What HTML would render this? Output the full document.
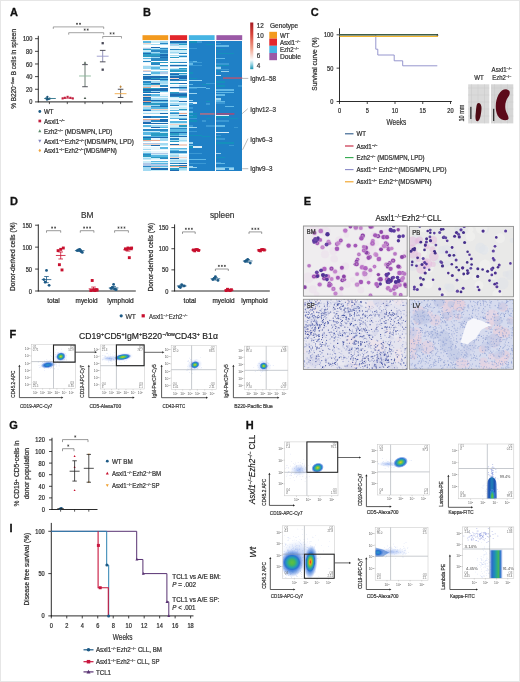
<!DOCTYPE html>
<html><head><meta charset="utf-8"><style>
html,body{margin:0;padding:0;background:#fff;}
svg{display:block;font-family:"Liberation Sans", sans-serif;will-change:transform;}
</style></head><body>
<svg width="520" height="682" viewBox="0 0 520 682" font-family='"Liberation Sans", sans-serif'>
<rect x="0" y="0" width="520" height="682" fill="#ffffff"/>
<text x="10.00" y="15.80" font-size="11.0" fill="#111" stroke="#111" stroke-width="0.28" font-weight="bold">A</text>
<line x1="38.30" y1="35.80" x2="38.30" y2="102.30" stroke="#141414" stroke-width="0.9"/>
<line x1="37.90" y1="101.90" x2="132.70" y2="101.90" stroke="#141414" stroke-width="0.95"/>
<line x1="35.00" y1="101.90" x2="38.30" y2="101.90" stroke="#141414" stroke-width="0.8"/>
<text x="32.40" y="104.47" font-size="6.3" text-anchor="end" fill="#2e2e2e" stroke="#2e2e2e" stroke-width="0.22" textLength="3.15" lengthAdjust="spacingAndGlyphs">0</text>
<line x1="35.00" y1="89.26" x2="38.30" y2="89.26" stroke="#141414" stroke-width="0.8"/>
<text x="32.40" y="91.83" font-size="6.3" text-anchor="end" fill="#2e2e2e" stroke="#2e2e2e" stroke-width="0.22" textLength="6.30" lengthAdjust="spacingAndGlyphs">20</text>
<line x1="35.00" y1="76.62" x2="38.30" y2="76.62" stroke="#141414" stroke-width="0.8"/>
<text x="32.40" y="79.19" font-size="6.3" text-anchor="end" fill="#2e2e2e" stroke="#2e2e2e" stroke-width="0.22" textLength="6.30" lengthAdjust="spacingAndGlyphs">40</text>
<line x1="35.00" y1="63.98" x2="38.30" y2="63.98" stroke="#141414" stroke-width="0.8"/>
<text x="32.40" y="66.55" font-size="6.3" text-anchor="end" fill="#2e2e2e" stroke="#2e2e2e" stroke-width="0.22" textLength="6.30" lengthAdjust="spacingAndGlyphs">60</text>
<line x1="35.00" y1="51.34" x2="38.30" y2="51.34" stroke="#141414" stroke-width="0.8"/>
<text x="32.40" y="53.91" font-size="6.3" text-anchor="end" fill="#2e2e2e" stroke="#2e2e2e" stroke-width="0.22" textLength="6.30" lengthAdjust="spacingAndGlyphs">80</text>
<line x1="35.00" y1="38.70" x2="38.30" y2="38.70" stroke="#141414" stroke-width="0.8"/>
<text x="32.40" y="41.27" font-size="6.3" text-anchor="end" fill="#2e2e2e" stroke="#2e2e2e" stroke-width="0.22" textLength="9.45" lengthAdjust="spacingAndGlyphs">100</text>
<line x1="49.40" y1="101.90" x2="49.40" y2="104.10" stroke="#141414" stroke-width="0.7"/>
<line x1="67.30" y1="101.90" x2="67.30" y2="104.10" stroke="#141414" stroke-width="0.7"/>
<line x1="85.00" y1="101.90" x2="85.00" y2="104.10" stroke="#141414" stroke-width="0.7"/>
<line x1="102.70" y1="101.90" x2="102.70" y2="104.10" stroke="#141414" stroke-width="0.7"/>
<line x1="120.60" y1="101.90" x2="120.60" y2="104.10" stroke="#141414" stroke-width="0.7"/>
<text x="16.40" y="68.90" font-size="6.7" text-anchor="middle" fill="#2e2e2e" stroke="#2e2e2e" stroke-width="0.22" textLength="79.80" lengthAdjust="spacingAndGlyphs" transform="rotate(-90 16.40 68.90)">% B220<tspan font-size="62%" baseline-shift="super">−/low</tspan> B cells in spleen</text>
<circle cx="46.2" cy="98.4" r="1.1" fill="#1e5b84"/>
<circle cx="47.4" cy="96.8" r="1.1" fill="#1e5b84"/>
<circle cx="48.6" cy="99.1" r="1.1" fill="#1e5b84"/>
<circle cx="47.0" cy="99.7" r="1.1" fill="#1e5b84"/>
<circle cx="49.6" cy="98.7" r="1.1" fill="#1e5b84"/>
<line x1="44.20" y1="98.49" x2="55.80" y2="98.49" stroke="#2a7088" stroke-width="0.9"/>
<line x1="47.40" y1="99.69" x2="47.40" y2="96.53" stroke="#1a4a6a" stroke-width="0.8"/>
<rect x="61.55" y="97.37" width="2.10" height="2.10" fill="#c3203f"/>
<rect x="63.75" y="96.74" width="2.10" height="2.10" fill="#c3203f"/>
<rect x="66.55" y="95.79" width="2.10" height="2.10" fill="#c3203f"/>
<rect x="69.35" y="96.74" width="2.10" height="2.10" fill="#c3203f"/>
<rect x="71.75" y="97.37" width="2.10" height="2.10" fill="#c3203f"/>
<line x1="62.00" y1="98.23" x2="73.00" y2="98.23" stroke="#c3203f" stroke-width="0.8"/>
<path d="M85.00,61.28 L86.32,63.69 L83.68,63.69Z" fill="#4a5a50"/>
<path d="M85.00,96.67 L86.32,99.09 L83.68,99.09Z" fill="#4a5a50"/>
<line x1="85.00" y1="86.73" x2="85.00" y2="64.61" stroke="#4a5a50" stroke-width="0.8"/>
<line x1="82.20" y1="86.73" x2="87.80" y2="86.73" stroke="#3e3e48" stroke-width="0.9"/>
<line x1="82.20" y1="64.61" x2="87.80" y2="64.61" stroke="#3e3e48" stroke-width="0.9"/>
<line x1="79.10" y1="75.99" x2="90.90" y2="75.99" stroke="#8ab89a" stroke-width="0.9"/>
<rect x="101.55" y="42.04" width="2.30" height="2.30" fill="#4a4a58"/>
<rect x="101.55" y="68.52" width="2.30" height="2.30" fill="#4a4a58"/>
<line x1="102.70" y1="61.83" x2="102.70" y2="50.39" stroke="#7a7aa8" stroke-width="0.8"/>
<line x1="99.90" y1="61.83" x2="105.50" y2="61.83" stroke="#3e3e48" stroke-width="0.9"/>
<line x1="99.90" y1="50.39" x2="105.50" y2="50.39" stroke="#3e3e48" stroke-width="0.9"/>
<line x1="96.80" y1="56.21" x2="108.60" y2="56.21" stroke="#9a9acc" stroke-width="0.9"/>
<path d="M120.60,85.18 L121.75,86.73 L120.60,88.28 L119.45,86.73Z" fill="#c08a40"/>
<line x1="120.60" y1="97.48" x2="120.60" y2="89.26" stroke="#4a4a4a" stroke-width="0.8"/>
<line x1="117.80" y1="97.48" x2="123.40" y2="97.48" stroke="#3e3e48" stroke-width="0.9"/>
<line x1="117.80" y1="89.26" x2="123.40" y2="89.26" stroke="#3e3e48" stroke-width="0.9"/>
<line x1="114.70" y1="93.68" x2="126.50" y2="93.68" stroke="#f0a848" stroke-width="0.9"/>
<path d="M53.30,28.90 L53.30,26.90 L103.70,26.90 L103.70,28.90" stroke="#666" stroke-width="0.6" fill="none"/>
<path d="M77.00,22.75L77.00,24.85M76.09,23.27L77.91,24.32M76.09,24.32L77.91,23.27M80.00,22.75L80.00,24.85M79.09,23.27L80.91,24.32M79.09,24.32L80.91,23.27" stroke="#3a3a3a" stroke-width="0.65" fill="none"/>
<path d="M68.70,34.70 L68.70,32.70 L103.70,32.70 L103.70,34.70" stroke="#666" stroke-width="0.6" fill="none"/>
<path d="M84.70,28.55L84.70,30.65M83.79,29.08L85.61,30.12M83.79,30.12L85.61,29.08M87.70,28.55L87.70,30.65M86.79,29.08L88.61,30.12M86.79,30.12L88.61,29.08" stroke="#3a3a3a" stroke-width="0.65" fill="none"/>
<path d="M102.70,38.50 L102.70,36.50 L121.50,36.50 L121.50,38.50" stroke="#666" stroke-width="0.6" fill="none"/>
<path d="M110.60,32.35L110.60,34.45M109.69,32.88L111.51,33.92M109.69,33.92L111.51,32.88M113.60,32.35L113.60,34.45M112.69,32.88L114.51,33.92M112.69,33.92L114.51,32.88" stroke="#3a3a3a" stroke-width="0.65" fill="none"/>
<circle cx="39.8" cy="111.5" r="1.4" fill="#1e5b84"/>
<text x="43.90" y="114.14" font-size="6.5" fill="#2e2e2e" stroke="#2e2e2e" stroke-width="0.22" textLength="9.50" lengthAdjust="spacingAndGlyphs">WT</text>
<rect x="38.45" y="119.65" width="2.70" height="2.70" fill="#c3203f"/>
<text x="43.90" y="123.64" font-size="6.5" fill="#2e2e2e" stroke="#2e2e2e" stroke-width="0.22" textLength="21.00" lengthAdjust="spacingAndGlyphs">Asxl1<tspan font-size="62%" baseline-shift="super">−/−</tspan></text>
<path d="M39.80,129.31 L41.35,132.15 L38.25,132.15Z" fill="#5b8a6a"/>
<text x="43.90" y="133.64" font-size="6.5" fill="#2e2e2e" stroke="#2e2e2e" stroke-width="0.22" textLength="68.50" lengthAdjust="spacingAndGlyphs">Ezh2<tspan font-size="62%" baseline-shift="super">−/−</tspan> (MDS/MPN, LPD)</text>
<path d="M39.80,142.69 L41.35,139.85 L38.25,139.85Z" fill="#8384c0"/>
<text x="43.90" y="143.64" font-size="6.5" fill="#2e2e2e" stroke="#2e2e2e" stroke-width="0.22" textLength="89.90" lengthAdjust="spacingAndGlyphs">Asxl1<tspan font-size="62%" baseline-shift="super">−/−</tspan>Ezh2<tspan font-size="62%" baseline-shift="super">−/−</tspan>(MDS/MPN, LPD)</text>
<path d="M39.80,148.68 L41.15,150.50 L39.80,152.32 L38.45,150.50Z" fill="#f0a540"/>
<text x="43.90" y="153.14" font-size="6.5" fill="#2e2e2e" stroke="#2e2e2e" stroke-width="0.22" textLength="73.00" lengthAdjust="spacingAndGlyphs">Asxl1<tspan font-size="62%" baseline-shift="super">−/−</tspan>Ezh2<tspan font-size="62%" baseline-shift="super">−/−</tspan>(MDS/MPN)</text>
<text x="143.00" y="16.30" font-size="11.0" fill="#111" stroke="#111" stroke-width="0.28" font-weight="bold">B</text>
<rect x="142.50" y="35.20" width="25.70" height="4.90" fill="#f39a1e"/>
<rect x="169.90" y="35.20" width="17.20" height="4.90" fill="#e3262b"/>
<rect x="188.90" y="35.20" width="25.70" height="4.90" fill="#45b4e3"/>
<rect x="216.40" y="35.20" width="25.80" height="4.90" fill="#9b59a6"/>
<g shape-rendering="crispEdges">
<rect x="142.50" y="41.30" width="25.70" height="129.50" fill="#1a6eb4"/>
<rect x="169.90" y="41.30" width="17.20" height="129.50" fill="#1a6eb4"/>
<rect x="188.90" y="41.30" width="25.70" height="129.50" fill="#1f80c6"/>
<rect x="216.40" y="41.30" width="25.80" height="129.50" fill="#1f80c6"/>
<rect x="142.50" y="41.30" width="8.62" height="1.34" fill="#5ab8e2"/>
<rect x="151.07" y="41.30" width="8.62" height="1.34" fill="#caedf8"/>
<rect x="159.63" y="41.30" width="8.62" height="1.34" fill="#a2daf2"/>
<rect x="169.90" y="41.30" width="8.65" height="1.34" fill="#1c6cb2"/>
<rect x="178.50" y="41.30" width="8.65" height="1.34" fill="#1c6cb2"/>
<rect x="188.90" y="41.30" width="8.57" height="1.34" fill="#1490bc"/>
<rect x="197.47" y="41.30" width="4.28" height="1.34" fill="#3a98d4"/>
<rect x="142.50" y="42.59" width="8.62" height="1.34" fill="#f2d4c8"/>
<rect x="151.07" y="42.59" width="8.62" height="1.34" fill="#ffffff"/>
<rect x="159.63" y="42.59" width="8.62" height="1.34" fill="#2a88c4"/>
<rect x="142.50" y="42.59" width="25.70" height="0.50" fill="#ffffff"/>
<rect x="169.90" y="42.59" width="8.65" height="1.34" fill="#5ab8e2"/>
<rect x="178.50" y="42.59" width="8.65" height="1.34" fill="#5ab8e2"/>
<rect x="216.40" y="42.59" width="4.30" height="1.34" fill="#3a98d4"/>
<rect x="142.50" y="43.89" width="8.62" height="1.34" fill="#caedf8"/>
<rect x="151.07" y="43.89" width="8.62" height="1.34" fill="#a2daf2"/>
<rect x="159.63" y="43.89" width="8.62" height="1.34" fill="#a2daf2"/>
<rect x="169.90" y="43.89" width="8.65" height="1.34" fill="#b0c8e8"/>
<rect x="178.50" y="43.89" width="8.65" height="1.34" fill="#2a9cc4"/>
<rect x="169.90" y="43.89" width="17.20" height="0.50" fill="#ffffff"/>
<rect x="206.03" y="43.89" width="8.57" height="1.34" fill="#1490bc"/>
<rect x="142.50" y="45.18" width="8.62" height="1.34" fill="#f2d4c8"/>
<rect x="151.07" y="45.18" width="8.62" height="1.34" fill="#a2daf2"/>
<rect x="159.63" y="45.18" width="8.62" height="1.34" fill="#a2daf2"/>
<rect x="142.50" y="45.18" width="25.70" height="0.50" fill="#ffffff"/>
<rect x="169.90" y="45.18" width="8.65" height="1.34" fill="#a2daf2"/>
<rect x="178.50" y="45.18" width="8.65" height="1.34" fill="#caedf8"/>
<rect x="216.40" y="45.18" width="12.90" height="1.34" fill="#62b8e6"/>
<rect x="142.50" y="46.48" width="8.62" height="1.34" fill="#e8f6fc"/>
<rect x="151.07" y="46.48" width="8.62" height="1.34" fill="#1c6cb2"/>
<rect x="159.63" y="46.48" width="8.62" height="1.34" fill="#caedf8"/>
<rect x="142.50" y="46.48" width="25.70" height="0.50" fill="#ffffff"/>
<rect x="169.90" y="46.48" width="8.65" height="1.34" fill="#e8f6fc"/>
<rect x="178.50" y="46.48" width="8.65" height="1.34" fill="#caedf8"/>
<rect x="142.50" y="47.77" width="8.62" height="1.34" fill="#b0c8e8"/>
<rect x="151.07" y="47.77" width="8.62" height="1.34" fill="#caedf8"/>
<rect x="159.63" y="47.77" width="8.62" height="1.34" fill="#2a88c4"/>
<rect x="169.90" y="47.77" width="8.65" height="1.34" fill="#e8f6fc"/>
<rect x="178.50" y="47.77" width="8.65" height="1.34" fill="#ffffff"/>
<rect x="188.90" y="47.77" width="8.57" height="1.34" fill="#3a98d4"/>
<rect x="142.50" y="49.07" width="8.62" height="1.34" fill="#2a9cc4"/>
<rect x="151.07" y="49.07" width="8.62" height="1.34" fill="#5ab8e2"/>
<rect x="159.63" y="49.07" width="8.62" height="1.34" fill="#5ab8e2"/>
<rect x="169.90" y="49.07" width="8.65" height="1.34" fill="#2a88c4"/>
<rect x="178.50" y="49.07" width="8.65" height="1.34" fill="#2a9cc4"/>
<rect x="216.40" y="49.07" width="8.60" height="1.34" fill="#1490bc"/>
<rect x="142.50" y="50.36" width="8.62" height="1.34" fill="#caedf8"/>
<rect x="151.07" y="50.36" width="8.62" height="1.34" fill="#2a88c4"/>
<rect x="159.63" y="50.36" width="8.62" height="1.34" fill="#2a88c4"/>
<rect x="169.90" y="50.36" width="8.65" height="1.34" fill="#caedf8"/>
<rect x="178.50" y="50.36" width="8.65" height="1.34" fill="#caedf8"/>
<rect x="142.50" y="51.66" width="8.62" height="1.34" fill="#5ab8e2"/>
<rect x="151.07" y="51.66" width="8.62" height="1.34" fill="#a2daf2"/>
<rect x="159.63" y="51.66" width="8.62" height="1.34" fill="#2a88c4"/>
<rect x="169.90" y="51.66" width="8.65" height="1.34" fill="#a2daf2"/>
<rect x="178.50" y="51.66" width="8.65" height="1.34" fill="#caedf8"/>
<rect x="169.90" y="51.66" width="17.20" height="0.50" fill="#ffffff"/>
<rect x="142.50" y="52.95" width="8.62" height="1.34" fill="#1c6cb2"/>
<rect x="151.07" y="52.95" width="8.62" height="1.34" fill="#5ab8e2"/>
<rect x="159.63" y="52.95" width="8.62" height="1.34" fill="#5ab8e2"/>
<rect x="169.90" y="52.95" width="8.65" height="1.34" fill="#caedf8"/>
<rect x="178.50" y="52.95" width="8.65" height="1.34" fill="#2a88c4"/>
<rect x="216.40" y="52.95" width="17.20" height="1.34" fill="#1490bc"/>
<rect x="142.50" y="54.25" width="8.62" height="1.34" fill="#2a9cc4"/>
<rect x="151.07" y="54.25" width="8.62" height="1.34" fill="#2a9cc4"/>
<rect x="159.63" y="54.25" width="8.62" height="1.34" fill="#1c6cb2"/>
<rect x="169.90" y="54.25" width="8.65" height="1.34" fill="#a2daf2"/>
<rect x="178.50" y="54.25" width="8.65" height="1.34" fill="#a2daf2"/>
<rect x="169.90" y="54.25" width="17.20" height="0.50" fill="#ffffff"/>
<rect x="142.50" y="55.54" width="8.62" height="1.34" fill="#2a9cc4"/>
<rect x="151.07" y="55.54" width="8.62" height="1.34" fill="#2a88c4"/>
<rect x="159.63" y="55.54" width="8.62" height="1.34" fill="#2a88c4"/>
<rect x="169.90" y="55.54" width="8.65" height="1.34" fill="#e8f6fc"/>
<rect x="178.50" y="55.54" width="8.65" height="1.34" fill="#2a88c4"/>
<rect x="142.50" y="56.84" width="8.62" height="1.34" fill="#e8f6fc"/>
<rect x="151.07" y="56.84" width="8.62" height="1.34" fill="#a2daf2"/>
<rect x="159.63" y="56.84" width="8.62" height="1.34" fill="#1c6cb2"/>
<rect x="142.50" y="56.84" width="25.70" height="0.50" fill="#ffffff"/>
<rect x="169.90" y="56.84" width="8.65" height="1.34" fill="#2a9cc4"/>
<rect x="178.50" y="56.84" width="8.65" height="1.34" fill="#caedf8"/>
<rect x="142.50" y="58.13" width="8.62" height="1.34" fill="#5ab8e2"/>
<rect x="151.07" y="58.13" width="8.62" height="1.34" fill="#2a88c4"/>
<rect x="159.63" y="58.13" width="8.62" height="1.34" fill="#2a88c4"/>
<rect x="169.90" y="58.13" width="8.65" height="1.34" fill="#ffffff"/>
<rect x="178.50" y="58.13" width="8.65" height="1.34" fill="#ffffff"/>
<rect x="216.40" y="58.13" width="8.60" height="1.34" fill="#62b8e6"/>
<rect x="142.50" y="59.43" width="8.62" height="1.34" fill="#e8f6fc"/>
<rect x="151.07" y="59.43" width="8.62" height="1.34" fill="#2a88c4"/>
<rect x="159.63" y="59.43" width="8.62" height="1.34" fill="#2a88c4"/>
<rect x="169.90" y="59.43" width="8.65" height="1.34" fill="#e8f6fc"/>
<rect x="178.50" y="59.43" width="8.65" height="1.34" fill="#e8f6fc"/>
<rect x="142.50" y="60.72" width="8.62" height="1.34" fill="#2a88c4"/>
<rect x="151.07" y="60.72" width="8.62" height="1.34" fill="#ffffff"/>
<rect x="159.63" y="60.72" width="8.62" height="1.34" fill="#ffffff"/>
<rect x="142.50" y="60.72" width="25.70" height="0.50" fill="#ffffff"/>
<rect x="169.90" y="60.72" width="8.65" height="1.34" fill="#e8f6fc"/>
<rect x="178.50" y="60.72" width="8.65" height="1.34" fill="#e8f6fc"/>
<rect x="188.90" y="60.72" width="4.28" height="1.34" fill="#3a98d4"/>
<rect x="193.18" y="60.72" width="4.28" height="1.34" fill="#62b8e6"/>
<rect x="142.50" y="62.02" width="8.62" height="1.34" fill="#e8f6fc"/>
<rect x="151.07" y="62.02" width="8.62" height="1.34" fill="#2a9cc4"/>
<rect x="159.63" y="62.02" width="8.62" height="1.34" fill="#2a9cc4"/>
<rect x="169.90" y="62.02" width="8.65" height="1.34" fill="#2a9cc4"/>
<rect x="178.50" y="62.02" width="8.65" height="1.34" fill="#2a88c4"/>
<rect x="188.90" y="62.02" width="12.85" height="1.34" fill="#3a98d4"/>
<rect x="142.50" y="63.31" width="8.62" height="1.34" fill="#ffffff"/>
<rect x="151.07" y="63.31" width="8.62" height="1.34" fill="#2a88c4"/>
<rect x="159.63" y="63.31" width="8.62" height="1.34" fill="#ffffff"/>
<rect x="169.90" y="63.31" width="8.65" height="1.34" fill="#caedf8"/>
<rect x="178.50" y="63.31" width="8.65" height="1.34" fill="#caedf8"/>
<rect x="169.90" y="63.31" width="17.20" height="0.50" fill="#ffffff"/>
<rect x="188.90" y="63.31" width="4.28" height="1.34" fill="#62b8e6"/>
<rect x="216.40" y="63.31" width="12.90" height="1.34" fill="#3a98d4"/>
<rect x="142.50" y="64.61" width="8.62" height="1.34" fill="#e8f6fc"/>
<rect x="151.07" y="64.61" width="8.62" height="1.34" fill="#e8f6fc"/>
<rect x="159.63" y="64.61" width="8.62" height="1.34" fill="#2a88c4"/>
<rect x="142.50" y="64.61" width="25.70" height="0.50" fill="#ffffff"/>
<rect x="169.90" y="64.61" width="8.65" height="1.34" fill="#1c6cb2"/>
<rect x="178.50" y="64.61" width="8.65" height="1.34" fill="#1c6cb2"/>
<rect x="188.90" y="64.61" width="12.85" height="1.34" fill="#3a98d4"/>
<rect x="216.40" y="64.61" width="12.90" height="1.34" fill="#1490bc"/>
<rect x="142.50" y="65.91" width="8.62" height="1.34" fill="#a2daf2"/>
<rect x="151.07" y="65.91" width="8.62" height="1.34" fill="#a2daf2"/>
<rect x="159.63" y="65.91" width="8.62" height="1.34" fill="#a2daf2"/>
<rect x="169.90" y="65.91" width="8.65" height="1.34" fill="#b0c8e8"/>
<rect x="178.50" y="65.91" width="8.65" height="1.34" fill="#a2daf2"/>
<rect x="216.40" y="65.91" width="4.30" height="1.34" fill="#3a98d4"/>
<rect x="142.50" y="67.20" width="8.62" height="1.34" fill="#a2daf2"/>
<rect x="151.07" y="67.20" width="8.62" height="1.34" fill="#5ab8e2"/>
<rect x="159.63" y="67.20" width="8.62" height="1.34" fill="#e8f6fc"/>
<rect x="169.90" y="67.20" width="8.65" height="1.34" fill="#caedf8"/>
<rect x="178.50" y="67.20" width="8.65" height="1.34" fill="#2a9cc4"/>
<rect x="169.90" y="67.20" width="17.20" height="0.50" fill="#ffffff"/>
<rect x="216.40" y="67.20" width="4.30" height="1.34" fill="#9ad3ef"/>
<rect x="142.50" y="68.50" width="8.62" height="1.34" fill="#ffffff"/>
<rect x="151.07" y="68.50" width="8.62" height="1.34" fill="#a2daf2"/>
<rect x="159.63" y="68.50" width="8.62" height="1.34" fill="#5ab8e2"/>
<rect x="169.90" y="68.50" width="8.65" height="1.34" fill="#5ab8e2"/>
<rect x="178.50" y="68.50" width="8.65" height="1.34" fill="#5ab8e2"/>
<rect x="169.90" y="68.50" width="17.20" height="0.50" fill="#ffffff"/>
<rect x="216.40" y="68.50" width="12.90" height="1.34" fill="#3a98d4"/>
<rect x="142.50" y="69.79" width="8.62" height="1.34" fill="#f2d4c8"/>
<rect x="151.07" y="69.79" width="8.62" height="1.34" fill="#ffffff"/>
<rect x="159.63" y="69.79" width="8.62" height="1.34" fill="#ffffff"/>
<rect x="142.50" y="69.79" width="25.70" height="0.50" fill="#ffffff"/>
<rect x="169.90" y="69.79" width="8.65" height="1.34" fill="#2a9cc4"/>
<rect x="178.50" y="69.79" width="8.65" height="1.34" fill="#2a9cc4"/>
<rect x="142.50" y="71.08" width="8.62" height="1.34" fill="#b0c8e8"/>
<rect x="151.07" y="71.08" width="8.62" height="1.34" fill="#a2daf2"/>
<rect x="159.63" y="71.08" width="8.62" height="1.34" fill="#a2daf2"/>
<rect x="169.90" y="71.08" width="8.65" height="1.34" fill="#2a9cc4"/>
<rect x="178.50" y="71.08" width="8.65" height="1.34" fill="#2a9cc4"/>
<rect x="216.40" y="71.08" width="8.60" height="1.34" fill="#1490bc"/>
<rect x="220.70" y="71.08" width="8.60" height="1.34" fill="#9ad3ef"/>
<rect x="142.50" y="72.38" width="8.62" height="1.34" fill="#ffffff"/>
<rect x="151.07" y="72.38" width="8.62" height="1.34" fill="#5ab8e2"/>
<rect x="159.63" y="72.38" width="8.62" height="1.34" fill="#b0c8e8"/>
<rect x="169.90" y="72.38" width="8.65" height="1.34" fill="#2a88c4"/>
<rect x="178.50" y="72.38" width="8.65" height="1.34" fill="#2a9cc4"/>
<rect x="169.90" y="72.38" width="17.20" height="0.50" fill="#ffffff"/>
<rect x="188.90" y="72.38" width="4.28" height="1.34" fill="#1490bc"/>
<rect x="142.50" y="73.67" width="8.62" height="1.34" fill="#2a88c4"/>
<rect x="151.07" y="73.67" width="8.62" height="1.34" fill="#caedf8"/>
<rect x="159.63" y="73.67" width="8.62" height="1.34" fill="#e8f6fc"/>
<rect x="169.90" y="73.67" width="8.65" height="1.34" fill="#1c6cb2"/>
<rect x="178.50" y="73.67" width="8.65" height="1.34" fill="#a2daf2"/>
<rect x="142.50" y="74.97" width="8.62" height="1.34" fill="#caedf8"/>
<rect x="151.07" y="74.97" width="8.62" height="1.34" fill="#caedf8"/>
<rect x="159.63" y="74.97" width="8.62" height="1.34" fill="#ffffff"/>
<rect x="169.90" y="74.97" width="8.65" height="1.34" fill="#5ab8e2"/>
<rect x="178.50" y="74.97" width="8.65" height="1.34" fill="#2a88c4"/>
<rect x="216.40" y="74.97" width="4.30" height="1.34" fill="#d8eef8"/>
<rect x="142.50" y="76.26" width="8.62" height="1.34" fill="#1c6cb2"/>
<rect x="151.07" y="76.26" width="8.62" height="1.34" fill="#1c6cb2"/>
<rect x="159.63" y="76.26" width="8.62" height="1.34" fill="#1c6cb2"/>
<rect x="169.90" y="76.26" width="8.65" height="1.34" fill="#1c6cb2"/>
<rect x="178.50" y="76.26" width="8.65" height="1.34" fill="#1c6cb2"/>
<rect x="142.50" y="77.56" width="8.62" height="1.34" fill="#1c6cb2"/>
<rect x="151.07" y="77.56" width="8.62" height="1.34" fill="#2a9cc4"/>
<rect x="159.63" y="77.56" width="8.62" height="1.34" fill="#5ab8e2"/>
<rect x="169.90" y="77.56" width="8.65" height="1.34" fill="#f2d4c8"/>
<rect x="178.50" y="77.56" width="8.65" height="1.34" fill="#1c6cb2"/>
<rect x="188.90" y="77.56" width="8.57" height="1.34" fill="#1490bc"/>
<rect x="142.50" y="78.85" width="8.62" height="1.34" fill="#2a88c4"/>
<rect x="151.07" y="78.85" width="8.62" height="1.34" fill="#1c6cb2"/>
<rect x="159.63" y="78.85" width="8.62" height="1.34" fill="#1c6cb2"/>
<rect x="169.90" y="78.85" width="8.65" height="1.34" fill="#1c6cb2"/>
<rect x="178.50" y="78.85" width="8.65" height="1.34" fill="#5ab8e2"/>
<rect x="142.50" y="80.15" width="8.62" height="1.34" fill="#e8f6fc"/>
<rect x="151.07" y="80.15" width="8.62" height="1.34" fill="#e8f6fc"/>
<rect x="159.63" y="80.15" width="8.62" height="1.34" fill="#5ab8e2"/>
<rect x="169.90" y="80.15" width="8.65" height="1.34" fill="#2a88c4"/>
<rect x="178.50" y="80.15" width="8.65" height="1.34" fill="#2a88c4"/>
<rect x="188.90" y="80.15" width="12.85" height="1.34" fill="#9ad3ef"/>
<rect x="142.50" y="81.44" width="8.62" height="1.34" fill="#2a88c4"/>
<rect x="151.07" y="81.44" width="8.62" height="1.34" fill="#a2daf2"/>
<rect x="159.63" y="81.44" width="8.62" height="1.34" fill="#a2daf2"/>
<rect x="169.90" y="81.44" width="8.65" height="1.34" fill="#e8f6fc"/>
<rect x="178.50" y="81.44" width="8.65" height="1.34" fill="#ffffff"/>
<rect x="216.40" y="81.44" width="8.60" height="1.34" fill="#1490bc"/>
<rect x="142.50" y="82.74" width="8.62" height="1.34" fill="#5ab8e2"/>
<rect x="151.07" y="82.74" width="8.62" height="1.34" fill="#1c6cb2"/>
<rect x="159.63" y="82.74" width="8.62" height="1.34" fill="#a2daf2"/>
<rect x="169.90" y="82.74" width="8.65" height="1.34" fill="#2a9cc4"/>
<rect x="178.50" y="82.74" width="8.65" height="1.34" fill="#1c6cb2"/>
<rect x="206.03" y="82.74" width="8.57" height="1.34" fill="#3a98d4"/>
<rect x="142.50" y="84.03" width="8.62" height="1.34" fill="#2a9cc4"/>
<rect x="151.07" y="84.03" width="8.62" height="1.34" fill="#2a9cc4"/>
<rect x="159.63" y="84.03" width="8.62" height="1.34" fill="#caedf8"/>
<rect x="169.90" y="84.03" width="8.65" height="1.34" fill="#ffffff"/>
<rect x="178.50" y="84.03" width="8.65" height="1.34" fill="#ffffff"/>
<rect x="188.90" y="84.03" width="4.28" height="1.34" fill="#62b8e6"/>
<rect x="201.75" y="84.03" width="8.57" height="1.34" fill="#1490bc"/>
<rect x="142.50" y="85.33" width="8.62" height="1.34" fill="#a2daf2"/>
<rect x="151.07" y="85.33" width="8.62" height="1.34" fill="#f2d4c8"/>
<rect x="159.63" y="85.33" width="8.62" height="1.34" fill="#2a88c4"/>
<rect x="169.90" y="85.33" width="8.65" height="1.34" fill="#e8f6fc"/>
<rect x="178.50" y="85.33" width="8.65" height="1.34" fill="#a2daf2"/>
<rect x="216.40" y="85.33" width="8.60" height="1.34" fill="#1490bc"/>
<rect x="237.90" y="85.33" width="4.30" height="1.34" fill="#3a98d4"/>
<rect x="142.50" y="86.62" width="8.62" height="1.34" fill="#e8a890"/>
<rect x="151.07" y="86.62" width="8.62" height="1.34" fill="#ffffff"/>
<rect x="159.63" y="86.62" width="8.62" height="1.34" fill="#ffffff"/>
<rect x="142.50" y="86.62" width="25.70" height="0.50" fill="#ffffff"/>
<rect x="169.90" y="86.62" width="8.65" height="1.34" fill="#1c6cb2"/>
<rect x="178.50" y="86.62" width="8.65" height="1.34" fill="#1c6cb2"/>
<rect x="188.90" y="86.62" width="17.13" height="1.34" fill="#62b8e6"/>
<rect x="142.50" y="87.92" width="8.62" height="1.34" fill="#2a9cc4"/>
<rect x="151.07" y="87.92" width="8.62" height="1.34" fill="#2a9cc4"/>
<rect x="159.63" y="87.92" width="8.62" height="1.34" fill="#1c6cb2"/>
<rect x="142.50" y="87.92" width="25.70" height="0.50" fill="#ffffff"/>
<rect x="169.90" y="87.92" width="8.65" height="1.34" fill="#a2daf2"/>
<rect x="178.50" y="87.92" width="8.65" height="1.34" fill="#5ab8e2"/>
<rect x="169.90" y="87.92" width="17.20" height="0.50" fill="#ffffff"/>
<rect x="188.90" y="87.92" width="8.57" height="1.34" fill="#3a98d4"/>
<rect x="206.03" y="87.92" width="4.28" height="1.34" fill="#62b8e6"/>
<rect x="142.50" y="89.22" width="8.62" height="1.34" fill="#1c6cb2"/>
<rect x="151.07" y="89.22" width="8.62" height="1.34" fill="#1c6cb2"/>
<rect x="159.63" y="89.22" width="8.62" height="1.34" fill="#1c6cb2"/>
<rect x="169.90" y="89.22" width="8.65" height="1.34" fill="#ffffff"/>
<rect x="178.50" y="89.22" width="8.65" height="1.34" fill="#b0c8e8"/>
<rect x="216.40" y="89.22" width="17.20" height="1.34" fill="#62b8e6"/>
<rect x="142.50" y="90.51" width="8.62" height="1.34" fill="#2a9cc4"/>
<rect x="151.07" y="90.51" width="8.62" height="1.34" fill="#a2daf2"/>
<rect x="159.63" y="90.51" width="8.62" height="1.34" fill="#5ab8e2"/>
<rect x="169.90" y="90.51" width="8.65" height="1.34" fill="#ffffff"/>
<rect x="178.50" y="90.51" width="8.65" height="1.34" fill="#ffffff"/>
<rect x="142.50" y="91.80" width="8.62" height="1.34" fill="#1c6cb2"/>
<rect x="151.07" y="91.80" width="8.62" height="1.34" fill="#1c6cb2"/>
<rect x="159.63" y="91.80" width="8.62" height="1.34" fill="#e8f6fc"/>
<rect x="169.90" y="91.80" width="8.65" height="1.34" fill="#2a9cc4"/>
<rect x="178.50" y="91.80" width="8.65" height="1.34" fill="#b0c8e8"/>
<rect x="169.90" y="91.80" width="17.20" height="0.50" fill="#ffffff"/>
<rect x="216.40" y="91.80" width="17.20" height="1.34" fill="#62b8e6"/>
<rect x="142.50" y="93.10" width="8.62" height="1.34" fill="#caedf8"/>
<rect x="151.07" y="93.10" width="8.62" height="1.34" fill="#a2daf2"/>
<rect x="159.63" y="93.10" width="8.62" height="1.34" fill="#2a88c4"/>
<rect x="142.50" y="93.10" width="25.70" height="0.50" fill="#ffffff"/>
<rect x="169.90" y="93.10" width="8.65" height="1.34" fill="#2a88c4"/>
<rect x="178.50" y="93.10" width="8.65" height="1.34" fill="#2a88c4"/>
<rect x="188.90" y="93.10" width="8.57" height="1.34" fill="#9ad3ef"/>
<rect x="142.50" y="94.39" width="8.62" height="1.34" fill="#2a88c4"/>
<rect x="151.07" y="94.39" width="8.62" height="1.34" fill="#5ab8e2"/>
<rect x="159.63" y="94.39" width="8.62" height="1.34" fill="#e8f6fc"/>
<rect x="169.90" y="94.39" width="8.65" height="1.34" fill="#1c6cb2"/>
<rect x="178.50" y="94.39" width="8.65" height="1.34" fill="#1c6cb2"/>
<rect x="216.40" y="94.39" width="8.60" height="1.34" fill="#62b8e6"/>
<rect x="142.50" y="95.69" width="8.62" height="1.34" fill="#f2d4c8"/>
<rect x="151.07" y="95.69" width="8.62" height="1.34" fill="#a2daf2"/>
<rect x="159.63" y="95.69" width="8.62" height="1.34" fill="#a2daf2"/>
<rect x="169.90" y="95.69" width="8.65" height="1.34" fill="#2a88c4"/>
<rect x="178.50" y="95.69" width="8.65" height="1.34" fill="#2a9cc4"/>
<rect x="142.50" y="96.98" width="8.62" height="1.34" fill="#1c6cb2"/>
<rect x="151.07" y="96.98" width="8.62" height="1.34" fill="#e8f6fc"/>
<rect x="159.63" y="96.98" width="8.62" height="1.34" fill="#e8f6fc"/>
<rect x="169.90" y="96.98" width="8.65" height="1.34" fill="#caedf8"/>
<rect x="178.50" y="96.98" width="8.65" height="1.34" fill="#5ab8e2"/>
<rect x="142.50" y="98.28" width="8.62" height="1.34" fill="#2a88c4"/>
<rect x="151.07" y="98.28" width="8.62" height="1.34" fill="#a2daf2"/>
<rect x="159.63" y="98.28" width="8.62" height="1.34" fill="#a2daf2"/>
<rect x="169.90" y="98.28" width="8.65" height="1.34" fill="#e8f6fc"/>
<rect x="178.50" y="98.28" width="8.65" height="1.34" fill="#e8f6fc"/>
<rect x="216.40" y="98.28" width="4.30" height="1.34" fill="#9ad3ef"/>
<rect x="142.50" y="99.57" width="8.62" height="1.34" fill="#1c6cb2"/>
<rect x="151.07" y="99.57" width="8.62" height="1.34" fill="#1c6cb2"/>
<rect x="159.63" y="99.57" width="8.62" height="1.34" fill="#1c6cb2"/>
<rect x="169.90" y="99.57" width="8.65" height="1.34" fill="#a2daf2"/>
<rect x="178.50" y="99.57" width="8.65" height="1.34" fill="#e8f6fc"/>
<rect x="169.90" y="99.57" width="17.20" height="0.50" fill="#ffffff"/>
<rect x="188.90" y="99.57" width="4.28" height="1.34" fill="#9ad3ef"/>
<rect x="216.40" y="99.57" width="4.30" height="1.34" fill="#62b8e6"/>
<rect x="142.50" y="100.87" width="8.62" height="1.34" fill="#e8a890"/>
<rect x="151.07" y="100.87" width="8.62" height="1.34" fill="#5ab8e2"/>
<rect x="159.63" y="100.87" width="8.62" height="1.34" fill="#5ab8e2"/>
<rect x="169.90" y="100.87" width="8.65" height="1.34" fill="#a2daf2"/>
<rect x="178.50" y="100.87" width="8.65" height="1.34" fill="#1c6cb2"/>
<rect x="206.03" y="100.87" width="4.28" height="1.34" fill="#1490bc"/>
<rect x="216.40" y="100.87" width="8.60" height="1.34" fill="#62b8e6"/>
<rect x="142.50" y="102.16" width="8.62" height="1.34" fill="#1c6cb2"/>
<rect x="151.07" y="102.16" width="8.62" height="1.34" fill="#a2daf2"/>
<rect x="159.63" y="102.16" width="8.62" height="1.34" fill="#a2daf2"/>
<rect x="169.90" y="102.16" width="8.65" height="1.34" fill="#e8f6fc"/>
<rect x="178.50" y="102.16" width="8.65" height="1.34" fill="#e8f6fc"/>
<rect x="188.90" y="102.16" width="8.57" height="1.34" fill="#d8eef8"/>
<rect x="216.40" y="102.16" width="8.60" height="1.34" fill="#3a98d4"/>
<rect x="142.50" y="103.46" width="8.62" height="1.34" fill="#2a9cc4"/>
<rect x="151.07" y="103.46" width="8.62" height="1.34" fill="#2a9cc4"/>
<rect x="159.63" y="103.46" width="8.62" height="1.34" fill="#2a88c4"/>
<rect x="169.90" y="103.46" width="8.65" height="1.34" fill="#a2daf2"/>
<rect x="178.50" y="103.46" width="8.65" height="1.34" fill="#a2daf2"/>
<rect x="188.90" y="103.46" width="4.28" height="1.34" fill="#3a98d4"/>
<rect x="206.03" y="103.46" width="4.28" height="1.34" fill="#3a98d4"/>
<rect x="142.50" y="104.75" width="8.62" height="1.34" fill="#a2daf2"/>
<rect x="151.07" y="104.75" width="8.62" height="1.34" fill="#a2daf2"/>
<rect x="159.63" y="104.75" width="8.62" height="1.34" fill="#2a88c4"/>
<rect x="142.50" y="104.75" width="25.70" height="0.50" fill="#ffffff"/>
<rect x="169.90" y="104.75" width="8.65" height="1.34" fill="#2a88c4"/>
<rect x="178.50" y="104.75" width="8.65" height="1.34" fill="#caedf8"/>
<rect x="142.50" y="106.05" width="8.62" height="1.34" fill="#f2d4c8"/>
<rect x="151.07" y="106.05" width="8.62" height="1.34" fill="#2a88c4"/>
<rect x="159.63" y="106.05" width="8.62" height="1.34" fill="#1c6cb2"/>
<rect x="169.90" y="106.05" width="8.65" height="1.34" fill="#ffffff"/>
<rect x="178.50" y="106.05" width="8.65" height="1.34" fill="#e8f6fc"/>
<rect x="225.00" y="106.05" width="8.60" height="1.34" fill="#62b8e6"/>
<rect x="142.50" y="107.34" width="8.62" height="1.34" fill="#a2daf2"/>
<rect x="151.07" y="107.34" width="8.62" height="1.34" fill="#5ab8e2"/>
<rect x="159.63" y="107.34" width="8.62" height="1.34" fill="#5ab8e2"/>
<rect x="169.90" y="107.34" width="8.65" height="1.34" fill="#caedf8"/>
<rect x="178.50" y="107.34" width="8.65" height="1.34" fill="#caedf8"/>
<rect x="188.90" y="107.34" width="4.28" height="1.34" fill="#3a98d4"/>
<rect x="142.50" y="108.64" width="8.62" height="1.34" fill="#5ab8e2"/>
<rect x="151.07" y="108.64" width="8.62" height="1.34" fill="#f2d4c8"/>
<rect x="159.63" y="108.64" width="8.62" height="1.34" fill="#f2d4c8"/>
<rect x="169.90" y="108.64" width="8.65" height="1.34" fill="#e8f6fc"/>
<rect x="178.50" y="108.64" width="8.65" height="1.34" fill="#2a9cc4"/>
<rect x="169.90" y="108.64" width="17.20" height="0.50" fill="#ffffff"/>
<rect x="142.50" y="109.93" width="8.62" height="1.34" fill="#1c6cb2"/>
<rect x="151.07" y="109.93" width="8.62" height="1.34" fill="#a2daf2"/>
<rect x="159.63" y="109.93" width="8.62" height="1.34" fill="#a2daf2"/>
<rect x="169.90" y="109.93" width="8.65" height="1.34" fill="#5ab8e2"/>
<rect x="178.50" y="109.93" width="8.65" height="1.34" fill="#a2daf2"/>
<rect x="142.50" y="111.23" width="8.62" height="1.34" fill="#e8f6fc"/>
<rect x="151.07" y="111.23" width="8.62" height="1.34" fill="#e8f6fc"/>
<rect x="159.63" y="111.23" width="8.62" height="1.34" fill="#e8f6fc"/>
<rect x="169.90" y="111.23" width="8.65" height="1.34" fill="#5ab8e2"/>
<rect x="178.50" y="111.23" width="8.65" height="1.34" fill="#e8f6fc"/>
<rect x="169.90" y="111.23" width="17.20" height="0.50" fill="#ffffff"/>
<rect x="188.90" y="111.23" width="4.28" height="1.34" fill="#62b8e6"/>
<rect x="142.50" y="112.52" width="8.62" height="1.34" fill="#a2daf2"/>
<rect x="151.07" y="112.52" width="8.62" height="1.34" fill="#a2daf2"/>
<rect x="159.63" y="112.52" width="8.62" height="1.34" fill="#1c6cb2"/>
<rect x="169.90" y="112.52" width="8.65" height="1.34" fill="#2a88c4"/>
<rect x="178.50" y="112.52" width="8.65" height="1.34" fill="#e8a890"/>
<rect x="188.90" y="112.52" width="8.57" height="1.34" fill="#1490bc"/>
<rect x="142.50" y="113.82" width="8.62" height="1.34" fill="#ffffff"/>
<rect x="151.07" y="113.82" width="8.62" height="1.34" fill="#ffffff"/>
<rect x="159.63" y="113.82" width="8.62" height="1.34" fill="#ffffff"/>
<rect x="169.90" y="113.82" width="8.65" height="1.34" fill="#caedf8"/>
<rect x="178.50" y="113.82" width="8.65" height="1.34" fill="#e8f6fc"/>
<rect x="188.90" y="113.82" width="4.28" height="1.34" fill="#1490bc"/>
<rect x="142.50" y="115.11" width="8.62" height="1.34" fill="#1c6cb2"/>
<rect x="151.07" y="115.11" width="8.62" height="1.34" fill="#2a9cc4"/>
<rect x="159.63" y="115.11" width="8.62" height="1.34" fill="#caedf8"/>
<rect x="142.50" y="115.11" width="25.70" height="0.50" fill="#ffffff"/>
<rect x="169.90" y="115.11" width="8.65" height="1.34" fill="#a2daf2"/>
<rect x="178.50" y="115.11" width="8.65" height="1.34" fill="#1c6cb2"/>
<rect x="188.90" y="115.11" width="8.57" height="1.34" fill="#3a98d4"/>
<rect x="193.18" y="115.11" width="4.28" height="1.34" fill="#1490bc"/>
<rect x="216.40" y="115.11" width="12.90" height="1.34" fill="#d8eef8"/>
<rect x="142.50" y="116.41" width="8.62" height="1.34" fill="#1c6cb2"/>
<rect x="151.07" y="116.41" width="8.62" height="1.34" fill="#2a88c4"/>
<rect x="159.63" y="116.41" width="8.62" height="1.34" fill="#2a88c4"/>
<rect x="169.90" y="116.41" width="8.65" height="1.34" fill="#caedf8"/>
<rect x="178.50" y="116.41" width="8.65" height="1.34" fill="#caedf8"/>
<rect x="188.90" y="116.41" width="8.57" height="1.34" fill="#1490bc"/>
<rect x="216.40" y="116.41" width="12.90" height="1.34" fill="#1490bc"/>
<rect x="142.50" y="117.70" width="8.62" height="1.34" fill="#ffffff"/>
<rect x="151.07" y="117.70" width="8.62" height="1.34" fill="#ffffff"/>
<rect x="159.63" y="117.70" width="8.62" height="1.34" fill="#ffffff"/>
<rect x="169.90" y="117.70" width="8.65" height="1.34" fill="#5ab8e2"/>
<rect x="178.50" y="117.70" width="8.65" height="1.34" fill="#5ab8e2"/>
<rect x="169.90" y="117.70" width="17.20" height="0.50" fill="#ffffff"/>
<rect x="188.90" y="117.70" width="8.57" height="1.34" fill="#3a98d4"/>
<rect x="206.03" y="117.70" width="4.28" height="1.34" fill="#1490bc"/>
<rect x="229.30" y="117.70" width="8.60" height="1.34" fill="#1490bc"/>
<rect x="142.50" y="119.00" width="8.62" height="1.34" fill="#e8a890"/>
<rect x="151.07" y="119.00" width="8.62" height="1.34" fill="#e8a890"/>
<rect x="159.63" y="119.00" width="8.62" height="1.34" fill="#1c6cb2"/>
<rect x="169.90" y="119.00" width="8.65" height="1.34" fill="#ffffff"/>
<rect x="178.50" y="119.00" width="8.65" height="1.34" fill="#1c6cb2"/>
<rect x="142.50" y="120.29" width="8.62" height="1.34" fill="#b0c8e8"/>
<rect x="151.07" y="120.29" width="8.62" height="1.34" fill="#2a88c4"/>
<rect x="159.63" y="120.29" width="8.62" height="1.34" fill="#1c6cb2"/>
<rect x="169.90" y="120.29" width="8.65" height="1.34" fill="#5ab8e2"/>
<rect x="178.50" y="120.29" width="8.65" height="1.34" fill="#5ab8e2"/>
<rect x="169.90" y="120.29" width="17.20" height="0.50" fill="#ffffff"/>
<rect x="188.90" y="120.29" width="8.57" height="1.34" fill="#1490bc"/>
<rect x="201.75" y="120.29" width="4.28" height="1.34" fill="#3a98d4"/>
<rect x="216.40" y="120.29" width="12.90" height="1.34" fill="#3a98d4"/>
<rect x="142.50" y="121.59" width="8.62" height="1.34" fill="#1c6cb2"/>
<rect x="151.07" y="121.59" width="8.62" height="1.34" fill="#e8f6fc"/>
<rect x="159.63" y="121.59" width="8.62" height="1.34" fill="#e8f6fc"/>
<rect x="169.90" y="121.59" width="8.65" height="1.34" fill="#5ab8e2"/>
<rect x="178.50" y="121.59" width="8.65" height="1.34" fill="#5ab8e2"/>
<rect x="169.90" y="121.59" width="17.20" height="0.50" fill="#ffffff"/>
<rect x="142.50" y="122.88" width="8.62" height="1.34" fill="#1c6cb2"/>
<rect x="151.07" y="122.88" width="8.62" height="1.34" fill="#1c6cb2"/>
<rect x="159.63" y="122.88" width="8.62" height="1.34" fill="#1c6cb2"/>
<rect x="169.90" y="122.88" width="8.65" height="1.34" fill="#caedf8"/>
<rect x="178.50" y="122.88" width="8.65" height="1.34" fill="#caedf8"/>
<rect x="142.50" y="124.18" width="8.62" height="1.34" fill="#1c6cb2"/>
<rect x="151.07" y="124.18" width="8.62" height="1.34" fill="#1c6cb2"/>
<rect x="159.63" y="124.18" width="8.62" height="1.34" fill="#5ab8e2"/>
<rect x="142.50" y="124.18" width="25.70" height="0.50" fill="#ffffff"/>
<rect x="169.90" y="124.18" width="8.65" height="1.34" fill="#f2d4c8"/>
<rect x="178.50" y="124.18" width="8.65" height="1.34" fill="#f2d4c8"/>
<rect x="142.50" y="125.47" width="8.62" height="1.34" fill="#5ab8e2"/>
<rect x="151.07" y="125.47" width="8.62" height="1.34" fill="#a2daf2"/>
<rect x="159.63" y="125.47" width="8.62" height="1.34" fill="#a2daf2"/>
<rect x="169.90" y="125.47" width="8.65" height="1.34" fill="#caedf8"/>
<rect x="178.50" y="125.47" width="8.65" height="1.34" fill="#2a9cc4"/>
<rect x="188.90" y="125.47" width="4.28" height="1.34" fill="#3a98d4"/>
<rect x="206.03" y="125.47" width="8.57" height="1.34" fill="#3a98d4"/>
<rect x="216.40" y="125.47" width="8.60" height="1.34" fill="#62b8e6"/>
<rect x="142.50" y="126.77" width="8.62" height="1.34" fill="#e8f6fc"/>
<rect x="151.07" y="126.77" width="8.62" height="1.34" fill="#1c6cb2"/>
<rect x="159.63" y="126.77" width="8.62" height="1.34" fill="#5ab8e2"/>
<rect x="169.90" y="126.77" width="8.65" height="1.34" fill="#a2daf2"/>
<rect x="178.50" y="126.77" width="8.65" height="1.34" fill="#a2daf2"/>
<rect x="169.90" y="126.77" width="17.20" height="0.50" fill="#ffffff"/>
<rect x="188.90" y="126.77" width="8.57" height="1.34" fill="#9ad3ef"/>
<rect x="233.60" y="126.77" width="4.30" height="1.34" fill="#3a98d4"/>
<rect x="142.50" y="128.06" width="8.62" height="1.34" fill="#1c6cb2"/>
<rect x="151.07" y="128.06" width="8.62" height="1.34" fill="#caedf8"/>
<rect x="159.63" y="128.06" width="8.62" height="1.34" fill="#caedf8"/>
<rect x="142.50" y="128.06" width="25.70" height="0.50" fill="#ffffff"/>
<rect x="169.90" y="128.06" width="8.65" height="1.34" fill="#2a88c4"/>
<rect x="178.50" y="128.06" width="8.65" height="1.34" fill="#2a88c4"/>
<rect x="142.50" y="129.36" width="8.62" height="1.34" fill="#2a88c4"/>
<rect x="151.07" y="129.36" width="8.62" height="1.34" fill="#2a88c4"/>
<rect x="159.63" y="129.36" width="8.62" height="1.34" fill="#2a88c4"/>
<rect x="169.90" y="129.36" width="8.65" height="1.34" fill="#5ab8e2"/>
<rect x="178.50" y="129.36" width="8.65" height="1.34" fill="#5ab8e2"/>
<rect x="142.50" y="130.65" width="8.62" height="1.34" fill="#caedf8"/>
<rect x="151.07" y="130.65" width="8.62" height="1.34" fill="#caedf8"/>
<rect x="159.63" y="130.65" width="8.62" height="1.34" fill="#5ab8e2"/>
<rect x="169.90" y="130.65" width="8.65" height="1.34" fill="#5ab8e2"/>
<rect x="178.50" y="130.65" width="8.65" height="1.34" fill="#5ab8e2"/>
<rect x="188.90" y="130.65" width="8.57" height="1.34" fill="#3a98d4"/>
<rect x="142.50" y="131.95" width="8.62" height="1.34" fill="#5ab8e2"/>
<rect x="151.07" y="131.95" width="8.62" height="1.34" fill="#5ab8e2"/>
<rect x="159.63" y="131.95" width="8.62" height="1.34" fill="#caedf8"/>
<rect x="169.90" y="131.95" width="8.65" height="1.34" fill="#1c6cb2"/>
<rect x="178.50" y="131.95" width="8.65" height="1.34" fill="#1c6cb2"/>
<rect x="216.40" y="131.95" width="12.90" height="1.34" fill="#d8eef8"/>
<rect x="142.50" y="133.25" width="8.62" height="1.34" fill="#5ab8e2"/>
<rect x="151.07" y="133.25" width="8.62" height="1.34" fill="#2a9cc4"/>
<rect x="159.63" y="133.25" width="8.62" height="1.34" fill="#2a9cc4"/>
<rect x="169.90" y="133.25" width="8.65" height="1.34" fill="#2a9cc4"/>
<rect x="178.50" y="133.25" width="8.65" height="1.34" fill="#5ab8e2"/>
<rect x="142.50" y="134.54" width="8.62" height="1.34" fill="#e8f6fc"/>
<rect x="151.07" y="134.54" width="8.62" height="1.34" fill="#2a9cc4"/>
<rect x="159.63" y="134.54" width="8.62" height="1.34" fill="#2a9cc4"/>
<rect x="169.90" y="134.54" width="8.65" height="1.34" fill="#5ab8e2"/>
<rect x="178.50" y="134.54" width="8.65" height="1.34" fill="#a2daf2"/>
<rect x="188.90" y="134.54" width="12.85" height="1.34" fill="#1490bc"/>
<rect x="216.40" y="134.54" width="4.30" height="1.34" fill="#3a98d4"/>
<rect x="142.50" y="135.83" width="8.62" height="1.34" fill="#5ab8e2"/>
<rect x="151.07" y="135.83" width="8.62" height="1.34" fill="#5ab8e2"/>
<rect x="159.63" y="135.83" width="8.62" height="1.34" fill="#5ab8e2"/>
<rect x="142.50" y="135.83" width="25.70" height="0.50" fill="#ffffff"/>
<rect x="169.90" y="135.83" width="8.65" height="1.34" fill="#1c6cb2"/>
<rect x="178.50" y="135.83" width="8.65" height="1.34" fill="#1c6cb2"/>
<rect x="201.75" y="135.83" width="8.57" height="1.34" fill="#1490bc"/>
<rect x="142.50" y="137.13" width="8.62" height="1.34" fill="#1c6cb2"/>
<rect x="151.07" y="137.13" width="8.62" height="1.34" fill="#1c6cb2"/>
<rect x="159.63" y="137.13" width="8.62" height="1.34" fill="#1c6cb2"/>
<rect x="169.90" y="137.13" width="8.65" height="1.34" fill="#caedf8"/>
<rect x="178.50" y="137.13" width="8.65" height="1.34" fill="#caedf8"/>
<rect x="216.40" y="137.13" width="4.30" height="1.34" fill="#1490bc"/>
<rect x="142.50" y="138.43" width="8.62" height="1.34" fill="#2a9cc4"/>
<rect x="151.07" y="138.43" width="8.62" height="1.34" fill="#e8f6fc"/>
<rect x="159.63" y="138.43" width="8.62" height="1.34" fill="#a2daf2"/>
<rect x="169.90" y="138.43" width="8.65" height="1.34" fill="#2a88c4"/>
<rect x="178.50" y="138.43" width="8.65" height="1.34" fill="#caedf8"/>
<rect x="216.40" y="138.43" width="8.60" height="1.34" fill="#3a98d4"/>
<rect x="142.50" y="139.72" width="8.62" height="1.34" fill="#e8a890"/>
<rect x="151.07" y="139.72" width="8.62" height="1.34" fill="#e8a890"/>
<rect x="159.63" y="139.72" width="8.62" height="1.34" fill="#a2daf2"/>
<rect x="169.90" y="139.72" width="8.65" height="1.34" fill="#a2daf2"/>
<rect x="178.50" y="139.72" width="8.65" height="1.34" fill="#a2daf2"/>
<rect x="169.90" y="139.72" width="17.20" height="0.50" fill="#ffffff"/>
<rect x="142.50" y="141.01" width="8.62" height="1.34" fill="#caedf8"/>
<rect x="151.07" y="141.01" width="8.62" height="1.34" fill="#ffffff"/>
<rect x="159.63" y="141.01" width="8.62" height="1.34" fill="#ffffff"/>
<rect x="169.90" y="141.01" width="8.65" height="1.34" fill="#2a9cc4"/>
<rect x="178.50" y="141.01" width="8.65" height="1.34" fill="#caedf8"/>
<rect x="142.50" y="142.31" width="8.62" height="1.34" fill="#b0c8e8"/>
<rect x="151.07" y="142.31" width="8.62" height="1.34" fill="#b0c8e8"/>
<rect x="159.63" y="142.31" width="8.62" height="1.34" fill="#a2daf2"/>
<rect x="142.50" y="142.31" width="25.70" height="0.50" fill="#ffffff"/>
<rect x="169.90" y="142.31" width="8.65" height="1.34" fill="#ffffff"/>
<rect x="178.50" y="142.31" width="8.65" height="1.34" fill="#ffffff"/>
<rect x="188.90" y="142.31" width="4.28" height="1.34" fill="#9ad3ef"/>
<rect x="216.40" y="142.31" width="17.20" height="1.34" fill="#1490bc"/>
<rect x="142.50" y="143.60" width="8.62" height="1.34" fill="#f2d4c8"/>
<rect x="151.07" y="143.60" width="8.62" height="1.34" fill="#f2d4c8"/>
<rect x="159.63" y="143.60" width="8.62" height="1.34" fill="#a2daf2"/>
<rect x="169.90" y="143.60" width="8.65" height="1.34" fill="#1c6cb2"/>
<rect x="178.50" y="143.60" width="8.65" height="1.34" fill="#f2d4c8"/>
<rect x="142.50" y="144.90" width="8.62" height="1.34" fill="#a2daf2"/>
<rect x="151.07" y="144.90" width="8.62" height="1.34" fill="#1c6cb2"/>
<rect x="159.63" y="144.90" width="8.62" height="1.34" fill="#caedf8"/>
<rect x="142.50" y="144.90" width="25.70" height="0.50" fill="#ffffff"/>
<rect x="169.90" y="144.90" width="8.65" height="1.34" fill="#f2d4c8"/>
<rect x="178.50" y="144.90" width="8.65" height="1.34" fill="#f2d4c8"/>
<rect x="169.90" y="144.90" width="17.20" height="0.50" fill="#ffffff"/>
<rect x="188.90" y="144.90" width="4.28" height="1.34" fill="#62b8e6"/>
<rect x="229.30" y="144.90" width="4.30" height="1.34" fill="#3a98d4"/>
<rect x="142.50" y="146.19" width="8.62" height="1.34" fill="#e8f6fc"/>
<rect x="151.07" y="146.19" width="8.62" height="1.34" fill="#e8f6fc"/>
<rect x="159.63" y="146.19" width="8.62" height="1.34" fill="#e8f6fc"/>
<rect x="142.50" y="146.19" width="25.70" height="0.50" fill="#ffffff"/>
<rect x="169.90" y="146.19" width="8.65" height="1.34" fill="#ffffff"/>
<rect x="178.50" y="146.19" width="8.65" height="1.34" fill="#ffffff"/>
<rect x="188.90" y="146.19" width="4.28" height="1.34" fill="#1490bc"/>
<rect x="193.18" y="146.19" width="8.57" height="1.34" fill="#d8eef8"/>
<rect x="142.50" y="147.49" width="8.62" height="1.34" fill="#e8f6fc"/>
<rect x="151.07" y="147.49" width="8.62" height="1.34" fill="#e8f6fc"/>
<rect x="159.63" y="147.49" width="8.62" height="1.34" fill="#5ab8e2"/>
<rect x="169.90" y="147.49" width="8.65" height="1.34" fill="#5ab8e2"/>
<rect x="178.50" y="147.49" width="8.65" height="1.34" fill="#5ab8e2"/>
<rect x="169.90" y="147.49" width="17.20" height="0.50" fill="#ffffff"/>
<rect x="142.50" y="148.78" width="8.62" height="1.34" fill="#a2daf2"/>
<rect x="151.07" y="148.78" width="8.62" height="1.34" fill="#e8f6fc"/>
<rect x="159.63" y="148.78" width="8.62" height="1.34" fill="#e8f6fc"/>
<rect x="142.50" y="148.78" width="25.70" height="0.50" fill="#ffffff"/>
<rect x="169.90" y="148.78" width="8.65" height="1.34" fill="#a2daf2"/>
<rect x="178.50" y="148.78" width="8.65" height="1.34" fill="#a2daf2"/>
<rect x="169.90" y="148.78" width="17.20" height="0.50" fill="#ffffff"/>
<rect x="142.50" y="150.08" width="8.62" height="1.34" fill="#2a9cc4"/>
<rect x="151.07" y="150.08" width="8.62" height="1.34" fill="#a2daf2"/>
<rect x="159.63" y="150.08" width="8.62" height="1.34" fill="#e8f6fc"/>
<rect x="142.50" y="150.08" width="25.70" height="0.50" fill="#ffffff"/>
<rect x="169.90" y="150.08" width="8.65" height="1.34" fill="#5ab8e2"/>
<rect x="178.50" y="150.08" width="8.65" height="1.34" fill="#caedf8"/>
<rect x="142.50" y="151.38" width="8.62" height="1.34" fill="#caedf8"/>
<rect x="151.07" y="151.38" width="8.62" height="1.34" fill="#e8f6fc"/>
<rect x="159.63" y="151.38" width="8.62" height="1.34" fill="#e8f6fc"/>
<rect x="169.90" y="151.38" width="8.65" height="1.34" fill="#2a88c4"/>
<rect x="178.50" y="151.38" width="8.65" height="1.34" fill="#2a88c4"/>
<rect x="142.50" y="152.67" width="8.62" height="1.34" fill="#5ab8e2"/>
<rect x="151.07" y="152.67" width="8.62" height="1.34" fill="#b0c8e8"/>
<rect x="159.63" y="152.67" width="8.62" height="1.34" fill="#b0c8e8"/>
<rect x="169.90" y="152.67" width="8.65" height="1.34" fill="#a2daf2"/>
<rect x="178.50" y="152.67" width="8.65" height="1.34" fill="#a2daf2"/>
<rect x="188.90" y="152.67" width="12.85" height="1.34" fill="#3a98d4"/>
<rect x="216.40" y="152.67" width="4.30" height="1.34" fill="#9ad3ef"/>
<rect x="142.50" y="153.96" width="8.62" height="1.34" fill="#2a88c4"/>
<rect x="151.07" y="153.96" width="8.62" height="1.34" fill="#caedf8"/>
<rect x="159.63" y="153.96" width="8.62" height="1.34" fill="#caedf8"/>
<rect x="142.50" y="153.96" width="25.70" height="0.50" fill="#ffffff"/>
<rect x="169.90" y="153.96" width="8.65" height="1.34" fill="#caedf8"/>
<rect x="178.50" y="153.96" width="8.65" height="1.34" fill="#ffffff"/>
<rect x="142.50" y="155.26" width="8.62" height="1.34" fill="#2a9cc4"/>
<rect x="151.07" y="155.26" width="8.62" height="1.34" fill="#5ab8e2"/>
<rect x="159.63" y="155.26" width="8.62" height="1.34" fill="#5ab8e2"/>
<rect x="169.90" y="155.26" width="8.65" height="1.34" fill="#a2daf2"/>
<rect x="178.50" y="155.26" width="8.65" height="1.34" fill="#e8f6fc"/>
<rect x="142.50" y="156.56" width="8.62" height="1.34" fill="#caedf8"/>
<rect x="151.07" y="156.56" width="8.62" height="1.34" fill="#2a9cc4"/>
<rect x="159.63" y="156.56" width="8.62" height="1.34" fill="#2a9cc4"/>
<rect x="169.90" y="156.56" width="8.65" height="1.34" fill="#f2d4c8"/>
<rect x="178.50" y="156.56" width="8.65" height="1.34" fill="#f2d4c8"/>
<rect x="169.90" y="156.56" width="17.20" height="0.50" fill="#ffffff"/>
<rect x="216.40" y="156.56" width="8.60" height="1.34" fill="#1490bc"/>
<rect x="142.50" y="157.85" width="8.62" height="1.34" fill="#a2daf2"/>
<rect x="151.07" y="157.85" width="8.62" height="1.34" fill="#caedf8"/>
<rect x="159.63" y="157.85" width="8.62" height="1.34" fill="#2a88c4"/>
<rect x="169.90" y="157.85" width="8.65" height="1.34" fill="#1c6cb2"/>
<rect x="178.50" y="157.85" width="8.65" height="1.34" fill="#e8f6fc"/>
<rect x="142.50" y="159.14" width="8.62" height="1.34" fill="#caedf8"/>
<rect x="151.07" y="159.14" width="8.62" height="1.34" fill="#e8f6fc"/>
<rect x="159.63" y="159.14" width="8.62" height="1.34" fill="#e8f6fc"/>
<rect x="169.90" y="159.14" width="8.65" height="1.34" fill="#caedf8"/>
<rect x="178.50" y="159.14" width="8.65" height="1.34" fill="#caedf8"/>
<rect x="188.90" y="159.14" width="17.13" height="1.34" fill="#62b8e6"/>
<rect x="142.50" y="160.44" width="8.62" height="1.34" fill="#caedf8"/>
<rect x="151.07" y="160.44" width="8.62" height="1.34" fill="#5ab8e2"/>
<rect x="159.63" y="160.44" width="8.62" height="1.34" fill="#5ab8e2"/>
<rect x="142.50" y="160.44" width="25.70" height="0.50" fill="#ffffff"/>
<rect x="169.90" y="160.44" width="8.65" height="1.34" fill="#a2daf2"/>
<rect x="178.50" y="160.44" width="8.65" height="1.34" fill="#a2daf2"/>
<rect x="142.50" y="161.73" width="8.62" height="1.34" fill="#caedf8"/>
<rect x="151.07" y="161.73" width="8.62" height="1.34" fill="#caedf8"/>
<rect x="159.63" y="161.73" width="8.62" height="1.34" fill="#caedf8"/>
<rect x="169.90" y="161.73" width="8.65" height="1.34" fill="#caedf8"/>
<rect x="178.50" y="161.73" width="8.65" height="1.34" fill="#caedf8"/>
<rect x="216.40" y="161.73" width="4.30" height="1.34" fill="#3a98d4"/>
<rect x="142.50" y="163.03" width="8.62" height="1.34" fill="#b0c8e8"/>
<rect x="151.07" y="163.03" width="8.62" height="1.34" fill="#5ab8e2"/>
<rect x="159.63" y="163.03" width="8.62" height="1.34" fill="#5ab8e2"/>
<rect x="169.90" y="163.03" width="8.65" height="1.34" fill="#2a88c4"/>
<rect x="178.50" y="163.03" width="8.65" height="1.34" fill="#1c6cb2"/>
<rect x="188.90" y="163.03" width="17.13" height="1.34" fill="#3a98d4"/>
<rect x="216.40" y="163.03" width="8.60" height="1.34" fill="#62b8e6"/>
<rect x="142.50" y="164.32" width="8.62" height="1.34" fill="#b0c8e8"/>
<rect x="151.07" y="164.32" width="8.62" height="1.34" fill="#b0c8e8"/>
<rect x="159.63" y="164.32" width="8.62" height="1.34" fill="#b0c8e8"/>
<rect x="169.90" y="164.32" width="8.65" height="1.34" fill="#2a9cc4"/>
<rect x="178.50" y="164.32" width="8.65" height="1.34" fill="#1c6cb2"/>
<rect x="169.90" y="164.32" width="17.20" height="0.50" fill="#ffffff"/>
<rect x="142.50" y="165.62" width="8.62" height="1.34" fill="#2a88c4"/>
<rect x="151.07" y="165.62" width="8.62" height="1.34" fill="#5ab8e2"/>
<rect x="159.63" y="165.62" width="8.62" height="1.34" fill="#5ab8e2"/>
<rect x="169.90" y="165.62" width="8.65" height="1.34" fill="#e8a890"/>
<rect x="178.50" y="165.62" width="8.65" height="1.34" fill="#e8a890"/>
<rect x="188.90" y="165.62" width="4.28" height="1.34" fill="#9ad3ef"/>
<rect x="142.50" y="166.91" width="8.62" height="1.34" fill="#a2daf2"/>
<rect x="151.07" y="166.91" width="8.62" height="1.34" fill="#f2d4c8"/>
<rect x="159.63" y="166.91" width="8.62" height="1.34" fill="#caedf8"/>
<rect x="169.90" y="166.91" width="8.65" height="1.34" fill="#e8f6fc"/>
<rect x="178.50" y="166.91" width="8.65" height="1.34" fill="#2a9cc4"/>
<rect x="188.90" y="166.91" width="8.57" height="1.34" fill="#9ad3ef"/>
<rect x="216.40" y="166.91" width="17.20" height="1.34" fill="#62b8e6"/>
<rect x="142.50" y="168.21" width="8.62" height="1.34" fill="#a2daf2"/>
<rect x="151.07" y="168.21" width="8.62" height="1.34" fill="#1c6cb2"/>
<rect x="159.63" y="168.21" width="8.62" height="1.34" fill="#1c6cb2"/>
<rect x="169.90" y="168.21" width="8.65" height="1.34" fill="#2a9cc4"/>
<rect x="178.50" y="168.21" width="8.65" height="1.34" fill="#a2daf2"/>
<rect x="216.40" y="168.21" width="8.60" height="1.34" fill="#9ad3ef"/>
<rect x="229.30" y="168.21" width="4.30" height="1.34" fill="#9ad3ef"/>
<rect x="142.50" y="169.50" width="8.62" height="1.34" fill="#a2daf2"/>
<rect x="151.07" y="169.50" width="8.62" height="1.34" fill="#caedf8"/>
<rect x="159.63" y="169.50" width="8.62" height="1.34" fill="#caedf8"/>
<rect x="169.90" y="169.50" width="8.65" height="1.34" fill="#1c6cb2"/>
<rect x="178.50" y="169.50" width="8.65" height="1.34" fill="#caedf8"/>
</g>
<rect x="223.00" y="77.40" width="19.20" height="1.30" fill="#c8506a"/>
<rect x="200.00" y="113.30" width="14.60" height="1.30" fill="#d06a78"/>
<rect x="216.40" y="113.30" width="18.00" height="1.30" fill="#c0406a"/>
<defs><linearGradient id="cbar" x1="0" y1="0" x2="0" y2="1"><stop offset="0" stop-color="#a51a22"/><stop offset="0.25" stop-color="#d9443a"/><stop offset="0.55" stop-color="#f0a08a"/><stop offset="0.8" stop-color="#fbfbfb"/><stop offset="0.9" stop-color="#8fd0e0"/><stop offset="1" stop-color="#1a93b0"/></linearGradient></defs>
<rect x="250.20" y="22.50" width="3.10" height="46.70" fill="url(#cbar)"/>
<text x="256.80" y="27.67" font-size="6.6" fill="#333" stroke="#333" stroke-width="0.22" textLength="7.00" lengthAdjust="spacingAndGlyphs">12</text>
<text x="256.80" y="37.77" font-size="6.6" fill="#333" stroke="#333" stroke-width="0.22" textLength="7.00" lengthAdjust="spacingAndGlyphs">10</text>
<text x="256.80" y="47.87" font-size="6.6" fill="#333" stroke="#333" stroke-width="0.22" textLength="3.50" lengthAdjust="spacingAndGlyphs">8</text>
<text x="256.80" y="58.27" font-size="6.6" fill="#333" stroke="#333" stroke-width="0.22" textLength="3.50" lengthAdjust="spacingAndGlyphs">6</text>
<text x="256.80" y="68.07" font-size="6.6" fill="#333" stroke="#333" stroke-width="0.22" textLength="3.50" lengthAdjust="spacingAndGlyphs">4</text>
<text x="270.00" y="28.27" font-size="6.6" fill="#333" stroke="#333" stroke-width="0.22" textLength="28.20" lengthAdjust="spacingAndGlyphs">Genotype</text>
<rect x="269.30" y="31.80" width="7.70" height="6.80" fill="#f39a1e"/>
<rect x="269.30" y="38.60" width="7.70" height="7.20" fill="#e3262b"/>
<rect x="269.30" y="45.80" width="7.70" height="7.20" fill="#45b4e3"/>
<rect x="269.30" y="53.00" width="7.70" height="7.20" fill="#9b59a6"/>
<text x="279.90" y="37.87" font-size="6.6" fill="#333" stroke="#333" stroke-width="0.22" textLength="9.60" lengthAdjust="spacingAndGlyphs">WT</text>
<text x="279.90" y="45.07" font-size="6.6" fill="#333" stroke="#333" stroke-width="0.22" textLength="20.70" lengthAdjust="spacingAndGlyphs">Asxl1<tspan font-size="62%" baseline-shift="super">−/−</tspan></text>
<text x="279.90" y="52.27" font-size="6.6" fill="#333" stroke="#333" stroke-width="0.22" textLength="19.20" lengthAdjust="spacingAndGlyphs">Ezh2<tspan font-size="62%" baseline-shift="super">−/−</tspan></text>
<text x="279.90" y="59.47" font-size="6.6" fill="#333" stroke="#333" stroke-width="0.22" textLength="21.10" lengthAdjust="spacingAndGlyphs">Double</text>
<line x1="242.20" y1="78.40" x2="248.30" y2="78.40" stroke="#777" stroke-width="0.5"/>
<text x="250.20" y="81.07" font-size="6.6" fill="#333" stroke="#333" stroke-width="0.22" textLength="25.80" lengthAdjust="spacingAndGlyphs">Ighv1–58</text>
<line x1="242.20" y1="113.60" x2="247.80" y2="108.70" stroke="#777" stroke-width="0.5"/>
<text x="250.20" y="111.87" font-size="6.6" fill="#333" stroke="#333" stroke-width="0.22" textLength="25.80" lengthAdjust="spacingAndGlyphs">Ighv12–3</text>
<line x1="242.60" y1="149.80" x2="248.00" y2="138.60" stroke="#777" stroke-width="0.5"/>
<text x="250.20" y="142.07" font-size="6.6" fill="#333" stroke="#333" stroke-width="0.22" textLength="22.20" lengthAdjust="spacingAndGlyphs">Ighv6–3</text>
<line x1="242.20" y1="168.70" x2="248.30" y2="168.70" stroke="#777" stroke-width="0.5"/>
<text x="250.20" y="171.37" font-size="6.6" fill="#333" stroke="#333" stroke-width="0.22" textLength="22.20" lengthAdjust="spacingAndGlyphs">Ighv9–3</text>
<text x="310.80" y="16.00" font-size="11.0" fill="#111" stroke="#111" stroke-width="0.28" font-weight="bold">C</text>
<line x1="339.50" y1="28.30" x2="339.50" y2="101.90" stroke="#141414" stroke-width="0.9"/>
<line x1="339.10" y1="101.50" x2="451.80" y2="101.50" stroke="#141414" stroke-width="0.9"/>
<line x1="336.60" y1="101.50" x2="339.50" y2="101.50" stroke="#141414" stroke-width="0.8"/>
<text x="333.40" y="104.07" font-size="6.3" text-anchor="end" fill="#2e2e2e" stroke="#2e2e2e" stroke-width="0.22" textLength="3.15" lengthAdjust="spacingAndGlyphs">0</text>
<line x1="336.60" y1="68.15" x2="339.50" y2="68.15" stroke="#141414" stroke-width="0.8"/>
<text x="333.40" y="70.72" font-size="6.3" text-anchor="end" fill="#2e2e2e" stroke="#2e2e2e" stroke-width="0.22" textLength="6.30" lengthAdjust="spacingAndGlyphs">50</text>
<line x1="336.60" y1="34.80" x2="339.50" y2="34.80" stroke="#141414" stroke-width="0.8"/>
<text x="333.40" y="37.37" font-size="6.3" text-anchor="end" fill="#2e2e2e" stroke="#2e2e2e" stroke-width="0.22" textLength="9.45" lengthAdjust="spacingAndGlyphs">100</text>
<line x1="339.50" y1="101.50" x2="339.50" y2="104.00" stroke="#141414" stroke-width="0.8"/>
<text x="339.50" y="113.47" font-size="6.3" text-anchor="middle" fill="#2e2e2e" stroke="#2e2e2e" stroke-width="0.22" textLength="3.15" lengthAdjust="spacingAndGlyphs">0</text>
<line x1="367.25" y1="101.50" x2="367.25" y2="104.00" stroke="#141414" stroke-width="0.8"/>
<text x="367.25" y="113.47" font-size="6.3" text-anchor="middle" fill="#2e2e2e" stroke="#2e2e2e" stroke-width="0.22" textLength="3.15" lengthAdjust="spacingAndGlyphs">5</text>
<line x1="395.00" y1="101.50" x2="395.00" y2="104.00" stroke="#141414" stroke-width="0.8"/>
<text x="395.00" y="113.47" font-size="6.3" text-anchor="middle" fill="#2e2e2e" stroke="#2e2e2e" stroke-width="0.22" textLength="6.30" lengthAdjust="spacingAndGlyphs">10</text>
<line x1="422.75" y1="101.50" x2="422.75" y2="104.00" stroke="#141414" stroke-width="0.8"/>
<text x="422.75" y="113.47" font-size="6.3" text-anchor="middle" fill="#2e2e2e" stroke="#2e2e2e" stroke-width="0.22" textLength="6.30" lengthAdjust="spacingAndGlyphs">15</text>
<line x1="450.50" y1="101.50" x2="450.50" y2="104.00" stroke="#141414" stroke-width="0.8"/>
<text x="450.50" y="113.47" font-size="6.3" text-anchor="middle" fill="#2e2e2e" stroke="#2e2e2e" stroke-width="0.22" textLength="6.30" lengthAdjust="spacingAndGlyphs">20</text>
<text x="396.40" y="125.23" font-size="8.8" text-anchor="middle" fill="#2e2e2e" stroke="#2e2e2e" stroke-width="0.18" textLength="19.80" lengthAdjust="spacingAndGlyphs">Weeks</text>
<text x="316.70" y="64.00" font-size="6.8" text-anchor="middle" fill="#2e2e2e" stroke="#2e2e2e" stroke-width="0.22" textLength="53.40" lengthAdjust="spacingAndGlyphs" transform="rotate(-90 316.70 64.00)">Survival curve (%)</text>
<path d="M339.5,34.80 H375.8 V49.2 H377.8 V55.0 H394.2 V60.8 H402.7 V65.8 H437.3" stroke="#8b8bc8" stroke-width="0.9" fill="none"/>
<path d="M339.5,36.30 H438" stroke="#f2b630" stroke-width="1.3" fill="none"/>
<path d="M339.5,34.70 H438" stroke="#3d5e4a" stroke-width="1.4" fill="none"/>
<path d="M437.50,33.67 L438.54,35.56 L436.46,35.56Z" fill="#333"/>
<line x1="345.00" y1="133.80" x2="353.50" y2="133.80" stroke="#2e5b8a" stroke-width="1.1"/>
<text x="356.50" y="136.44" font-size="6.5" fill="#2e2e2e" stroke="#2e2e2e" stroke-width="0.22" textLength="9.50" lengthAdjust="spacingAndGlyphs">WT</text>
<line x1="345.00" y1="146.00" x2="353.50" y2="146.00" stroke="#c41e3a" stroke-width="1.1"/>
<text x="356.50" y="148.64" font-size="6.5" fill="#2e2e2e" stroke="#2e2e2e" stroke-width="0.22" textLength="21.00" lengthAdjust="spacingAndGlyphs">Asxl1<tspan font-size="62%" baseline-shift="super">−/−</tspan></text>
<line x1="345.00" y1="157.60" x2="353.50" y2="157.60" stroke="#2ea84a" stroke-width="1.1"/>
<text x="356.50" y="160.24" font-size="6.5" fill="#2e2e2e" stroke="#2e2e2e" stroke-width="0.22" textLength="68.00" lengthAdjust="spacingAndGlyphs">Ezh2<tspan font-size="62%" baseline-shift="super">−/−</tspan> (MDS/MPN, LPD)</text>
<line x1="345.00" y1="169.60" x2="353.50" y2="169.60" stroke="#8a8ac8" stroke-width="1.1"/>
<text x="356.50" y="172.24" font-size="6.5" fill="#2e2e2e" stroke="#2e2e2e" stroke-width="0.22" textLength="90.00" lengthAdjust="spacingAndGlyphs">Asxl1<tspan font-size="62%" baseline-shift="super">−/−</tspan> Ezh2<tspan font-size="62%" baseline-shift="super">−/−</tspan>(MDS/MPN, LPD)</text>
<line x1="345.00" y1="181.80" x2="353.50" y2="181.80" stroke="#f0a020" stroke-width="1.1"/>
<text x="356.50" y="184.44" font-size="6.5" fill="#2e2e2e" stroke="#2e2e2e" stroke-width="0.22" textLength="75.00" lengthAdjust="spacingAndGlyphs">Asxl1<tspan font-size="62%" baseline-shift="super">−/−</tspan> Ezh2<tspan font-size="62%" baseline-shift="super">−/−</tspan>(MDS/MPN)</text>
<rect x="468.20" y="84.30" width="21.10" height="39.10" fill="#dadada"/>
<rect x="491.00" y="84.30" width="22.30" height="39.10" fill="#d6d6d6"/>
<line x1="471.50" y1="84.30" x2="471.50" y2="123.40" stroke="#c6c6c6" stroke-width="0.4"/>
<line x1="478.00" y1="84.30" x2="478.00" y2="123.40" stroke="#c6c6c6" stroke-width="0.4"/>
<line x1="484.50" y1="84.30" x2="484.50" y2="123.40" stroke="#c6c6c6" stroke-width="0.4"/>
<line x1="494.50" y1="84.30" x2="494.50" y2="123.40" stroke="#c6c6c6" stroke-width="0.4"/>
<line x1="501.00" y1="84.30" x2="501.00" y2="123.40" stroke="#c6c6c6" stroke-width="0.4"/>
<line x1="507.50" y1="84.30" x2="507.50" y2="123.40" stroke="#c6c6c6" stroke-width="0.4"/>
<line x1="468.20" y1="88.00" x2="489.30" y2="88.00" stroke="#c6c6c6" stroke-width="0.4"/>
<line x1="491.00" y1="88.00" x2="513.30" y2="88.00" stroke="#c6c6c6" stroke-width="0.4"/>
<line x1="468.20" y1="95.00" x2="489.30" y2="95.00" stroke="#c6c6c6" stroke-width="0.4"/>
<line x1="491.00" y1="95.00" x2="513.30" y2="95.00" stroke="#c6c6c6" stroke-width="0.4"/>
<line x1="468.20" y1="102.00" x2="489.30" y2="102.00" stroke="#c6c6c6" stroke-width="0.4"/>
<line x1="491.00" y1="102.00" x2="513.30" y2="102.00" stroke="#c6c6c6" stroke-width="0.4"/>
<line x1="468.20" y1="109.00" x2="489.30" y2="109.00" stroke="#c6c6c6" stroke-width="0.4"/>
<line x1="491.00" y1="109.00" x2="513.30" y2="109.00" stroke="#c6c6c6" stroke-width="0.4"/>
<line x1="468.20" y1="116.00" x2="489.30" y2="116.00" stroke="#c6c6c6" stroke-width="0.4"/>
<line x1="491.00" y1="116.00" x2="513.30" y2="116.00" stroke="#c6c6c6" stroke-width="0.4"/>
<path d="M478.6,103 C481.8,103.5 481.9,108 481.2,112 C480.6,116 480,120.5 477.6,121.2 C475.2,121.6 475.2,117 475.8,112.5 C476.4,108 476.2,103 478.6,103Z" fill="#4e0a14"/>
<path d="M506.8,89.4 C510.6,90.0 510.4,94.2 508.2,97.0 C505.6,100.4 504.6,105.5 505.6,110.0 C506.4,113.6 509.2,116.4 508.4,119.0 C506.8,121.2 500.6,120.6 497.6,115.4 C494.8,109.6 495.2,101.0 498.6,94.6 C500.8,90.8 503.6,89.0 506.8,89.4Z" fill="#5c0a1a"/>
<rect x="470.20" y="106.80" width="1.30" height="12.20" fill="#333"/>
<rect x="493.00" y="108.80" width="1.30" height="12.20" fill="#333"/>
<text x="463.60" y="113.00" font-size="6.4" text-anchor="middle" fill="#2e2e2e" stroke="#2e2e2e" stroke-width="0.22" textLength="17.00" lengthAdjust="spacingAndGlyphs" transform="rotate(-90 463.60 113.00)">10 mm</text>
<text x="479.00" y="79.87" font-size="6.6" text-anchor="middle" fill="#333" stroke="#333" stroke-width="0.22" textLength="9.50" lengthAdjust="spacingAndGlyphs">WT</text>
<text x="501.80" y="72.47" font-size="6.6" text-anchor="middle" fill="#333" stroke="#333" stroke-width="0.22" textLength="20.50" lengthAdjust="spacingAndGlyphs">Asxl1<tspan font-size="62%" baseline-shift="super">−/−</tspan></text>
<text x="501.80" y="79.87" font-size="6.6" text-anchor="middle" fill="#333" stroke="#333" stroke-width="0.22" textLength="19.00" lengthAdjust="spacingAndGlyphs">Ezh2<tspan font-size="62%" baseline-shift="super">−/−</tspan></text>
<text x="10.10" y="204.80" font-size="11.0" fill="#111" stroke="#111" stroke-width="0.28" font-weight="bold">D</text>
<line x1="38.30" y1="224.40" x2="38.30" y2="291.40" stroke="#141414" stroke-width="0.9"/>
<line x1="37.90" y1="291.00" x2="135.80" y2="291.00" stroke="#141414" stroke-width="0.9"/>
<line x1="35.10" y1="291.00" x2="38.30" y2="291.00" stroke="#141414" stroke-width="0.8"/>
<text x="32.00" y="293.57" font-size="6.3" text-anchor="end" fill="#2e2e2e" stroke="#2e2e2e" stroke-width="0.22" textLength="3.15" lengthAdjust="spacingAndGlyphs">0</text>
<line x1="35.10" y1="269.07" x2="38.30" y2="269.07" stroke="#141414" stroke-width="0.8"/>
<text x="32.00" y="271.63" font-size="6.3" text-anchor="end" fill="#2e2e2e" stroke="#2e2e2e" stroke-width="0.22" textLength="6.30" lengthAdjust="spacingAndGlyphs">50</text>
<line x1="35.10" y1="247.13" x2="38.30" y2="247.13" stroke="#141414" stroke-width="0.8"/>
<text x="32.00" y="249.70" font-size="6.3" text-anchor="end" fill="#2e2e2e" stroke="#2e2e2e" stroke-width="0.22" textLength="9.45" lengthAdjust="spacingAndGlyphs">100</text>
<line x1="35.10" y1="225.20" x2="38.30" y2="225.20" stroke="#141414" stroke-width="0.8"/>
<text x="32.00" y="227.77" font-size="6.3" text-anchor="end" fill="#2e2e2e" stroke="#2e2e2e" stroke-width="0.22" textLength="9.45" lengthAdjust="spacingAndGlyphs">150</text>
<text x="53.50" y="302.97" font-size="6.6" text-anchor="middle" fill="#2e2e2e" stroke="#2e2e2e" stroke-width="0.22" textLength="12.50" lengthAdjust="spacingAndGlyphs">total</text>
<text x="86.60" y="302.97" font-size="6.6" text-anchor="middle" fill="#2e2e2e" stroke="#2e2e2e" stroke-width="0.22" textLength="22.10" lengthAdjust="spacingAndGlyphs">myeloid</text>
<text x="120.50" y="302.97" font-size="6.6" text-anchor="middle" fill="#2e2e2e" stroke="#2e2e2e" stroke-width="0.22" textLength="26.40" lengthAdjust="spacingAndGlyphs">lymphoid</text>
<text x="87.15" y="217.92" font-size="8.2" text-anchor="middle" fill="#333" stroke="#333" stroke-width="0.18" textLength="12.50" lengthAdjust="spacingAndGlyphs">BM</text>
<line x1="174.60" y1="224.40" x2="174.60" y2="291.40" stroke="#141414" stroke-width="0.9"/>
<line x1="174.20" y1="291.00" x2="269.80" y2="291.00" stroke="#141414" stroke-width="0.9"/>
<line x1="171.40" y1="291.00" x2="174.60" y2="291.00" stroke="#141414" stroke-width="0.8"/>
<text x="168.30" y="293.57" font-size="6.3" text-anchor="end" fill="#2e2e2e" stroke="#2e2e2e" stroke-width="0.22" textLength="3.15" lengthAdjust="spacingAndGlyphs">0</text>
<line x1="171.40" y1="269.87" x2="174.60" y2="269.87" stroke="#141414" stroke-width="0.8"/>
<text x="168.30" y="272.43" font-size="6.3" text-anchor="end" fill="#2e2e2e" stroke="#2e2e2e" stroke-width="0.22" textLength="6.30" lengthAdjust="spacingAndGlyphs">50</text>
<line x1="171.40" y1="248.73" x2="174.60" y2="248.73" stroke="#141414" stroke-width="0.8"/>
<text x="168.30" y="251.30" font-size="6.3" text-anchor="end" fill="#2e2e2e" stroke="#2e2e2e" stroke-width="0.22" textLength="9.45" lengthAdjust="spacingAndGlyphs">100</text>
<line x1="171.40" y1="227.60" x2="174.60" y2="227.60" stroke="#141414" stroke-width="0.8"/>
<text x="168.30" y="230.17" font-size="6.3" text-anchor="end" fill="#2e2e2e" stroke="#2e2e2e" stroke-width="0.22" textLength="9.45" lengthAdjust="spacingAndGlyphs">150</text>
<text x="189.80" y="302.97" font-size="6.6" text-anchor="middle" fill="#2e2e2e" stroke="#2e2e2e" stroke-width="0.22" textLength="12.50" lengthAdjust="spacingAndGlyphs">total</text>
<text x="223.50" y="302.97" font-size="6.6" text-anchor="middle" fill="#2e2e2e" stroke="#2e2e2e" stroke-width="0.22" textLength="22.10" lengthAdjust="spacingAndGlyphs">myeloid</text>
<text x="254.40" y="302.97" font-size="6.6" text-anchor="middle" fill="#2e2e2e" stroke="#2e2e2e" stroke-width="0.22" textLength="26.40" lengthAdjust="spacingAndGlyphs">lymphoid</text>
<text x="222.20" y="217.92" font-size="8.2" text-anchor="middle" fill="#333" stroke="#333" stroke-width="0.18" textLength="24.50" lengthAdjust="spacingAndGlyphs">spleen</text>
<text x="15.40" y="256.65" font-size="6.8" text-anchor="middle" fill="#2e2e2e" stroke="#2e2e2e" stroke-width="0.22" textLength="68.70" lengthAdjust="spacingAndGlyphs" transform="rotate(-90 15.40 256.65)">Donor-derived cells (%)</text>
<text x="152.60" y="257.25" font-size="6.8" text-anchor="middle" fill="#2e2e2e" stroke="#2e2e2e" stroke-width="0.22" textLength="68.70" lengthAdjust="spacingAndGlyphs" transform="rotate(-90 152.60 257.25)">Donor-derived cells (%)</text>
<circle cx="46.5" cy="270.4" r="1.4" fill="#1d5a86"/>
<circle cx="43.9" cy="279.6" r="1.4" fill="#1d5a86"/>
<circle cx="49.1" cy="285.3" r="1.4" fill="#1d5a86"/>
<circle cx="45.2" cy="282.2" r="1.4" fill="#1d5a86"/>
<line x1="41.70" y1="279.59" x2="51.30" y2="279.59" stroke="#1d5a86" stroke-width="0.8"/>
<line x1="46.50" y1="282.67" x2="46.50" y2="276.52" stroke="#1d5a86" stroke-width="0.8"/>
<line x1="44.20" y1="276.52" x2="48.80" y2="276.52" stroke="#1d5a86" stroke-width="0.8"/>
<line x1="44.20" y1="282.67" x2="48.80" y2="282.67" stroke="#1d5a86" stroke-width="0.8"/>
<rect x="59.25" y="247.88" width="2.90" height="2.90" fill="#c8102e"/>
<rect x="56.65" y="249.19" width="2.90" height="2.90" fill="#c8102e"/>
<rect x="61.85" y="246.56" width="2.90" height="2.90" fill="#c8102e"/>
<rect x="57.95" y="263.23" width="2.90" height="2.90" fill="#c8102e"/>
<rect x="60.55" y="268.49" width="2.90" height="2.90" fill="#c8102e"/>
<line x1="55.90" y1="255.47" x2="65.50" y2="255.47" stroke="#c8102e" stroke-width="0.8"/>
<line x1="60.70" y1="258.98" x2="60.70" y2="251.96" stroke="#c8102e" stroke-width="0.8"/>
<line x1="58.40" y1="251.96" x2="63.00" y2="251.96" stroke="#c8102e" stroke-width="0.8"/>
<line x1="58.40" y1="258.98" x2="63.00" y2="258.98" stroke="#c8102e" stroke-width="0.8"/>
<circle cx="79.7" cy="249.3" r="1.4" fill="#1d5a86"/>
<circle cx="77.1" cy="250.6" r="1.4" fill="#1d5a86"/>
<circle cx="82.3" cy="252.4" r="1.4" fill="#1d5a86"/>
<circle cx="78.4" cy="249.8" r="1.4" fill="#1d5a86"/>
<circle cx="81.0" cy="251.5" r="1.4" fill="#1d5a86"/>
<line x1="74.90" y1="250.64" x2="84.50" y2="250.64" stroke="#1d5a86" stroke-width="0.8"/>
<line x1="79.70" y1="251.52" x2="79.70" y2="249.77" stroke="#1d5a86" stroke-width="0.8"/>
<line x1="77.40" y1="249.77" x2="82.00" y2="249.77" stroke="#1d5a86" stroke-width="0.8"/>
<line x1="77.40" y1="251.52" x2="82.00" y2="251.52" stroke="#1d5a86" stroke-width="0.8"/>
<rect x="92.05" y="288.67" width="2.90" height="2.90" fill="#c8102e"/>
<rect x="89.45" y="289.11" width="2.90" height="2.90" fill="#c8102e"/>
<rect x="94.65" y="288.23" width="2.90" height="2.90" fill="#c8102e"/>
<rect x="90.75" y="279.02" width="2.90" height="2.90" fill="#c8102e"/>
<rect x="93.35" y="289.11" width="2.90" height="2.90" fill="#c8102e"/>
<rect x="95.65" y="288.67" width="2.90" height="2.90" fill="#c8102e"/>
<line x1="88.70" y1="288.81" x2="98.30" y2="288.81" stroke="#c8102e" stroke-width="0.8"/>
<line x1="93.50" y1="290.56" x2="93.50" y2="287.05" stroke="#c8102e" stroke-width="0.8"/>
<line x1="91.20" y1="287.05" x2="95.80" y2="287.05" stroke="#c8102e" stroke-width="0.8"/>
<line x1="91.20" y1="290.56" x2="95.80" y2="290.56" stroke="#c8102e" stroke-width="0.8"/>
<circle cx="113.6" cy="284.4" r="1.4" fill="#1d5a86"/>
<circle cx="111.0" cy="288.4" r="1.4" fill="#1d5a86"/>
<circle cx="116.2" cy="289.7" r="1.4" fill="#1d5a86"/>
<circle cx="112.3" cy="287.5" r="1.4" fill="#1d5a86"/>
<circle cx="114.9" cy="289.2" r="1.4" fill="#1d5a86"/>
<line x1="108.80" y1="287.93" x2="118.40" y2="287.93" stroke="#1d5a86" stroke-width="0.8"/>
<line x1="113.60" y1="289.25" x2="113.60" y2="286.61" stroke="#1d5a86" stroke-width="0.8"/>
<line x1="111.30" y1="286.61" x2="115.90" y2="286.61" stroke="#1d5a86" stroke-width="0.8"/>
<line x1="111.30" y1="289.25" x2="115.90" y2="289.25" stroke="#1d5a86" stroke-width="0.8"/>
<rect x="126.55" y="246.56" width="2.90" height="2.90" fill="#c8102e"/>
<rect x="123.95" y="247.44" width="2.90" height="2.90" fill="#c8102e"/>
<rect x="129.15" y="247.00" width="2.90" height="2.90" fill="#c8102e"/>
<rect x="125.25" y="247.88" width="2.90" height="2.90" fill="#c8102e"/>
<rect x="127.85" y="256.21" width="2.90" height="2.90" fill="#c8102e"/>
<rect x="130.15" y="246.56" width="2.90" height="2.90" fill="#c8102e"/>
<line x1="123.20" y1="249.77" x2="132.80" y2="249.77" stroke="#c8102e" stroke-width="0.8"/>
<line x1="128.00" y1="251.08" x2="128.00" y2="248.45" stroke="#c8102e" stroke-width="0.8"/>
<line x1="125.70" y1="248.45" x2="130.30" y2="248.45" stroke="#c8102e" stroke-width="0.8"/>
<line x1="125.70" y1="251.08" x2="130.30" y2="251.08" stroke="#c8102e" stroke-width="0.8"/>
<circle cx="181.7" cy="284.7" r="1.4" fill="#1d5a86"/>
<circle cx="179.1" cy="286.8" r="1.4" fill="#1d5a86"/>
<circle cx="184.3" cy="285.9" r="1.4" fill="#1d5a86"/>
<circle cx="180.4" cy="287.6" r="1.4" fill="#1d5a86"/>
<line x1="176.90" y1="285.93" x2="186.50" y2="285.93" stroke="#1d5a86" stroke-width="0.8"/>
<line x1="181.70" y1="286.77" x2="181.70" y2="285.08" stroke="#1d5a86" stroke-width="0.8"/>
<line x1="179.40" y1="285.08" x2="184.00" y2="285.08" stroke="#1d5a86" stroke-width="0.8"/>
<line x1="179.40" y1="286.77" x2="184.00" y2="286.77" stroke="#1d5a86" stroke-width="0.8"/>
<rect x="194.55" y="248.13" width="2.90" height="2.90" fill="#c8102e"/>
<rect x="191.95" y="248.55" width="2.90" height="2.90" fill="#c8102e"/>
<rect x="197.15" y="248.97" width="2.90" height="2.90" fill="#c8102e"/>
<rect x="193.25" y="249.40" width="2.90" height="2.90" fill="#c8102e"/>
<rect x="195.85" y="248.13" width="2.90" height="2.90" fill="#c8102e"/>
<line x1="191.20" y1="250.00" x2="200.80" y2="250.00" stroke="#c8102e" stroke-width="0.8"/>
<line x1="196.00" y1="250.42" x2="196.00" y2="249.58" stroke="#c8102e" stroke-width="0.8"/>
<line x1="193.70" y1="249.58" x2="198.30" y2="249.58" stroke="#c8102e" stroke-width="0.8"/>
<line x1="193.70" y1="250.42" x2="198.30" y2="250.42" stroke="#c8102e" stroke-width="0.8"/>
<circle cx="215.4" cy="276.6" r="1.4" fill="#1d5a86"/>
<circle cx="212.8" cy="279.6" r="1.4" fill="#1d5a86"/>
<circle cx="218.0" cy="280.4" r="1.4" fill="#1d5a86"/>
<circle cx="214.1" cy="278.3" r="1.4" fill="#1d5a86"/>
<line x1="210.60" y1="278.74" x2="220.20" y2="278.74" stroke="#1d5a86" stroke-width="0.8"/>
<line x1="215.40" y1="280.01" x2="215.40" y2="277.47" stroke="#1d5a86" stroke-width="0.8"/>
<line x1="213.10" y1="277.47" x2="217.70" y2="277.47" stroke="#1d5a86" stroke-width="0.8"/>
<line x1="213.10" y1="280.01" x2="217.70" y2="280.01" stroke="#1d5a86" stroke-width="0.8"/>
<rect x="227.35" y="288.70" width="2.90" height="2.90" fill="#c8102e"/>
<rect x="224.75" y="289.13" width="2.90" height="2.90" fill="#c8102e"/>
<rect x="229.95" y="288.28" width="2.90" height="2.90" fill="#c8102e"/>
<rect x="226.05" y="287.86" width="2.90" height="2.90" fill="#c8102e"/>
<rect x="228.65" y="289.13" width="2.90" height="2.90" fill="#c8102e"/>
<line x1="224.00" y1="290.15" x2="233.60" y2="290.15" stroke="#c8102e" stroke-width="0.8"/>
<line x1="228.80" y1="290.58" x2="228.80" y2="289.73" stroke="#c8102e" stroke-width="0.8"/>
<line x1="226.50" y1="289.73" x2="231.10" y2="289.73" stroke="#c8102e" stroke-width="0.8"/>
<line x1="226.50" y1="290.58" x2="231.10" y2="290.58" stroke="#c8102e" stroke-width="0.8"/>
<circle cx="247.7" cy="259.3" r="1.4" fill="#1d5a86"/>
<circle cx="245.1" cy="261.4" r="1.4" fill="#1d5a86"/>
<circle cx="250.3" cy="263.1" r="1.4" fill="#1d5a86"/>
<circle cx="246.4" cy="260.6" r="1.4" fill="#1d5a86"/>
<line x1="242.90" y1="260.99" x2="252.50" y2="260.99" stroke="#1d5a86" stroke-width="0.8"/>
<line x1="247.70" y1="262.26" x2="247.70" y2="259.72" stroke="#1d5a86" stroke-width="0.8"/>
<line x1="245.40" y1="259.72" x2="250.00" y2="259.72" stroke="#1d5a86" stroke-width="0.8"/>
<line x1="245.40" y1="262.26" x2="250.00" y2="262.26" stroke="#1d5a86" stroke-width="0.8"/>
<rect x="260.25" y="248.13" width="2.90" height="2.90" fill="#c8102e"/>
<rect x="257.65" y="248.97" width="2.90" height="2.90" fill="#c8102e"/>
<rect x="262.85" y="248.55" width="2.90" height="2.90" fill="#c8102e"/>
<rect x="258.95" y="249.40" width="2.90" height="2.90" fill="#c8102e"/>
<rect x="261.55" y="248.13" width="2.90" height="2.90" fill="#c8102e"/>
<line x1="256.90" y1="250.00" x2="266.50" y2="250.00" stroke="#c8102e" stroke-width="0.8"/>
<line x1="261.70" y1="250.42" x2="261.70" y2="249.58" stroke="#c8102e" stroke-width="0.8"/>
<line x1="259.40" y1="249.58" x2="264.00" y2="249.58" stroke="#c8102e" stroke-width="0.8"/>
<line x1="259.40" y1="250.42" x2="264.00" y2="250.42" stroke="#c8102e" stroke-width="0.8"/>
<path d="M46.50,232.70 L46.50,230.70 L60.70,230.70 L60.70,232.70" stroke="#555" stroke-width="0.6" fill="none"/>
<path d="M52.10,226.55L52.10,228.65M51.19,227.07L53.01,228.12M51.19,228.12L53.01,227.07M55.10,226.55L55.10,228.65M54.19,227.07L56.01,228.12M54.19,228.12L56.01,227.07" stroke="#3a3a3a" stroke-width="0.65" fill="none"/>
<path d="M80.30,232.70 L80.30,230.70 L93.90,230.70 L93.90,232.70" stroke="#555" stroke-width="0.6" fill="none"/>
<path d="M84.10,226.55L84.10,228.65M83.19,227.07L85.01,228.12M83.19,228.12L85.01,227.07M87.10,226.55L87.10,228.65M86.19,227.07L88.01,228.12M86.19,228.12L88.01,227.07M90.10,226.55L90.10,228.65M89.19,227.07L91.01,228.12M89.19,228.12L91.01,227.07" stroke="#3a3a3a" stroke-width="0.65" fill="none"/>
<path d="M114.60,232.70 L114.60,230.70 L128.40,230.70 L128.40,232.70" stroke="#555" stroke-width="0.6" fill="none"/>
<path d="M118.50,226.55L118.50,228.65M117.59,227.07L119.41,228.12M117.59,228.12L119.41,227.07M121.50,226.55L121.50,228.65M120.59,227.07L122.41,228.12M120.59,228.12L122.41,227.07M124.50,226.55L124.50,228.65M123.59,227.07L125.41,228.12M123.59,228.12L125.41,227.07" stroke="#3a3a3a" stroke-width="0.65" fill="none"/>
<path d="M182.50,233.90 L182.50,231.90 L195.20,231.90 L195.20,233.90" stroke="#555" stroke-width="0.6" fill="none"/>
<path d="M185.85,227.75L185.85,229.85M184.94,228.28L186.76,229.33M184.94,229.33L186.76,228.28M188.85,227.75L188.85,229.85M187.94,228.28L189.76,229.33M187.94,229.33L189.76,228.28M191.85,227.75L191.85,229.85M190.94,228.28L192.76,229.33M190.94,229.33L192.76,228.28" stroke="#3a3a3a" stroke-width="0.65" fill="none"/>
<path d="M215.40,271.00 L215.40,269.00 L228.30,269.00 L228.30,271.00" stroke="#555" stroke-width="0.6" fill="none"/>
<path d="M218.85,264.85L218.85,266.95M217.94,265.38L219.76,266.42M217.94,266.42L219.76,265.38M221.85,264.85L221.85,266.95M220.94,265.38L222.76,266.42M220.94,266.42L222.76,265.38M224.85,264.85L224.85,266.95M223.94,265.38L225.76,266.42M223.94,266.42L225.76,265.38" stroke="#3a3a3a" stroke-width="0.65" fill="none"/>
<path d="M249.00,233.90 L249.00,231.90 L261.70,231.90 L261.70,233.90" stroke="#555" stroke-width="0.6" fill="none"/>
<path d="M252.35,227.75L252.35,229.85M251.44,228.28L253.26,229.33M251.44,229.33L253.26,228.28M255.35,227.75L255.35,229.85M254.44,228.28L256.26,229.33M254.44,229.33L256.26,228.28M258.35,227.75L258.35,229.85M257.44,228.28L259.26,229.33M257.44,229.33L259.26,228.28" stroke="#3a3a3a" stroke-width="0.65" fill="none"/>
<circle cx="121.2" cy="315.8" r="1.6" fill="#1d5a86"/>
<text x="125.40" y="318.61" font-size="7.0" fill="#333" stroke="#333" stroke-width="0.18" textLength="10.40" lengthAdjust="spacingAndGlyphs">WT</text>
<rect x="141.60" y="314.20" width="3.20" height="3.20" fill="#c8102e"/>
<text x="149.00" y="318.61" font-size="7.0" fill="#333" stroke="#333" stroke-width="0.18" textLength="38.70" lengthAdjust="spacingAndGlyphs">Asxl1<tspan font-size="62%" baseline-shift="super">−/−</tspan>Ezh2<tspan font-size="62%" baseline-shift="super">−/−</tspan></text>
<text x="303.80" y="204.60" font-size="11.0" fill="#111" stroke="#111" stroke-width="0.28" font-weight="bold">E</text>
<text x="375.40" y="221.42" font-size="8.2" fill="#222" stroke="#222" stroke-width="0.18" textLength="66.10" lengthAdjust="spacingAndGlyphs">Asxl1<tspan font-size="62%" baseline-shift="super">−/−</tspan>Ezh2<tspan font-size="62%" baseline-shift="super">−/−</tspan>CLL</text>
<defs><clipPath id="cBM"><rect x="303.4" y="226.0" width="103.8" height="70.2"/></clipPath></defs>
<g clip-path="url(#cBM)">
<rect x="303.40" y="226.00" width="103.80" height="70.20" fill="#efedef"/>
<circle cx="325.0" cy="254.3" r="4.1" fill="#ead8ea" opacity="0.35"/>
<circle cx="366.7" cy="274.3" r="5.4" fill="#ead8ea" opacity="0.35"/>
<circle cx="312.8" cy="289.3" r="4.1" fill="#ead8ea" opacity="0.35"/>
<circle cx="369.5" cy="246.9" r="4.0" fill="#ead8ea" opacity="0.35"/>
<circle cx="325.5" cy="231.5" r="5.0" fill="#ead8ea" opacity="0.35"/>
<circle cx="373.1" cy="234.2" r="2.9" fill="#ead8ea" opacity="0.35"/>
<circle cx="346.9" cy="284.1" r="3.9" fill="#ead8ea" opacity="0.35"/>
<circle cx="361.2" cy="260.0" r="5.2" fill="#ead8ea" opacity="0.35"/>
<circle cx="376.1" cy="243.3" r="3.0" fill="#ead8ea" opacity="0.35"/>
<circle cx="365.6" cy="277.6" r="3.0" fill="#ead8ea" opacity="0.35"/>
<circle cx="336.7" cy="274.9" r="4.0" fill="#ead8ea" opacity="0.35"/>
<circle cx="334.2" cy="258.7" r="3.8" fill="#ead8ea" opacity="0.35"/>
<circle cx="407.2" cy="273.5" r="3.0" fill="#ead8ea" opacity="0.35"/>
<circle cx="340.8" cy="271.4" r="2.6" fill="#ead8ea" opacity="0.35"/>
<circle cx="308.2" cy="277.7" r="5.5" fill="#ead8ea" opacity="0.35"/>
<circle cx="387.3" cy="232.6" r="4.0" fill="#ead8ea" opacity="0.35"/>
<circle cx="382.0" cy="236.1" r="3.1" fill="#ead8ea" opacity="0.35"/>
<circle cx="346.5" cy="234.9" r="2.8" fill="#ead8ea" opacity="0.35"/>
<circle cx="371.8" cy="250.0" r="4.8" fill="#ead8ea" opacity="0.35"/>
<circle cx="360.9" cy="290.0" r="3.4" fill="#ead8ea" opacity="0.35"/>
<circle cx="338.9" cy="243.7" r="2.7" fill="#ead8ea" opacity="0.35"/>
<circle cx="333.4" cy="250.9" r="4.0" fill="#ead8ea" opacity="0.35"/>
<circle cx="338.0" cy="295.1" r="5.1" fill="#ead8ea" opacity="0.35"/>
<circle cx="339.2" cy="240.3" r="4.0" fill="#ead8ea" opacity="0.35"/>
<circle cx="315.6" cy="239.5" r="4.6" fill="#ead8ea" opacity="0.35"/>
<circle cx="316.6" cy="294.3" r="2.8" fill="#ead8ea" opacity="0.35"/>
<circle cx="406.8" cy="254.0" r="4.2" fill="#ead8ea" opacity="0.35"/>
<circle cx="345.5" cy="266.3" r="3.7" fill="#ead8ea" opacity="0.35"/>
<circle cx="314.7" cy="229.3" r="5.0" fill="#ead8ea" opacity="0.35"/>
<circle cx="352.7" cy="279.8" r="2.7" fill="#ead8ea" opacity="0.35"/>
<circle cx="355.4" cy="264.2" r="2.4" fill="#dcc0df" opacity="0.5"/>
<circle cx="355.4" cy="264.2" r="1.8" fill="#8c44a8"/>
<circle cx="365.3" cy="273.8" r="2.7" fill="#dcc0df" opacity="0.5"/>
<circle cx="365.3" cy="273.8" r="2.1" fill="#9a4cb0"/>
<circle cx="304.8" cy="287.2" r="2.5" fill="#dcc0df" opacity="0.5"/>
<circle cx="304.8" cy="287.2" r="1.9" fill="#8c44a8"/>
<circle cx="309.1" cy="265.8" r="2.4" fill="#dcc0df" opacity="0.5"/>
<circle cx="309.1" cy="265.8" r="1.8" fill="#b878c4"/>
<circle cx="375.6" cy="254.4" r="2.7" fill="#dcc0df" opacity="0.5"/>
<circle cx="375.6" cy="254.4" r="2.1" fill="#c484cc"/>
<circle cx="400.7" cy="294.9" r="2.5" fill="#dcc0df" opacity="0.5"/>
<circle cx="400.7" cy="294.9" r="1.9" fill="#b064c0"/>
<circle cx="400.7" cy="294.9" r="0.8" fill="#c8a0cc" opacity="0.7"/>
<circle cx="405.8" cy="286.3" r="2.4" fill="#dcc0df" opacity="0.5"/>
<circle cx="405.8" cy="286.3" r="1.8" fill="#9a4cb0"/>
<circle cx="405.8" cy="286.3" r="0.7" fill="#c8a0cc" opacity="0.7"/>
<circle cx="377.5" cy="286.1" r="2.4" fill="#dcc0df" opacity="0.5"/>
<circle cx="377.5" cy="286.1" r="1.8" fill="#8c44a8"/>
<circle cx="398.2" cy="229.7" r="2.3" fill="#dcc0df" opacity="0.5"/>
<circle cx="398.2" cy="229.7" r="1.7" fill="#8c44a8"/>
<circle cx="367.6" cy="253.3" r="2.7" fill="#dcc0df" opacity="0.5"/>
<circle cx="367.6" cy="253.3" r="2.1" fill="#b878c4"/>
<circle cx="378.9" cy="259.0" r="2.9" fill="#dcc0df" opacity="0.5"/>
<circle cx="378.9" cy="259.0" r="2.3" fill="#b064c0"/>
<circle cx="370.3" cy="270.2" r="2.5" fill="#dcc0df" opacity="0.5"/>
<circle cx="370.3" cy="270.2" r="1.9" fill="#b878c4"/>
<circle cx="331.6" cy="279.0" r="2.5" fill="#dcc0df" opacity="0.5"/>
<circle cx="331.6" cy="279.0" r="1.9" fill="#c484cc"/>
<circle cx="376.4" cy="284.1" r="2.7" fill="#dcc0df" opacity="0.5"/>
<circle cx="376.4" cy="284.1" r="2.1" fill="#b064c0"/>
<circle cx="365.8" cy="247.7" r="2.8" fill="#dcc0df" opacity="0.5"/>
<circle cx="365.8" cy="247.7" r="2.2" fill="#9a4cb0"/>
<circle cx="342.4" cy="280.2" r="2.6" fill="#dcc0df" opacity="0.5"/>
<circle cx="342.4" cy="280.2" r="2.0" fill="#8c44a8"/>
<circle cx="342.4" cy="280.2" r="0.8" fill="#c8a0cc" opacity="0.7"/>
<circle cx="388.1" cy="288.3" r="2.8" fill="#dcc0df" opacity="0.5"/>
<circle cx="388.1" cy="288.3" r="2.2" fill="#b878c4"/>
<circle cx="386.2" cy="264.5" r="2.6" fill="#dcc0df" opacity="0.5"/>
<circle cx="386.2" cy="264.5" r="2.0" fill="#c484cc"/>
<circle cx="386.2" cy="264.5" r="0.8" fill="#c8a0cc" opacity="0.7"/>
<circle cx="360.9" cy="282.0" r="2.8" fill="#dcc0df" opacity="0.5"/>
<circle cx="360.9" cy="282.0" r="2.2" fill="#a458b8"/>
<circle cx="399.5" cy="267.2" r="2.5" fill="#dcc0df" opacity="0.5"/>
<circle cx="399.5" cy="267.2" r="1.9" fill="#c484cc"/>
<circle cx="399.5" cy="267.2" r="0.8" fill="#c8a0cc" opacity="0.7"/>
<circle cx="387.1" cy="280.2" r="2.6" fill="#dcc0df" opacity="0.5"/>
<circle cx="387.1" cy="280.2" r="2.0" fill="#bc74c8"/>
<circle cx="357.6" cy="259.5" r="2.4" fill="#dcc0df" opacity="0.5"/>
<circle cx="357.6" cy="259.5" r="1.8" fill="#a458b8"/>
<circle cx="357.6" cy="259.5" r="0.7" fill="#c8a0cc" opacity="0.7"/>
<circle cx="387.0" cy="246.3" r="2.5" fill="#dcc0df" opacity="0.5"/>
<circle cx="387.0" cy="246.3" r="1.9" fill="#b878c4"/>
<circle cx="385.1" cy="237.0" r="2.5" fill="#dcc0df" opacity="0.5"/>
<circle cx="385.1" cy="237.0" r="1.9" fill="#c484cc"/>
<circle cx="362.1" cy="267.2" r="2.9" fill="#dcc0df" opacity="0.5"/>
<circle cx="362.1" cy="267.2" r="2.3" fill="#bc74c8"/>
<circle cx="401.6" cy="279.9" r="2.9" fill="#dcc0df" opacity="0.5"/>
<circle cx="401.6" cy="279.9" r="2.3" fill="#bc74c8"/>
<circle cx="396.3" cy="286.6" r="2.9" fill="#dcc0df" opacity="0.5"/>
<circle cx="396.3" cy="286.6" r="2.3" fill="#8c44a8"/>
<circle cx="402.7" cy="273.0" r="2.6" fill="#dcc0df" opacity="0.5"/>
<circle cx="402.7" cy="273.0" r="2.0" fill="#a458b8"/>
<circle cx="327.8" cy="276.6" r="2.9" fill="#dcc0df" opacity="0.5"/>
<circle cx="327.8" cy="276.6" r="2.3" fill="#bc74c8"/>
<circle cx="327.8" cy="276.6" r="0.9" fill="#c8a0cc" opacity="0.7"/>
<circle cx="360.8" cy="228.0" r="2.5" fill="#dcc0df" opacity="0.5"/>
<circle cx="360.8" cy="228.0" r="1.9" fill="#c484cc"/>
<circle cx="370.5" cy="295.2" r="2.4" fill="#dcc0df" opacity="0.5"/>
<circle cx="370.5" cy="295.2" r="1.8" fill="#b878c4"/>
<circle cx="370.5" cy="295.2" r="0.7" fill="#c8a0cc" opacity="0.7"/>
<circle cx="324.1" cy="278.5" r="2.6" fill="#dcc0df" opacity="0.5"/>
<circle cx="324.1" cy="278.5" r="2.0" fill="#8c44a8"/>
<circle cx="324.1" cy="278.5" r="0.8" fill="#c8a0cc" opacity="0.7"/>
<circle cx="337.0" cy="244.0" r="2.6" fill="#dcc0df" opacity="0.5"/>
<circle cx="337.0" cy="244.0" r="2.0" fill="#a458b8"/>
<circle cx="319.7" cy="284.5" r="2.7" fill="#dcc0df" opacity="0.5"/>
<circle cx="319.7" cy="284.5" r="2.1" fill="#bc74c8"/>
<circle cx="399.8" cy="285.1" r="2.6" fill="#dcc0df" opacity="0.5"/>
<circle cx="399.8" cy="285.1" r="2.0" fill="#bc74c8"/>
<circle cx="337.9" cy="277.7" r="2.6" fill="#dcc0df" opacity="0.5"/>
<circle cx="337.9" cy="277.7" r="2.0" fill="#a458b8"/>
<circle cx="386.9" cy="244.3" r="2.6" fill="#dcc0df" opacity="0.5"/>
<circle cx="386.9" cy="244.3" r="2.0" fill="#9a4cb0"/>
<circle cx="386.9" cy="244.3" r="0.8" fill="#c8a0cc" opacity="0.7"/>
<circle cx="372.8" cy="240.8" r="2.5" fill="#dcc0df" opacity="0.5"/>
<circle cx="372.8" cy="240.8" r="1.9" fill="#bc74c8"/>
<circle cx="404.2" cy="256.3" r="2.4" fill="#dcc0df" opacity="0.5"/>
<circle cx="404.2" cy="256.3" r="1.8" fill="#a458b8"/>
<circle cx="404.2" cy="256.3" r="0.7" fill="#c8a0cc" opacity="0.7"/>
<circle cx="333.4" cy="288.9" r="2.7" fill="#dcc0df" opacity="0.5"/>
<circle cx="333.4" cy="288.9" r="2.1" fill="#bc74c8"/>
<circle cx="333.4" cy="288.9" r="0.9" fill="#c8a0cc" opacity="0.7"/>
<circle cx="369.8" cy="257.0" r="2.6" fill="#dcc0df" opacity="0.5"/>
<circle cx="369.8" cy="257.0" r="2.0" fill="#9a4cb0"/>
<circle cx="369.8" cy="257.0" r="0.8" fill="#c8a0cc" opacity="0.7"/>
<circle cx="389.8" cy="263.0" r="2.6" fill="#dcc0df" opacity="0.5"/>
<circle cx="389.8" cy="263.0" r="2.0" fill="#9a4cb0"/>
<circle cx="389.8" cy="263.0" r="0.8" fill="#c8a0cc" opacity="0.7"/>
<circle cx="362.7" cy="235.7" r="2.8" fill="#dcc0df" opacity="0.5"/>
<circle cx="362.7" cy="235.7" r="2.2" fill="#8c44a8"/>
<circle cx="362.7" cy="235.7" r="0.9" fill="#c8a0cc" opacity="0.7"/>
<circle cx="379.3" cy="279.4" r="2.4" fill="#dcc0df" opacity="0.5"/>
<circle cx="379.3" cy="279.4" r="1.8" fill="#8c44a8"/>
<circle cx="387.6" cy="266.9" r="2.3" fill="#dcc0df" opacity="0.5"/>
<circle cx="387.6" cy="266.9" r="1.7" fill="#8c44a8"/>
<circle cx="390.7" cy="290.3" r="2.5" fill="#dcc0df" opacity="0.5"/>
<circle cx="390.7" cy="290.3" r="1.9" fill="#bc74c8"/>
<circle cx="393.1" cy="260.6" r="2.8" fill="#dcc0df" opacity="0.5"/>
<circle cx="393.1" cy="260.6" r="2.2" fill="#9a4cb0"/>
<circle cx="393.1" cy="260.6" r="0.9" fill="#c8a0cc" opacity="0.7"/>
<circle cx="372.5" cy="243.4" r="2.9" fill="#dcc0df" opacity="0.5"/>
<circle cx="372.5" cy="243.4" r="2.3" fill="#b064c0"/>
<circle cx="372.5" cy="243.4" r="0.9" fill="#c8a0cc" opacity="0.7"/>
<circle cx="341.9" cy="267.8" r="2.6" fill="#dcc0df" opacity="0.5"/>
<circle cx="341.9" cy="267.8" r="2.0" fill="#9a4cb0"/>
<circle cx="317.3" cy="243.1" r="2.7" fill="#dcc0df" opacity="0.5"/>
<circle cx="317.3" cy="243.1" r="2.1" fill="#a458b8"/>
<circle cx="317.3" cy="243.1" r="0.8" fill="#c8a0cc" opacity="0.7"/>
<circle cx="329.4" cy="283.4" r="2.4" fill="#dcc0df" opacity="0.5"/>
<circle cx="329.4" cy="283.4" r="1.8" fill="#8c44a8"/>
<circle cx="330.5" cy="284.8" r="2.6" fill="#dcc0df" opacity="0.5"/>
<circle cx="330.5" cy="284.8" r="2.0" fill="#a458b8"/>
<circle cx="355.4" cy="245.6" r="2.5" fill="#dcc0df" opacity="0.5"/>
<circle cx="355.4" cy="245.6" r="1.9" fill="#a458b8"/>
<circle cx="365.4" cy="268.3" r="2.9" fill="#dcc0df" opacity="0.5"/>
<circle cx="365.4" cy="268.3" r="2.3" fill="#b064c0"/>
<circle cx="338.5" cy="242.9" r="2.6" fill="#dcc0df" opacity="0.5"/>
<circle cx="338.5" cy="242.9" r="2.0" fill="#c484cc"/>
<circle cx="398.1" cy="283.2" r="2.3" fill="#dcc0df" opacity="0.5"/>
<circle cx="398.1" cy="283.2" r="1.7" fill="#c484cc"/>
<circle cx="398.1" cy="283.2" r="0.7" fill="#c8a0cc" opacity="0.7"/>
<circle cx="372.2" cy="226.8" r="2.4" fill="#dcc0df" opacity="0.5"/>
<circle cx="372.2" cy="226.8" r="1.8" fill="#bc74c8"/>
<circle cx="355.8" cy="227.5" r="2.9" fill="#dcc0df" opacity="0.5"/>
<circle cx="355.8" cy="227.5" r="2.3" fill="#b878c4"/>
<circle cx="368.6" cy="282.6" r="2.4" fill="#dcc0df" opacity="0.5"/>
<circle cx="368.6" cy="282.6" r="1.8" fill="#b064c0"/>
<circle cx="335.1" cy="271.5" r="2.7" fill="#dcc0df" opacity="0.5"/>
<circle cx="335.1" cy="271.5" r="2.1" fill="#c484cc"/>
<circle cx="398.4" cy="266.5" r="2.7" fill="#dcc0df" opacity="0.5"/>
<circle cx="398.4" cy="266.5" r="2.1" fill="#8c44a8"/>
<circle cx="390.6" cy="268.8" r="2.7" fill="#dcc0df" opacity="0.5"/>
<circle cx="390.6" cy="268.8" r="2.1" fill="#a458b8"/>
<circle cx="341.5" cy="288.6" r="2.6" fill="#dcc0df" opacity="0.5"/>
<circle cx="341.5" cy="288.6" r="2.0" fill="#b878c4"/>
<circle cx="328.5" cy="241.6" r="2.5" fill="#dcc0df" opacity="0.5"/>
<circle cx="328.5" cy="241.6" r="1.9" fill="#c484cc"/>
<circle cx="337.0" cy="248.8" r="2.8" fill="#dcc0df" opacity="0.5"/>
<circle cx="337.0" cy="248.8" r="2.2" fill="#a458b8"/>
<circle cx="383.5" cy="237.1" r="2.8" fill="#dcc0df" opacity="0.5"/>
<circle cx="383.5" cy="237.1" r="2.2" fill="#9a4cb0"/>
<circle cx="357.1" cy="284.6" r="2.8" fill="#dcc0df" opacity="0.5"/>
<circle cx="357.1" cy="284.6" r="2.2" fill="#c484cc"/>
<circle cx="357.1" cy="284.6" r="0.9" fill="#c8a0cc" opacity="0.7"/>
<circle cx="403.0" cy="277.9" r="2.5" fill="#dcc0df" opacity="0.5"/>
<circle cx="403.0" cy="277.9" r="1.9" fill="#bc74c8"/>
<circle cx="403.0" cy="277.9" r="0.8" fill="#c8a0cc" opacity="0.7"/>
<circle cx="324.4" cy="268.9" r="2.8" fill="#dcc0df" opacity="0.5"/>
<circle cx="324.4" cy="268.9" r="2.2" fill="#b064c0"/>
<circle cx="380.6" cy="279.3" r="2.8" fill="#dcc0df" opacity="0.5"/>
<circle cx="380.6" cy="279.3" r="2.2" fill="#8c44a8"/>
<circle cx="376.4" cy="255.0" r="2.5" fill="#dcc0df" opacity="0.5"/>
<circle cx="376.4" cy="255.0" r="1.9" fill="#c484cc"/>
<circle cx="366.4" cy="252.6" r="2.6" fill="#dcc0df" opacity="0.5"/>
<circle cx="366.4" cy="252.6" r="2.0" fill="#8c44a8"/>
<circle cx="370.7" cy="226.5" r="2.9" fill="#dcc0df" opacity="0.5"/>
<circle cx="370.7" cy="226.5" r="2.3" fill="#9a4cb0"/>
<circle cx="322.5" cy="247.3" r="2.6" fill="#dcc0df" opacity="0.5"/>
<circle cx="322.5" cy="247.3" r="2.0" fill="#c484cc"/>
<circle cx="322.5" cy="247.3" r="0.8" fill="#c8a0cc" opacity="0.7"/>
<circle cx="388.7" cy="249.2" r="2.7" fill="#dcc0df" opacity="0.5"/>
<circle cx="388.7" cy="249.2" r="2.1" fill="#a458b8"/>
<circle cx="357.1" cy="274.1" r="2.5" fill="#dcc0df" opacity="0.5"/>
<circle cx="357.1" cy="274.1" r="1.9" fill="#c484cc"/>
<circle cx="350.4" cy="226.7" r="2.4" fill="#dcc0df" opacity="0.5"/>
<circle cx="350.4" cy="226.7" r="1.8" fill="#9a4cb0"/>
<circle cx="394.7" cy="293.7" r="2.6" fill="#dcc0df" opacity="0.5"/>
<circle cx="394.7" cy="293.7" r="2.0" fill="#c484cc"/>
<circle cx="364.4" cy="274.5" r="2.4" fill="#dcc0df" opacity="0.5"/>
<circle cx="364.4" cy="274.5" r="1.8" fill="#bc74c8"/>
<circle cx="405.0" cy="284.0" r="2.4" fill="#dcc0df" opacity="0.5"/>
<circle cx="405.0" cy="284.0" r="1.8" fill="#bc74c8"/>
<circle cx="356.5" cy="261.4" r="2.4" fill="#dcc0df" opacity="0.5"/>
<circle cx="356.5" cy="261.4" r="1.8" fill="#8c44a8"/>
<circle cx="378.4" cy="274.6" r="2.3" fill="#dcc0df" opacity="0.5"/>
<circle cx="378.4" cy="274.6" r="1.7" fill="#8c44a8"/>
<circle cx="364.2" cy="272.9" r="2.6" fill="#dcc0df" opacity="0.5"/>
<circle cx="364.2" cy="272.9" r="2.0" fill="#c484cc"/>
<circle cx="393.8" cy="288.9" r="2.4" fill="#dcc0df" opacity="0.5"/>
<circle cx="393.8" cy="288.9" r="1.8" fill="#a458b8"/>
<circle cx="314.5" cy="233.0" r="2.6" fill="#dcc0df" opacity="0.5"/>
<circle cx="314.5" cy="233.0" r="2.0" fill="#b878c4"/>
<circle cx="374.5" cy="266.6" r="2.4" fill="#dcc0df" opacity="0.5"/>
<circle cx="374.5" cy="266.6" r="1.8" fill="#bc74c8"/>
<circle cx="374.5" cy="266.6" r="0.7" fill="#c8a0cc" opacity="0.7"/>
<circle cx="363.8" cy="250.5" r="2.5" fill="#dcc0df" opacity="0.5"/>
<circle cx="363.8" cy="250.5" r="1.9" fill="#b064c0"/>
<circle cx="363.8" cy="250.5" r="0.8" fill="#c8a0cc" opacity="0.7"/>
<circle cx="344.5" cy="279.6" r="2.3" fill="#dcc0df" opacity="0.5"/>
<circle cx="344.5" cy="279.6" r="1.7" fill="#a458b8"/>
<circle cx="344.5" cy="279.6" r="0.7" fill="#c8a0cc" opacity="0.7"/>
<circle cx="343.9" cy="276.4" r="2.5" fill="#dcc0df" opacity="0.5"/>
<circle cx="343.9" cy="276.4" r="1.9" fill="#8c44a8"/>
<circle cx="385.7" cy="243.1" r="2.5" fill="#dcc0df" opacity="0.5"/>
<circle cx="385.7" cy="243.1" r="1.9" fill="#a458b8"/>
<circle cx="385.7" cy="243.1" r="0.8" fill="#c8a0cc" opacity="0.7"/>
<circle cx="395.0" cy="253.8" r="2.5" fill="#dcc0df" opacity="0.5"/>
<circle cx="395.0" cy="253.8" r="1.9" fill="#b878c4"/>
<circle cx="345.3" cy="230.6" r="2.8" fill="#dcc0df" opacity="0.5"/>
<circle cx="345.3" cy="230.6" r="2.2" fill="#bc74c8"/>
<circle cx="348.6" cy="245.6" r="2.8" fill="#dcc0df" opacity="0.5"/>
<circle cx="348.6" cy="245.6" r="2.2" fill="#a458b8"/>
<circle cx="387.0" cy="237.2" r="2.7" fill="#dcc0df" opacity="0.5"/>
<circle cx="387.0" cy="237.2" r="2.1" fill="#9a4cb0"/>
<circle cx="363.7" cy="246.9" r="2.4" fill="#dcc0df" opacity="0.5"/>
<circle cx="363.7" cy="246.9" r="1.8" fill="#b878c4"/>
<circle cx="317.0" cy="275.6" r="2.8" fill="#dcc0df" opacity="0.5"/>
<circle cx="317.0" cy="275.6" r="2.2" fill="#c484cc"/>
<circle cx="358.9" cy="254.4" r="2.4" fill="#dcc0df" opacity="0.5"/>
<circle cx="358.9" cy="254.4" r="1.8" fill="#b878c4"/>
<circle cx="358.9" cy="254.4" r="0.7" fill="#c8a0cc" opacity="0.7"/>
<circle cx="356.7" cy="264.1" r="2.8" fill="#dcc0df" opacity="0.5"/>
<circle cx="356.7" cy="264.1" r="2.2" fill="#9a4cb0"/>
<circle cx="356.7" cy="264.1" r="0.9" fill="#c8a0cc" opacity="0.7"/>
<circle cx="378.0" cy="236.2" r="2.7" fill="#dcc0df" opacity="0.5"/>
<circle cx="378.0" cy="236.2" r="2.1" fill="#8c44a8"/>
<circle cx="378.0" cy="236.2" r="0.9" fill="#c8a0cc" opacity="0.7"/>
<circle cx="391.7" cy="248.5" r="2.4" fill="#dcc0df" opacity="0.5"/>
<circle cx="391.7" cy="248.5" r="1.8" fill="#c484cc"/>
<circle cx="387.0" cy="279.2" r="2.7" fill="#dcc0df" opacity="0.5"/>
<circle cx="387.0" cy="279.2" r="2.1" fill="#b064c0"/>
<circle cx="387.0" cy="279.2" r="0.9" fill="#c8a0cc" opacity="0.7"/>
<circle cx="316.5" cy="276.3" r="2.5" fill="#dcc0df" opacity="0.5"/>
<circle cx="316.5" cy="276.3" r="1.9" fill="#9a4cb0"/>
<circle cx="395.0" cy="286.5" r="2.5" fill="#dcc0df" opacity="0.5"/>
<circle cx="395.0" cy="286.5" r="1.9" fill="#b064c0"/>
<circle cx="386.4" cy="274.5" r="2.3" fill="#dcc0df" opacity="0.5"/>
<circle cx="386.4" cy="274.5" r="1.7" fill="#8c44a8"/>
<circle cx="329.2" cy="285.4" r="2.7" fill="#dcc0df" opacity="0.5"/>
<circle cx="329.2" cy="285.4" r="2.1" fill="#a458b8"/>
<circle cx="331.5" cy="268.7" r="2.7" fill="#dcc0df" opacity="0.5"/>
<circle cx="331.5" cy="268.7" r="2.1" fill="#9a4cb0"/>
<circle cx="331.5" cy="268.7" r="0.8" fill="#c8a0cc" opacity="0.7"/>
<circle cx="320.2" cy="239.9" r="2.5" fill="#dcc0df" opacity="0.5"/>
<circle cx="320.2" cy="239.9" r="1.9" fill="#b064c0"/>
<circle cx="399.5" cy="273.0" r="2.9" fill="#dcc0df" opacity="0.5"/>
<circle cx="399.5" cy="273.0" r="2.3" fill="#b064c0"/>
<circle cx="384.0" cy="246.1" r="2.8" fill="#dcc0df" opacity="0.5"/>
<circle cx="384.0" cy="246.1" r="2.2" fill="#c484cc"/>
<circle cx="404.5" cy="273.8" r="2.5" fill="#dcc0df" opacity="0.5"/>
<circle cx="404.5" cy="273.8" r="1.9" fill="#b878c4"/>
<circle cx="381.2" cy="232.0" r="2.5" fill="#dcc0df" opacity="0.5"/>
<circle cx="381.2" cy="232.0" r="1.9" fill="#8c44a8"/>
<circle cx="402.0" cy="257.1" r="2.6" fill="#dcc0df" opacity="0.5"/>
<circle cx="402.0" cy="257.1" r="2.0" fill="#8c44a8"/>
<circle cx="368.6" cy="257.8" r="2.7" fill="#dcc0df" opacity="0.5"/>
<circle cx="368.6" cy="257.8" r="2.1" fill="#9a4cb0"/>
<circle cx="391.3" cy="280.6" r="2.4" fill="#dcc0df" opacity="0.5"/>
<circle cx="391.3" cy="280.6" r="1.8" fill="#8c44a8"/>
<circle cx="361.4" cy="238.3" r="2.8" fill="#dcc0df" opacity="0.5"/>
<circle cx="361.4" cy="238.3" r="2.2" fill="#a458b8"/>
<circle cx="317.6" cy="275.6" r="2.4" fill="#dcc0df" opacity="0.5"/>
<circle cx="317.6" cy="275.6" r="1.8" fill="#a458b8"/>
<circle cx="317.6" cy="275.6" r="0.7" fill="#c8a0cc" opacity="0.7"/>
<circle cx="375.2" cy="235.3" r="2.7" fill="#dcc0df" opacity="0.5"/>
<circle cx="375.2" cy="235.3" r="2.1" fill="#a458b8"/>
<circle cx="388.0" cy="264.5" r="2.4" fill="#dcc0df" opacity="0.5"/>
<circle cx="388.0" cy="264.5" r="1.8" fill="#8c44a8"/>
<circle cx="388.0" cy="264.5" r="0.7" fill="#c8a0cc" opacity="0.7"/>
<circle cx="405.1" cy="284.9" r="2.4" fill="#dcc0df" opacity="0.5"/>
<circle cx="405.1" cy="284.9" r="1.8" fill="#8c44a8"/>
<circle cx="340.8" cy="240.5" r="2.5" fill="#dcc0df" opacity="0.5"/>
<circle cx="340.8" cy="240.5" r="1.9" fill="#a458b8"/>
<circle cx="340.8" cy="240.5" r="0.7" fill="#c8a0cc" opacity="0.7"/>
<circle cx="335.5" cy="293.6" r="2.6" fill="#dcc0df" opacity="0.5"/>
<circle cx="335.5" cy="293.6" r="2.0" fill="#c484cc"/>
<circle cx="320.8" cy="231.0" r="2.9" fill="#dcc0df" opacity="0.5"/>
<circle cx="320.8" cy="231.0" r="2.3" fill="#b878c4"/>
<circle cx="381.0" cy="249.3" r="2.5" fill="#dcc0df" opacity="0.5"/>
<circle cx="381.0" cy="249.3" r="1.9" fill="#8c44a8"/>
<circle cx="329.5" cy="243.3" r="2.3" fill="#dcc0df" opacity="0.5"/>
<circle cx="329.5" cy="243.3" r="1.7" fill="#b878c4"/>
<circle cx="314.0" cy="276.5" r="2.7" fill="#dcc0df" opacity="0.5"/>
<circle cx="314.0" cy="276.5" r="2.1" fill="#9a4cb0"/>
<circle cx="314.0" cy="276.5" r="0.8" fill="#c8a0cc" opacity="0.7"/>
<circle cx="392.3" cy="278.0" r="1.8" fill="#4e3294"/>
<circle cx="397.5" cy="277.5" r="1.8" fill="#5a3a9e"/>
<circle cx="395.8" cy="281.9" r="2.0" fill="#4e3294"/>
<circle cx="389.5" cy="281.4" r="1.7" fill="#6a44a6"/>
<circle cx="388.2" cy="280.8" r="1.8" fill="#4e3294"/>
<circle cx="389.0" cy="279.4" r="1.7" fill="#5a3a9e"/>
<circle cx="380.3" cy="284.0" r="1.7" fill="#5a3a9e"/>
<circle cx="393.4" cy="277.5" r="1.7" fill="#6a44a6"/>
<circle cx="398.6" cy="280.9" r="2.1" fill="#4e3294"/>
<circle cx="387.6" cy="282.0" r="2.0" fill="#4e3294"/>
<circle cx="388.5" cy="273.6" r="1.6" fill="#5a3a9e"/>
<circle cx="386.7" cy="275.1" r="2.1" fill="#5a3a9e"/>
<circle cx="390.3" cy="281.0" r="2.1" fill="#4e3294"/>
<circle cx="389.0" cy="282.6" r="1.7" fill="#6a44a6"/>
<circle cx="315.6" cy="241.1" r="1.9" fill="#4e3294"/>
<circle cx="327.5" cy="234.3" r="2.2" fill="#4e3294"/>
<circle cx="326.6" cy="244.6" r="2.0" fill="#6a44a6"/>
<circle cx="317.3" cy="239.6" r="1.9" fill="#6a44a6"/>
<circle cx="314.1" cy="242.1" r="1.8" fill="#6a44a6"/>
<circle cx="314.2" cy="240.5" r="2.1" fill="#5a3a9e"/>
<circle cx="318.0" cy="238.0" r="1.7" fill="#4e3294"/>
<circle cx="315.4" cy="239.3" r="2.2" fill="#6a44a6"/>
<circle cx="391.6" cy="230.8" r="1.8" fill="#5a3a9e"/>
<circle cx="398.4" cy="240.8" r="1.7" fill="#4e3294"/>
<circle cx="403.1" cy="236.1" r="1.8" fill="#5a3a9e"/>
<circle cx="399.2" cy="236.4" r="2.0" fill="#5a3a9e"/>
<circle cx="394.0" cy="230.8" r="1.9" fill="#5a3a9e"/>
<circle cx="396.0" cy="224.0" r="1.9" fill="#6a44a6"/>
<circle cx="393.6" cy="225.9" r="1.7" fill="#4e3294"/>
<circle cx="390.6" cy="229.9" r="2.1" fill="#5a3a9e"/>
<circle cx="316.8" cy="272.3" r="1.9" fill="#6a44a6"/>
<circle cx="326.2" cy="275.6" r="1.7" fill="#5a3a9e"/>
<circle cx="317.5" cy="276.3" r="1.7" fill="#4e3294"/>
<circle cx="327.0" cy="279.6" r="1.8" fill="#5a3a9e"/>
<circle cx="321.1" cy="270.3" r="1.9" fill="#5a3a9e"/>
<circle cx="323.0" cy="275.1" r="2.1" fill="#4e3294"/>
</g>
<rect x="303.4" y="226.0" width="103.8" height="70.2" fill="none" stroke="#8e8e8e" stroke-width="0.9"/>
<defs><clipPath id="cPB"><rect x="409.3" y="226.4" width="104.2" height="70.4"/></clipPath></defs>
<g clip-path="url(#cPB)">
<rect x="409.30" y="226.40" width="104.20" height="70.40" fill="#e9e9e8"/>
<circle cx="512.3" cy="240.6" r="2.5" fill="#e0e4ea" opacity="0.7"/>
<circle cx="500.0" cy="238.2" r="5.0" fill="#f1f1ef" opacity="0.7"/>
<circle cx="493.1" cy="278.2" r="2.0" fill="#f1f1ef" opacity="0.7"/>
<circle cx="422.1" cy="252.7" r="4.9" fill="#f1f1ef" opacity="0.7"/>
<circle cx="484.5" cy="229.5" r="4.4" fill="#dfe3e8" opacity="0.7"/>
<circle cx="446.4" cy="249.4" r="4.4" fill="#dfe3e8" opacity="0.7"/>
<circle cx="505.7" cy="273.9" r="3.0" fill="#dfe3e8" opacity="0.7"/>
<circle cx="481.6" cy="227.9" r="6.0" fill="#f1f1ef" opacity="0.7"/>
<circle cx="421.1" cy="227.9" r="2.4" fill="#f1f1ef" opacity="0.7"/>
<circle cx="428.6" cy="265.4" r="3.2" fill="#e0e4ea" opacity="0.7"/>
<circle cx="479.1" cy="285.3" r="4.4" fill="#f1f1ef" opacity="0.7"/>
<circle cx="465.4" cy="274.9" r="5.2" fill="#f1f1ef" opacity="0.7"/>
<circle cx="410.7" cy="250.5" r="2.6" fill="#e0e4ea" opacity="0.7"/>
<circle cx="459.7" cy="228.6" r="5.3" fill="#dfe3e8" opacity="0.7"/>
<circle cx="428.3" cy="284.0" r="4.7" fill="#f1f1ef" opacity="0.7"/>
<circle cx="497.1" cy="294.5" r="4.8" fill="#f1f1ef" opacity="0.7"/>
<circle cx="450.3" cy="287.9" r="4.4" fill="#dfe3e8" opacity="0.7"/>
<circle cx="446.9" cy="263.6" r="3.2" fill="#dfe3e8" opacity="0.7"/>
<circle cx="470.7" cy="229.5" r="2.7" fill="#f1f1ef" opacity="0.7"/>
<circle cx="485.1" cy="249.7" r="3.9" fill="#f1f1ef" opacity="0.7"/>
<circle cx="442.1" cy="250.0" r="3.9" fill="#dfe3e8" opacity="0.7"/>
<circle cx="411.4" cy="258.7" r="5.9" fill="#dfe3e8" opacity="0.7"/>
<circle cx="475.0" cy="277.6" r="2.6" fill="#f1f1ef" opacity="0.7"/>
<circle cx="437.8" cy="261.6" r="3.0" fill="#e0e4ea" opacity="0.7"/>
<circle cx="469.1" cy="267.5" r="2.6" fill="#e0e4ea" opacity="0.7"/>
<circle cx="412.9" cy="265.9" r="5.1" fill="#dfe3e8" opacity="0.7"/>
<circle cx="490.0" cy="271.0" r="4.5" fill="#f1f1ef" opacity="0.7"/>
<circle cx="491.8" cy="282.2" r="3.0" fill="#dfe3e8" opacity="0.7"/>
<circle cx="480.3" cy="247.8" r="5.1" fill="#e0e4ea" opacity="0.7"/>
<circle cx="447.1" cy="286.5" r="3.0" fill="#e0e4ea" opacity="0.7"/>
<circle cx="483.9" cy="249.9" r="4.8" fill="#e0e4ea" opacity="0.7"/>
<circle cx="443.0" cy="296.0" r="3.9" fill="#f1f1ef" opacity="0.7"/>
<circle cx="502.5" cy="283.4" r="6.0" fill="#dfe3e8" opacity="0.7"/>
<circle cx="423.4" cy="226.9" r="5.5" fill="#f1f1ef" opacity="0.7"/>
<circle cx="451.5" cy="254.3" r="5.1" fill="#dfe3e8" opacity="0.7"/>
<circle cx="470.4" cy="236.5" r="4.9" fill="#f1f1ef" opacity="0.7"/>
<circle cx="485.0" cy="265.2" r="5.7" fill="#f1f1ef" opacity="0.7"/>
<circle cx="417.0" cy="239.8" r="5.7" fill="#e0e4ea" opacity="0.7"/>
<circle cx="427.9" cy="267.3" r="5.9" fill="#f1f1ef" opacity="0.7"/>
<circle cx="510.4" cy="275.0" r="4.9" fill="#dfe3e8" opacity="0.7"/>
<circle cx="432.4" cy="249.2" r="3.0" fill="#e4b4dc" opacity="0.45"/>
<circle cx="433.8" cy="256.4" r="4.8" fill="#e4b4dc" opacity="0.45"/>
<circle cx="427.1" cy="246.6" r="2.6" fill="#e4b4dc" opacity="0.45"/>
<circle cx="412.6" cy="253.3" r="5.2" fill="#e4b4dc" opacity="0.45"/>
<circle cx="418.5" cy="255.0" r="2.8" fill="#e4b4dc" opacity="0.45"/>
<circle cx="417.4" cy="240.9" r="2.9" fill="#e4b4dc" opacity="0.45"/>
<circle cx="412.6" cy="241.4" r="4.9" fill="#e4b4dc" opacity="0.45"/>
<circle cx="425.8" cy="261.9" r="2.5" fill="#e4b4dc" opacity="0.45"/>
<circle cx="418.2" cy="259.4" r="2.5" fill="#e4b4dc" opacity="0.45"/>
<circle cx="419.5" cy="239.9" r="3.5" fill="#e4b4dc" opacity="0.45"/>
<circle cx="433.1" cy="239.9" r="4.0" fill="#e4b4dc" opacity="0.45"/>
<circle cx="426.6" cy="264.4" r="3.0" fill="#e4b4dc" opacity="0.45"/>
<circle cx="433.0" cy="264.3" r="2.8" fill="#e4b4dc" opacity="0.45"/>
<circle cx="426.7" cy="263.7" r="5.5" fill="#e4b4dc" opacity="0.45"/>
<circle cx="421.4" cy="268.9" r="5.1" fill="#e4b4dc" opacity="0.45"/>
<circle cx="412.0" cy="249.1" r="4.5" fill="#e4b4dc" opacity="0.45"/>
<circle cx="496.3" cy="237.4" r="1.3" fill="#4b2f8f"/>
<circle cx="446.6" cy="251.9" r="1.5" fill="#5a3d9e"/>
<circle cx="477.8" cy="268.8" r="1.5" fill="#45308a"/>
<circle cx="494.1" cy="260.0" r="1.5" fill="#6148a2"/>
<circle cx="467.6" cy="251.8" r="1.3" fill="#45308a"/>
<circle cx="433.1" cy="279.7" r="1.3" fill="#5a3d9e"/>
<circle cx="422.0" cy="264.6" r="1.5" fill="#45308a"/>
<circle cx="420.5" cy="278.0" r="1.5" fill="#6148a2"/>
<circle cx="477.8" cy="287.0" r="1.3" fill="#6148a2"/>
<circle cx="434.5" cy="251.3" r="1.4" fill="#45308a"/>
<circle cx="495.0" cy="246.3" r="1.4" fill="#5a3d9e"/>
<circle cx="456.5" cy="267.2" r="1.3" fill="#45308a"/>
<circle cx="454.6" cy="236.2" r="1.5" fill="#4b2f8f"/>
<circle cx="440.8" cy="261.8" r="1.5" fill="#6148a2"/>
<circle cx="491.8" cy="274.9" r="1.4" fill="#5a3d9e"/>
<circle cx="414.3" cy="289.3" r="1.3" fill="#6148a2"/>
<circle cx="510.4" cy="263.4" r="1.3" fill="#5a3d9e"/>
<circle cx="443.2" cy="229.3" r="1.3" fill="#45308a"/>
<circle cx="449.5" cy="255.3" r="1.6" fill="#4b2f8f"/>
<circle cx="495.3" cy="273.1" r="1.5" fill="#4b2f8f"/>
<circle cx="442.2" cy="294.8" r="1.5" fill="#6148a2"/>
<circle cx="462.5" cy="268.1" r="1.3" fill="#6148a2"/>
<circle cx="496.9" cy="286.8" r="1.5" fill="#5a3d9e"/>
<circle cx="447.2" cy="240.8" r="1.4" fill="#5a3d9e"/>
<circle cx="425.2" cy="273.0" r="1.6" fill="#4b2f8f"/>
<circle cx="453.9" cy="255.3" r="1.4" fill="#45308a"/>
<circle cx="456.5" cy="232.6" r="1.6" fill="#4b2f8f"/>
<circle cx="456.1" cy="260.1" r="1.5" fill="#5a3d9e"/>
<circle cx="435.9" cy="245.1" r="1.4" fill="#6148a2"/>
<circle cx="491.9" cy="269.9" r="1.3" fill="#6148a2"/>
<circle cx="498.0" cy="267.2" r="1.3" fill="#4b2f8f"/>
<circle cx="417.6" cy="257.8" r="1.4" fill="#4b2f8f"/>
<circle cx="427.7" cy="231.0" r="1.3" fill="#4b2f8f"/>
<circle cx="489.5" cy="280.6" r="1.3" fill="#4b2f8f"/>
<circle cx="499.2" cy="265.1" r="1.5" fill="#5a3d9e"/>
<circle cx="424.5" cy="249.9" r="1.3" fill="#45308a"/>
<circle cx="463.5" cy="232.5" r="1.5" fill="#45308a"/>
<circle cx="467.2" cy="262.4" r="1.3" fill="#45308a"/>
<circle cx="435.2" cy="253.2" r="1.4" fill="#45308a"/>
<circle cx="430.3" cy="230.1" r="1.4" fill="#6148a2"/>
<circle cx="477.7" cy="276.4" r="1.6" fill="#45308a"/>
<circle cx="414.6" cy="248.5" r="1.4" fill="#45308a"/>
<circle cx="430.5" cy="240.7" r="1.6" fill="#4b2f8f"/>
<circle cx="414.4" cy="287.1" r="1.5" fill="#5a3d9e"/>
<circle cx="426.4" cy="241.9" r="1.5" fill="#5a3d9e"/>
<circle cx="430.3" cy="232.8" r="1.3" fill="#45308a"/>
<circle cx="499.8" cy="291.4" r="1.3" fill="#6148a2"/>
<circle cx="442.5" cy="265.9" r="1.6" fill="#45308a"/>
<circle cx="443.4" cy="237.4" r="1.5" fill="#4b2f8f"/>
<circle cx="429.9" cy="236.9" r="1.4" fill="#6148a2"/>
<circle cx="421.2" cy="284.7" r="1.6" fill="#4b2f8f"/>
<circle cx="461.0" cy="291.9" r="1.4" fill="#45308a"/>
<circle cx="471.6" cy="264.5" r="1.3" fill="#45308a"/>
<circle cx="419.8" cy="226.5" r="1.3" fill="#45308a"/>
<circle cx="414.5" cy="249.9" r="1.3" fill="#45308a"/>
<circle cx="416.5" cy="265.8" r="1.4" fill="#5a3d9e"/>
<circle cx="471.4" cy="258.9" r="1.4" fill="#4b2f8f"/>
<circle cx="452.3" cy="275.4" r="1.5" fill="#4b2f8f"/>
<circle cx="448.3" cy="273.1" r="1.3" fill="#4b2f8f"/>
<circle cx="459.3" cy="236.9" r="1.6" fill="#4b2f8f"/>
<circle cx="425.3" cy="245.4" r="1.4" fill="#5a3d9e"/>
<circle cx="426.4" cy="264.1" r="1.4" fill="#5a3d9e"/>
<circle cx="434.3" cy="233.1" r="1.3" fill="#5a3d9e"/>
<circle cx="425.3" cy="245.0" r="1.4" fill="#4b2f8f"/>
<circle cx="439.7" cy="289.1" r="1.5" fill="#5a3d9e"/>
<circle cx="494.7" cy="284.2" r="1.4" fill="#4b2f8f"/>
<circle cx="457.4" cy="291.2" r="1.6" fill="#6148a2"/>
<circle cx="424.7" cy="262.4" r="1.5" fill="#5a3d9e"/>
<circle cx="483.1" cy="231.1" r="1.6" fill="#4b2f8f"/>
<circle cx="487.6" cy="271.2" r="1.5" fill="#45308a"/>
<circle cx="445.7" cy="237.8" r="1.5" fill="#6148a2"/>
<circle cx="492.9" cy="268.0" r="1.5" fill="#45308a"/>
<circle cx="452.1" cy="247.5" r="1.4" fill="#4b2f8f"/>
<circle cx="439.7" cy="232.6" r="1.5" fill="#6148a2"/>
<circle cx="451.8" cy="264.3" r="1.3" fill="#4b2f8f"/>
<circle cx="444.0" cy="237.0" r="1.4" fill="#6148a2"/>
<circle cx="491.7" cy="269.1" r="1.6" fill="#6148a2"/>
<circle cx="464.2" cy="226.4" r="1.6" fill="#6148a2"/>
<circle cx="468.2" cy="272.7" r="1.5" fill="#6148a2"/>
<circle cx="423.4" cy="279.4" r="1.4" fill="#45308a"/>
<circle cx="463.7" cy="274.0" r="1.4" fill="#45308a"/>
<circle cx="441.7" cy="262.5" r="1.5" fill="#6148a2"/>
<circle cx="413.0" cy="249.3" r="1.6" fill="#45308a"/>
<circle cx="424.4" cy="267.8" r="1.3" fill="#6148a2"/>
<circle cx="412.0" cy="265.0" r="1.3" fill="#6148a2"/>
<circle cx="461.0" cy="229.8" r="1.6" fill="#5a3d9e"/>
<circle cx="463.1" cy="288.2" r="1.5" fill="#5a3d9e"/>
<circle cx="458.8" cy="270.1" r="1.4" fill="#45308a"/>
<circle cx="458.5" cy="234.3" r="1.5" fill="#6148a2"/>
<circle cx="467.5" cy="273.6" r="1.3" fill="#45308a"/>
<circle cx="426.6" cy="238.8" r="1.5" fill="#4b2f8f"/>
<circle cx="493.3" cy="251.0" r="1.6" fill="#6148a2"/>
<circle cx="479.1" cy="289.9" r="1.4" fill="#4b2f8f"/>
<circle cx="505.6" cy="231.1" r="1.5" fill="#5a3d9e"/>
<circle cx="469.5" cy="254.8" r="1.3" fill="#5a3d9e"/>
<circle cx="482.6" cy="269.5" r="1.3" fill="#45308a"/>
<circle cx="457.0" cy="280.2" r="1.4" fill="#6148a2"/>
<circle cx="470.8" cy="268.3" r="1.4" fill="#6148a2"/>
<circle cx="420.8" cy="242.2" r="1.4" fill="#45308a"/>
<circle cx="464.6" cy="242.6" r="1.5" fill="#45308a"/>
<circle cx="496.8" cy="283.3" r="1.3" fill="#5a3d9e"/>
<circle cx="412.3" cy="261.9" r="1.3" fill="#45308a"/>
<circle cx="462.7" cy="267.8" r="1.6" fill="#4b2f8f"/>
<circle cx="423.2" cy="258.4" r="1.5" fill="#6148a2"/>
<circle cx="429.2" cy="269.7" r="1.3" fill="#5a3d9e"/>
<circle cx="417.3" cy="289.6" r="1.5" fill="#5a3d9e"/>
<circle cx="410.9" cy="251.3" r="1.5" fill="#45308a"/>
<circle cx="467.4" cy="270.6" r="1.4" fill="#45308a"/>
<circle cx="441.2" cy="229.5" r="1.4" fill="#4b2f8f"/>
<circle cx="493.1" cy="258.4" r="1.3" fill="#5a3d9e"/>
</g>
<rect x="409.3" y="226.4" width="104.2" height="70.4" fill="none" stroke="#8e8e8e" stroke-width="0.9"/>
<defs><clipPath id="cSP"><rect x="303.4" y="299.3" width="103.8" height="70.2"/></clipPath></defs>
<g clip-path="url(#cSP)">
<rect x="303.40" y="299.30" width="103.80" height="70.20" fill="#e4e4ef"/>
<circle cx="341.2" cy="361.4" r="3.9" fill="#ecebf2" opacity="0.7"/>
<circle cx="398.0" cy="355.1" r="3.9" fill="#ecebf2" opacity="0.7"/>
<circle cx="391.6" cy="336.4" r="3.0" fill="#d4d6ea" opacity="0.7"/>
<circle cx="325.1" cy="317.0" r="2.1" fill="#ecebf2" opacity="0.7"/>
<circle cx="377.1" cy="365.7" r="5.9" fill="#d4d6ea" opacity="0.7"/>
<circle cx="383.8" cy="350.2" r="2.6" fill="#d4d6ea" opacity="0.7"/>
<circle cx="317.3" cy="300.2" r="2.9" fill="#eee2ea" opacity="0.7"/>
<circle cx="358.5" cy="301.2" r="5.3" fill="#ecebf2" opacity="0.7"/>
<circle cx="351.5" cy="302.3" r="5.6" fill="#eee2ea" opacity="0.7"/>
<circle cx="398.3" cy="359.6" r="3.4" fill="#eee2ea" opacity="0.7"/>
<circle cx="395.3" cy="333.3" r="4.6" fill="#ecebf2" opacity="0.7"/>
<circle cx="304.2" cy="313.7" r="3.4" fill="#ecebf2" opacity="0.7"/>
<circle cx="313.6" cy="360.9" r="5.8" fill="#d4d6ea" opacity="0.7"/>
<circle cx="350.8" cy="340.4" r="4.5" fill="#eee2ea" opacity="0.7"/>
<circle cx="398.3" cy="352.8" r="4.3" fill="#eee2ea" opacity="0.7"/>
<circle cx="309.0" cy="332.3" r="3.6" fill="#eee2ea" opacity="0.7"/>
<circle cx="392.9" cy="368.8" r="4.9" fill="#d4d6ea" opacity="0.7"/>
<circle cx="375.2" cy="332.4" r="2.6" fill="#d4d6ea" opacity="0.7"/>
<circle cx="365.6" cy="303.7" r="3.0" fill="#ecebf2" opacity="0.7"/>
<circle cx="303.9" cy="339.0" r="5.0" fill="#ecebf2" opacity="0.7"/>
<circle cx="369.2" cy="351.4" r="2.2" fill="#ecebf2" opacity="0.7"/>
<circle cx="397.6" cy="313.3" r="2.0" fill="#d4d6ea" opacity="0.7"/>
<circle cx="308.5" cy="316.2" r="5.7" fill="#ecebf2" opacity="0.7"/>
<circle cx="383.9" cy="302.4" r="4.2" fill="#eee2ea" opacity="0.7"/>
<circle cx="398.8" cy="317.8" r="2.6" fill="#ecebf2" opacity="0.7"/>
<circle cx="353.1" cy="366.4" r="5.0" fill="#eee2ea" opacity="0.7"/>
<circle cx="313.4" cy="309.4" r="4.1" fill="#eee2ea" opacity="0.7"/>
<circle cx="356.6" cy="306.7" r="5.1" fill="#d4d6ea" opacity="0.7"/>
<circle cx="398.5" cy="299.5" r="5.4" fill="#eee2ea" opacity="0.7"/>
<circle cx="370.7" cy="305.3" r="4.2" fill="#eee2ea" opacity="0.7"/>
<circle cx="365.1" cy="355.4" r="2.3" fill="#ecebf2" opacity="0.7"/>
<circle cx="372.1" cy="342.5" r="3.8" fill="#eee2ea" opacity="0.7"/>
<circle cx="304.2" cy="351.6" r="2.1" fill="#eee2ea" opacity="0.7"/>
<circle cx="387.6" cy="331.5" r="2.5" fill="#eee2ea" opacity="0.7"/>
<circle cx="379.7" cy="346.5" r="5.9" fill="#eee2ea" opacity="0.7"/>
<circle cx="404.8" cy="337.6" r="3.4" fill="#ecebf2" opacity="0.7"/>
<circle cx="312.5" cy="316.1" r="5.5" fill="#ecebf2" opacity="0.7"/>
<circle cx="312.7" cy="318.5" r="3.2" fill="#d4d6ea" opacity="0.7"/>
<circle cx="318.7" cy="341.9" r="5.9" fill="#ecebf2" opacity="0.7"/>
<circle cx="304.1" cy="304.6" r="2.5" fill="#eee2ea" opacity="0.7"/>
<circle cx="383.1" cy="314.3" r="3.5" fill="#d4d6ea" opacity="0.7"/>
<circle cx="399.3" cy="339.6" r="2.8" fill="#eee2ea" opacity="0.7"/>
<circle cx="381.5" cy="304.9" r="2.1" fill="#ecebf2" opacity="0.7"/>
<circle cx="377.8" cy="301.4" r="4.7" fill="#d4d6ea" opacity="0.7"/>
<circle cx="386.6" cy="303.1" r="4.5" fill="#d4d6ea" opacity="0.7"/>
<circle cx="349.3" cy="348.9" r="3.0" fill="#d4d6ea" opacity="0.7"/>
<circle cx="391.2" cy="301.3" r="3.5" fill="#ecebf2" opacity="0.7"/>
<circle cx="349.4" cy="368.2" r="4.6" fill="#d4d6ea" opacity="0.7"/>
<circle cx="382.5" cy="358.0" r="6.0" fill="#d4d6ea" opacity="0.7"/>
<circle cx="331.9" cy="316.8" r="3.6" fill="#ecebf2" opacity="0.7"/>
<path d="M338.8 337.5h0M340.4 356.6h0M303.6 353.4h0M328.2 323.4h0M311.6 310.6h0M307.1 359.1h0M347.5 323.0h0M310.1 307.9h0M350.9 314.1h0M308.9 345.9h0M328.8 363.7h0M400.1 335.7h0M384.0 343.6h0M370.6 314.6h0M381.8 361.5h0M377.5 329.6h0M315.7 365.8h0M366.8 342.4h0M320.7 365.9h0M332.9 326.7h0M338.9 366.7h0M312.9 360.1h0M370.0 342.7h0M371.5 351.3h0M318.1 304.2h0M310.5 326.8h0M311.5 350.5h0M359.0 304.5h0M311.1 338.4h0M378.4 344.8h0M356.4 360.9h0M399.0 330.9h0M396.8 317.2h0M344.4 348.2h0M321.4 368.7h0M394.5 359.8h0M351.2 322.0h0M324.8 326.5h0M384.8 306.8h0M325.1 323.9h0M338.2 343.2h0M391.2 304.4h0M312.7 354.2h0M372.1 321.2h0M330.7 302.5h0M353.4 358.0h0M309.3 317.1h0M312.6 340.3h0M309.8 320.1h0M331.3 364.6h0M400.6 324.2h0M359.7 311.7h0M341.7 351.1h0M341.9 311.0h0M372.2 360.5h0M397.8 310.9h0M382.4 364.7h0M306.5 344.8h0M395.4 352.8h0M392.0 316.2h0M396.1 317.8h0M304.2 306.3h0M342.6 325.2h0M332.7 332.5h0M354.0 307.0h0M361.0 333.8h0M345.4 333.3h0M399.2 363.2h0M347.6 303.6h0M323.2 318.0h0M349.5 316.1h0M338.5 303.3h0M356.3 333.3h0M325.8 342.2h0M407.2 364.5h0M342.5 303.5h0M348.2 303.2h0M357.5 335.1h0M336.2 306.4h0M352.9 332.2h0M401.6 354.4h0M317.1 355.9h0M368.9 306.2h0M332.5 354.7h0M310.5 348.7h0M352.7 317.4h0M356.3 343.4h0M387.6 362.7h0M370.2 347.5h0M306.7 344.8h0M383.6 345.9h0M317.9 324.9h0M343.6 361.6h0M336.8 302.2h0M392.4 345.4h0M371.0 348.4h0M305.0 331.5h0M378.5 330.8h0M391.6 319.3h0M404.7 358.2h0M335.0 321.3h0M324.1 303.9h0M306.0 310.9h0M340.8 333.3h0M310.2 325.5h0M392.0 351.4h0M373.2 314.2h0M397.4 312.8h0M352.2 321.1h0M384.8 318.3h0M404.6 352.4h0M306.7 311.8h0M346.3 349.1h0M362.4 353.4h0M328.1 358.1h0M319.5 356.3h0M366.4 332.6h0M360.3 326.4h0M330.5 338.8h0M331.8 328.5h0M397.9 369.4h0M317.4 321.8h0M381.6 311.1h0M347.3 304.9h0M388.5 354.8h0M329.7 339.3h0M326.5 309.9h0M380.7 367.2h0M377.3 306.0h0M348.6 356.8h0M403.8 362.8h0M310.7 352.2h0M321.6 309.0h0M311.0 325.8h0M334.6 345.9h0M376.7 340.2h0M349.7 334.4h0M358.5 347.0h0M341.8 335.9h0M361.4 329.9h0M364.9 317.1h0M343.1 359.6h0M402.7 344.5h0M346.2 366.4h0M330.1 357.0h0M376.2 303.3h0M374.2 314.2h0M337.5 363.9h0M349.6 323.2h0M382.4 366.4h0M395.8 332.0h0M337.1 367.5h0M404.9 305.5h0M404.2 337.4h0M345.0 308.7h0M381.0 325.3h0M376.9 326.0h0M354.7 324.9h0M407.0 344.2h0M394.6 307.2h0M356.3 361.4h0M367.3 344.7h0M352.1 331.2h0M337.9 337.4h0M339.2 352.5h0M336.0 356.3h0M375.3 346.8h0M384.5 327.0h0M315.6 343.5h0M333.7 337.9h0M324.6 316.7h0M364.9 353.3h0M341.7 359.0h0M370.7 310.8h0M310.1 331.2h0M372.5 353.1h0M308.1 362.3h0M365.2 328.2h0M361.6 301.3h0M386.3 358.1h0M312.3 316.8h0M321.4 311.6h0M396.9 354.4h0M327.9 301.0h0M312.0 305.5h0M324.0 332.3h0M311.0 323.8h0M333.7 351.8h0M394.2 322.7h0M399.6 317.8h0M331.0 303.8h0M308.8 367.6h0M317.1 360.2h0M337.5 334.5h0M318.0 341.8h0M406.1 355.8h0M381.4 358.2h0M347.3 320.0h0M305.1 321.2h0M310.9 332.5h0M310.2 310.0h0M385.8 331.0h0M352.0 356.5h0M368.0 357.2h0M352.4 329.9h0M304.8 364.8h0M325.8 358.3h0M350.9 352.0h0M355.4 335.9h0M337.8 303.3h0M327.1 301.0h0M356.6 314.1h0M377.9 331.2h0M323.4 312.2h0M405.8 369.2h0M396.7 308.5h0M309.8 331.8h0M338.6 348.7h0M374.1 348.6h0M387.0 327.1h0M357.7 320.8h0M383.8 321.4h0M333.9 322.1h0M327.9 311.6h0M368.7 316.5h0M306.5 321.8h0M384.9 349.7h0M393.7 347.4h0M352.9 321.1h0M311.2 345.6h0M368.1 330.0h0M310.3 355.7h0M356.7 330.9h0M391.9 365.2h0M346.8 348.8h0M358.9 354.0h0M378.6 321.4h0M308.7 353.3h0M312.5 364.1h0M317.2 359.5h0M401.3 338.4h0M310.0 347.3h0M307.0 345.5h0M391.9 345.7h0M338.8 335.8h0M318.4 348.3h0M377.7 351.0h0M306.7 363.2h0M373.0 336.5h0M376.1 321.5h0M388.4 341.7h0M345.6 316.1h0M343.6 355.9h0M376.9 324.7h0M395.9 331.5h0M360.7 305.7h0M401.3 365.3h0M378.2 326.4h0M326.9 312.3h0M387.6 352.6h0" stroke="#b4bade" stroke-width="1.20" stroke-linecap="round" fill="none"/>
<path d="M344.2 313.5h0M385.1 351.9h0M398.4 333.8h0M393.4 335.3h0M386.7 301.2h0M356.6 356.5h0M375.6 367.8h0M367.3 321.3h0M379.1 358.9h0M374.3 345.6h0M309.3 299.3h0M327.5 323.4h0M385.1 317.2h0M307.5 301.9h0M407.0 315.3h0M336.4 361.2h0M402.0 320.5h0M367.5 327.0h0M332.9 365.5h0M304.7 346.7h0M381.9 353.3h0M362.3 363.3h0M388.2 344.5h0M308.8 361.7h0M321.2 309.9h0M335.2 334.7h0M337.2 330.0h0M335.3 316.1h0M377.4 346.4h0M309.1 362.2h0M321.3 321.7h0M383.8 359.5h0M402.5 360.6h0M359.7 363.3h0M385.8 358.5h0M405.0 365.7h0M352.2 331.7h0M381.1 358.1h0M379.1 324.6h0M310.0 307.6h0M395.4 362.7h0M306.1 325.3h0M367.2 334.3h0M308.9 359.7h0M369.8 321.1h0M352.9 325.8h0M369.7 361.6h0M363.3 321.7h0M339.2 358.2h0M380.1 324.0h0M398.3 341.4h0M407.0 362.2h0M310.5 330.6h0M304.6 366.4h0M327.0 313.9h0M359.7 364.4h0M371.8 359.9h0M371.4 339.2h0M351.3 339.3h0M305.9 308.5h0M407.1 312.2h0M333.6 335.5h0M380.7 306.4h0M385.8 341.7h0M309.4 325.0h0M401.2 351.1h0M319.8 344.0h0M311.4 328.6h0M337.4 368.9h0M356.9 367.6h0M354.4 352.1h0M304.5 360.5h0M366.2 325.8h0M389.7 362.5h0M320.4 300.5h0M370.8 361.0h0M315.1 339.3h0M308.9 303.2h0M355.8 362.6h0M391.8 349.4h0M377.4 314.4h0M351.4 310.1h0M325.5 310.1h0M348.9 301.4h0M317.5 347.6h0M366.1 315.7h0M325.9 343.4h0M309.0 353.6h0M386.7 362.7h0M320.6 354.3h0M359.3 315.6h0M388.7 315.6h0M321.6 360.5h0M404.7 350.0h0M314.8 331.8h0M365.1 314.5h0M390.2 329.1h0M356.4 333.6h0M303.6 360.3h0M393.6 362.3h0M361.5 328.4h0M336.6 311.3h0M325.9 337.4h0M345.8 350.0h0M406.8 315.3h0M393.6 324.3h0M348.7 321.1h0M369.3 330.6h0M318.2 340.7h0M316.3 320.1h0M346.8 358.3h0M383.2 340.9h0M352.5 318.8h0M357.2 332.4h0M356.2 334.4h0M327.6 324.0h0M343.2 304.2h0M313.8 350.8h0M338.2 348.8h0M390.6 344.6h0M351.7 357.9h0M360.3 302.2h0M384.8 332.8h0M356.2 349.3h0M373.8 366.1h0M367.7 310.3h0M371.1 351.7h0M303.8 347.5h0M368.4 346.9h0M344.8 322.2h0M362.7 314.7h0M386.5 310.3h0M360.7 345.0h0M333.1 308.8h0M397.3 367.8h0M367.4 355.9h0M349.2 318.6h0M357.5 300.7h0M360.4 354.9h0M337.1 365.1h0M315.5 317.2h0M366.7 339.0h0M392.4 300.5h0M386.4 304.0h0M387.5 343.4h0M304.6 361.9h0M333.3 334.1h0M400.9 325.8h0M311.3 314.0h0M379.9 309.2h0M335.7 314.7h0M348.7 307.9h0M404.2 363.0h0M314.5 309.4h0M360.6 367.6h0M383.6 309.7h0M390.3 302.1h0M355.0 350.6h0M347.2 343.5h0M377.0 311.9h0M316.5 320.5h0M312.1 310.6h0M307.4 322.3h0M375.5 311.1h0M351.5 306.8h0M323.9 324.4h0M401.1 313.2h0M315.9 359.5h0M337.2 328.0h0M349.7 333.2h0M305.9 346.6h0M396.8 310.9h0M396.1 355.0h0M368.4 345.3h0M349.6 343.0h0M397.4 354.3h0M360.2 361.4h0M304.8 330.1h0M305.8 343.8h0M371.9 335.2h0M318.7 302.7h0M385.0 335.6h0M355.0 347.6h0M319.7 344.7h0M355.3 364.1h0M376.2 365.2h0M391.1 324.7h0M376.6 312.6h0M342.9 345.8h0M338.0 333.0h0M363.6 368.0h0M320.1 362.1h0M323.2 369.0h0M325.3 345.9h0M367.2 299.6h0M363.6 322.2h0M370.1 338.6h0M386.6 322.9h0M362.9 337.6h0M402.2 359.6h0M406.0 333.8h0M389.4 302.6h0M347.8 305.1h0M346.4 319.9h0M356.1 348.8h0M303.9 340.6h0M317.3 325.7h0M394.4 341.9h0M348.6 361.3h0M387.4 305.0h0M350.0 325.2h0M307.1 357.9h0M334.5 303.9h0M330.2 354.2h0M324.8 335.0h0M355.4 336.3h0M383.2 347.9h0M370.6 318.8h0M370.2 321.6h0M374.3 348.3h0M402.9 302.6h0M390.2 356.3h0M334.0 341.6h0M393.2 351.0h0M400.7 324.0h0M391.8 359.5h0M330.4 334.8h0M349.6 301.1h0M311.9 354.8h0M395.1 314.4h0M365.8 360.8h0M311.8 319.7h0M390.6 342.0h0M402.7 344.6h0M382.1 344.6h0M390.4 317.6h0M320.4 362.9h0M326.6 359.5h0M326.6 317.5h0M309.7 310.6h0M406.9 320.5h0M406.5 303.7h0M343.2 343.1h0M403.9 314.2h0M346.6 332.3h0M335.9 303.5h0M343.2 345.1h0M353.3 336.5h0M323.7 317.5h0M357.4 307.7h0M336.4 361.7h0M398.4 362.4h0M352.1 364.8h0M361.9 306.2h0M355.0 367.7h0M337.5 323.4h0M313.3 326.0h0M315.1 367.4h0M355.2 319.1h0M337.7 339.9h0" stroke="#a8b0d8" stroke-width="1.20" stroke-linecap="round" fill="none"/>
<path d="M321.9 353.4h0M336.4 331.5h0M402.7 331.3h0M341.8 353.9h0M400.8 348.1h0M353.3 364.6h0M323.9 366.6h0M372.4 311.6h0M322.9 312.7h0M333.8 349.1h0M377.0 340.5h0M347.0 314.0h0M310.8 335.4h0M372.2 352.2h0M328.0 307.0h0M333.2 306.4h0M323.5 340.1h0M372.7 318.0h0M404.6 305.4h0M332.5 362.1h0M375.3 335.5h0M339.7 349.2h0M358.7 312.0h0M362.9 368.7h0M397.5 315.0h0M325.3 307.8h0M364.2 351.2h0M402.7 346.7h0M343.3 369.0h0M306.2 341.2h0M375.8 329.1h0M389.5 361.9h0M356.8 329.3h0M393.8 300.8h0M306.2 303.1h0M347.8 336.6h0M343.4 325.4h0M341.3 308.7h0M398.8 325.3h0M359.8 310.7h0M319.1 307.0h0M386.1 308.1h0M335.5 339.1h0M313.4 334.2h0M351.5 352.0h0M378.9 315.9h0M318.0 364.3h0M304.0 362.2h0M340.5 353.6h0M390.1 340.6h0M348.0 332.7h0M307.7 367.8h0M406.4 302.7h0M405.9 316.1h0M307.3 364.2h0M324.0 317.5h0M383.7 352.3h0M338.6 304.8h0M381.7 304.5h0M384.3 330.7h0M374.6 311.4h0M348.2 364.7h0M314.4 335.4h0M399.8 340.5h0M355.1 368.8h0M379.7 351.4h0M388.4 354.8h0M333.0 302.1h0M308.4 335.9h0M381.1 312.7h0M345.4 315.4h0M325.1 317.5h0M350.5 316.2h0M351.9 348.6h0M372.1 306.4h0M345.7 336.9h0M333.3 324.9h0M329.2 345.7h0M337.7 302.0h0M346.6 358.6h0M310.6 305.3h0M309.3 312.8h0M330.7 343.4h0M343.1 347.1h0M329.7 306.3h0M399.4 338.8h0M349.9 303.8h0M364.6 361.9h0M316.6 304.0h0M348.8 345.6h0M306.0 312.3h0M405.6 349.8h0M385.3 354.8h0M311.2 355.6h0M328.3 314.8h0M401.8 318.1h0M321.1 357.6h0M345.6 357.4h0M320.2 330.0h0M322.0 308.6h0M359.9 329.5h0M327.8 363.0h0M371.8 317.6h0M315.5 356.0h0M312.9 314.8h0M319.3 360.7h0M312.1 320.8h0M364.7 358.7h0M381.1 338.5h0M400.4 330.3h0M402.4 354.4h0M390.5 336.7h0M335.7 313.6h0M378.9 308.2h0M340.2 338.5h0M406.1 342.8h0M371.9 308.3h0M305.7 329.5h0M365.5 302.4h0M333.8 307.6h0M368.6 330.6h0M342.3 332.7h0M376.5 360.5h0M359.7 337.5h0M333.8 357.6h0M306.7 317.3h0M336.7 347.2h0M379.1 359.8h0M377.0 331.2h0M312.3 324.6h0M371.3 357.3h0M405.5 329.6h0M379.7 317.3h0M341.4 300.5h0M360.3 323.3h0M345.9 330.0h0M366.5 361.8h0M393.5 320.7h0M385.9 323.2h0M352.4 349.8h0M379.9 312.4h0M314.0 313.1h0M396.4 302.3h0M317.0 323.1h0M347.0 366.5h0M333.4 310.2h0M319.4 344.3h0M377.4 324.0h0M309.7 346.7h0M328.9 301.9h0M321.4 303.1h0M347.4 310.0h0M384.8 335.0h0M315.0 318.4h0M356.4 369.2h0M406.0 368.6h0M344.1 312.3h0M384.6 350.9h0M315.2 321.8h0M316.6 301.8h0M377.8 313.8h0M363.5 339.5h0M327.5 306.2h0M376.9 358.9h0M328.4 332.4h0M383.6 361.2h0M316.0 339.4h0M357.0 359.0h0M312.7 331.6h0M328.0 330.2h0M406.5 363.5h0M305.0 315.3h0M337.9 327.3h0M371.3 329.0h0M338.0 316.2h0M369.2 335.8h0M360.5 320.6h0M352.1 349.4h0M352.0 300.3h0M372.3 331.7h0M365.6 311.6h0M365.6 332.3h0M402.7 310.5h0M402.7 368.0h0M382.2 351.8h0M400.9 360.9h0M335.6 360.5h0M375.3 304.0h0M397.3 312.2h0M303.9 328.1h0M350.7 363.8h0M339.5 325.2h0M377.4 306.3h0M358.2 307.3h0M333.5 337.3h0M326.3 326.5h0M391.4 341.6h0M361.5 318.5h0M382.4 342.7h0M377.8 358.5h0M341.4 368.4h0M370.0 309.0h0M373.4 307.3h0M320.2 300.9h0M396.6 314.9h0M303.8 369.4h0M323.9 336.6h0M340.8 317.4h0M321.3 348.8h0M320.5 363.7h0M388.0 303.4h0M342.5 361.6h0M336.7 327.5h0M307.8 337.6h0M386.5 337.3h0M310.4 311.5h0M322.7 356.3h0M355.5 348.6h0M383.4 345.5h0M393.7 319.7h0M358.9 349.6h0M379.5 307.1h0M331.8 320.4h0M324.3 367.6h0M385.1 365.3h0M389.9 346.5h0M380.5 321.7h0M316.5 359.2h0M354.6 337.9h0M320.4 303.5h0M400.5 305.0h0M368.2 340.9h0M374.9 335.3h0M318.7 355.9h0M310.7 362.9h0M402.0 300.9h0M367.6 315.4h0M312.4 357.3h0M350.5 316.1h0M322.3 321.3h0M369.2 341.7h0M317.1 325.5h0M397.8 300.9h0M378.1 302.9h0M376.2 346.4h0M334.6 350.9h0M312.5 313.7h0M403.2 341.6h0M404.2 338.1h0M304.0 303.4h0M333.1 320.9h0M401.9 345.7h0M353.6 341.5h0M395.1 326.1h0M359.7 325.7h0M387.1 357.5h0M400.9 314.8h0M331.5 366.2h0M356.4 308.7h0M335.1 302.5h0" stroke="#c0c4e2" stroke-width="1.20" stroke-linecap="round" fill="none"/>
<path d="M313.3 330.2h0M351.3 323.7h0M376.9 327.5h0M322.6 367.4h0M362.7 362.5h0M339.6 307.8h0M365.0 358.4h0M387.2 360.5h0M321.0 346.5h0M390.0 349.4h0M391.4 310.3h0M348.4 318.8h0M378.3 358.3h0M365.1 365.3h0M323.9 313.7h0M389.9 317.8h0M303.4 363.7h0M381.7 359.9h0M305.8 315.1h0M335.9 326.6h0M358.8 315.0h0M382.0 318.6h0M397.4 356.9h0M348.1 299.9h0M354.1 310.4h0M388.3 360.7h0M369.4 364.8h0M344.2 299.5h0M327.4 304.1h0M311.6 302.3h0M386.0 347.6h0M380.2 362.1h0M351.6 333.5h0M342.7 335.7h0M330.7 364.2h0M343.9 342.1h0M366.0 311.3h0M331.7 358.1h0M305.1 305.0h0M349.1 352.9h0M386.5 327.7h0M388.3 356.2h0M386.3 305.5h0M355.7 344.1h0M360.8 341.7h0M371.5 320.7h0M315.0 329.3h0M305.6 331.3h0M360.5 344.1h0M313.2 335.5h0M341.7 321.5h0M333.6 320.9h0M365.5 316.2h0M316.7 356.2h0M375.0 364.6h0M321.5 345.0h0M386.6 312.2h0M358.3 328.8h0M344.9 327.1h0M318.0 335.3h0M361.1 301.9h0M321.3 324.5h0M396.0 331.5h0M322.5 337.6h0M353.1 360.0h0M387.7 367.4h0M311.9 313.8h0M346.9 346.1h0M349.9 314.2h0M364.3 361.4h0M318.6 327.3h0M351.4 323.6h0M323.5 319.6h0M308.3 334.5h0M307.4 317.1h0M401.3 317.6h0M348.0 336.1h0M374.9 311.6h0M325.1 314.0h0M322.9 322.7h0M380.6 334.7h0M327.5 309.0h0M346.0 323.1h0M342.2 306.2h0M358.1 306.6h0M365.3 346.2h0M352.7 362.3h0M366.0 303.0h0M335.0 362.7h0M333.5 346.1h0M328.8 363.2h0M383.3 342.4h0M387.0 356.8h0M319.3 330.8h0M358.2 355.2h0M316.1 358.2h0M337.3 304.3h0M400.0 337.3h0M394.6 359.2h0M315.9 361.6h0M335.3 362.6h0M322.3 330.0h0M316.8 312.3h0M344.1 309.5h0M322.4 342.4h0M319.2 348.1h0M394.0 313.5h0M359.5 330.4h0M345.1 311.9h0M345.0 308.1h0M315.5 327.2h0M364.4 329.9h0M350.5 324.7h0M333.7 307.5h0M386.0 320.6h0M312.7 307.6h0M349.5 329.3h0M344.4 315.6h0M369.9 335.2h0M361.2 350.1h0M344.1 310.3h0M316.7 322.1h0M364.6 342.3h0M321.4 317.1h0M331.9 336.9h0M394.4 360.7h0M375.8 347.2h0M369.5 369.0h0M324.4 325.4h0M343.8 315.2h0M356.1 368.8h0M307.3 334.4h0M372.1 356.4h0M334.3 304.8h0M355.1 320.3h0M321.3 313.8h0M319.3 336.3h0M340.9 309.2h0M347.8 308.0h0M331.1 332.1h0M387.7 352.8h0M334.9 324.8h0M343.2 342.8h0M362.8 314.8h0M368.2 358.7h0M405.9 327.3h0M334.2 363.6h0M318.6 328.4h0M379.0 314.9h0M384.3 355.3h0M317.7 324.9h0M338.9 335.0h0M307.8 328.8h0M330.6 312.0h0M398.1 316.4h0M375.0 315.8h0M329.0 313.1h0M317.0 347.1h0M392.8 325.5h0M352.8 302.5h0M312.3 323.8h0M368.9 335.6h0M342.4 320.6h0M338.1 304.8h0M384.9 313.8h0M305.5 333.8h0M318.9 312.7h0M370.1 324.7h0M314.2 337.3h0M368.3 355.9h0M389.6 312.5h0M324.6 323.5h0M322.9 350.3h0M308.0 308.2h0M362.1 336.4h0M355.1 340.3h0M394.0 327.7h0M400.1 318.8h0M322.4 335.6h0M313.0 315.5h0M308.3 312.0h0M394.3 314.1h0M381.3 343.7h0M307.8 338.3h0M308.3 318.2h0M363.3 328.9h0M337.6 343.4h0M318.7 317.6h0M366.6 330.2h0M315.2 334.1h0M315.8 301.9h0M319.1 302.9h0M397.2 330.5h0M341.3 323.8h0M403.9 329.1h0M385.2 365.1h0M316.9 348.2h0M326.0 362.0h0M310.2 360.5h0M329.4 365.0h0M355.3 358.5h0M336.8 313.7h0M349.8 350.2h0M319.5 324.9h0M389.2 344.6h0M398.5 322.7h0M405.2 357.3h0M356.6 341.2h0M322.8 366.8h0M314.7 320.1h0M371.7 339.5h0M362.2 360.1h0M368.7 360.1h0M354.1 337.5h0M350.6 358.9h0M384.3 354.2h0M337.0 318.5h0M327.7 354.0h0M338.7 318.2h0M360.8 301.5h0M346.9 340.0h0M390.2 301.1h0M322.5 320.7h0M359.7 320.0h0M350.0 330.6h0M334.9 308.8h0M358.3 341.8h0M360.9 343.4h0M362.3 342.1h0M337.5 360.0h0" stroke="#3e4c9c" stroke-width="1.24" stroke-linecap="round" fill="none"/>
<path d="M313.6 311.9h0M347.2 365.8h0M309.2 351.8h0M316.4 323.7h0M307.9 320.6h0M313.9 321.4h0M350.0 309.0h0M371.6 329.5h0M317.2 316.8h0M327.5 321.5h0M384.7 364.2h0M316.8 341.4h0M389.4 327.2h0M352.1 305.5h0M359.4 333.4h0M359.7 363.8h0M325.1 316.0h0M338.8 327.5h0M385.2 326.7h0M393.5 315.5h0M366.8 341.6h0M363.8 363.5h0M318.2 354.8h0M391.4 359.7h0M405.4 321.3h0M355.5 299.5h0M345.9 317.4h0M375.7 344.3h0M361.1 349.1h0M339.3 301.0h0M305.1 302.8h0M360.7 336.4h0M365.1 323.0h0M380.4 354.3h0M350.0 315.9h0M377.7 356.1h0M384.4 316.9h0M363.0 356.8h0M339.1 328.0h0M334.1 312.8h0M389.0 337.5h0M309.7 317.8h0M314.4 331.0h0M369.8 315.4h0M313.7 340.3h0M385.9 332.4h0M342.9 330.7h0M354.7 304.4h0M386.0 359.2h0M354.9 364.6h0M320.0 325.4h0M388.0 315.9h0M388.2 359.6h0M354.7 337.1h0M318.2 315.3h0M337.8 304.3h0M363.6 335.9h0M405.6 365.3h0M381.8 323.5h0M325.1 344.9h0M390.1 351.7h0M351.6 339.4h0M393.1 332.2h0M310.9 330.3h0M357.8 359.4h0M353.2 358.1h0M395.1 318.2h0M402.6 327.1h0M357.3 348.0h0M362.4 310.9h0M369.2 343.8h0M321.7 315.6h0M389.1 313.3h0M327.5 302.2h0M343.7 315.4h0M343.4 305.7h0M359.6 333.4h0M312.5 348.0h0M358.3 342.9h0M328.2 323.5h0M392.3 314.6h0M363.6 354.8h0M320.1 310.6h0M317.4 317.8h0M318.7 334.8h0M311.7 332.4h0M389.8 333.3h0M303.9 312.2h0M358.5 345.5h0M363.0 358.6h0M323.9 327.7h0M346.6 317.1h0M347.5 336.5h0M324.9 312.3h0M352.1 348.0h0M372.1 367.9h0M314.3 325.3h0M406.9 348.0h0M324.6 310.8h0M346.3 318.1h0M377.1 359.9h0M307.9 334.2h0M334.4 333.7h0M353.0 318.8h0M312.3 325.0h0M384.3 321.8h0M366.2 356.9h0M403.7 362.9h0M337.7 308.5h0M364.0 335.8h0M364.9 358.0h0M375.0 349.9h0M335.4 328.5h0M342.4 334.7h0M357.0 315.6h0M313.8 333.9h0M391.8 363.3h0M389.6 348.3h0M355.0 341.6h0M331.0 299.7h0M378.4 350.3h0M391.4 319.3h0M317.3 300.0h0M385.1 323.5h0M351.5 315.5h0M315.2 316.6h0M325.9 360.4h0M336.0 322.0h0M320.0 351.3h0M327.8 322.0h0M383.6 367.0h0M316.4 335.0h0M380.9 358.0h0M337.4 305.3h0M338.4 315.8h0M361.1 302.6h0M388.9 366.4h0M354.2 314.3h0M375.1 366.6h0M321.6 339.6h0M322.2 313.0h0M356.0 301.9h0M344.8 332.7h0M309.4 346.9h0M342.9 341.6h0M393.2 363.3h0M315.3 308.5h0M328.3 322.4h0M367.4 317.8h0M342.6 315.4h0M351.2 354.5h0M357.0 359.6h0M376.2 328.9h0M339.9 301.5h0M403.1 305.4h0M360.2 324.4h0M320.0 326.8h0M342.9 306.5h0M307.9 326.2h0M305.3 309.6h0M391.2 353.8h0M381.6 363.4h0M377.2 362.2h0M325.8 309.3h0M329.9 320.3h0M361.9 363.8h0M359.4 310.6h0M341.1 325.9h0M369.5 306.8h0M386.5 313.9h0M311.0 332.4h0M390.1 332.0h0M343.1 317.3h0M310.9 325.2h0M328.5 330.1h0M391.1 315.0h0M362.7 318.0h0M356.4 330.8h0M310.9 309.6h0M373.0 358.3h0M309.7 300.9h0M324.4 306.2h0M359.5 307.9h0M361.2 350.5h0M354.5 312.5h0M355.3 369.3h0M363.3 313.9h0M356.7 335.7h0M317.4 324.1h0M310.6 333.1h0M324.2 333.1h0M308.9 331.8h0M341.3 304.2h0M360.8 345.2h0M312.3 327.8h0M376.5 367.9h0M392.1 334.6h0M351.5 349.3h0M386.6 359.2h0M356.7 348.7h0M339.4 357.4h0M400.8 363.8h0M354.5 343.9h0M326.6 340.3h0M367.3 367.7h0M334.1 333.1h0M380.9 352.4h0M311.0 333.9h0M315.5 304.5h0M406.5 368.9h0M350.7 311.0h0M392.3 312.8h0M333.2 318.2h0M317.7 340.1h0M354.6 313.5h0M389.3 345.1h0M311.1 357.8h0M383.3 303.3h0M342.5 335.3h0M308.4 314.5h0M356.4 368.1h0M340.6 335.4h0M405.2 348.7h0M377.0 360.8h0M382.5 364.6h0M372.7 337.2h0M343.8 357.8h0M348.7 311.7h0M385.4 360.4h0M325.6 365.7h0" stroke="#4e5ca8" stroke-width="1.16" stroke-linecap="round" fill="none"/>
<path d="M351.5 302.3h0M343.9 333.1h0M347.7 339.7h0M307.9 325.2h0M364.3 338.3h0M354.6 303.7h0M318.6 336.6h0M353.8 343.0h0M390.5 342.9h0M358.4 308.3h0M382.5 364.3h0M306.1 324.6h0M314.9 328.6h0M349.4 343.3h0M353.7 325.4h0M358.1 352.2h0M365.8 324.8h0M324.4 309.5h0M355.1 300.3h0M312.9 324.3h0M312.8 309.4h0M319.0 336.5h0M310.5 356.0h0M311.2 349.0h0M353.0 355.5h0M379.1 350.0h0M316.8 304.5h0M309.3 312.9h0M375.7 314.2h0M355.9 308.4h0M310.9 334.0h0M327.8 346.1h0M338.1 301.0h0M340.8 319.4h0M364.9 366.4h0M318.9 356.5h0M312.0 299.8h0M354.1 310.6h0M367.7 351.8h0M376.4 366.7h0M349.7 311.2h0M317.0 317.8h0M402.3 334.1h0M338.7 318.7h0M398.6 320.1h0M339.7 303.6h0M350.6 309.8h0M365.3 328.2h0M356.9 329.8h0M372.4 368.3h0M361.5 344.3h0M397.0 350.3h0M312.3 316.5h0M348.9 311.7h0M315.5 346.1h0M381.2 323.4h0M308.8 336.9h0M395.9 352.6h0M374.7 364.3h0M362.8 366.5h0M369.5 337.2h0M328.4 348.7h0M354.5 315.9h0M314.8 327.5h0M316.0 324.9h0M334.1 333.3h0M371.1 356.7h0M360.7 317.9h0M387.0 331.4h0M372.3 356.8h0M358.2 348.7h0M350.9 299.8h0M307.9 329.4h0M346.0 319.4h0M335.7 336.9h0M389.7 336.0h0M365.7 330.1h0M382.4 328.4h0M355.6 324.6h0M317.9 303.3h0M377.4 345.5h0M336.4 299.8h0M389.7 314.0h0M381.7 362.4h0M305.5 315.4h0M319.8 316.8h0M391.6 350.1h0M312.5 310.0h0M334.7 358.7h0M307.3 337.9h0M379.8 367.4h0M374.9 355.6h0M315.3 308.1h0M364.8 350.5h0M359.3 364.4h0M329.7 332.6h0M362.1 361.0h0M322.9 334.1h0M386.2 314.4h0M326.7 335.4h0M335.0 309.5h0M318.4 339.4h0M403.5 320.2h0M332.7 350.1h0M388.3 362.4h0M360.0 336.3h0M321.8 360.6h0M339.8 367.9h0M311.6 303.6h0M363.0 322.0h0M357.4 312.8h0M386.1 355.0h0M311.5 340.7h0M306.2 326.9h0M356.9 364.8h0M306.0 332.2h0M334.5 338.1h0M344.3 357.3h0M332.4 327.2h0M309.5 350.6h0M335.5 364.5h0M394.5 367.8h0M306.4 312.5h0M337.4 321.7h0M304.6 327.1h0M325.9 312.4h0M381.6 362.5h0M353.0 337.9h0M377.1 357.5h0M393.3 333.9h0M345.0 366.1h0M358.1 328.7h0M381.7 328.3h0M307.2 314.2h0M364.7 315.8h0M314.3 352.6h0M322.2 315.4h0M315.5 344.0h0M381.1 338.3h0M367.2 364.9h0M331.7 325.1h0M385.5 354.1h0M312.5 347.0h0M347.1 312.0h0M313.2 308.7h0M402.5 356.0h0M319.2 330.8h0M401.5 359.1h0M303.9 361.4h0M367.5 311.8h0M309.7 317.0h0M399.1 323.6h0M328.1 303.5h0M319.1 339.0h0M352.1 300.0h0M350.2 323.2h0M373.3 352.2h0M329.8 349.2h0M338.3 303.6h0M383.1 346.3h0M321.5 318.6h0M371.0 345.4h0M361.4 363.5h0M395.4 330.8h0M401.4 316.8h0M354.0 333.4h0M385.1 327.4h0M338.1 315.5h0M348.3 310.1h0M375.8 350.1h0M326.4 343.8h0M362.8 348.8h0M334.5 347.6h0M320.4 344.1h0M383.4 352.1h0M367.5 332.4h0M327.3 305.9h0M388.3 319.7h0M394.6 321.6h0M374.8 365.4h0M336.9 321.7h0M343.4 344.4h0M354.4 342.4h0M325.6 322.6h0M310.7 302.5h0M319.8 327.0h0M353.6 309.3h0M351.5 349.0h0M352.4 309.9h0M332.6 363.6h0M380.2 320.0h0M334.1 340.5h0M387.3 326.9h0M352.2 356.0h0M390.6 314.8h0M340.8 325.5h0M335.6 353.8h0M307.3 331.4h0M376.7 354.8h0M385.8 323.1h0" stroke="#6470b4" stroke-width="1.10" stroke-linecap="round" fill="none"/>
<path d="M319.5 339.1h0M381.7 310.6h0M385.9 314.3h0M345.4 302.4h0M386.9 329.4h0M382.7 344.9h0M314.3 315.4h0M305.6 304.6h0M399.1 310.1h0M372.6 312.1h0M316.3 336.5h0M382.0 348.7h0M308.4 303.0h0M323.1 344.5h0M347.4 336.3h0M362.9 324.0h0M391.0 333.0h0M334.9 321.6h0M374.7 331.1h0M311.2 321.5h0M358.9 319.7h0M336.6 322.9h0M319.6 306.2h0M361.9 336.9h0M370.8 314.8h0M378.3 350.4h0M354.3 354.1h0M382.8 348.1h0M396.1 334.1h0M401.8 361.0h0M314.0 342.2h0M391.8 315.5h0M387.9 305.6h0M365.8 307.4h0M377.7 340.9h0M356.0 359.7h0M341.3 357.0h0M365.7 338.2h0M337.7 359.3h0M354.2 308.6h0M313.7 317.2h0M400.8 311.2h0M371.7 315.4h0M357.2 351.5h0M355.7 341.2h0M334.1 347.6h0M309.0 324.8h0M315.7 321.9h0M315.5 330.8h0M391.2 327.2h0M386.7 327.3h0M390.6 321.4h0M361.1 323.6h0M319.5 364.2h0M358.3 348.6h0M336.0 359.8h0M365.1 331.3h0M386.3 360.0h0M397.9 320.3h0M306.7 329.2h0M404.1 310.5h0M344.8 357.7h0M315.0 309.1h0M345.9 308.4h0M359.9 322.7h0M348.7 350.5h0M357.2 326.7h0M374.0 356.2h0M345.2 333.9h0M395.9 327.2h0M385.4 309.3h0M323.6 321.9h0M354.0 326.8h0M366.7 352.6h0M322.8 334.9h0M304.8 304.4h0M338.5 322.6h0M398.8 355.1h0M394.0 329.2h0M382.6 363.2h0M319.9 341.7h0M379.7 353.3h0M370.0 346.1h0M337.6 317.7h0M317.0 312.1h0M392.5 369.2h0M353.8 344.3h0M374.4 360.3h0M340.6 306.9h0M311.9 339.0h0M340.0 333.5h0M383.7 367.1h0M335.5 317.0h0M314.7 300.0h0M367.4 366.9h0M402.1 322.9h0M318.3 303.8h0M388.3 315.3h0M351.9 311.4h0M322.2 344.8h0M377.3 352.7h0M376.9 312.1h0M352.1 301.8h0M376.6 310.2h0M323.6 356.3h0M380.8 355.8h0M339.7 331.9h0M378.9 316.0h0M389.1 350.9h0M310.7 333.9h0M357.9 327.4h0M347.8 347.1h0M321.7 346.3h0M305.9 327.7h0M361.5 320.8h0M349.0 302.1h0M380.9 358.8h0M396.9 323.5h0M310.4 325.7h0M313.7 318.0h0M316.6 349.6h0M372.8 322.2h0M341.6 315.8h0M393.6 330.4h0M355.7 336.0h0M356.2 310.9h0M326.5 314.9h0M317.3 305.7h0M355.8 363.1h0M305.0 327.8h0M365.5 320.3h0M324.8 323.6h0M347.4 308.7h0M303.6 308.3h0M352.9 343.4h0M309.5 335.5h0M334.4 316.0h0M357.0 306.8h0M311.2 322.2h0M365.4 362.8h0M351.9 301.4h0M351.3 356.7h0M318.9 358.9h0M368.9 334.7h0M359.8 311.0h0M315.5 306.8h0M348.9 312.7h0M310.4 314.8h0M368.9 309.1h0M348.0 303.5h0M400.8 364.3h0M362.1 331.1h0M381.4 347.3h0M339.2 367.3h0M334.7 337.6h0M396.4 313.9h0M356.1 324.5h0M333.8 330.1h0M346.2 323.7h0M319.5 334.7h0M307.0 351.8h0M340.5 322.7h0M393.4 312.8h0M349.8 349.0h0M351.5 366.6h0M305.5 338.2h0M358.9 350.7h0M347.9 321.5h0M347.1 336.5h0M305.9 324.8h0M359.2 365.8h0M373.6 361.2h0M305.7 316.4h0M335.6 357.1h0M356.0 328.2h0M390.6 323.8h0M322.5 329.3h0M334.6 353.3h0M304.8 338.2h0M355.5 333.1h0M325.3 359.9h0M377.6 354.6h0M314.5 315.4h0M354.4 336.6h0M349.3 319.5h0M376.1 329.6h0M353.5 309.3h0M347.8 327.3h0M323.4 315.2h0M380.7 336.5h0M306.2 337.0h0M309.1 344.1h0M336.6 331.4h0M315.8 328.6h0M316.5 312.4h0M360.3 329.9h0M337.9 311.2h0M325.8 318.8h0M322.0 352.6h0M355.3 335.5h0" stroke="#7e88c2" stroke-width="1.10" stroke-linecap="round" fill="none"/>
</g>
<rect x="303.4" y="299.3" width="103.8" height="70.2" fill="none" stroke="#8e8e8e" stroke-width="0.9"/>
<defs><clipPath id="cLV"><rect x="409.3" y="299.3" width="104.2" height="70.0"/></clipPath></defs>
<g clip-path="url(#cLV)">
<rect x="409.30" y="299.30" width="104.20" height="70.00" fill="#d6dbee"/>
<circle cx="416.0" cy="339.6" r="5.5" fill="#e6ceda" opacity="0.7"/>
<circle cx="418.3" cy="320.5" r="4.7" fill="#e6ceda" opacity="0.7"/>
<circle cx="491.6" cy="356.3" r="3.4" fill="#e8d6e2" opacity="0.7"/>
<circle cx="465.6" cy="363.8" r="4.0" fill="#e8d6e2" opacity="0.7"/>
<circle cx="504.6" cy="355.5" r="5.3" fill="#e6ceda" opacity="0.7"/>
<circle cx="500.2" cy="358.2" r="5.7" fill="#e6ceda" opacity="0.7"/>
<circle cx="503.2" cy="307.3" r="4.5" fill="#e6ceda" opacity="0.7"/>
<circle cx="461.1" cy="363.1" r="5.5" fill="#e2d2e0" opacity="0.7"/>
<circle cx="510.8" cy="320.4" r="3.5" fill="#e8d6e2" opacity="0.7"/>
<circle cx="495.2" cy="320.2" r="5.2" fill="#e2d2e0" opacity="0.7"/>
<circle cx="435.2" cy="320.1" r="5.9" fill="#e2d2e0" opacity="0.7"/>
<circle cx="488.3" cy="325.4" r="4.5" fill="#e6ceda" opacity="0.7"/>
<circle cx="499.0" cy="331.2" r="6.1" fill="#e6ceda" opacity="0.7"/>
<circle cx="521.5" cy="329.1" r="3.8" fill="#e6ceda" opacity="0.7"/>
<circle cx="504.9" cy="332.7" r="5.2" fill="#e6ceda" opacity="0.7"/>
<circle cx="502.3" cy="360.2" r="5.4" fill="#e8d6e2" opacity="0.7"/>
<circle cx="482.7" cy="349.3" r="3.8" fill="#e6ceda" opacity="0.7"/>
<circle cx="443.4" cy="303.4" r="4.6" fill="#e2d2e0" opacity="0.7"/>
<circle cx="448.2" cy="315.4" r="5.3" fill="#e2d2e0" opacity="0.7"/>
<circle cx="497.6" cy="364.7" r="3.8" fill="#e8d6e2" opacity="0.7"/>
<circle cx="483.6" cy="366.8" r="3.4" fill="#e8d6e2" opacity="0.7"/>
<circle cx="450.7" cy="302.6" r="6.0" fill="#e6ceda" opacity="0.7"/>
<circle cx="411.1" cy="339.1" r="5.0" fill="#e8d6e2" opacity="0.7"/>
<circle cx="413.4" cy="356.4" r="3.3" fill="#e2d2e0" opacity="0.7"/>
<circle cx="415.3" cy="333.9" r="6.6" fill="#e8d6e2" opacity="0.7"/>
<circle cx="494.6" cy="343.5" r="4.4" fill="#e8d6e2" opacity="0.7"/>
<circle cx="412.3" cy="346.2" r="6.7" fill="#e6ceda" opacity="0.7"/>
<circle cx="483.6" cy="361.9" r="4.4" fill="#e2d2e0" opacity="0.7"/>
<circle cx="446.2" cy="306.3" r="4.1" fill="#e2d2e0" opacity="0.7"/>
<circle cx="458.2" cy="316.9" r="3.3" fill="#e2d2e0" opacity="0.7"/>
<circle cx="446.6" cy="312.8" r="5.4" fill="#e2d2e0" opacity="0.7"/>
<circle cx="457.6" cy="303.6" r="6.7" fill="#e2d2e0" opacity="0.7"/>
<circle cx="496.0" cy="338.6" r="6.3" fill="#e8d6e2" opacity="0.7"/>
<circle cx="450.1" cy="308.1" r="3.7" fill="#e2d2e0" opacity="0.7"/>
<circle cx="475.7" cy="374.3" r="4.3" fill="#e6ceda" opacity="0.7"/>
<circle cx="429.7" cy="313.7" r="3.0" fill="#e8d6e2" opacity="0.7"/>
<circle cx="418.1" cy="341.0" r="3.8" fill="#e2d2e0" opacity="0.7"/>
<circle cx="517.7" cy="328.0" r="5.0" fill="#e2d2e0" opacity="0.7"/>
<circle cx="427.3" cy="347.4" r="6.9" fill="#e2d2e0" opacity="0.7"/>
<circle cx="406.2" cy="332.3" r="6.1" fill="#e6ceda" opacity="0.7"/>
<circle cx="473.2" cy="373.4" r="5.2" fill="#e2d2e0" opacity="0.7"/>
<circle cx="459.2" cy="305.1" r="6.5" fill="#e6ceda" opacity="0.7"/>
<circle cx="418.9" cy="312.2" r="6.4" fill="#e2d2e0" opacity="0.7"/>
<circle cx="492.2" cy="316.5" r="6.9" fill="#e8d6e2" opacity="0.7"/>
<circle cx="491.5" cy="367.4" r="5.9" fill="#e8d6e2" opacity="0.7"/>
<circle cx="453.8" cy="312.7" r="3.4" fill="#c4cce8" opacity="0.6"/>
<circle cx="445.9" cy="315.6" r="3.5" fill="#bcc6e4" opacity="0.6"/>
<circle cx="427.0" cy="319.0" r="4.5" fill="#c4cce8" opacity="0.6"/>
<circle cx="464.8" cy="353.4" r="5.5" fill="#c4cce8" opacity="0.6"/>
<circle cx="410.5" cy="333.0" r="6.3" fill="#c4cce8" opacity="0.6"/>
<circle cx="419.3" cy="348.0" r="3.7" fill="#bcc6e4" opacity="0.6"/>
<circle cx="438.9" cy="302.1" r="5.1" fill="#bcc6e4" opacity="0.6"/>
<circle cx="434.5" cy="334.5" r="4.5" fill="#bcc6e4" opacity="0.6"/>
<circle cx="454.1" cy="354.9" r="6.4" fill="#bcc6e4" opacity="0.6"/>
<circle cx="501.4" cy="353.6" r="3.7" fill="#c4cce8" opacity="0.6"/>
<circle cx="447.9" cy="315.0" r="3.2" fill="#c4cce8" opacity="0.6"/>
<circle cx="421.7" cy="316.9" r="7.7" fill="#bcc6e4" opacity="0.6"/>
<circle cx="497.9" cy="320.6" r="4.6" fill="#bcc6e4" opacity="0.6"/>
<circle cx="510.8" cy="321.6" r="3.4" fill="#bcc6e4" opacity="0.6"/>
<circle cx="443.4" cy="336.3" r="6.1" fill="#bcc6e4" opacity="0.6"/>
<circle cx="502.5" cy="306.3" r="4.3" fill="#c4cce8" opacity="0.6"/>
<circle cx="450.9" cy="304.3" r="3.3" fill="#bcc6e4" opacity="0.6"/>
<circle cx="494.0" cy="340.6" r="7.0" fill="#bcc6e4" opacity="0.6"/>
<circle cx="439.0" cy="301.0" r="5.9" fill="#c4cce8" opacity="0.6"/>
<circle cx="486.0" cy="346.8" r="5.2" fill="#c4cce8" opacity="0.6"/>
<circle cx="418.8" cy="316.9" r="6.2" fill="#bcc6e4" opacity="0.6"/>
<circle cx="470.3" cy="345.9" r="5.4" fill="#c4cce8" opacity="0.6"/>
<circle cx="498.1" cy="355.0" r="4.2" fill="#c4cce8" opacity="0.6"/>
<circle cx="446.7" cy="344.9" r="7.1" fill="#bcc6e4" opacity="0.6"/>
<circle cx="467.0" cy="320.6" r="3.9" fill="#c4cce8" opacity="0.6"/>
<path d="M505.9 311.4h0M422.5 354.7h0M467.8 305.5h0M513.0 354.5h0M489.2 352.9h0M415.3 311.2h0M413.2 334.5h0M411.5 304.3h0M507.7 308.9h0M493.2 338.9h0M446.1 339.3h0M482.1 323.0h0M464.1 347.7h0M471.5 322.7h0M443.9 315.0h0M453.3 299.7h0M434.2 317.7h0M426.7 304.8h0M449.8 336.5h0M433.2 327.5h0M494.3 361.7h0M445.1 302.3h0M426.5 325.6h0M428.5 314.9h0M477.0 358.5h0M488.9 336.8h0M462.5 345.8h0M428.0 315.7h0M482.6 342.6h0M446.2 310.4h0M444.1 344.6h0M435.7 347.7h0M510.1 300.0h0M422.0 349.7h0M489.8 307.2h0M441.9 359.3h0M430.1 326.5h0M508.0 329.9h0M502.6 335.0h0M467.5 334.8h0M461.5 354.7h0M422.2 318.7h0M497.0 335.0h0M506.3 369.0h0M431.8 353.6h0M416.5 344.8h0M439.9 335.2h0M442.6 311.3h0M475.7 358.4h0M460.8 335.2h0M447.2 367.1h0M423.1 360.8h0M441.7 310.8h0M453.8 340.1h0M416.7 311.9h0M463.4 314.5h0M498.7 307.1h0M415.8 367.4h0M485.4 361.8h0M462.3 327.6h0M474.9 337.5h0M438.1 312.2h0M504.0 314.8h0M413.2 328.7h0M440.7 335.5h0M422.4 332.6h0M442.6 315.3h0M501.4 313.4h0M493.9 364.8h0M468.9 348.3h0M498.7 362.8h0M487.4 322.4h0M434.4 329.6h0M486.5 347.0h0M446.6 329.0h0M493.7 355.0h0M464.8 307.4h0M440.5 319.0h0M456.7 335.7h0M455.3 368.4h0M499.1 308.9h0M487.0 335.5h0M418.4 319.4h0M464.6 327.2h0M491.0 353.5h0M433.3 299.4h0M438.5 343.4h0M502.7 363.3h0M443.9 300.9h0M425.4 336.3h0M506.7 300.6h0M419.2 321.2h0M500.0 325.6h0M426.1 308.5h0M500.7 337.4h0M490.5 332.1h0M430.9 307.2h0M418.6 307.8h0M452.6 306.4h0M496.5 363.4h0M477.4 369.2h0M475.3 360.5h0M488.9 328.5h0M499.3 345.0h0M470.1 331.8h0M439.2 311.8h0M433.4 341.7h0M480.6 317.0h0M450.8 341.7h0M478.0 329.8h0M444.7 360.8h0M432.5 346.5h0M457.4 314.7h0M462.5 368.6h0M420.8 337.9h0M461.7 317.5h0M418.4 342.4h0M443.5 342.2h0M456.0 364.2h0M445.0 343.4h0M471.0 327.8h0M455.1 329.0h0M478.3 337.3h0M479.0 366.2h0M457.4 342.1h0M451.4 330.6h0M410.6 327.0h0M468.3 304.8h0M479.0 335.3h0M512.7 332.7h0M473.5 354.0h0M510.2 315.1h0M484.3 366.7h0M465.5 324.6h0M457.8 316.5h0M416.1 323.2h0M413.5 327.3h0M454.7 299.9h0M465.2 343.1h0M438.7 321.7h0M448.6 364.4h0M445.1 322.1h0M418.4 355.6h0M466.9 326.8h0M440.3 334.8h0M419.5 320.5h0M431.3 351.4h0M491.4 341.3h0M423.7 307.8h0M418.6 335.8h0M488.8 325.1h0M445.8 364.5h0M441.0 319.9h0M475.2 302.5h0M505.5 342.1h0M509.0 335.8h0M474.0 330.4h0M473.2 310.0h0M485.1 299.8h0M475.9 309.4h0M479.7 356.1h0M415.6 303.8h0M445.9 322.8h0M470.8 360.5h0M424.8 308.0h0M512.4 345.7h0M512.4 329.9h0M454.2 302.8h0M469.4 367.0h0M451.6 349.7h0M433.6 366.0h0M423.7 319.8h0M472.4 345.6h0M456.2 320.6h0M465.1 345.6h0M498.8 350.3h0M452.6 368.0h0M461.4 345.7h0M439.0 311.2h0M434.8 359.7h0M468.6 318.3h0M439.6 356.5h0M443.0 313.8h0M453.5 362.2h0M506.6 355.5h0M499.6 326.2h0M436.5 335.5h0M409.8 363.9h0M433.3 307.9h0M468.8 307.9h0M495.2 329.5h0M462.7 361.2h0M452.4 365.1h0M463.1 326.4h0M422.4 330.6h0M483.5 304.9h0M511.1 316.2h0M477.3 359.0h0M418.3 315.8h0M500.9 364.4h0M414.9 341.0h0M484.4 323.1h0M493.5 341.8h0M453.7 311.3h0M503.2 368.1h0M442.4 348.7h0M470.6 349.3h0M427.4 315.6h0M490.9 303.2h0M418.3 363.2h0M419.5 323.7h0M479.4 308.0h0M502.7 348.2h0M483.9 318.5h0M458.0 365.5h0M420.2 327.6h0M467.2 346.9h0M475.9 345.7h0M426.2 339.4h0M492.0 352.2h0M414.7 349.7h0M458.1 315.1h0M435.8 323.4h0M418.3 309.1h0M447.1 309.6h0M444.8 345.1h0M441.1 308.3h0M454.5 316.5h0M433.2 364.7h0M433.8 329.2h0M474.1 342.7h0M431.7 311.5h0M448.4 314.3h0M464.4 350.5h0M433.6 341.0h0M440.0 312.3h0M484.7 352.9h0M421.8 302.2h0M499.8 340.2h0M469.4 339.6h0M428.5 300.1h0M447.9 360.9h0M476.2 366.3h0M417.6 354.4h0M501.7 367.9h0M503.6 347.6h0M509.3 319.8h0M465.6 367.1h0M502.9 333.3h0M441.0 332.6h0M430.1 331.9h0M497.5 307.7h0M486.7 331.4h0M474.9 357.5h0M465.7 355.5h0M434.0 344.3h0M415.8 354.2h0M460.4 326.9h0M432.2 300.4h0M435.0 329.7h0M511.5 361.3h0M482.3 317.1h0M488.1 369.2h0M473.9 324.7h0M454.9 348.0h0M459.1 322.4h0M431.9 331.3h0M461.9 343.8h0M426.8 331.9h0M441.3 322.8h0M469.4 314.6h0M409.7 325.6h0M448.8 347.6h0M472.1 334.1h0M418.0 363.7h0M441.5 328.1h0M446.2 343.7h0M508.1 312.8h0M432.0 310.8h0M504.4 316.5h0M416.1 306.7h0M445.4 351.6h0M418.5 345.7h0M502.0 321.8h0M487.3 335.8h0M476.6 356.1h0M418.8 303.5h0M508.0 318.9h0M508.5 326.7h0M425.3 357.1h0M428.9 307.1h0M460.9 350.5h0M430.0 346.2h0M509.0 334.8h0M511.7 348.7h0M506.1 299.3h0M464.5 337.1h0M462.1 352.6h0M489.4 368.0h0M422.4 310.8h0M473.8 301.4h0M411.2 321.1h0M507.9 365.6h0M412.9 355.1h0M420.7 363.1h0M418.7 337.9h0M506.5 302.2h0M509.6 315.5h0M448.1 317.9h0M417.9 344.4h0M455.4 330.8h0M498.7 307.7h0M446.5 340.4h0M454.2 328.2h0M471.0 338.2h0M421.4 330.8h0M502.2 339.8h0M485.4 318.6h0M410.6 355.7h0M432.4 335.7h0M425.1 351.5h0M497.8 300.2h0M501.2 341.4h0M484.9 313.6h0M498.7 312.9h0M488.6 333.1h0M461.7 323.3h0M506.1 310.6h0M449.3 337.4h0M424.2 311.9h0M476.0 322.2h0M420.2 303.5h0M505.0 358.3h0M491.6 352.6h0M443.6 317.5h0M446.1 325.0h0M415.6 349.2h0M502.4 332.8h0M450.9 348.2h0M488.7 322.8h0M487.3 361.3h0M433.7 329.4h0M433.4 362.8h0M506.8 364.3h0M466.8 353.4h0M433.7 338.8h0M438.5 360.2h0M478.0 335.4h0M455.5 348.0h0M412.2 363.3h0M409.8 312.2h0M502.4 328.4h0M499.3 319.2h0M509.8 308.7h0M467.5 310.8h0M435.6 324.0h0M478.2 310.7h0M460.9 324.7h0M498.5 336.6h0M468.6 341.1h0M435.7 315.3h0M486.5 302.1h0M467.6 363.4h0M512.1 350.0h0M484.2 323.2h0M457.7 328.2h0M450.2 347.6h0M454.2 333.7h0M419.7 361.0h0M414.5 365.7h0M466.5 322.6h0M511.7 363.0h0M413.5 349.3h0M451.9 333.9h0M505.4 345.1h0M422.7 358.9h0M465.9 354.7h0M415.2 368.6h0M467.1 310.5h0M512.2 333.0h0" stroke="#a4b2dc" stroke-width="1.20" stroke-linecap="round" fill="none"/>
<path d="M425.3 361.5h0M416.8 351.8h0M427.9 300.8h0M423.6 354.1h0M472.3 306.6h0M499.5 348.7h0M504.0 339.6h0M471.3 340.2h0M498.7 305.7h0M503.7 351.3h0M485.2 338.9h0M504.4 346.5h0M444.0 330.1h0M440.7 299.6h0M473.5 339.9h0M492.9 354.1h0M424.0 307.5h0M421.7 352.3h0M416.8 368.3h0M438.7 340.8h0M498.0 365.2h0M443.1 341.5h0M467.4 338.6h0M468.5 368.6h0M454.2 320.8h0M494.5 343.7h0M438.4 362.2h0M410.3 332.1h0M438.0 356.3h0M477.2 334.1h0M469.9 324.3h0M488.0 343.4h0M415.6 302.0h0M430.9 352.5h0M417.5 314.3h0M418.7 302.0h0M441.7 368.5h0M434.9 365.4h0M427.9 342.5h0M443.5 302.7h0M443.3 330.9h0M477.9 347.9h0M428.2 368.0h0M466.3 336.6h0M503.2 350.5h0M414.0 319.2h0M462.1 317.1h0M503.3 335.4h0M464.5 321.4h0M471.8 358.6h0M432.7 334.5h0M457.0 330.2h0M507.1 349.6h0M482.2 326.7h0M440.9 326.0h0M508.5 311.4h0M478.5 308.0h0M463.7 309.7h0M510.7 353.9h0M412.3 356.9h0M469.3 336.2h0M494.8 320.4h0M415.6 364.9h0M430.1 341.0h0M432.9 350.7h0M422.1 366.2h0M427.0 305.8h0M409.3 357.3h0M434.6 300.3h0M443.5 362.2h0M483.3 368.1h0M456.2 310.0h0M500.9 317.7h0M426.3 358.5h0M485.4 316.9h0M435.1 300.9h0M443.2 342.6h0M451.6 306.0h0M410.7 358.1h0M423.5 312.1h0M447.1 319.9h0M430.9 364.6h0M484.0 318.4h0M443.2 317.0h0M472.4 317.4h0M499.4 332.1h0M428.2 363.0h0M505.7 363.5h0M501.3 337.6h0M507.9 301.4h0M496.9 345.2h0M467.9 306.9h0M422.3 369.0h0M504.9 329.5h0M426.6 362.0h0M467.5 330.3h0M409.6 349.2h0M409.7 299.9h0M457.8 301.5h0M488.4 326.6h0M419.0 361.3h0M409.5 343.5h0M503.4 336.5h0M483.5 308.7h0M485.5 339.6h0M506.9 305.5h0M450.9 316.4h0M478.2 301.8h0M499.1 332.4h0M442.9 367.9h0M418.1 316.6h0M488.6 358.0h0M424.2 316.8h0M436.0 328.2h0M466.8 356.2h0M508.0 356.9h0M442.5 307.6h0M455.3 346.8h0M455.0 364.7h0M506.3 332.9h0M471.6 368.7h0M480.3 324.8h0M491.4 319.0h0M456.4 347.0h0M435.5 354.1h0M472.5 310.7h0M477.2 303.2h0M462.8 333.5h0M490.3 358.6h0M492.0 361.4h0M437.6 331.1h0M489.8 305.3h0M424.0 336.3h0M468.3 306.0h0M499.6 356.8h0M505.8 367.9h0M442.7 345.0h0M412.1 323.2h0M480.5 354.9h0M421.5 361.8h0M464.5 354.9h0M430.6 326.9h0M446.9 353.8h0M435.3 361.4h0M431.4 366.8h0M481.4 336.4h0M513.2 366.3h0M466.0 343.7h0M434.3 362.5h0M413.0 330.2h0M425.5 332.8h0M454.2 314.6h0M445.6 321.8h0M458.8 314.2h0M436.1 320.9h0M430.1 352.4h0M486.5 355.1h0M465.9 340.8h0M463.9 323.6h0M428.2 335.9h0M452.3 326.6h0M512.9 310.9h0M418.9 333.0h0M487.7 346.8h0M470.2 318.4h0M442.8 318.2h0M426.0 324.7h0M483.2 317.5h0M430.0 341.2h0M435.4 315.7h0M413.7 330.2h0M427.8 311.2h0M491.3 301.7h0M492.2 364.6h0M437.7 305.5h0M453.1 364.5h0M477.5 318.9h0M481.2 326.4h0M430.9 336.9h0M473.2 309.1h0M492.2 346.5h0M451.6 355.1h0M471.7 316.5h0M486.6 367.0h0M495.6 330.1h0M428.7 333.2h0M466.0 352.2h0M486.8 337.4h0M427.8 331.4h0M485.5 350.2h0M432.0 315.0h0M446.6 325.5h0M440.8 349.6h0M449.1 333.4h0M461.9 342.9h0M483.1 325.8h0M435.5 348.9h0M495.0 362.6h0M481.3 326.4h0M448.5 313.7h0M437.9 337.3h0M436.4 353.1h0M494.6 317.5h0M504.3 314.6h0M448.7 327.5h0M416.9 330.4h0M502.0 320.5h0M485.3 346.9h0M451.0 338.5h0M507.0 320.0h0M512.3 299.9h0M456.5 338.8h0M488.2 319.8h0M424.4 300.3h0M508.2 364.4h0M460.2 339.2h0M512.7 358.1h0M507.0 301.8h0M491.3 368.5h0M478.9 346.5h0M497.4 369.3h0M448.7 365.4h0M420.0 322.7h0M436.1 319.9h0M500.6 314.8h0M482.4 350.6h0M411.8 364.8h0M470.9 354.9h0M438.3 362.1h0M451.2 346.2h0M486.9 338.9h0M465.6 336.5h0M487.9 311.5h0M474.4 355.7h0M434.6 307.5h0M509.1 337.3h0M431.8 320.8h0M411.7 351.4h0M427.8 306.2h0M472.6 313.2h0M505.4 335.9h0M441.1 352.8h0M444.5 365.2h0M504.7 362.0h0M470.0 340.9h0M426.6 319.3h0M418.7 301.4h0M500.0 341.4h0M467.3 364.6h0M429.6 365.8h0M427.5 356.3h0M506.9 338.2h0M435.2 337.7h0M497.7 320.4h0M511.1 313.4h0M429.9 358.5h0M424.6 332.8h0M466.8 341.6h0M458.9 349.1h0M463.0 322.9h0M426.7 326.0h0M440.1 340.0h0M440.3 360.6h0M457.2 308.6h0M480.4 330.7h0M506.6 358.5h0M491.2 338.1h0M488.7 322.5h0M512.7 350.9h0M419.4 348.7h0M413.0 323.8h0M471.2 335.8h0M420.5 358.3h0M442.5 300.3h0M476.5 339.7h0M430.4 321.1h0M419.8 356.6h0M507.8 323.1h0M429.8 360.6h0M511.5 362.7h0M429.3 334.4h0M498.7 350.4h0M497.1 334.7h0M419.8 355.9h0M420.9 316.2h0M442.5 332.8h0M429.6 355.8h0M424.5 317.0h0M498.7 356.2h0M435.1 326.4h0M486.2 319.5h0M480.8 305.2h0M409.5 351.3h0M483.1 338.2h0M500.6 346.7h0M449.1 312.3h0M451.8 363.2h0M413.6 339.7h0M512.6 327.6h0M497.4 325.4h0M472.4 364.0h0M461.1 338.7h0M465.2 343.7h0M498.1 314.1h0M426.1 352.3h0M477.5 302.1h0M495.2 305.7h0M500.9 308.3h0M422.5 312.9h0M437.7 304.8h0M494.4 325.1h0M502.1 327.4h0M494.8 316.0h0M508.6 342.6h0M457.9 317.1h0M493.9 355.9h0M493.5 314.2h0M479.9 360.0h0M467.6 361.0h0M414.2 343.7h0M418.9 340.3h0M456.3 341.3h0M501.8 361.4h0M491.0 319.0h0M461.4 307.9h0M497.1 349.0h0M449.8 358.8h0M479.6 335.5h0M487.4 342.3h0M432.1 331.7h0" stroke="#94a4d4" stroke-width="1.16" stroke-linecap="round" fill="none"/>
<path d="M414.2 368.6h0M442.9 340.3h0M492.6 316.5h0M447.1 340.1h0M461.1 361.4h0M491.5 328.0h0M445.8 333.5h0M491.4 344.6h0M507.5 355.3h0M513.0 334.9h0M471.5 316.7h0M507.3 350.2h0M447.2 324.4h0M411.5 358.4h0M453.6 308.1h0M499.6 353.0h0M436.4 327.8h0M409.6 334.4h0M451.4 321.7h0M418.6 315.0h0M481.2 366.6h0M444.0 304.8h0M504.6 346.4h0M493.0 317.1h0M443.7 322.7h0M513.2 327.0h0M457.2 365.5h0M479.0 319.2h0M458.6 352.2h0M450.4 353.7h0M502.1 301.8h0M471.4 339.9h0M457.8 353.9h0M475.5 315.2h0M432.3 359.0h0M471.8 357.0h0M443.6 337.7h0M502.1 352.7h0M482.7 353.4h0M436.5 361.4h0M409.8 365.3h0M427.0 358.9h0M426.0 335.2h0M452.9 317.9h0M488.3 310.0h0M416.8 350.3h0M470.1 300.2h0M421.2 360.0h0M423.5 350.3h0M430.2 312.7h0M467.8 363.4h0M512.9 347.8h0M421.1 315.8h0M509.9 367.5h0M468.9 341.2h0M491.7 344.7h0M503.8 330.6h0M443.6 329.3h0M464.0 311.3h0M476.6 327.3h0M452.4 335.9h0M460.9 317.2h0M505.4 303.4h0M478.6 313.9h0M469.3 317.3h0M463.6 307.1h0M416.9 330.6h0M449.3 341.1h0M425.1 324.4h0M450.3 307.7h0M462.2 321.4h0M501.2 329.4h0M415.0 364.6h0M439.0 327.7h0M410.6 330.8h0M424.8 314.7h0M487.2 344.2h0M476.1 365.4h0M433.0 344.9h0M499.2 350.4h0M512.7 329.1h0M465.5 357.3h0M454.9 366.2h0M440.5 346.4h0M447.9 319.9h0M471.6 366.0h0M415.2 306.7h0M464.0 308.4h0M438.9 307.9h0M500.2 304.2h0M503.3 350.8h0M436.4 365.0h0M464.9 302.1h0M459.7 307.4h0M435.1 360.5h0M471.8 315.6h0M454.3 325.7h0M473.9 334.9h0M507.9 354.3h0M447.9 350.3h0M457.4 341.5h0M452.2 367.8h0M435.3 330.4h0M426.2 353.2h0M442.1 300.8h0M474.9 334.4h0M417.8 301.5h0M422.7 369.2h0M503.6 313.4h0M499.3 324.0h0M504.3 344.0h0M412.0 300.3h0M450.9 343.6h0M511.4 332.3h0M456.1 299.9h0M426.3 347.9h0M495.6 335.5h0M413.9 356.6h0M493.0 344.2h0M512.4 328.6h0M438.0 351.4h0M433.1 355.2h0M474.4 351.8h0M475.7 348.3h0M437.1 336.2h0M483.7 300.4h0M498.4 304.4h0M421.0 335.1h0M423.7 349.1h0M467.7 337.0h0M488.9 363.2h0M512.9 336.0h0M410.6 352.7h0M511.0 328.6h0M471.6 305.8h0M492.3 362.9h0M453.6 337.8h0M489.7 300.6h0M501.7 354.1h0M429.4 316.4h0M470.3 345.4h0M438.1 320.2h0M471.6 316.8h0M461.7 314.9h0M501.8 351.0h0M443.8 352.3h0M425.3 363.8h0M439.5 357.8h0M453.7 357.3h0M456.2 356.1h0M453.5 304.7h0M498.9 328.7h0M490.8 307.8h0M481.7 311.8h0M487.6 348.7h0M506.3 366.3h0M500.6 308.4h0M414.6 340.9h0M503.8 318.9h0M508.9 314.5h0M501.6 307.9h0M447.7 325.5h0M483.4 335.6h0M480.3 345.5h0M474.8 307.2h0M430.1 367.9h0M432.2 356.0h0M413.0 335.5h0M461.6 317.3h0M410.3 333.9h0M436.3 334.9h0M504.0 352.0h0M452.3 323.0h0M433.5 362.2h0M460.0 310.2h0M460.4 358.5h0M447.5 351.0h0M454.5 311.2h0M488.8 313.0h0M462.4 300.2h0M439.0 325.1h0M483.7 312.2h0M437.3 351.8h0M457.6 353.8h0M485.4 337.3h0M499.0 316.0h0M512.0 308.6h0M472.9 351.1h0M482.7 310.2h0M442.6 346.1h0M480.5 301.0h0M414.0 357.4h0M483.7 316.0h0M490.7 355.1h0M443.3 345.9h0M459.1 303.2h0M493.6 313.4h0M475.3 310.8h0M507.3 338.7h0M483.4 337.6h0M513.4 348.5h0M464.3 307.5h0M458.3 307.5h0M485.5 331.4h0M462.7 360.5h0M456.1 343.5h0M459.9 328.9h0M475.1 340.6h0M441.6 359.9h0M479.7 300.3h0M430.1 318.0h0M419.6 367.6h0M470.2 364.9h0M479.4 367.1h0M442.7 312.0h0M425.7 331.2h0M414.8 368.6h0M424.2 345.5h0M434.5 346.7h0M494.2 346.3h0M443.5 355.8h0M511.3 338.2h0M443.2 365.8h0M418.8 343.5h0M433.6 363.6h0M425.3 324.6h0M510.0 322.9h0M465.1 361.4h0M465.1 304.5h0M507.8 366.7h0M435.9 355.4h0M486.1 362.5h0M503.8 328.4h0M447.5 353.1h0M474.7 305.4h0M467.6 354.4h0M448.6 335.1h0M460.9 307.4h0M489.5 329.1h0M497.6 338.7h0M490.0 342.9h0M442.4 321.2h0M464.2 364.9h0M412.8 302.7h0M497.5 369.1h0M487.6 314.3h0M487.0 350.2h0M495.1 299.5h0M425.2 314.9h0M481.2 321.6h0M413.2 310.6h0M512.9 303.4h0M506.1 361.5h0M436.8 348.6h0M501.0 352.7h0M460.9 322.9h0M454.4 300.5h0M507.7 345.3h0M461.9 364.5h0M484.8 310.1h0M434.9 303.0h0M474.9 339.7h0M445.6 337.8h0M442.5 321.8h0M497.7 368.5h0M427.6 355.5h0M509.4 346.3h0M502.2 313.2h0M499.8 323.7h0M441.6 328.1h0M492.1 329.5h0M479.7 334.6h0M506.4 356.0h0M454.6 358.7h0M414.9 365.1h0M451.5 334.7h0M507.9 311.6h0M413.4 304.8h0M423.0 328.8h0M475.0 346.1h0M486.2 337.9h0M424.8 332.8h0M422.8 353.5h0M453.3 331.7h0M410.7 334.0h0M447.6 356.4h0M493.6 351.0h0M499.5 334.1h0M494.1 318.1h0M457.5 303.1h0M451.2 350.3h0M483.7 323.3h0M460.3 322.8h0M442.1 311.5h0M421.5 360.9h0M420.0 314.1h0M503.1 337.1h0M418.6 324.4h0M444.9 349.3h0M446.0 325.6h0M435.2 363.2h0M459.8 311.7h0M490.2 341.9h0M424.5 335.1h0M466.8 349.3h0M446.3 328.3h0M494.1 311.1h0M509.1 322.2h0M499.6 360.9h0M494.8 360.2h0M450.2 367.2h0M462.9 300.4h0M484.3 325.3h0M425.0 333.6h0M495.1 314.0h0M424.5 325.4h0M447.7 361.0h0M435.6 320.4h0M465.1 331.6h0M421.3 366.9h0M467.2 337.6h0M458.0 357.3h0M460.2 318.2h0M450.8 365.9h0M433.2 334.6h0M454.5 300.7h0M496.3 364.8h0M420.7 323.1h0M431.2 337.9h0M489.2 344.5h0" stroke="#b6c0e2" stroke-width="1.20" stroke-linecap="round" fill="none"/>
<path d="M508.6 349.0h0M427.9 309.8h0M442.0 332.1h0M446.0 318.0h0M417.7 340.1h0M476.9 316.7h0M414.3 358.7h0M428.8 319.7h0M513.2 317.3h0M483.8 318.3h0M429.5 327.4h0M472.0 340.3h0M437.2 323.7h0M460.1 301.6h0M469.7 342.7h0M483.4 301.8h0M441.3 317.5h0M411.5 343.7h0M440.8 365.9h0M422.3 343.8h0M504.8 331.0h0M441.1 332.3h0M448.6 364.7h0M471.1 337.5h0M431.2 333.2h0M477.5 304.7h0M420.5 330.5h0M420.4 368.5h0M490.9 329.3h0M470.5 301.8h0M487.3 304.8h0M433.5 342.3h0M487.8 324.7h0M455.6 345.7h0M435.0 343.1h0M460.3 305.1h0M485.0 353.6h0M463.5 356.9h0M483.3 341.0h0M513.1 352.8h0M442.8 321.6h0M415.2 315.6h0M500.1 337.7h0M489.9 327.1h0M487.7 323.6h0M462.0 325.0h0M485.1 301.6h0M487.9 314.7h0M482.6 312.7h0M504.4 316.5h0M499.0 303.0h0M464.0 346.9h0M512.0 350.3h0M420.5 344.5h0M474.5 341.1h0M470.0 345.6h0M409.6 334.2h0M417.5 357.2h0M414.7 366.1h0M427.5 341.8h0M413.5 324.7h0M483.3 303.2h0M488.7 349.3h0M465.7 369.0h0M424.2 300.7h0M488.7 347.3h0M490.7 351.2h0M454.3 367.5h0M450.9 362.4h0M440.3 358.7h0M444.2 350.9h0M482.8 300.8h0M469.9 333.9h0M426.8 348.2h0M457.0 332.5h0M511.8 348.8h0M480.5 303.4h0M427.3 304.2h0M438.8 358.5h0M485.1 306.7h0M415.7 353.2h0M462.7 312.4h0M461.6 313.1h0M468.8 363.4h0M504.5 316.1h0M470.1 329.1h0M420.1 327.6h0M496.1 366.6h0M506.9 361.9h0M411.9 348.4h0M500.2 339.4h0M461.9 325.3h0M494.8 314.4h0M505.7 313.4h0M461.1 343.9h0M455.4 364.1h0M428.7 342.4h0M508.1 367.7h0M475.6 321.5h0M420.3 332.3h0M430.7 357.8h0M490.1 302.3h0M478.4 340.2h0M452.8 344.4h0M440.7 314.5h0M473.9 347.8h0M444.3 362.7h0M415.8 310.7h0M485.8 322.5h0M449.1 329.6h0M458.0 361.6h0M435.3 332.8h0M484.0 317.8h0M427.5 356.0h0M426.6 349.9h0M500.5 363.7h0M464.0 327.2h0M446.8 353.5h0M423.0 315.8h0M457.8 358.8h0M456.0 317.4h0M479.8 363.6h0M430.4 304.1h0M496.3 339.6h0M454.0 324.8h0M414.6 300.8h0M496.9 329.3h0M506.7 302.7h0M458.2 318.1h0M465.1 341.1h0M511.8 335.3h0M454.0 354.5h0M434.1 347.9h0M437.1 333.6h0M491.6 332.2h0M431.6 320.0h0M429.6 305.7h0M437.6 333.9h0M477.6 319.6h0M507.9 310.4h0M444.7 320.8h0M502.8 364.9h0M413.5 341.3h0M508.5 362.7h0M437.3 349.7h0M484.5 361.2h0M473.2 335.5h0M503.7 354.1h0M411.9 317.1h0M473.4 357.9h0M510.0 299.8h0M447.3 312.5h0M497.6 313.4h0M456.6 358.2h0M425.6 306.5h0M459.0 311.0h0M462.3 309.2h0M506.1 339.9h0M496.2 341.3h0M421.6 328.6h0" stroke="#8494cc" stroke-width="1.00" stroke-linecap="round" fill="none"/>
<path d="M460.5,342.4 L464,331 L467.6,321.2 L473.6,318.2 L481,320.5 L491.8,325.3 L486,327.2 L481.7,329.6 L478.5,334 L475.7,338.4 L471,341.5 L467.6,344.5 Z" fill="#f7f7fb"/>
</g>
<rect x="409.3" y="299.3" width="104.2" height="70.0" fill="none" stroke="#8e8e8e" stroke-width="0.9"/>
<text x="306.80" y="234.20" font-size="6.4" fill="#2a2a2a" stroke="#2a2a2a" stroke-width="0.22" textLength="8.80" lengthAdjust="spacingAndGlyphs">BM</text>
<text x="412.30" y="234.60" font-size="6.4" fill="#2a2a2a" stroke="#2a2a2a" stroke-width="0.22" textLength="8.00" lengthAdjust="spacingAndGlyphs">PB</text>
<text x="306.80" y="307.60" font-size="6.4" fill="#2a2a2a" stroke="#2a2a2a" stroke-width="0.22" textLength="8.00" lengthAdjust="spacingAndGlyphs">SP</text>
<text x="412.50" y="307.60" font-size="6.4" fill="#2a2a2a" stroke="#2a2a2a" stroke-width="0.22" textLength="7.60" lengthAdjust="spacingAndGlyphs">LV</text>
<defs>
<radialGradient id="gC"><stop offset="0" stop-color="#e8c828"/><stop offset="0.22" stop-color="#7cc838"/><stop offset="0.45" stop-color="#2aa8a0"/><stop offset="0.68" stop-color="#2a78d0"/><stop offset="0.86" stop-color="#5a8ae0" stop-opacity="0.6"/><stop offset="1" stop-color="#8aa8f0" stop-opacity="0"/></radialGradient>
<radialGradient id="gB"><stop offset="0" stop-color="#2a9ac8"/><stop offset="0.5" stop-color="#2a70d0"/><stop offset="0.8" stop-color="#5a8ae0" stop-opacity="0.5"/><stop offset="1" stop-color="#8aa8f0" stop-opacity="0"/></radialGradient>
<radialGradient id="gR"><stop offset="0" stop-color="#e02818"/><stop offset="0.2" stop-color="#f0a020"/><stop offset="0.4" stop-color="#70c040"/><stop offset="0.62" stop-color="#20a0b0"/><stop offset="0.82" stop-color="#2a70d0"/><stop offset="1" stop-color="#7aa0f0" stop-opacity="0"/></radialGradient>
<radialGradient id="gF"><stop offset="0" stop-color="#4a7ae0" stop-opacity="0.5"/><stop offset="1" stop-color="#8aa8f0" stop-opacity="0"/></radialGradient>
<linearGradient id="gBand" x1="0" y1="0" x2="1" y2="0"><stop offset="0" stop-color="#4a7ad8" stop-opacity="0.6"/><stop offset="0.15" stop-color="#2a6cc8"/><stop offset="0.4" stop-color="#2090b8"/><stop offset="0.55" stop-color="#28a890"/><stop offset="0.72" stop-color="#44b460"/><stop offset="0.88" stop-color="#2a78c8"/><stop offset="1" stop-color="#5a80d8" stop-opacity="0.6"/></linearGradient>
<linearGradient id="gH3" x1="0" y1="0" x2="1" y2="0"><stop offset="0" stop-color="#3a70d0" stop-opacity="0.6"/><stop offset="0.2" stop-color="#1a4cb0"/><stop offset="0.5" stop-color="#2080b8"/><stop offset="0.8" stop-color="#1a4cb0"/><stop offset="1" stop-color="#3a70d0" stop-opacity="0.6"/></linearGradient>
<radialGradient id="gG"><stop offset="0" stop-color="#60c040"/><stop offset="0.3" stop-color="#48b858"/><stop offset="0.55" stop-color="#24a0b0"/><stop offset="0.78" stop-color="#2a74d0"/><stop offset="0.9" stop-color="#5a8ae0" stop-opacity="0.6"/><stop offset="1" stop-color="#8aa8f0" stop-opacity="0"/></radialGradient>
</defs>
<text x="9.50" y="338.10" font-size="11.0" fill="#111" stroke="#111" stroke-width="0.28" font-weight="bold">F</text>
<text x="79.00" y="339.49" font-size="8.4" fill="#222" stroke="#222" stroke-width="0.18" textLength="138.90" lengthAdjust="spacingAndGlyphs">CD19<tspan font-size="62%" baseline-shift="super">+</tspan>CD5<tspan font-size="62%" baseline-shift="super">+</tspan>IgM<tspan font-size="62%" baseline-shift="super">+</tspan>B220<tspan font-size="62%" baseline-shift="super">−/low</tspan>CD43<tspan font-size="62%" baseline-shift="super">+</tspan> B1α</text>
<rect x="31.30" y="344.70" width="44.10" height="43.80" fill="#ffffff"/>
<rect x="100.30" y="344.90" width="44.10" height="44.10" fill="#ffffff"/>
<rect x="171.20" y="345.40" width="45.00" height="44.00" fill="#ffffff"/>
<rect x="244.60" y="346.10" width="43.30" height="43.30" fill="#ffffff"/>
<circle cx="49.3" cy="364.5" r="0.3" fill="#6a8ae0" opacity="0.5"/>
<circle cx="51.0" cy="365.8" r="0.3" fill="#6a8ae0" opacity="0.5"/>
<circle cx="55.0" cy="364.3" r="0.3" fill="#6a8ae0" opacity="0.5"/>
<circle cx="52.5" cy="368.0" r="0.3" fill="#6a8ae0" opacity="0.5"/>
<circle cx="52.6" cy="365.6" r="0.3" fill="#6a8ae0" opacity="0.5"/>
<circle cx="59.0" cy="365.2" r="0.3" fill="#6a8ae0" opacity="0.5"/>
<circle cx="44.3" cy="370.7" r="0.3" fill="#6a8ae0" opacity="0.5"/>
<circle cx="55.7" cy="360.8" r="0.3" fill="#6a8ae0" opacity="0.5"/>
<circle cx="50.8" cy="366.4" r="0.3" fill="#6a8ae0" opacity="0.5"/>
<circle cx="51.1" cy="361.3" r="0.3" fill="#6a8ae0" opacity="0.5"/>
<circle cx="47.1" cy="366.6" r="0.3" fill="#6a8ae0" opacity="0.5"/>
<circle cx="50.3" cy="367.9" r="0.3" fill="#6a8ae0" opacity="0.5"/>
<circle cx="48.7" cy="368.0" r="0.3" fill="#6a8ae0" opacity="0.5"/>
<circle cx="50.7" cy="363.9" r="0.3" fill="#6a8ae0" opacity="0.5"/>
<circle cx="48.4" cy="361.2" r="0.3" fill="#6a8ae0" opacity="0.5"/>
<circle cx="53.4" cy="363.3" r="0.3" fill="#6a8ae0" opacity="0.5"/>
<circle cx="47.2" cy="361.1" r="0.3" fill="#6a8ae0" opacity="0.5"/>
<circle cx="45.3" cy="363.9" r="0.3" fill="#6a8ae0" opacity="0.5"/>
<circle cx="58.0" cy="369.1" r="0.3" fill="#6a8ae0" opacity="0.5"/>
<circle cx="38.8" cy="361.2" r="0.3" fill="#6a8ae0" opacity="0.5"/>
<circle cx="49.0" cy="364.0" r="0.3" fill="#6a8ae0" opacity="0.5"/>
<circle cx="49.4" cy="360.8" r="0.3" fill="#6a8ae0" opacity="0.5"/>
<circle cx="51.2" cy="361.5" r="0.3" fill="#6a8ae0" opacity="0.5"/>
<circle cx="44.0" cy="364.7" r="0.3" fill="#6a8ae0" opacity="0.5"/>
<circle cx="58.9" cy="363.2" r="0.3" fill="#6a8ae0" opacity="0.5"/>
<circle cx="59.2" cy="366.0" r="0.3" fill="#6a8ae0" opacity="0.5"/>
<circle cx="50.7" cy="364.6" r="0.3" fill="#6a8ae0" opacity="0.5"/>
<circle cx="51.3" cy="367.1" r="0.3" fill="#6a8ae0" opacity="0.5"/>
<circle cx="47.8" cy="366.6" r="0.3" fill="#6a8ae0" opacity="0.5"/>
<circle cx="44.7" cy="362.0" r="0.3" fill="#6a8ae0" opacity="0.5"/>
<circle cx="40.7" cy="367.0" r="0.3" fill="#6a8ae0" opacity="0.5"/>
<circle cx="45.8" cy="364.1" r="0.3" fill="#6a8ae0" opacity="0.5"/>
<circle cx="50.3" cy="362.2" r="0.3" fill="#6a8ae0" opacity="0.5"/>
<circle cx="55.0" cy="363.4" r="0.3" fill="#6a8ae0" opacity="0.5"/>
<circle cx="49.7" cy="365.2" r="0.3" fill="#6a8ae0" opacity="0.5"/>
<circle cx="44.9" cy="365.4" r="0.3" fill="#6a8ae0" opacity="0.5"/>
<circle cx="54.2" cy="364.4" r="0.3" fill="#6a8ae0" opacity="0.5"/>
<circle cx="40.9" cy="361.7" r="0.3" fill="#6a8ae0" opacity="0.5"/>
<circle cx="43.7" cy="365.4" r="0.3" fill="#6a8ae0" opacity="0.5"/>
<circle cx="53.7" cy="362.7" r="0.3" fill="#6a8ae0" opacity="0.5"/>
<circle cx="52.8" cy="362.7" r="0.3" fill="#6a8ae0" opacity="0.5"/>
<circle cx="45.8" cy="363.8" r="0.3" fill="#6a8ae0" opacity="0.5"/>
<circle cx="46.8" cy="359.7" r="0.3" fill="#6a8ae0" opacity="0.5"/>
<circle cx="48.1" cy="362.4" r="0.3" fill="#6a8ae0" opacity="0.5"/>
<circle cx="56.6" cy="366.2" r="0.3" fill="#6a8ae0" opacity="0.5"/>
<circle cx="38.2" cy="362.8" r="0.3" fill="#6a8ae0" opacity="0.5"/>
<circle cx="50.9" cy="368.5" r="0.3" fill="#6a8ae0" opacity="0.5"/>
<circle cx="54.4" cy="368.6" r="0.3" fill="#6a8ae0" opacity="0.5"/>
<circle cx="44.4" cy="360.9" r="0.3" fill="#6a8ae0" opacity="0.5"/>
<circle cx="45.7" cy="363.8" r="0.3" fill="#6a8ae0" opacity="0.5"/>
<circle cx="46.2" cy="365.5" r="0.3" fill="#6a8ae0" opacity="0.5"/>
<circle cx="54.0" cy="364.2" r="0.3" fill="#6a8ae0" opacity="0.5"/>
<circle cx="50.8" cy="362.7" r="0.3" fill="#6a8ae0" opacity="0.5"/>
<circle cx="44.6" cy="368.6" r="0.3" fill="#6a8ae0" opacity="0.5"/>
<circle cx="45.1" cy="361.9" r="0.3" fill="#6a8ae0" opacity="0.5"/>
<circle cx="59.6" cy="363.9" r="0.3" fill="#6a8ae0" opacity="0.5"/>
<circle cx="44.2" cy="364.8" r="0.3" fill="#6a8ae0" opacity="0.5"/>
<circle cx="50.9" cy="366.7" r="0.3" fill="#6a8ae0" opacity="0.5"/>
<circle cx="51.0" cy="364.4" r="0.3" fill="#6a8ae0" opacity="0.5"/>
<circle cx="53.3" cy="359.7" r="0.3" fill="#6a8ae0" opacity="0.5"/>
<circle cx="39.3" cy="367.6" r="0.3" fill="#6a8ae0" opacity="0.5"/>
<circle cx="54.2" cy="365.3" r="0.3" fill="#6a8ae0" opacity="0.5"/>
<circle cx="54.5" cy="369.0" r="0.3" fill="#6a8ae0" opacity="0.5"/>
<circle cx="50.5" cy="359.3" r="0.3" fill="#6a8ae0" opacity="0.5"/>
<circle cx="43.8" cy="366.6" r="0.3" fill="#6a8ae0" opacity="0.5"/>
<circle cx="56.3" cy="364.9" r="0.3" fill="#6a8ae0" opacity="0.5"/>
<circle cx="42.5" cy="362.6" r="0.3" fill="#6a8ae0" opacity="0.5"/>
<circle cx="45.1" cy="366.4" r="0.3" fill="#6a8ae0" opacity="0.5"/>
<circle cx="50.6" cy="365.4" r="0.3" fill="#6a8ae0" opacity="0.5"/>
<circle cx="51.9" cy="367.4" r="0.3" fill="#6a8ae0" opacity="0.5"/>
<circle cx="39.0" cy="365.4" r="0.3" fill="#6a8ae0" opacity="0.5"/>
<circle cx="47.9" cy="366.4" r="0.3" fill="#6a8ae0" opacity="0.5"/>
<circle cx="56.1" cy="364.0" r="0.3" fill="#6a8ae0" opacity="0.5"/>
<circle cx="50.7" cy="362.2" r="0.3" fill="#6a8ae0" opacity="0.5"/>
<circle cx="48.6" cy="363.8" r="0.3" fill="#6a8ae0" opacity="0.5"/>
<circle cx="49.5" cy="366.7" r="0.3" fill="#6a8ae0" opacity="0.5"/>
<circle cx="46.3" cy="361.7" r="0.3" fill="#6a8ae0" opacity="0.5"/>
<circle cx="52.9" cy="362.4" r="0.3" fill="#6a8ae0" opacity="0.5"/>
<circle cx="51.8" cy="365.0" r="0.3" fill="#6a8ae0" opacity="0.5"/>
<circle cx="48.9" cy="363.2" r="0.3" fill="#6a8ae0" opacity="0.5"/>
<circle cx="59.4" cy="357.9" r="0.3" fill="#6a8ae0" opacity="0.5"/>
<circle cx="66.2" cy="355.5" r="0.3" fill="#6a8ae0" opacity="0.5"/>
<circle cx="50.6" cy="352.2" r="0.3" fill="#6a8ae0" opacity="0.5"/>
<circle cx="64.0" cy="357.6" r="0.3" fill="#6a8ae0" opacity="0.5"/>
<circle cx="60.1" cy="358.0" r="0.3" fill="#6a8ae0" opacity="0.5"/>
<circle cx="54.9" cy="359.1" r="0.3" fill="#6a8ae0" opacity="0.5"/>
<circle cx="51.8" cy="356.4" r="0.3" fill="#6a8ae0" opacity="0.5"/>
<circle cx="56.8" cy="349.7" r="0.3" fill="#6a8ae0" opacity="0.5"/>
<circle cx="64.7" cy="359.3" r="0.3" fill="#6a8ae0" opacity="0.5"/>
<circle cx="63.5" cy="357.5" r="0.3" fill="#6a8ae0" opacity="0.5"/>
<circle cx="57.3" cy="356.6" r="0.3" fill="#6a8ae0" opacity="0.5"/>
<circle cx="62.0" cy="357.2" r="0.3" fill="#6a8ae0" opacity="0.5"/>
<circle cx="61.3" cy="353.7" r="0.3" fill="#6a8ae0" opacity="0.5"/>
<circle cx="52.8" cy="358.0" r="0.3" fill="#6a8ae0" opacity="0.5"/>
<circle cx="61.9" cy="359.7" r="0.3" fill="#6a8ae0" opacity="0.5"/>
<circle cx="57.1" cy="361.4" r="0.3" fill="#6a8ae0" opacity="0.5"/>
<circle cx="64.6" cy="359.3" r="0.3" fill="#6a8ae0" opacity="0.5"/>
<circle cx="65.0" cy="353.6" r="0.3" fill="#6a8ae0" opacity="0.5"/>
<circle cx="61.4" cy="349.1" r="0.3" fill="#6a8ae0" opacity="0.5"/>
<circle cx="55.6" cy="354.5" r="0.3" fill="#6a8ae0" opacity="0.5"/>
<circle cx="60.7" cy="358.4" r="0.3" fill="#6a8ae0" opacity="0.5"/>
<circle cx="61.3" cy="353.0" r="0.3" fill="#6a8ae0" opacity="0.5"/>
<circle cx="57.3" cy="352.8" r="0.3" fill="#6a8ae0" opacity="0.5"/>
<circle cx="55.3" cy="352.7" r="0.3" fill="#6a8ae0" opacity="0.5"/>
<circle cx="55.4" cy="356.4" r="0.3" fill="#6a8ae0" opacity="0.5"/>
<circle cx="58.5" cy="352.6" r="0.3" fill="#6a8ae0" opacity="0.5"/>
<circle cx="61.2" cy="356.9" r="0.3" fill="#6a8ae0" opacity="0.5"/>
<circle cx="63.1" cy="359.4" r="0.3" fill="#6a8ae0" opacity="0.5"/>
<circle cx="55.9" cy="354.9" r="0.3" fill="#6a8ae0" opacity="0.5"/>
<circle cx="57.4" cy="361.4" r="0.3" fill="#6a8ae0" opacity="0.5"/>
<circle cx="66.6" cy="360.1" r="0.3" fill="#6a8ae0" opacity="0.5"/>
<circle cx="63.7" cy="355.2" r="0.3" fill="#6a8ae0" opacity="0.5"/>
<circle cx="62.7" cy="361.5" r="0.3" fill="#6a8ae0" opacity="0.5"/>
<circle cx="50.7" cy="355.8" r="0.3" fill="#6a8ae0" opacity="0.5"/>
<circle cx="58.1" cy="357.1" r="0.3" fill="#6a8ae0" opacity="0.5"/>
<circle cx="66.8" cy="359.8" r="0.3" fill="#6a8ae0" opacity="0.5"/>
<circle cx="55.9" cy="357.8" r="0.3" fill="#6a8ae0" opacity="0.5"/>
<circle cx="59.6" cy="359.6" r="0.3" fill="#6a8ae0" opacity="0.5"/>
<circle cx="57.3" cy="353.5" r="0.3" fill="#6a8ae0" opacity="0.5"/>
<circle cx="57.4" cy="355.6" r="0.3" fill="#6a8ae0" opacity="0.5"/>
<ellipse cx="48.00" cy="364.50" rx="9.00" ry="4.50" fill="url(#gF)" transform="rotate(-8 48.00 364.50)"/>
<ellipse cx="47.70" cy="365.00" rx="7.00" ry="3.30" fill="url(#gB)" transform="rotate(-8 47.70 365.00)"/>
<ellipse cx="60.80" cy="357.00" rx="7.00" ry="6.00" fill="url(#gF)" transform="rotate(-20 60.80 357.00)"/>
<ellipse cx="60.80" cy="356.50" rx="4.80" ry="4.20" fill="url(#gC)" transform="rotate(-20 60.80 356.50)"/>
<circle cx="110.8" cy="360.2" r="0.3" fill="#6a8ae0" opacity="0.5"/>
<circle cx="120.1" cy="357.8" r="0.3" fill="#6a8ae0" opacity="0.5"/>
<circle cx="122.6" cy="358.3" r="0.3" fill="#6a8ae0" opacity="0.5"/>
<circle cx="113.6" cy="356.6" r="0.3" fill="#6a8ae0" opacity="0.5"/>
<circle cx="112.0" cy="356.5" r="0.3" fill="#6a8ae0" opacity="0.5"/>
<circle cx="110.3" cy="354.0" r="0.3" fill="#6a8ae0" opacity="0.5"/>
<circle cx="109.8" cy="358.1" r="0.3" fill="#6a8ae0" opacity="0.5"/>
<circle cx="114.5" cy="359.9" r="0.3" fill="#6a8ae0" opacity="0.5"/>
<circle cx="117.0" cy="358.4" r="0.3" fill="#6a8ae0" opacity="0.5"/>
<circle cx="111.2" cy="359.9" r="0.3" fill="#6a8ae0" opacity="0.5"/>
<circle cx="120.0" cy="355.7" r="0.3" fill="#6a8ae0" opacity="0.5"/>
<circle cx="106.0" cy="358.2" r="0.3" fill="#6a8ae0" opacity="0.5"/>
<circle cx="105.1" cy="355.9" r="0.3" fill="#6a8ae0" opacity="0.5"/>
<circle cx="121.6" cy="359.3" r="0.3" fill="#6a8ae0" opacity="0.5"/>
<circle cx="106.5" cy="353.7" r="0.3" fill="#6a8ae0" opacity="0.5"/>
<circle cx="104.0" cy="355.3" r="0.3" fill="#6a8ae0" opacity="0.5"/>
<circle cx="124.7" cy="361.3" r="0.3" fill="#6a8ae0" opacity="0.5"/>
<circle cx="115.7" cy="361.4" r="0.3" fill="#6a8ae0" opacity="0.5"/>
<circle cx="121.6" cy="357.7" r="0.3" fill="#6a8ae0" opacity="0.5"/>
<circle cx="112.6" cy="363.3" r="0.3" fill="#6a8ae0" opacity="0.5"/>
<circle cx="111.1" cy="360.2" r="0.3" fill="#6a8ae0" opacity="0.5"/>
<circle cx="111.9" cy="358.4" r="0.3" fill="#6a8ae0" opacity="0.5"/>
<circle cx="117.9" cy="359.4" r="0.3" fill="#6a8ae0" opacity="0.5"/>
<circle cx="115.3" cy="356.8" r="0.3" fill="#6a8ae0" opacity="0.5"/>
<circle cx="118.1" cy="357.9" r="0.3" fill="#6a8ae0" opacity="0.5"/>
<circle cx="108.9" cy="355.1" r="0.3" fill="#6a8ae0" opacity="0.5"/>
<circle cx="123.4" cy="359.4" r="0.3" fill="#6a8ae0" opacity="0.5"/>
<circle cx="107.6" cy="357.8" r="0.3" fill="#6a8ae0" opacity="0.5"/>
<circle cx="102.7" cy="360.0" r="0.3" fill="#6a8ae0" opacity="0.5"/>
<circle cx="121.0" cy="362.6" r="0.3" fill="#6a8ae0" opacity="0.5"/>
<circle cx="117.1" cy="359.9" r="0.3" fill="#6a8ae0" opacity="0.5"/>
<circle cx="119.1" cy="360.4" r="0.3" fill="#6a8ae0" opacity="0.5"/>
<circle cx="107.5" cy="353.6" r="0.3" fill="#6a8ae0" opacity="0.5"/>
<circle cx="113.5" cy="359.6" r="0.3" fill="#6a8ae0" opacity="0.5"/>
<circle cx="114.2" cy="352.3" r="0.3" fill="#6a8ae0" opacity="0.5"/>
<circle cx="125.6" cy="355.8" r="0.3" fill="#6a8ae0" opacity="0.5"/>
<circle cx="116.8" cy="354.7" r="0.3" fill="#6a8ae0" opacity="0.5"/>
<circle cx="103.1" cy="359.8" r="0.3" fill="#6a8ae0" opacity="0.5"/>
<circle cx="106.9" cy="358.8" r="0.3" fill="#6a8ae0" opacity="0.5"/>
<circle cx="129.8" cy="355.2" r="0.3" fill="#6a8ae0" opacity="0.5"/>
<circle cx="123.4" cy="357.0" r="0.3" fill="#6a8ae0" opacity="0.5"/>
<circle cx="111.1" cy="359.1" r="0.3" fill="#6a8ae0" opacity="0.5"/>
<circle cx="102.7" cy="355.6" r="0.3" fill="#6a8ae0" opacity="0.5"/>
<circle cx="126.2" cy="360.1" r="0.3" fill="#6a8ae0" opacity="0.5"/>
<circle cx="114.4" cy="355.8" r="0.3" fill="#6a8ae0" opacity="0.5"/>
<circle cx="117.6" cy="358.8" r="0.3" fill="#6a8ae0" opacity="0.5"/>
<circle cx="105.6" cy="356.6" r="0.3" fill="#6a8ae0" opacity="0.5"/>
<circle cx="107.4" cy="358.1" r="0.3" fill="#6a8ae0" opacity="0.5"/>
<circle cx="128.1" cy="357.9" r="0.3" fill="#6a8ae0" opacity="0.5"/>
<circle cx="117.9" cy="358.2" r="0.3" fill="#6a8ae0" opacity="0.5"/>
<circle cx="108.5" cy="358.2" r="0.3" fill="#6a8ae0" opacity="0.5"/>
<circle cx="106.6" cy="357.9" r="0.3" fill="#6a8ae0" opacity="0.5"/>
<circle cx="113.2" cy="360.1" r="0.3" fill="#6a8ae0" opacity="0.5"/>
<circle cx="115.4" cy="358.5" r="0.3" fill="#6a8ae0" opacity="0.5"/>
<circle cx="110.5" cy="360.9" r="0.3" fill="#6a8ae0" opacity="0.5"/>
<circle cx="115.8" cy="358.0" r="0.3" fill="#6a8ae0" opacity="0.5"/>
<circle cx="108.9" cy="362.1" r="0.3" fill="#6a8ae0" opacity="0.5"/>
<circle cx="121.8" cy="358.1" r="0.3" fill="#6a8ae0" opacity="0.5"/>
<circle cx="122.1" cy="359.7" r="0.3" fill="#6a8ae0" opacity="0.5"/>
<circle cx="104.9" cy="356.9" r="0.3" fill="#6a8ae0" opacity="0.5"/>
<circle cx="113.4" cy="359.7" r="0.3" fill="#6a8ae0" opacity="0.5"/>
<circle cx="123.8" cy="355.2" r="0.3" fill="#6a8ae0" opacity="0.5"/>
<circle cx="122.3" cy="356.5" r="0.3" fill="#6a8ae0" opacity="0.5"/>
<circle cx="110.7" cy="356.1" r="0.3" fill="#6a8ae0" opacity="0.5"/>
<circle cx="112.9" cy="355.1" r="0.3" fill="#6a8ae0" opacity="0.5"/>
<circle cx="120.9" cy="358.4" r="0.3" fill="#6a8ae0" opacity="0.5"/>
<circle cx="128.6" cy="356.1" r="0.3" fill="#6a8ae0" opacity="0.5"/>
<circle cx="111.4" cy="359.0" r="0.3" fill="#6a8ae0" opacity="0.5"/>
<circle cx="105.4" cy="358.3" r="0.3" fill="#6a8ae0" opacity="0.5"/>
<circle cx="122.9" cy="358.6" r="0.3" fill="#6a8ae0" opacity="0.5"/>
<circle cx="109.8" cy="358.1" r="0.3" fill="#6a8ae0" opacity="0.5"/>
<circle cx="116.3" cy="356.0" r="0.3" fill="#6a8ae0" opacity="0.5"/>
<circle cx="115.6" cy="359.7" r="0.3" fill="#6a8ae0" opacity="0.5"/>
<circle cx="111.9" cy="361.6" r="0.3" fill="#6a8ae0" opacity="0.5"/>
<circle cx="114.6" cy="357.3" r="0.3" fill="#6a8ae0" opacity="0.5"/>
<circle cx="114.0" cy="357.8" r="0.3" fill="#6a8ae0" opacity="0.5"/>
<circle cx="102.2" cy="359.8" r="0.3" fill="#6a8ae0" opacity="0.5"/>
<circle cx="108.5" cy="360.9" r="0.3" fill="#6a8ae0" opacity="0.5"/>
<circle cx="109.8" cy="360.1" r="0.3" fill="#6a8ae0" opacity="0.5"/>
<circle cx="123.8" cy="356.8" r="0.3" fill="#6a8ae0" opacity="0.5"/>
<ellipse cx="110.00" cy="358.50" rx="9.00" ry="3.00" fill="url(#gF)"/>
<ellipse cx="122.80" cy="357.00" rx="10.50" ry="4.50" fill="url(#gF)" transform="rotate(-8 122.80 357.00)"/>
<ellipse cx="122.80" cy="357.00" rx="8.50" ry="3.10" fill="url(#gC)" transform="rotate(-8 122.80 357.00)"/>
<circle cx="189.9" cy="366.4" r="0.3" fill="#6a8ae0" opacity="0.5"/>
<circle cx="198.7" cy="363.2" r="0.3" fill="#6a8ae0" opacity="0.5"/>
<circle cx="187.6" cy="361.6" r="0.3" fill="#6a8ae0" opacity="0.5"/>
<circle cx="195.6" cy="365.1" r="0.3" fill="#6a8ae0" opacity="0.5"/>
<circle cx="195.8" cy="368.0" r="0.3" fill="#6a8ae0" opacity="0.5"/>
<circle cx="196.4" cy="363.9" r="0.3" fill="#6a8ae0" opacity="0.5"/>
<circle cx="193.2" cy="363.9" r="0.3" fill="#6a8ae0" opacity="0.5"/>
<circle cx="190.3" cy="365.8" r="0.3" fill="#6a8ae0" opacity="0.5"/>
<circle cx="190.5" cy="360.9" r="0.3" fill="#6a8ae0" opacity="0.5"/>
<circle cx="188.2" cy="360.7" r="0.3" fill="#6a8ae0" opacity="0.5"/>
<circle cx="188.4" cy="369.6" r="0.3" fill="#6a8ae0" opacity="0.5"/>
<circle cx="197.4" cy="368.2" r="0.3" fill="#6a8ae0" opacity="0.5"/>
<circle cx="186.8" cy="370.8" r="0.3" fill="#6a8ae0" opacity="0.5"/>
<circle cx="196.6" cy="367.3" r="0.3" fill="#6a8ae0" opacity="0.5"/>
<circle cx="191.9" cy="364.6" r="0.3" fill="#6a8ae0" opacity="0.5"/>
<circle cx="192.7" cy="364.4" r="0.3" fill="#6a8ae0" opacity="0.5"/>
<circle cx="197.8" cy="368.1" r="0.3" fill="#6a8ae0" opacity="0.5"/>
<circle cx="196.1" cy="367.5" r="0.3" fill="#6a8ae0" opacity="0.5"/>
<circle cx="195.7" cy="365.4" r="0.3" fill="#6a8ae0" opacity="0.5"/>
<circle cx="192.1" cy="373.6" r="0.3" fill="#6a8ae0" opacity="0.5"/>
<circle cx="192.4" cy="362.8" r="0.3" fill="#6a8ae0" opacity="0.5"/>
<circle cx="189.5" cy="358.1" r="0.3" fill="#6a8ae0" opacity="0.5"/>
<circle cx="191.5" cy="362.4" r="0.3" fill="#6a8ae0" opacity="0.5"/>
<circle cx="196.9" cy="359.3" r="0.3" fill="#6a8ae0" opacity="0.5"/>
<circle cx="193.4" cy="366.0" r="0.3" fill="#6a8ae0" opacity="0.5"/>
<circle cx="194.5" cy="368.5" r="0.3" fill="#6a8ae0" opacity="0.5"/>
<circle cx="191.1" cy="359.5" r="0.3" fill="#6a8ae0" opacity="0.5"/>
<circle cx="195.3" cy="368.0" r="0.3" fill="#6a8ae0" opacity="0.5"/>
<circle cx="190.5" cy="368.9" r="0.3" fill="#6a8ae0" opacity="0.5"/>
<circle cx="192.2" cy="364.6" r="0.3" fill="#6a8ae0" opacity="0.5"/>
<circle cx="195.6" cy="360.0" r="0.3" fill="#6a8ae0" opacity="0.5"/>
<circle cx="190.3" cy="366.4" r="0.3" fill="#6a8ae0" opacity="0.5"/>
<circle cx="189.6" cy="362.8" r="0.3" fill="#6a8ae0" opacity="0.5"/>
<circle cx="195.0" cy="360.8" r="0.3" fill="#6a8ae0" opacity="0.5"/>
<circle cx="197.0" cy="361.2" r="0.3" fill="#6a8ae0" opacity="0.5"/>
<circle cx="192.9" cy="361.7" r="0.3" fill="#6a8ae0" opacity="0.5"/>
<circle cx="191.7" cy="366.4" r="0.3" fill="#6a8ae0" opacity="0.5"/>
<circle cx="192.8" cy="369.5" r="0.3" fill="#6a8ae0" opacity="0.5"/>
<circle cx="193.3" cy="366.9" r="0.3" fill="#6a8ae0" opacity="0.5"/>
<circle cx="189.6" cy="372.4" r="0.3" fill="#6a8ae0" opacity="0.5"/>
<circle cx="191.7" cy="363.0" r="0.3" fill="#6a8ae0" opacity="0.5"/>
<circle cx="198.1" cy="364.1" r="0.3" fill="#6a8ae0" opacity="0.5"/>
<circle cx="196.2" cy="365.7" r="0.3" fill="#6a8ae0" opacity="0.5"/>
<circle cx="189.8" cy="365.7" r="0.3" fill="#6a8ae0" opacity="0.5"/>
<circle cx="195.3" cy="367.1" r="0.3" fill="#6a8ae0" opacity="0.5"/>
<circle cx="190.8" cy="364.3" r="0.3" fill="#6a8ae0" opacity="0.5"/>
<circle cx="199.9" cy="363.1" r="0.3" fill="#6a8ae0" opacity="0.5"/>
<circle cx="194.8" cy="361.3" r="0.3" fill="#6a8ae0" opacity="0.5"/>
<circle cx="201.5" cy="367.7" r="0.3" fill="#6a8ae0" opacity="0.5"/>
<circle cx="188.3" cy="361.0" r="0.3" fill="#6a8ae0" opacity="0.5"/>
<circle cx="190.6" cy="359.6" r="0.3" fill="#6a8ae0" opacity="0.5"/>
<circle cx="187.4" cy="366.7" r="0.3" fill="#6a8ae0" opacity="0.5"/>
<circle cx="201.0" cy="368.1" r="0.3" fill="#6a8ae0" opacity="0.5"/>
<circle cx="200.4" cy="357.2" r="0.3" fill="#6a8ae0" opacity="0.5"/>
<circle cx="194.6" cy="365.2" r="0.3" fill="#6a8ae0" opacity="0.5"/>
<circle cx="198.3" cy="362.6" r="0.3" fill="#6a8ae0" opacity="0.5"/>
<circle cx="190.8" cy="364.1" r="0.3" fill="#6a8ae0" opacity="0.5"/>
<circle cx="195.0" cy="364.6" r="0.3" fill="#6a8ae0" opacity="0.5"/>
<circle cx="187.7" cy="368.9" r="0.3" fill="#6a8ae0" opacity="0.5"/>
<circle cx="192.0" cy="369.7" r="0.3" fill="#6a8ae0" opacity="0.5"/>
<circle cx="192.2" cy="366.0" r="0.3" fill="#6a8ae0" opacity="0.5"/>
<circle cx="195.0" cy="366.8" r="0.3" fill="#6a8ae0" opacity="0.5"/>
<circle cx="195.0" cy="364.3" r="0.3" fill="#6a8ae0" opacity="0.5"/>
<circle cx="197.6" cy="365.9" r="0.3" fill="#6a8ae0" opacity="0.5"/>
<circle cx="187.8" cy="370.3" r="0.3" fill="#6a8ae0" opacity="0.5"/>
<circle cx="197.7" cy="366.2" r="0.3" fill="#6a8ae0" opacity="0.5"/>
<circle cx="194.7" cy="368.4" r="0.3" fill="#6a8ae0" opacity="0.5"/>
<circle cx="188.8" cy="361.8" r="0.3" fill="#6a8ae0" opacity="0.5"/>
<circle cx="191.8" cy="368.3" r="0.3" fill="#6a8ae0" opacity="0.5"/>
<circle cx="191.0" cy="364.1" r="0.3" fill="#6a8ae0" opacity="0.5"/>
<ellipse cx="194.50" cy="365.00" rx="8.00" ry="6.00" fill="url(#gF)" transform="rotate(-20 194.50 365.00)"/>
<ellipse cx="195.00" cy="364.80" rx="4.70" ry="3.70" fill="url(#gC)" transform="rotate(-20 195.00 364.80)"/>
<circle cx="264.0" cy="367.6" r="0.3" fill="#6a8ae0" opacity="0.5"/>
<circle cx="267.2" cy="362.5" r="0.3" fill="#6a8ae0" opacity="0.5"/>
<circle cx="261.3" cy="372.1" r="0.3" fill="#6a8ae0" opacity="0.5"/>
<circle cx="260.4" cy="367.4" r="0.3" fill="#6a8ae0" opacity="0.5"/>
<circle cx="263.8" cy="362.4" r="0.3" fill="#6a8ae0" opacity="0.5"/>
<circle cx="267.3" cy="366.4" r="0.3" fill="#6a8ae0" opacity="0.5"/>
<circle cx="258.6" cy="363.8" r="0.3" fill="#6a8ae0" opacity="0.5"/>
<circle cx="260.7" cy="370.9" r="0.3" fill="#6a8ae0" opacity="0.5"/>
<circle cx="263.9" cy="369.7" r="0.3" fill="#6a8ae0" opacity="0.5"/>
<circle cx="270.0" cy="368.1" r="0.3" fill="#6a8ae0" opacity="0.5"/>
<circle cx="257.4" cy="370.7" r="0.3" fill="#6a8ae0" opacity="0.5"/>
<circle cx="259.6" cy="368.2" r="0.3" fill="#6a8ae0" opacity="0.5"/>
<circle cx="262.4" cy="366.7" r="0.3" fill="#6a8ae0" opacity="0.5"/>
<circle cx="265.8" cy="365.6" r="0.3" fill="#6a8ae0" opacity="0.5"/>
<circle cx="257.5" cy="365.3" r="0.3" fill="#6a8ae0" opacity="0.5"/>
<circle cx="266.8" cy="366.9" r="0.3" fill="#6a8ae0" opacity="0.5"/>
<circle cx="265.5" cy="365.4" r="0.3" fill="#6a8ae0" opacity="0.5"/>
<circle cx="264.9" cy="365.6" r="0.3" fill="#6a8ae0" opacity="0.5"/>
<circle cx="262.2" cy="361.2" r="0.3" fill="#6a8ae0" opacity="0.5"/>
<circle cx="258.9" cy="367.7" r="0.3" fill="#6a8ae0" opacity="0.5"/>
<circle cx="259.5" cy="363.3" r="0.3" fill="#6a8ae0" opacity="0.5"/>
<circle cx="265.0" cy="369.4" r="0.3" fill="#6a8ae0" opacity="0.5"/>
<circle cx="262.4" cy="369.4" r="0.3" fill="#6a8ae0" opacity="0.5"/>
<circle cx="261.6" cy="364.9" r="0.3" fill="#6a8ae0" opacity="0.5"/>
<circle cx="263.0" cy="368.2" r="0.3" fill="#6a8ae0" opacity="0.5"/>
<circle cx="262.6" cy="371.7" r="0.3" fill="#6a8ae0" opacity="0.5"/>
<circle cx="264.7" cy="367.1" r="0.3" fill="#6a8ae0" opacity="0.5"/>
<circle cx="266.6" cy="363.8" r="0.3" fill="#6a8ae0" opacity="0.5"/>
<circle cx="260.8" cy="367.9" r="0.3" fill="#6a8ae0" opacity="0.5"/>
<circle cx="263.1" cy="363.4" r="0.3" fill="#6a8ae0" opacity="0.5"/>
<circle cx="264.9" cy="366.5" r="0.3" fill="#6a8ae0" opacity="0.5"/>
<circle cx="253.8" cy="367.7" r="0.3" fill="#6a8ae0" opacity="0.5"/>
<circle cx="261.2" cy="367.1" r="0.3" fill="#6a8ae0" opacity="0.5"/>
<circle cx="268.4" cy="365.5" r="0.3" fill="#6a8ae0" opacity="0.5"/>
<circle cx="264.7" cy="364.8" r="0.3" fill="#6a8ae0" opacity="0.5"/>
<circle cx="267.9" cy="360.8" r="0.3" fill="#6a8ae0" opacity="0.5"/>
<circle cx="259.9" cy="363.7" r="0.3" fill="#6a8ae0" opacity="0.5"/>
<circle cx="267.6" cy="365.9" r="0.3" fill="#6a8ae0" opacity="0.5"/>
<circle cx="267.3" cy="366.9" r="0.3" fill="#6a8ae0" opacity="0.5"/>
<circle cx="266.3" cy="366.1" r="0.3" fill="#6a8ae0" opacity="0.5"/>
<circle cx="255.2" cy="371.4" r="0.3" fill="#6a8ae0" opacity="0.5"/>
<circle cx="260.0" cy="365.5" r="0.3" fill="#6a8ae0" opacity="0.5"/>
<circle cx="268.7" cy="363.6" r="0.3" fill="#6a8ae0" opacity="0.5"/>
<circle cx="265.6" cy="366.2" r="0.3" fill="#6a8ae0" opacity="0.5"/>
<circle cx="262.4" cy="368.9" r="0.3" fill="#6a8ae0" opacity="0.5"/>
<circle cx="258.9" cy="369.5" r="0.3" fill="#6a8ae0" opacity="0.5"/>
<circle cx="267.4" cy="370.4" r="0.3" fill="#6a8ae0" opacity="0.5"/>
<circle cx="266.5" cy="368.6" r="0.3" fill="#6a8ae0" opacity="0.5"/>
<circle cx="266.5" cy="367.8" r="0.3" fill="#6a8ae0" opacity="0.5"/>
<circle cx="273.2" cy="365.4" r="0.3" fill="#6a8ae0" opacity="0.5"/>
<circle cx="267.9" cy="365.8" r="0.3" fill="#6a8ae0" opacity="0.5"/>
<circle cx="260.3" cy="375.3" r="0.3" fill="#6a8ae0" opacity="0.5"/>
<circle cx="260.9" cy="369.6" r="0.3" fill="#6a8ae0" opacity="0.5"/>
<circle cx="270.3" cy="365.2" r="0.3" fill="#6a8ae0" opacity="0.5"/>
<circle cx="262.2" cy="370.0" r="0.3" fill="#6a8ae0" opacity="0.5"/>
<circle cx="261.4" cy="365.8" r="0.3" fill="#6a8ae0" opacity="0.5"/>
<circle cx="264.3" cy="364.2" r="0.3" fill="#6a8ae0" opacity="0.5"/>
<circle cx="266.1" cy="368.2" r="0.3" fill="#6a8ae0" opacity="0.5"/>
<circle cx="266.8" cy="366.6" r="0.3" fill="#6a8ae0" opacity="0.5"/>
<circle cx="265.2" cy="369.9" r="0.3" fill="#6a8ae0" opacity="0.5"/>
<ellipse cx="263.70" cy="366.00" rx="7.50" ry="6.50" fill="url(#gF)"/>
<ellipse cx="263.70" cy="366.00" rx="4.20" ry="3.80" fill="url(#gC)"/>
<line x1="53.50" y1="344.70" x2="53.50" y2="388.50" stroke="#8e949e" stroke-width="0.5"/>
<line x1="31.30" y1="361.60" x2="75.40" y2="361.60" stroke="#8e949e" stroke-width="0.5"/>
<rect x="31.3" y="344.7" width="44.10" height="43.80" fill="none" stroke="#c4c4c4" stroke-width="0.5"/>
<line x1="30.10" y1="384.43" x2="31.30" y2="384.43" stroke="#999" stroke-width="0.35"/>
<text x="29.80" y="385.97" font-size="3.3" text-anchor="end" fill="#5a5a5a">10<tspan font-size="70%" baseline-shift="super">0</tspan></text>
<line x1="30.10" y1="377.30" x2="31.30" y2="377.30" stroke="#999" stroke-width="0.35"/>
<text x="29.80" y="378.84" font-size="3.3" text-anchor="end" fill="#5a5a5a">10<tspan font-size="70%" baseline-shift="super">1</tspan></text>
<line x1="30.10" y1="370.17" x2="31.30" y2="370.17" stroke="#999" stroke-width="0.35"/>
<text x="29.80" y="371.70" font-size="3.3" text-anchor="end" fill="#5a5a5a">10<tspan font-size="70%" baseline-shift="super">2</tspan></text>
<line x1="30.10" y1="363.03" x2="31.30" y2="363.03" stroke="#999" stroke-width="0.35"/>
<text x="29.80" y="364.57" font-size="3.3" text-anchor="end" fill="#5a5a5a">10<tspan font-size="70%" baseline-shift="super">3</tspan></text>
<line x1="30.10" y1="355.90" x2="31.30" y2="355.90" stroke="#999" stroke-width="0.35"/>
<text x="29.80" y="357.44" font-size="3.3" text-anchor="end" fill="#5a5a5a">10<tspan font-size="70%" baseline-shift="super">4</tspan></text>
<line x1="30.10" y1="348.77" x2="31.30" y2="348.77" stroke="#999" stroke-width="0.35"/>
<text x="29.80" y="350.30" font-size="3.3" text-anchor="end" fill="#5a5a5a">10<tspan font-size="70%" baseline-shift="super">5</tspan></text>
<line x1="35.39" y1="388.50" x2="35.39" y2="389.70" stroke="#999" stroke-width="0.35"/>
<text x="35.39" y="393.94" font-size="3.3" text-anchor="middle" fill="#5a5a5a">10<tspan font-size="70%" baseline-shift="super">0</tspan></text>
<line x1="42.58" y1="388.50" x2="42.58" y2="389.70" stroke="#999" stroke-width="0.35"/>
<text x="42.58" y="393.94" font-size="3.3" text-anchor="middle" fill="#5a5a5a">10<tspan font-size="70%" baseline-shift="super">1</tspan></text>
<line x1="49.76" y1="388.50" x2="49.76" y2="389.70" stroke="#999" stroke-width="0.35"/>
<text x="49.76" y="393.94" font-size="3.3" text-anchor="middle" fill="#5a5a5a">10<tspan font-size="70%" baseline-shift="super">2</tspan></text>
<line x1="56.94" y1="388.50" x2="56.94" y2="389.70" stroke="#999" stroke-width="0.35"/>
<text x="56.94" y="393.94" font-size="3.3" text-anchor="middle" fill="#5a5a5a">10<tspan font-size="70%" baseline-shift="super">3</tspan></text>
<line x1="64.13" y1="388.50" x2="64.13" y2="389.70" stroke="#999" stroke-width="0.35"/>
<text x="64.13" y="393.94" font-size="3.3" text-anchor="middle" fill="#5a5a5a">10<tspan font-size="70%" baseline-shift="super">4</tspan></text>
<line x1="71.31" y1="388.50" x2="71.31" y2="389.70" stroke="#999" stroke-width="0.35"/>
<text x="71.31" y="393.94" font-size="3.3" text-anchor="middle" fill="#5a5a5a">10<tspan font-size="70%" baseline-shift="super">5</tspan></text>
<text x="32.80" y="347.90" font-size="2.9" fill="#6a6a6a">Q1</text>
<text x="32.80" y="350.90" font-size="2.9" fill="#6a6a6a">0.71</text>
<text x="73.90" y="347.90" font-size="2.9" text-anchor="end" fill="#6a6a6a">Q2</text>
<text x="73.90" y="350.90" font-size="2.9" text-anchor="end" fill="#6a6a6a">55.9</text>
<text x="32.80" y="384.00" font-size="2.9" fill="#6a6a6a">Q4</text>
<text x="32.80" y="387.00" font-size="2.9" fill="#6a6a6a">25.5</text>
<text x="73.90" y="384.00" font-size="2.9" text-anchor="end" fill="#6a6a6a">Q3</text>
<text x="73.90" y="387.00" font-size="2.9" text-anchor="end" fill="#6a6a6a">0.35</text>
<line x1="116.40" y1="344.90" x2="116.40" y2="389.00" stroke="#8e949e" stroke-width="0.5"/>
<line x1="100.30" y1="365.70" x2="144.40" y2="365.70" stroke="#8e949e" stroke-width="0.5"/>
<rect x="100.3" y="344.9" width="44.10" height="44.10" fill="none" stroke="#c4c4c4" stroke-width="0.5"/>
<line x1="99.10" y1="384.91" x2="100.30" y2="384.91" stroke="#999" stroke-width="0.35"/>
<text x="98.80" y="386.44" font-size="3.3" text-anchor="end" fill="#5a5a5a">10<tspan font-size="70%" baseline-shift="super">0</tspan></text>
<line x1="99.10" y1="377.73" x2="100.30" y2="377.73" stroke="#999" stroke-width="0.35"/>
<text x="98.80" y="379.26" font-size="3.3" text-anchor="end" fill="#5a5a5a">10<tspan font-size="70%" baseline-shift="super">1</tspan></text>
<line x1="99.10" y1="370.54" x2="100.30" y2="370.54" stroke="#999" stroke-width="0.35"/>
<text x="98.80" y="372.08" font-size="3.3" text-anchor="end" fill="#5a5a5a">10<tspan font-size="70%" baseline-shift="super">2</tspan></text>
<line x1="99.10" y1="363.36" x2="100.30" y2="363.36" stroke="#999" stroke-width="0.35"/>
<text x="98.80" y="364.89" font-size="3.3" text-anchor="end" fill="#5a5a5a">10<tspan font-size="70%" baseline-shift="super">3</tspan></text>
<line x1="99.10" y1="356.17" x2="100.30" y2="356.17" stroke="#999" stroke-width="0.35"/>
<text x="98.80" y="357.71" font-size="3.3" text-anchor="end" fill="#5a5a5a">10<tspan font-size="70%" baseline-shift="super">4</tspan></text>
<line x1="99.10" y1="348.99" x2="100.30" y2="348.99" stroke="#999" stroke-width="0.35"/>
<text x="98.80" y="350.53" font-size="3.3" text-anchor="end" fill="#5a5a5a">10<tspan font-size="70%" baseline-shift="super">5</tspan></text>
<line x1="104.39" y1="389.00" x2="104.39" y2="390.20" stroke="#999" stroke-width="0.35"/>
<text x="104.39" y="394.44" font-size="3.3" text-anchor="middle" fill="#5a5a5a">10<tspan font-size="70%" baseline-shift="super">0</tspan></text>
<line x1="111.58" y1="389.00" x2="111.58" y2="390.20" stroke="#999" stroke-width="0.35"/>
<text x="111.58" y="394.44" font-size="3.3" text-anchor="middle" fill="#5a5a5a">10<tspan font-size="70%" baseline-shift="super">1</tspan></text>
<line x1="118.76" y1="389.00" x2="118.76" y2="390.20" stroke="#999" stroke-width="0.35"/>
<text x="118.76" y="394.44" font-size="3.3" text-anchor="middle" fill="#5a5a5a">10<tspan font-size="70%" baseline-shift="super">2</tspan></text>
<line x1="125.94" y1="389.00" x2="125.94" y2="390.20" stroke="#999" stroke-width="0.35"/>
<text x="125.94" y="394.44" font-size="3.3" text-anchor="middle" fill="#5a5a5a">10<tspan font-size="70%" baseline-shift="super">3</tspan></text>
<line x1="133.12" y1="389.00" x2="133.12" y2="390.20" stroke="#999" stroke-width="0.35"/>
<text x="133.12" y="394.44" font-size="3.3" text-anchor="middle" fill="#5a5a5a">10<tspan font-size="70%" baseline-shift="super">4</tspan></text>
<line x1="140.31" y1="389.00" x2="140.31" y2="390.20" stroke="#999" stroke-width="0.35"/>
<text x="140.31" y="394.44" font-size="3.3" text-anchor="middle" fill="#5a5a5a">10<tspan font-size="70%" baseline-shift="super">5</tspan></text>
<text x="101.80" y="348.10" font-size="2.9" fill="#6a6a6a">Q1</text>
<text x="101.80" y="351.10" font-size="2.9" fill="#6a6a6a">21.3</text>
<text x="142.90" y="348.10" font-size="2.9" text-anchor="end" fill="#6a6a6a">Q2</text>
<text x="142.90" y="351.10" font-size="2.9" text-anchor="end" fill="#6a6a6a">74.7</text>
<text x="101.80" y="384.50" font-size="2.9" fill="#6a6a6a">Q4</text>
<text x="101.80" y="387.50" font-size="2.9" fill="#6a6a6a">3</text>
<text x="142.90" y="384.50" font-size="2.9" text-anchor="end" fill="#6a6a6a">Q3</text>
<text x="142.90" y="387.50" font-size="2.9" text-anchor="end" fill="#6a6a6a">1.1</text>
<line x1="191.60" y1="345.40" x2="191.60" y2="389.40" stroke="#8e949e" stroke-width="0.5"/>
<line x1="171.20" y1="369.70" x2="216.20" y2="369.70" stroke="#8e949e" stroke-width="0.5"/>
<rect x="171.2" y="345.4" width="45.00" height="44.00" fill="none" stroke="#c4c4c4" stroke-width="0.5"/>
<line x1="170.00" y1="385.32" x2="171.20" y2="385.32" stroke="#999" stroke-width="0.35"/>
<text x="169.70" y="386.85" font-size="3.3" text-anchor="end" fill="#5a5a5a">10<tspan font-size="70%" baseline-shift="super">0</tspan></text>
<line x1="170.00" y1="378.15" x2="171.20" y2="378.15" stroke="#999" stroke-width="0.35"/>
<text x="169.70" y="379.69" font-size="3.3" text-anchor="end" fill="#5a5a5a">10<tspan font-size="70%" baseline-shift="super">1</tspan></text>
<line x1="170.00" y1="370.98" x2="171.20" y2="370.98" stroke="#999" stroke-width="0.35"/>
<text x="169.70" y="372.52" font-size="3.3" text-anchor="end" fill="#5a5a5a">10<tspan font-size="70%" baseline-shift="super">2</tspan></text>
<line x1="170.00" y1="363.82" x2="171.20" y2="363.82" stroke="#999" stroke-width="0.35"/>
<text x="169.70" y="365.35" font-size="3.3" text-anchor="end" fill="#5a5a5a">10<tspan font-size="70%" baseline-shift="super">3</tspan></text>
<line x1="170.00" y1="356.65" x2="171.20" y2="356.65" stroke="#999" stroke-width="0.35"/>
<text x="169.70" y="358.19" font-size="3.3" text-anchor="end" fill="#5a5a5a">10<tspan font-size="70%" baseline-shift="super">4</tspan></text>
<line x1="170.00" y1="349.48" x2="171.20" y2="349.48" stroke="#999" stroke-width="0.35"/>
<text x="169.70" y="351.02" font-size="3.3" text-anchor="end" fill="#5a5a5a">10<tspan font-size="70%" baseline-shift="super">5</tspan></text>
<line x1="175.37" y1="389.40" x2="175.37" y2="390.60" stroke="#999" stroke-width="0.35"/>
<text x="175.37" y="394.84" font-size="3.3" text-anchor="middle" fill="#5a5a5a">10<tspan font-size="70%" baseline-shift="super">0</tspan></text>
<line x1="182.70" y1="389.40" x2="182.70" y2="390.60" stroke="#999" stroke-width="0.35"/>
<text x="182.70" y="394.84" font-size="3.3" text-anchor="middle" fill="#5a5a5a">10<tspan font-size="70%" baseline-shift="super">1</tspan></text>
<line x1="190.03" y1="389.40" x2="190.03" y2="390.60" stroke="#999" stroke-width="0.35"/>
<text x="190.03" y="394.84" font-size="3.3" text-anchor="middle" fill="#5a5a5a">10<tspan font-size="70%" baseline-shift="super">2</tspan></text>
<line x1="197.37" y1="389.40" x2="197.37" y2="390.60" stroke="#999" stroke-width="0.35"/>
<text x="197.37" y="394.84" font-size="3.3" text-anchor="middle" fill="#5a5a5a">10<tspan font-size="70%" baseline-shift="super">3</tspan></text>
<line x1="204.70" y1="389.40" x2="204.70" y2="390.60" stroke="#999" stroke-width="0.35"/>
<text x="204.70" y="394.84" font-size="3.3" text-anchor="middle" fill="#5a5a5a">10<tspan font-size="70%" baseline-shift="super">4</tspan></text>
<line x1="212.03" y1="389.40" x2="212.03" y2="390.60" stroke="#999" stroke-width="0.35"/>
<text x="212.03" y="394.84" font-size="3.3" text-anchor="middle" fill="#5a5a5a">10<tspan font-size="70%" baseline-shift="super">5</tspan></text>
<text x="172.70" y="348.60" font-size="2.9" fill="#6a6a6a">Q1</text>
<text x="172.70" y="351.60" font-size="2.9" fill="#6a6a6a">12.0</text>
<text x="214.70" y="348.60" font-size="2.9" text-anchor="end" fill="#6a6a6a">Q2</text>
<text x="214.70" y="351.60" font-size="2.9" text-anchor="end" fill="#6a6a6a">83.5</text>
<text x="172.70" y="384.90" font-size="2.9" fill="#6a6a6a">Q4</text>
<text x="172.70" y="387.90" font-size="2.9" fill="#6a6a6a">1.41</text>
<text x="214.70" y="384.90" font-size="2.9" text-anchor="end" fill="#6a6a6a">Q3</text>
<text x="214.70" y="387.90" font-size="2.9" text-anchor="end" fill="#6a6a6a">2.11</text>
<line x1="266.20" y1="346.10" x2="266.20" y2="389.40" stroke="#8e949e" stroke-width="0.5"/>
<line x1="244.60" y1="370.30" x2="287.90" y2="370.30" stroke="#8e949e" stroke-width="0.5"/>
<rect x="244.6" y="346.1" width="43.30" height="43.30" fill="none" stroke="#c4c4c4" stroke-width="0.5"/>
<line x1="243.40" y1="385.38" x2="244.60" y2="385.38" stroke="#999" stroke-width="0.35"/>
<text x="243.10" y="386.91" font-size="3.3" text-anchor="end" fill="#5a5a5a">10<tspan font-size="70%" baseline-shift="super">0</tspan></text>
<line x1="243.40" y1="378.32" x2="244.60" y2="378.32" stroke="#999" stroke-width="0.35"/>
<text x="243.10" y="379.86" font-size="3.3" text-anchor="end" fill="#5a5a5a">10<tspan font-size="70%" baseline-shift="super">1</tspan></text>
<line x1="243.40" y1="371.27" x2="244.60" y2="371.27" stroke="#999" stroke-width="0.35"/>
<text x="243.10" y="372.81" font-size="3.3" text-anchor="end" fill="#5a5a5a">10<tspan font-size="70%" baseline-shift="super">2</tspan></text>
<line x1="243.40" y1="364.23" x2="244.60" y2="364.23" stroke="#999" stroke-width="0.35"/>
<text x="243.10" y="365.76" font-size="3.3" text-anchor="end" fill="#5a5a5a">10<tspan font-size="70%" baseline-shift="super">3</tspan></text>
<line x1="243.40" y1="357.18" x2="244.60" y2="357.18" stroke="#999" stroke-width="0.35"/>
<text x="243.10" y="358.71" font-size="3.3" text-anchor="end" fill="#5a5a5a">10<tspan font-size="70%" baseline-shift="super">4</tspan></text>
<line x1="243.40" y1="350.12" x2="244.60" y2="350.12" stroke="#999" stroke-width="0.35"/>
<text x="243.10" y="351.66" font-size="3.3" text-anchor="end" fill="#5a5a5a">10<tspan font-size="70%" baseline-shift="super">5</tspan></text>
<line x1="248.62" y1="389.40" x2="248.62" y2="390.60" stroke="#999" stroke-width="0.35"/>
<text x="248.62" y="394.84" font-size="3.3" text-anchor="middle" fill="#5a5a5a">10<tspan font-size="70%" baseline-shift="super">0</tspan></text>
<line x1="255.67" y1="389.40" x2="255.67" y2="390.60" stroke="#999" stroke-width="0.35"/>
<text x="255.67" y="394.84" font-size="3.3" text-anchor="middle" fill="#5a5a5a">10<tspan font-size="70%" baseline-shift="super">1</tspan></text>
<line x1="262.72" y1="389.40" x2="262.72" y2="390.60" stroke="#999" stroke-width="0.35"/>
<text x="262.72" y="394.84" font-size="3.3" text-anchor="middle" fill="#5a5a5a">10<tspan font-size="70%" baseline-shift="super">2</tspan></text>
<line x1="269.77" y1="389.40" x2="269.77" y2="390.60" stroke="#999" stroke-width="0.35"/>
<text x="269.77" y="394.84" font-size="3.3" text-anchor="middle" fill="#5a5a5a">10<tspan font-size="70%" baseline-shift="super">3</tspan></text>
<line x1="276.82" y1="389.40" x2="276.82" y2="390.60" stroke="#999" stroke-width="0.35"/>
<text x="276.82" y="394.84" font-size="3.3" text-anchor="middle" fill="#5a5a5a">10<tspan font-size="70%" baseline-shift="super">4</tspan></text>
<line x1="283.88" y1="389.40" x2="283.88" y2="390.60" stroke="#999" stroke-width="0.35"/>
<text x="283.88" y="394.84" font-size="3.3" text-anchor="middle" fill="#5a5a5a">10<tspan font-size="70%" baseline-shift="super">5</tspan></text>
<text x="246.10" y="349.30" font-size="2.9" fill="#6a6a6a">Q1</text>
<text x="246.10" y="352.30" font-size="2.9" fill="#6a6a6a">87.4</text>
<text x="286.40" y="349.30" font-size="2.9" text-anchor="end" fill="#6a6a6a">Q2</text>
<text x="286.40" y="352.30" font-size="2.9" text-anchor="end" fill="#6a6a6a">4.59</text>
<text x="246.10" y="384.90" font-size="2.9" fill="#6a6a6a">Q4</text>
<text x="246.10" y="387.90" font-size="2.9" fill="#6a6a6a">7.74</text>
<text x="286.40" y="384.90" font-size="2.9" text-anchor="end" fill="#6a6a6a">Q3</text>
<text x="286.40" y="387.90" font-size="2.9" text-anchor="end" fill="#6a6a6a">0.17</text>
<rect x="53.5" y="345.0" width="21.6" height="17.2" fill="none" stroke="#222" stroke-width="1.1"/>
<rect x="116.4" y="344.9" width="27.7" height="20.8" fill="none" stroke="#222" stroke-width="1.1"/>
<line x1="75.10" y1="352.20" x2="95.50" y2="352.20" stroke="#333" stroke-width="0.75"/>
<path d="M94.80,351.10 L97.00,352.20 L94.80,353.30Z" fill="#333"/>
<line x1="144.10" y1="352.30" x2="162.90" y2="352.30" stroke="#333" stroke-width="0.75"/>
<path d="M162.20,351.20 L164.40,352.30 L162.20,353.40Z" fill="#333"/>
<line x1="19.40" y1="397.60" x2="19.40" y2="366.30" stroke="#222" stroke-width="0.75"/>
<line x1="19.40" y1="397.60" x2="61.80" y2="397.60" stroke="#222" stroke-width="0.75"/>
<path d="M18.30,366.80 L19.40,364.80 L20.50,366.80Z" fill="#222"/>
<path d="M61.30,396.50 L63.30,397.60 L61.30,398.70Z" fill="#222"/>
<line x1="88.80" y1="397.60" x2="88.80" y2="366.30" stroke="#222" stroke-width="0.75"/>
<line x1="88.80" y1="397.60" x2="133.10" y2="397.60" stroke="#222" stroke-width="0.75"/>
<path d="M87.70,366.80 L88.80,364.80 L89.90,366.80Z" fill="#222"/>
<path d="M132.60,396.50 L134.60,397.60 L132.60,398.70Z" fill="#222"/>
<line x1="161.60" y1="397.70" x2="161.60" y2="366.30" stroke="#222" stroke-width="0.75"/>
<line x1="161.60" y1="397.70" x2="206.50" y2="397.70" stroke="#222" stroke-width="0.75"/>
<path d="M160.50,366.80 L161.60,364.80 L162.70,366.80Z" fill="#222"/>
<path d="M206.00,396.60 L208.00,397.70 L206.00,398.80Z" fill="#222"/>
<line x1="233.40" y1="397.70" x2="233.40" y2="366.30" stroke="#222" stroke-width="0.75"/>
<line x1="233.40" y1="397.70" x2="277.90" y2="397.70" stroke="#222" stroke-width="0.75"/>
<path d="M232.30,366.80 L233.40,364.80 L234.50,366.80Z" fill="#222"/>
<path d="M277.40,396.60 L279.40,397.70 L277.40,398.80Z" fill="#222"/>
<text x="14.80" y="384.15" font-size="6.0" text-anchor="middle" fill="#333" stroke="#333" stroke-width="0.22" textLength="27.10" lengthAdjust="spacingAndGlyphs" transform="rotate(-90 14.80 384.15)">CD45.2-APC</text>
<text x="84.00" y="381.45" font-size="6.0" text-anchor="middle" fill="#333" stroke="#333" stroke-width="0.22" textLength="32.50" lengthAdjust="spacingAndGlyphs" transform="rotate(-90 84.00 381.45)">CD19-APC-Cy7</text>
<text x="155.70" y="381.15" font-size="6.0" text-anchor="middle" fill="#333" stroke="#333" stroke-width="0.22" textLength="33.50" lengthAdjust="spacingAndGlyphs" transform="rotate(-90 155.70 381.15)">IgM-PerCP-Cy5</text>
<text x="228.20" y="381.10" font-size="6.0" text-anchor="middle" fill="#333" stroke="#333" stroke-width="0.22" textLength="33.20" lengthAdjust="spacingAndGlyphs" transform="rotate(-90 228.20 381.10)">IgM-PerCP-Cy5</text>
<text x="20.00" y="408.16" font-size="6.0" fill="#333" stroke="#333" stroke-width="0.22" textLength="32.30" lengthAdjust="spacingAndGlyphs">CD19-APC-Cy7</text>
<text x="89.40" y="408.16" font-size="6.0" fill="#333" stroke="#333" stroke-width="0.22" textLength="31.80" lengthAdjust="spacingAndGlyphs">CD5-Alexa700</text>
<text x="162.50" y="408.16" font-size="6.0" fill="#333" stroke="#333" stroke-width="0.22" textLength="22.80" lengthAdjust="spacingAndGlyphs">CD43-FITC</text>
<text x="234.20" y="408.16" font-size="6.0" fill="#333" stroke="#333" stroke-width="0.22" textLength="38.50" lengthAdjust="spacingAndGlyphs">B220-Pacific Blue</text>
<text x="9.20" y="428.80" font-size="11.0" fill="#111" stroke="#111" stroke-width="0.28" font-weight="bold">G</text>
<line x1="52.00" y1="437.80" x2="52.00" y2="509.90" stroke="#141414" stroke-width="0.9"/>
<line x1="51.60" y1="509.50" x2="97.50" y2="509.50" stroke="#141414" stroke-width="0.9"/>
<line x1="49.00" y1="509.50" x2="52.00" y2="509.50" stroke="#141414" stroke-width="0.8"/>
<text x="44.80" y="512.07" font-size="6.3" text-anchor="end" fill="#2e2e2e" stroke="#2e2e2e" stroke-width="0.22" textLength="3.15" lengthAdjust="spacingAndGlyphs">0</text>
<line x1="49.00" y1="497.90" x2="52.00" y2="497.90" stroke="#141414" stroke-width="0.8"/>
<text x="44.80" y="500.47" font-size="6.3" text-anchor="end" fill="#2e2e2e" stroke="#2e2e2e" stroke-width="0.22" textLength="6.30" lengthAdjust="spacingAndGlyphs">20</text>
<line x1="49.00" y1="486.30" x2="52.00" y2="486.30" stroke="#141414" stroke-width="0.8"/>
<text x="44.80" y="488.87" font-size="6.3" text-anchor="end" fill="#2e2e2e" stroke="#2e2e2e" stroke-width="0.22" textLength="6.30" lengthAdjust="spacingAndGlyphs">40</text>
<line x1="49.00" y1="474.70" x2="52.00" y2="474.70" stroke="#141414" stroke-width="0.8"/>
<text x="44.80" y="477.27" font-size="6.3" text-anchor="end" fill="#2e2e2e" stroke="#2e2e2e" stroke-width="0.22" textLength="6.30" lengthAdjust="spacingAndGlyphs">60</text>
<line x1="49.00" y1="463.10" x2="52.00" y2="463.10" stroke="#141414" stroke-width="0.8"/>
<text x="44.80" y="465.67" font-size="6.3" text-anchor="end" fill="#2e2e2e" stroke="#2e2e2e" stroke-width="0.22" textLength="6.30" lengthAdjust="spacingAndGlyphs">80</text>
<line x1="49.00" y1="451.50" x2="52.00" y2="451.50" stroke="#141414" stroke-width="0.8"/>
<text x="44.80" y="454.07" font-size="6.3" text-anchor="end" fill="#2e2e2e" stroke="#2e2e2e" stroke-width="0.22" textLength="9.45" lengthAdjust="spacingAndGlyphs">100</text>
<line x1="49.00" y1="439.90" x2="52.00" y2="439.90" stroke="#141414" stroke-width="0.8"/>
<text x="44.80" y="442.47" font-size="6.3" text-anchor="end" fill="#2e2e2e" stroke="#2e2e2e" stroke-width="0.22" textLength="9.45" lengthAdjust="spacingAndGlyphs">120</text>
<line x1="60.60" y1="509.50" x2="60.60" y2="511.70" stroke="#141414" stroke-width="0.7"/>
<line x1="74.60" y1="509.50" x2="74.60" y2="511.70" stroke="#141414" stroke-width="0.7"/>
<line x1="88.80" y1="509.50" x2="88.80" y2="511.70" stroke="#141414" stroke-width="0.7"/>
<text x="19.20" y="473.55" font-size="6.8" text-anchor="middle" fill="#2e2e2e" stroke="#2e2e2e" stroke-width="0.22" textLength="65.90" lengthAdjust="spacingAndGlyphs" transform="rotate(-90 19.20 473.55)">% CD19<tspan font-size="62%" baseline-shift="super">+</tspan> CD5<tspan font-size="62%" baseline-shift="super">+</tspan>cells in</text>
<text x="28.80" y="473.55" font-size="6.8" text-anchor="middle" fill="#2e2e2e" stroke="#2e2e2e" stroke-width="0.22" textLength="51.50" lengthAdjust="spacingAndGlyphs" transform="rotate(-90 28.80 473.55)">donor population</text>
<circle cx="59.6" cy="508.9" r="1.0" fill="#1d5a86"/>
<circle cx="60.3" cy="508.3" r="1.0" fill="#1d5a86"/>
<circle cx="61.0" cy="508.6" r="1.0" fill="#1d5a86"/>
<circle cx="61.7" cy="508.1" r="1.0" fill="#1d5a86"/>
<line x1="57.30" y1="508.63" x2="63.80" y2="508.63" stroke="#222" stroke-width="0.8"/>
<path d="M74.60,455.01 L75.63,456.90 L73.56,456.90Z" fill="#c8102e"/>
<path d="M74.60,466.03 L75.63,467.92 L73.56,467.92Z" fill="#c8102e"/>
<path d="M74.60,489.24 L75.63,491.12 L73.56,491.12Z" fill="#c8102e"/>
<line x1="69.60" y1="471.22" x2="79.60" y2="471.22" stroke="#222" stroke-width="0.8"/>
<line x1="74.60" y1="481.08" x2="74.60" y2="460.78" stroke="#222" stroke-width="0.8"/>
<line x1="72.40" y1="481.08" x2="76.80" y2="481.08" stroke="#222" stroke-width="0.8"/>
<line x1="72.40" y1="460.78" x2="76.80" y2="460.78" stroke="#222" stroke-width="0.8"/>
<path d="M88.80,455.52 L89.83,453.63 L87.77,453.63Z" fill="#f0a030"/>
<path d="M88.80,483.37 L89.83,481.48 L87.77,481.48Z" fill="#f0a030"/>
<line x1="83.80" y1="468.32" x2="93.80" y2="468.32" stroke="#222" stroke-width="0.8"/>
<line x1="88.80" y1="482.24" x2="88.80" y2="454.40" stroke="#222" stroke-width="0.8"/>
<line x1="86.60" y1="482.24" x2="91.00" y2="482.24" stroke="#222" stroke-width="0.8"/>
<line x1="86.60" y1="454.40" x2="91.00" y2="454.40" stroke="#222" stroke-width="0.8"/>
<path d="M62.50,451.20 L62.50,448.70 L74.00,448.70 L74.00,451.20" stroke="#555" stroke-width="0.6" fill="none"/>
<path d="M68.25,444.55L68.25,446.65M67.34,445.07L69.16,446.12M67.34,446.12L69.16,445.07" stroke="#3a3a3a" stroke-width="0.65" fill="none"/>
<path d="M62.50,442.10 L62.50,439.60 L88.00,439.60 L88.00,442.10" stroke="#555" stroke-width="0.6" fill="none"/>
<path d="M75.25,435.45L75.25,437.55M74.34,435.98L76.16,437.02M74.34,437.02L76.16,435.98" stroke="#3a3a3a" stroke-width="0.65" fill="none"/>
<circle cx="107.3" cy="461.2" r="1.4" fill="#1d5a86"/>
<text x="111.90" y="463.94" font-size="6.8" fill="#333" stroke="#333" stroke-width="0.22" textLength="20.80" lengthAdjust="spacingAndGlyphs">WT BM</text>
<path d="M107.30,471.68 L108.80,474.41 L105.80,474.41Z" fill="#c8102e"/>
<text x="111.90" y="476.04" font-size="6.8" fill="#333" stroke="#333" stroke-width="0.22" textLength="49.30" lengthAdjust="spacingAndGlyphs">Asxl1<tspan font-size="62%" baseline-shift="super">−/−</tspan>Ezh2<tspan font-size="62%" baseline-shift="super">−/−</tspan>BM</text>
<path d="M107.30,486.93 L108.80,484.19 L105.80,484.19Z" fill="#f0a030"/>
<text x="111.90" y="488.04" font-size="6.8" fill="#333" stroke="#333" stroke-width="0.22" textLength="47.60" lengthAdjust="spacingAndGlyphs">Asxl1<tspan font-size="62%" baseline-shift="super">−/−</tspan>Ezh2<tspan font-size="62%" baseline-shift="super">−/−</tspan>SP</text>
<text x="245.80" y="428.50" font-size="11.0" fill="#111" stroke="#111" stroke-width="0.28" font-weight="bold">H</text>
<text x="255.00" y="469.35" font-size="9.2" text-anchor="middle" fill="#222" stroke="#222" stroke-width="0.18" font-style="italic" textLength="69.30" lengthAdjust="spacingAndGlyphs" transform="rotate(-90 255.00 469.35)">Asxl1<tspan font-size="62%" baseline-shift="super">−/−</tspan>Ezh2<tspan font-size="62%" baseline-shift="super">−/−</tspan><tspan font-style="normal"> CLL</tspan></text>
<text x="255.60" y="552.20" font-size="9.2" text-anchor="middle" fill="#222" stroke="#222" stroke-width="0.18" font-style="italic" textLength="11.20" lengthAdjust="spacingAndGlyphs" transform="rotate(-90 255.60 552.20)">Wt</text>
<rect x="284.60" y="441.90" width="53.40" height="53.90" fill="#ffffff"/>
<rect x="377.70" y="444.60" width="51.90" height="50.40" fill="#ffffff"/>
<rect x="458.50" y="444.00" width="55.30" height="54.80" fill="#ffffff"/>
<rect x="282.70" y="525.80" width="51.90" height="52.50" fill="#ffffff"/>
<rect x="375.20" y="527.30" width="52.80" height="52.90" fill="#ffffff"/>
<rect x="462.70" y="526.90" width="51.10" height="51.40" fill="#ffffff"/>
<defs><clipPath id="hc0"><rect x="284.6" y="441.9" width="53.40" height="53.90"/></clipPath></defs><g clip-path="url(#hc0)">
<circle cx="306.3" cy="460.3" r="0.3" fill="#7a88d8" opacity="0.5"/>
<circle cx="304.6" cy="465.7" r="0.3" fill="#7a88d8" opacity="0.5"/>
<circle cx="301.5" cy="467.5" r="0.3" fill="#7a88d8" opacity="0.5"/>
<circle cx="299.8" cy="469.3" r="0.3" fill="#7a88d8" opacity="0.5"/>
<circle cx="296.8" cy="466.9" r="0.3" fill="#7a88d8" opacity="0.5"/>
<circle cx="303.4" cy="459.5" r="0.3" fill="#7a88d8" opacity="0.5"/>
<circle cx="305.8" cy="478.3" r="0.3" fill="#7a88d8" opacity="0.5"/>
<circle cx="300.1" cy="471.7" r="0.3" fill="#7a88d8" opacity="0.5"/>
<circle cx="294.6" cy="480.3" r="0.3" fill="#7a88d8" opacity="0.5"/>
<circle cx="300.5" cy="465.3" r="0.3" fill="#7a88d8" opacity="0.5"/>
<circle cx="296.4" cy="465.2" r="0.3" fill="#7a88d8" opacity="0.5"/>
<circle cx="287.6" cy="465.8" r="0.3" fill="#7a88d8" opacity="0.5"/>
<circle cx="301.0" cy="468.3" r="0.3" fill="#7a88d8" opacity="0.5"/>
<circle cx="296.2" cy="465.3" r="0.3" fill="#7a88d8" opacity="0.5"/>
<circle cx="298.8" cy="467.3" r="0.3" fill="#7a88d8" opacity="0.5"/>
<circle cx="288.6" cy="471.9" r="0.3" fill="#7a88d8" opacity="0.5"/>
<circle cx="310.4" cy="464.1" r="0.3" fill="#7a88d8" opacity="0.5"/>
<circle cx="288.8" cy="468.3" r="0.3" fill="#7a88d8" opacity="0.5"/>
<circle cx="295.9" cy="462.9" r="0.3" fill="#7a88d8" opacity="0.5"/>
<circle cx="306.9" cy="477.1" r="0.3" fill="#7a88d8" opacity="0.5"/>
<circle cx="303.0" cy="476.0" r="0.3" fill="#7a88d8" opacity="0.5"/>
<circle cx="298.4" cy="472.1" r="0.3" fill="#7a88d8" opacity="0.5"/>
<circle cx="287.0" cy="474.9" r="0.3" fill="#7a88d8" opacity="0.5"/>
<circle cx="301.1" cy="466.9" r="0.3" fill="#7a88d8" opacity="0.5"/>
<circle cx="295.0" cy="470.9" r="0.3" fill="#7a88d8" opacity="0.5"/>
<circle cx="292.4" cy="468.9" r="0.3" fill="#7a88d8" opacity="0.5"/>
<circle cx="299.1" cy="465.0" r="0.3" fill="#7a88d8" opacity="0.5"/>
<circle cx="288.2" cy="467.4" r="0.3" fill="#7a88d8" opacity="0.5"/>
<circle cx="300.0" cy="476.2" r="0.3" fill="#7a88d8" opacity="0.5"/>
<circle cx="300.6" cy="464.7" r="0.3" fill="#7a88d8" opacity="0.5"/>
<circle cx="292.0" cy="471.7" r="0.3" fill="#7a88d8" opacity="0.5"/>
<circle cx="306.4" cy="473.9" r="0.3" fill="#7a88d8" opacity="0.5"/>
<circle cx="300.9" cy="467.9" r="0.3" fill="#7a88d8" opacity="0.5"/>
<circle cx="296.1" cy="472.3" r="0.3" fill="#7a88d8" opacity="0.5"/>
<circle cx="302.9" cy="468.6" r="0.3" fill="#7a88d8" opacity="0.5"/>
<circle cx="294.5" cy="468.4" r="0.3" fill="#7a88d8" opacity="0.5"/>
<circle cx="309.5" cy="472.3" r="0.3" fill="#7a88d8" opacity="0.5"/>
<circle cx="302.1" cy="464.1" r="0.3" fill="#7a88d8" opacity="0.5"/>
<circle cx="301.5" cy="479.4" r="0.3" fill="#7a88d8" opacity="0.5"/>
<circle cx="305.6" cy="468.1" r="0.3" fill="#7a88d8" opacity="0.5"/>
<circle cx="299.6" cy="468.9" r="0.3" fill="#7a88d8" opacity="0.5"/>
<circle cx="286.2" cy="476.3" r="0.3" fill="#7a88d8" opacity="0.5"/>
<circle cx="301.8" cy="465.9" r="0.3" fill="#7a88d8" opacity="0.5"/>
<circle cx="297.6" cy="475.5" r="0.3" fill="#7a88d8" opacity="0.5"/>
<circle cx="291.2" cy="475.6" r="0.3" fill="#7a88d8" opacity="0.5"/>
<circle cx="296.2" cy="468.0" r="0.3" fill="#7a88d8" opacity="0.5"/>
<circle cx="304.6" cy="464.0" r="0.3" fill="#7a88d8" opacity="0.5"/>
<circle cx="286.6" cy="467.8" r="0.3" fill="#7a88d8" opacity="0.5"/>
<circle cx="299.3" cy="469.7" r="0.3" fill="#7a88d8" opacity="0.5"/>
<circle cx="296.6" cy="476.9" r="0.3" fill="#7a88d8" opacity="0.5"/>
<circle cx="285.6" cy="468.3" r="0.3" fill="#7a88d8" opacity="0.5"/>
<circle cx="296.6" cy="469.3" r="0.3" fill="#7a88d8" opacity="0.5"/>
<circle cx="299.0" cy="468.3" r="0.3" fill="#7a88d8" opacity="0.5"/>
<circle cx="296.7" cy="466.6" r="0.3" fill="#7a88d8" opacity="0.5"/>
<circle cx="302.1" cy="468.8" r="0.3" fill="#7a88d8" opacity="0.5"/>
<circle cx="300.3" cy="469.8" r="0.3" fill="#7a88d8" opacity="0.5"/>
<circle cx="305.2" cy="471.9" r="0.3" fill="#7a88d8" opacity="0.5"/>
<circle cx="289.2" cy="475.2" r="0.3" fill="#7a88d8" opacity="0.5"/>
<circle cx="298.1" cy="462.4" r="0.3" fill="#7a88d8" opacity="0.5"/>
<circle cx="288.2" cy="471.6" r="0.3" fill="#7a88d8" opacity="0.5"/>
<circle cx="297.1" cy="470.3" r="0.3" fill="#7a88d8" opacity="0.5"/>
<circle cx="291.6" cy="473.8" r="0.3" fill="#7a88d8" opacity="0.5"/>
<circle cx="294.6" cy="474.1" r="0.3" fill="#7a88d8" opacity="0.5"/>
<circle cx="299.6" cy="471.2" r="0.3" fill="#7a88d8" opacity="0.5"/>
<circle cx="306.1" cy="476.9" r="0.3" fill="#7a88d8" opacity="0.5"/>
<circle cx="290.1" cy="478.3" r="0.3" fill="#7a88d8" opacity="0.5"/>
<circle cx="294.6" cy="468.1" r="0.3" fill="#7a88d8" opacity="0.5"/>
<circle cx="290.9" cy="475.0" r="0.3" fill="#7a88d8" opacity="0.5"/>
<circle cx="296.3" cy="476.2" r="0.3" fill="#7a88d8" opacity="0.5"/>
<circle cx="303.4" cy="472.4" r="0.3" fill="#7a88d8" opacity="0.5"/>
<circle cx="286.8" cy="465.4" r="0.3" fill="#7a88d8" opacity="0.5"/>
<circle cx="300.2" cy="468.2" r="0.3" fill="#7a88d8" opacity="0.5"/>
<circle cx="293.2" cy="463.6" r="0.3" fill="#7a88d8" opacity="0.5"/>
<circle cx="303.3" cy="471.8" r="0.3" fill="#7a88d8" opacity="0.5"/>
<circle cx="305.1" cy="481.8" r="0.3" fill="#7a88d8" opacity="0.5"/>
<circle cx="297.2" cy="470.4" r="0.3" fill="#7a88d8" opacity="0.5"/>
<circle cx="305.3" cy="467.3" r="0.3" fill="#7a88d8" opacity="0.5"/>
<circle cx="287.2" cy="473.0" r="0.3" fill="#7a88d8" opacity="0.5"/>
<circle cx="289.6" cy="471.8" r="0.3" fill="#7a88d8" opacity="0.5"/>
<circle cx="291.5" cy="461.2" r="0.3" fill="#7a88d8" opacity="0.5"/>
<circle cx="296.0" cy="473.1" r="0.3" fill="#7a88d8" opacity="0.5"/>
<circle cx="302.3" cy="463.4" r="0.3" fill="#7a88d8" opacity="0.5"/>
<circle cx="309.4" cy="476.5" r="0.3" fill="#7a88d8" opacity="0.5"/>
<circle cx="305.0" cy="469.8" r="0.3" fill="#7a88d8" opacity="0.5"/>
<circle cx="299.3" cy="474.0" r="0.3" fill="#7a88d8" opacity="0.5"/>
<circle cx="300.4" cy="462.7" r="0.3" fill="#7a88d8" opacity="0.5"/>
<circle cx="304.7" cy="472.4" r="0.3" fill="#7a88d8" opacity="0.5"/>
<circle cx="308.7" cy="465.8" r="0.3" fill="#7a88d8" opacity="0.5"/>
<circle cx="300.5" cy="472.1" r="0.3" fill="#7a88d8" opacity="0.5"/>
<circle cx="302.8" cy="471.7" r="0.3" fill="#7a88d8" opacity="0.5"/>
<circle cx="295.2" cy="473.0" r="0.3" fill="#7a88d8" opacity="0.5"/>
<circle cx="304.7" cy="466.1" r="0.3" fill="#7a88d8" opacity="0.5"/>
<circle cx="294.6" cy="464.6" r="0.3" fill="#7a88d8" opacity="0.5"/>
<circle cx="291.2" cy="473.4" r="0.3" fill="#7a88d8" opacity="0.5"/>
<circle cx="295.3" cy="464.0" r="0.3" fill="#7a88d8" opacity="0.5"/>
<circle cx="295.8" cy="466.9" r="0.3" fill="#7a88d8" opacity="0.5"/>
<circle cx="306.3" cy="469.7" r="0.3" fill="#7a88d8" opacity="0.5"/>
<circle cx="291.0" cy="475.1" r="0.3" fill="#7a88d8" opacity="0.5"/>
<circle cx="299.3" cy="472.8" r="0.3" fill="#7a88d8" opacity="0.5"/>
<circle cx="293.6" cy="477.2" r="0.3" fill="#7a88d8" opacity="0.5"/>
<circle cx="302.4" cy="470.2" r="0.3" fill="#7a88d8" opacity="0.5"/>
<circle cx="297.9" cy="468.3" r="0.3" fill="#7a88d8" opacity="0.5"/>
<circle cx="302.8" cy="469.9" r="0.3" fill="#7a88d8" opacity="0.5"/>
<circle cx="298.0" cy="465.8" r="0.3" fill="#7a88d8" opacity="0.5"/>
<circle cx="301.0" cy="470.0" r="0.3" fill="#7a88d8" opacity="0.5"/>
<circle cx="290.6" cy="454.1" r="0.3" fill="#7a88d8" opacity="0.5"/>
<circle cx="290.8" cy="466.1" r="0.3" fill="#7a88d8" opacity="0.5"/>
<circle cx="302.3" cy="476.8" r="0.3" fill="#7a88d8" opacity="0.5"/>
<circle cx="310.7" cy="470.9" r="0.3" fill="#7a88d8" opacity="0.5"/>
<ellipse cx="299.00" cy="470.00" rx="9.00" ry="6.00" fill="url(#gF)"/>
<ellipse cx="317.60" cy="467.80" rx="6.40" ry="5.00" fill="url(#gC)" transform="rotate(-20 317.60 467.80)"/>
</g>
<defs><clipPath id="hc1"><rect x="377.7" y="444.6" width="51.90" height="50.40"/></clipPath></defs><g clip-path="url(#hc1)">
<circle cx="395.8" cy="460.3" r="0.3" fill="#6a8ae0" opacity="0.5"/>
<circle cx="401.9" cy="462.1" r="0.3" fill="#6a8ae0" opacity="0.5"/>
<circle cx="389.9" cy="462.8" r="0.3" fill="#6a8ae0" opacity="0.5"/>
<circle cx="402.7" cy="462.5" r="0.3" fill="#6a8ae0" opacity="0.5"/>
<circle cx="391.1" cy="461.9" r="0.3" fill="#6a8ae0" opacity="0.5"/>
<circle cx="395.7" cy="462.9" r="0.3" fill="#6a8ae0" opacity="0.5"/>
<circle cx="387.3" cy="463.8" r="0.3" fill="#6a8ae0" opacity="0.5"/>
<circle cx="400.8" cy="462.7" r="0.3" fill="#6a8ae0" opacity="0.5"/>
<circle cx="378.5" cy="463.9" r="0.3" fill="#6a8ae0" opacity="0.5"/>
<circle cx="392.3" cy="465.3" r="0.3" fill="#6a8ae0" opacity="0.5"/>
<circle cx="394.6" cy="466.5" r="0.3" fill="#6a8ae0" opacity="0.5"/>
<circle cx="383.9" cy="463.8" r="0.3" fill="#6a8ae0" opacity="0.5"/>
<circle cx="410.0" cy="460.3" r="0.3" fill="#6a8ae0" opacity="0.5"/>
<circle cx="386.1" cy="460.0" r="0.3" fill="#6a8ae0" opacity="0.5"/>
<circle cx="400.8" cy="464.8" r="0.3" fill="#6a8ae0" opacity="0.5"/>
<circle cx="395.7" cy="461.7" r="0.3" fill="#6a8ae0" opacity="0.5"/>
<circle cx="402.0" cy="464.8" r="0.3" fill="#6a8ae0" opacity="0.5"/>
<circle cx="388.8" cy="464.1" r="0.3" fill="#6a8ae0" opacity="0.5"/>
<circle cx="382.1" cy="463.3" r="0.3" fill="#6a8ae0" opacity="0.5"/>
<circle cx="394.5" cy="461.8" r="0.3" fill="#6a8ae0" opacity="0.5"/>
<circle cx="393.6" cy="465.5" r="0.3" fill="#6a8ae0" opacity="0.5"/>
<circle cx="390.9" cy="460.8" r="0.3" fill="#6a8ae0" opacity="0.5"/>
<circle cx="390.3" cy="463.6" r="0.3" fill="#6a8ae0" opacity="0.5"/>
<circle cx="399.0" cy="463.3" r="0.3" fill="#6a8ae0" opacity="0.5"/>
<circle cx="392.9" cy="460.1" r="0.3" fill="#6a8ae0" opacity="0.5"/>
<circle cx="398.2" cy="463.7" r="0.3" fill="#6a8ae0" opacity="0.5"/>
<circle cx="404.4" cy="461.9" r="0.3" fill="#6a8ae0" opacity="0.5"/>
<circle cx="388.0" cy="466.2" r="0.3" fill="#6a8ae0" opacity="0.5"/>
<circle cx="378.2" cy="463.4" r="0.3" fill="#6a8ae0" opacity="0.5"/>
<circle cx="390.4" cy="460.9" r="0.3" fill="#6a8ae0" opacity="0.5"/>
<circle cx="381.8" cy="464.7" r="0.3" fill="#6a8ae0" opacity="0.5"/>
<circle cx="388.6" cy="461.8" r="0.3" fill="#6a8ae0" opacity="0.5"/>
<circle cx="401.1" cy="464.9" r="0.3" fill="#6a8ae0" opacity="0.5"/>
<circle cx="382.5" cy="462.1" r="0.3" fill="#6a8ae0" opacity="0.5"/>
<circle cx="396.2" cy="463.9" r="0.3" fill="#6a8ae0" opacity="0.5"/>
<circle cx="396.8" cy="462.5" r="0.3" fill="#6a8ae0" opacity="0.5"/>
<circle cx="382.6" cy="458.6" r="0.3" fill="#6a8ae0" opacity="0.5"/>
<circle cx="396.1" cy="463.0" r="0.3" fill="#6a8ae0" opacity="0.5"/>
<circle cx="383.5" cy="461.4" r="0.3" fill="#6a8ae0" opacity="0.5"/>
<circle cx="387.6" cy="461.4" r="0.3" fill="#6a8ae0" opacity="0.5"/>
<circle cx="401.2" cy="466.3" r="0.3" fill="#6a8ae0" opacity="0.5"/>
<circle cx="390.1" cy="459.1" r="0.3" fill="#6a8ae0" opacity="0.5"/>
<circle cx="395.7" cy="461.4" r="0.3" fill="#6a8ae0" opacity="0.5"/>
<circle cx="398.3" cy="461.3" r="0.3" fill="#6a8ae0" opacity="0.5"/>
<circle cx="383.9" cy="465.4" r="0.3" fill="#6a8ae0" opacity="0.5"/>
<circle cx="392.0" cy="464.2" r="0.3" fill="#6a8ae0" opacity="0.5"/>
<circle cx="397.9" cy="461.6" r="0.3" fill="#6a8ae0" opacity="0.5"/>
<circle cx="398.6" cy="464.5" r="0.3" fill="#6a8ae0" opacity="0.5"/>
<circle cx="396.2" cy="461.7" r="0.3" fill="#6a8ae0" opacity="0.5"/>
<circle cx="389.1" cy="464.4" r="0.3" fill="#6a8ae0" opacity="0.5"/>
<circle cx="398.4" cy="463.2" r="0.3" fill="#6a8ae0" opacity="0.5"/>
<circle cx="390.5" cy="465.8" r="0.3" fill="#6a8ae0" opacity="0.5"/>
<circle cx="388.7" cy="467.1" r="0.3" fill="#6a8ae0" opacity="0.5"/>
<circle cx="391.6" cy="467.6" r="0.3" fill="#6a8ae0" opacity="0.5"/>
<circle cx="385.6" cy="464.8" r="0.3" fill="#6a8ae0" opacity="0.5"/>
<circle cx="385.1" cy="468.4" r="0.3" fill="#6a8ae0" opacity="0.5"/>
<circle cx="394.0" cy="467.6" r="0.3" fill="#6a8ae0" opacity="0.5"/>
<circle cx="411.3" cy="460.4" r="0.3" fill="#6a8ae0" opacity="0.5"/>
<ellipse cx="388.00" cy="464.00" rx="10.00" ry="3.00" fill="url(#gF)"/>
<ellipse cx="400.60" cy="462.30" rx="7.60" ry="5.40" fill="url(#gC)" transform="rotate(-20 400.60 462.30)"/>
</g>
<defs><clipPath id="hc2"><rect x="458.5" y="444.0" width="55.30" height="54.80"/></clipPath></defs><g clip-path="url(#hc2)">
<circle cx="495.2" cy="477.7" r="0.5" fill="#7a8ad8" opacity="0.6"/>
<circle cx="493.1" cy="476.7" r="0.5" fill="#7a8ad8" opacity="0.6"/>
<circle cx="492.5" cy="480.0" r="0.5" fill="#7a8ad8" opacity="0.6"/>
<circle cx="488.3" cy="474.2" r="0.5" fill="#7a8ad8" opacity="0.6"/>
<circle cx="493.4" cy="480.6" r="0.5" fill="#7a8ad8" opacity="0.6"/>
<circle cx="492.3" cy="474.1" r="0.5" fill="#7a8ad8" opacity="0.6"/>
<circle cx="492.2" cy="473.5" r="0.5" fill="#7a8ad8" opacity="0.6"/>
<circle cx="491.7" cy="476.5" r="0.5" fill="#7a8ad8" opacity="0.6"/>
<circle cx="492.7" cy="476.0" r="0.5" fill="#7a8ad8" opacity="0.6"/>
<circle cx="493.9" cy="467.7" r="0.5" fill="#7a8ad8" opacity="0.6"/>
<circle cx="492.7" cy="476.1" r="0.5" fill="#7a8ad8" opacity="0.6"/>
<circle cx="492.4" cy="472.7" r="0.5" fill="#7a8ad8" opacity="0.6"/>
<circle cx="489.2" cy="475.0" r="0.5" fill="#7a8ad8" opacity="0.6"/>
<circle cx="491.6" cy="476.9" r="0.5" fill="#7a8ad8" opacity="0.6"/>
<circle cx="490.1" cy="476.1" r="0.5" fill="#7a8ad8" opacity="0.6"/>
<circle cx="496.0" cy="472.0" r="0.5" fill="#7a8ad8" opacity="0.6"/>
<circle cx="488.6" cy="466.7" r="0.5" fill="#7a8ad8" opacity="0.6"/>
<circle cx="490.5" cy="480.1" r="0.5" fill="#7a8ad8" opacity="0.6"/>
<circle cx="492.0" cy="469.3" r="0.5" fill="#7a8ad8" opacity="0.6"/>
<circle cx="491.5" cy="471.7" r="0.5" fill="#7a8ad8" opacity="0.6"/>
<circle cx="492.1" cy="467.6" r="0.5" fill="#7a8ad8" opacity="0.6"/>
<circle cx="491.6" cy="469.7" r="0.5" fill="#7a8ad8" opacity="0.6"/>
<circle cx="491.9" cy="470.3" r="0.5" fill="#7a8ad8" opacity="0.6"/>
<circle cx="492.8" cy="472.4" r="0.5" fill="#7a8ad8" opacity="0.6"/>
<circle cx="495.5" cy="477.9" r="0.5" fill="#7a8ad8" opacity="0.6"/>
<circle cx="492.3" cy="474.3" r="0.5" fill="#7a8ad8" opacity="0.6"/>
<circle cx="492.9" cy="485.9" r="0.5" fill="#7a8ad8" opacity="0.6"/>
<circle cx="492.6" cy="485.1" r="0.5" fill="#7a8ad8" opacity="0.6"/>
<circle cx="491.3" cy="473.1" r="0.5" fill="#7a8ad8" opacity="0.6"/>
<circle cx="491.4" cy="477.3" r="0.5" fill="#7a8ad8" opacity="0.6"/>
<circle cx="490.6" cy="481.5" r="0.5" fill="#7a8ad8" opacity="0.6"/>
<circle cx="493.9" cy="468.5" r="0.5" fill="#7a8ad8" opacity="0.6"/>
<circle cx="492.7" cy="477.8" r="0.5" fill="#7a8ad8" opacity="0.6"/>
<circle cx="491.8" cy="477.1" r="0.5" fill="#7a8ad8" opacity="0.6"/>
<circle cx="491.8" cy="471.1" r="0.5" fill="#7a8ad8" opacity="0.6"/>
<circle cx="493.1" cy="474.5" r="0.5" fill="#7a8ad8" opacity="0.6"/>
<circle cx="488.5" cy="472.5" r="0.5" fill="#7a8ad8" opacity="0.6"/>
<circle cx="495.8" cy="469.4" r="0.5" fill="#7a8ad8" opacity="0.6"/>
<circle cx="492.6" cy="472.9" r="0.5" fill="#7a8ad8" opacity="0.6"/>
<circle cx="492.7" cy="470.2" r="0.5" fill="#7a8ad8" opacity="0.6"/>
<circle cx="491.9" cy="473.6" r="0.5" fill="#7a8ad8" opacity="0.6"/>
<circle cx="492.5" cy="476.2" r="0.5" fill="#7a8ad8" opacity="0.6"/>
<circle cx="492.7" cy="464.6" r="0.5" fill="#7a8ad8" opacity="0.6"/>
<circle cx="492.4" cy="479.3" r="0.5" fill="#7a8ad8" opacity="0.6"/>
<circle cx="493.2" cy="470.6" r="0.5" fill="#7a8ad8" opacity="0.6"/>
<circle cx="491.1" cy="475.7" r="0.5" fill="#7a8ad8" opacity="0.6"/>
<circle cx="492.1" cy="477.6" r="0.5" fill="#7a8ad8" opacity="0.6"/>
<circle cx="492.9" cy="472.2" r="0.5" fill="#7a8ad8" opacity="0.6"/>
<circle cx="491.0" cy="469.5" r="0.5" fill="#7a8ad8" opacity="0.6"/>
<circle cx="492.9" cy="466.7" r="0.5" fill="#7a8ad8" opacity="0.6"/>
<circle cx="491.7" cy="488.0" r="0.3" fill="#6a8ae0" opacity="0.5"/>
<circle cx="487.4" cy="485.5" r="0.3" fill="#6a8ae0" opacity="0.5"/>
<circle cx="486.1" cy="491.5" r="0.3" fill="#6a8ae0" opacity="0.5"/>
<circle cx="487.8" cy="483.6" r="0.3" fill="#6a8ae0" opacity="0.5"/>
<circle cx="495.0" cy="479.3" r="0.3" fill="#6a8ae0" opacity="0.5"/>
<circle cx="490.3" cy="477.5" r="0.3" fill="#6a8ae0" opacity="0.5"/>
<circle cx="489.7" cy="485.4" r="0.3" fill="#6a8ae0" opacity="0.5"/>
<circle cx="489.6" cy="477.3" r="0.3" fill="#6a8ae0" opacity="0.5"/>
<circle cx="491.1" cy="487.0" r="0.3" fill="#6a8ae0" opacity="0.5"/>
<circle cx="488.8" cy="496.7" r="0.3" fill="#6a8ae0" opacity="0.5"/>
<circle cx="486.8" cy="493.4" r="0.3" fill="#6a8ae0" opacity="0.5"/>
<circle cx="489.5" cy="494.1" r="0.3" fill="#6a8ae0" opacity="0.5"/>
<circle cx="488.7" cy="490.0" r="0.3" fill="#6a8ae0" opacity="0.5"/>
<circle cx="491.2" cy="481.7" r="0.3" fill="#6a8ae0" opacity="0.5"/>
<circle cx="486.8" cy="489.6" r="0.3" fill="#6a8ae0" opacity="0.5"/>
<circle cx="497.2" cy="478.3" r="0.3" fill="#6a8ae0" opacity="0.5"/>
<circle cx="493.8" cy="492.9" r="0.3" fill="#6a8ae0" opacity="0.5"/>
<circle cx="492.6" cy="492.5" r="0.3" fill="#6a8ae0" opacity="0.5"/>
<circle cx="486.9" cy="492.0" r="0.3" fill="#6a8ae0" opacity="0.5"/>
<circle cx="482.3" cy="495.9" r="0.3" fill="#6a8ae0" opacity="0.5"/>
<circle cx="489.8" cy="487.9" r="0.3" fill="#6a8ae0" opacity="0.5"/>
<circle cx="486.1" cy="483.0" r="0.3" fill="#6a8ae0" opacity="0.5"/>
<circle cx="497.5" cy="489.4" r="0.3" fill="#6a8ae0" opacity="0.5"/>
<circle cx="492.2" cy="482.0" r="0.3" fill="#6a8ae0" opacity="0.5"/>
<circle cx="490.4" cy="476.2" r="0.3" fill="#6a8ae0" opacity="0.5"/>
<circle cx="487.2" cy="482.2" r="0.3" fill="#6a8ae0" opacity="0.5"/>
<circle cx="498.1" cy="479.0" r="0.3" fill="#6a8ae0" opacity="0.5"/>
<circle cx="494.1" cy="489.6" r="0.3" fill="#6a8ae0" opacity="0.5"/>
<circle cx="493.6" cy="493.3" r="0.3" fill="#6a8ae0" opacity="0.5"/>
<circle cx="490.5" cy="486.6" r="0.3" fill="#6a8ae0" opacity="0.5"/>
<circle cx="492.7" cy="488.6" r="0.3" fill="#6a8ae0" opacity="0.5"/>
<circle cx="491.6" cy="480.7" r="0.3" fill="#6a8ae0" opacity="0.5"/>
<circle cx="483.0" cy="488.7" r="0.3" fill="#6a8ae0" opacity="0.5"/>
<circle cx="485.9" cy="490.9" r="0.3" fill="#6a8ae0" opacity="0.5"/>
<circle cx="488.1" cy="494.8" r="0.3" fill="#6a8ae0" opacity="0.5"/>
<circle cx="498.9" cy="491.4" r="0.3" fill="#6a8ae0" opacity="0.5"/>
<circle cx="493.8" cy="471.9" r="0.3" fill="#6a8ae0" opacity="0.5"/>
<circle cx="487.6" cy="481.5" r="0.3" fill="#6a8ae0" opacity="0.5"/>
<circle cx="487.0" cy="490.2" r="0.3" fill="#6a8ae0" opacity="0.5"/>
<circle cx="483.0" cy="485.9" r="0.3" fill="#6a8ae0" opacity="0.5"/>
<circle cx="489.9" cy="486.9" r="0.3" fill="#6a8ae0" opacity="0.5"/>
<circle cx="482.0" cy="487.2" r="0.3" fill="#6a8ae0" opacity="0.5"/>
<circle cx="493.2" cy="493.6" r="0.3" fill="#6a8ae0" opacity="0.5"/>
<circle cx="486.4" cy="485.3" r="0.3" fill="#6a8ae0" opacity="0.5"/>
<circle cx="492.8" cy="496.1" r="0.3" fill="#6a8ae0" opacity="0.5"/>
<circle cx="488.5" cy="482.9" r="0.3" fill="#6a8ae0" opacity="0.5"/>
<circle cx="487.9" cy="489.6" r="0.3" fill="#6a8ae0" opacity="0.5"/>
<circle cx="494.6" cy="485.7" r="0.3" fill="#6a8ae0" opacity="0.5"/>
<circle cx="494.0" cy="492.1" r="0.3" fill="#6a8ae0" opacity="0.5"/>
<circle cx="488.2" cy="479.8" r="0.3" fill="#6a8ae0" opacity="0.5"/>
<circle cx="491.5" cy="484.9" r="0.3" fill="#6a8ae0" opacity="0.5"/>
<circle cx="494.0" cy="492.6" r="0.3" fill="#6a8ae0" opacity="0.5"/>
<circle cx="484.0" cy="485.0" r="0.3" fill="#6a8ae0" opacity="0.5"/>
<circle cx="492.2" cy="475.5" r="0.3" fill="#6a8ae0" opacity="0.5"/>
<circle cx="497.7" cy="489.6" r="0.3" fill="#6a8ae0" opacity="0.5"/>
<circle cx="493.4" cy="482.5" r="0.3" fill="#6a8ae0" opacity="0.5"/>
<circle cx="486.8" cy="488.9" r="0.3" fill="#6a8ae0" opacity="0.5"/>
<circle cx="487.4" cy="494.8" r="0.3" fill="#6a8ae0" opacity="0.5"/>
<path d="M486.8,499 L487.2,484 C487.6,479.5 489.5,477.2 491.9,477.2 C494.3,477.2 496.2,479.5 496.6,484 L497.0,499 Z" fill="url(#gH3)"/>
<ellipse cx="492.30" cy="496.50" rx="2.80" ry="8.00" fill="url(#gG)"/>
</g>
<defs><clipPath id="hc3"><rect x="282.7" y="525.8" width="51.90" height="52.50"/></clipPath></defs><g clip-path="url(#hc3)">
<circle cx="288.3" cy="549.2" r="0.3" fill="#6a8ae0" opacity="0.45"/>
<circle cx="286.6" cy="547.3" r="0.3" fill="#6a8ae0" opacity="0.45"/>
<circle cx="304.5" cy="562.1" r="0.3" fill="#6a8ae0" opacity="0.45"/>
<circle cx="299.8" cy="549.4" r="0.3" fill="#6a8ae0" opacity="0.45"/>
<circle cx="303.3" cy="566.3" r="0.3" fill="#6a8ae0" opacity="0.45"/>
<circle cx="312.2" cy="554.9" r="0.3" fill="#6a8ae0" opacity="0.45"/>
<circle cx="286.7" cy="560.7" r="0.3" fill="#6a8ae0" opacity="0.45"/>
<circle cx="305.0" cy="555.7" r="0.3" fill="#6a8ae0" opacity="0.45"/>
<circle cx="297.6" cy="561.4" r="0.3" fill="#6a8ae0" opacity="0.45"/>
<circle cx="293.6" cy="547.5" r="0.3" fill="#6a8ae0" opacity="0.45"/>
<circle cx="297.5" cy="555.1" r="0.3" fill="#6a8ae0" opacity="0.45"/>
<circle cx="304.7" cy="558.1" r="0.3" fill="#6a8ae0" opacity="0.45"/>
<circle cx="299.1" cy="567.5" r="0.3" fill="#6a8ae0" opacity="0.45"/>
<circle cx="300.8" cy="558.7" r="0.3" fill="#6a8ae0" opacity="0.45"/>
<circle cx="297.4" cy="554.8" r="0.3" fill="#6a8ae0" opacity="0.45"/>
<circle cx="293.9" cy="553.4" r="0.3" fill="#6a8ae0" opacity="0.45"/>
<circle cx="299.1" cy="560.0" r="0.3" fill="#6a8ae0" opacity="0.45"/>
<circle cx="301.8" cy="563.3" r="0.3" fill="#6a8ae0" opacity="0.45"/>
<circle cx="289.7" cy="556.6" r="0.3" fill="#6a8ae0" opacity="0.45"/>
<circle cx="307.9" cy="552.3" r="0.3" fill="#6a8ae0" opacity="0.45"/>
<circle cx="305.7" cy="568.9" r="0.3" fill="#6a8ae0" opacity="0.45"/>
<circle cx="297.2" cy="549.7" r="0.3" fill="#6a8ae0" opacity="0.45"/>
<circle cx="299.3" cy="545.4" r="0.3" fill="#6a8ae0" opacity="0.45"/>
<circle cx="289.7" cy="560.9" r="0.3" fill="#6a8ae0" opacity="0.45"/>
<circle cx="310.9" cy="552.4" r="0.3" fill="#6a8ae0" opacity="0.45"/>
<circle cx="284.4" cy="535.8" r="0.3" fill="#6a8ae0" opacity="0.45"/>
<circle cx="310.7" cy="545.6" r="0.3" fill="#6a8ae0" opacity="0.45"/>
<circle cx="297.4" cy="550.6" r="0.3" fill="#6a8ae0" opacity="0.45"/>
<circle cx="296.8" cy="555.7" r="0.3" fill="#6a8ae0" opacity="0.45"/>
<circle cx="300.5" cy="557.8" r="0.3" fill="#6a8ae0" opacity="0.45"/>
<circle cx="297.5" cy="556.1" r="0.3" fill="#6a8ae0" opacity="0.45"/>
<circle cx="295.3" cy="549.5" r="0.3" fill="#6a8ae0" opacity="0.45"/>
<circle cx="286.7" cy="561.2" r="0.3" fill="#6a8ae0" opacity="0.45"/>
<circle cx="299.1" cy="564.7" r="0.3" fill="#6a8ae0" opacity="0.45"/>
<circle cx="297.9" cy="549.6" r="0.3" fill="#6a8ae0" opacity="0.45"/>
<circle cx="292.9" cy="540.4" r="0.3" fill="#6a8ae0" opacity="0.45"/>
<circle cx="312.4" cy="537.1" r="0.3" fill="#6a8ae0" opacity="0.45"/>
<circle cx="308.5" cy="548.7" r="0.3" fill="#6a8ae0" opacity="0.45"/>
<circle cx="328.7" cy="546.5" r="0.3" fill="#6a8ae0" opacity="0.45"/>
<circle cx="307.0" cy="557.1" r="0.3" fill="#6a8ae0" opacity="0.45"/>
<circle cx="298.6" cy="556.7" r="0.3" fill="#6a8ae0" opacity="0.45"/>
<circle cx="297.7" cy="552.8" r="0.3" fill="#6a8ae0" opacity="0.45"/>
<circle cx="317.7" cy="558.2" r="0.3" fill="#6a8ae0" opacity="0.45"/>
<circle cx="311.1" cy="541.2" r="0.3" fill="#6a8ae0" opacity="0.45"/>
<circle cx="314.2" cy="569.1" r="0.3" fill="#6a8ae0" opacity="0.45"/>
<circle cx="306.0" cy="560.8" r="0.3" fill="#6a8ae0" opacity="0.45"/>
<circle cx="305.0" cy="564.6" r="0.3" fill="#6a8ae0" opacity="0.45"/>
<circle cx="303.5" cy="553.1" r="0.3" fill="#6a8ae0" opacity="0.45"/>
<circle cx="298.1" cy="560.9" r="0.3" fill="#6a8ae0" opacity="0.45"/>
<circle cx="293.2" cy="558.5" r="0.3" fill="#6a8ae0" opacity="0.45"/>
<circle cx="291.3" cy="563.3" r="0.3" fill="#6a8ae0" opacity="0.45"/>
<circle cx="290.4" cy="553.4" r="0.3" fill="#6a8ae0" opacity="0.45"/>
<circle cx="304.0" cy="539.6" r="0.3" fill="#6a8ae0" opacity="0.45"/>
<circle cx="312.3" cy="552.7" r="0.3" fill="#6a8ae0" opacity="0.45"/>
<circle cx="301.3" cy="544.3" r="0.3" fill="#6a8ae0" opacity="0.45"/>
<circle cx="300.4" cy="540.5" r="0.3" fill="#6a8ae0" opacity="0.45"/>
<circle cx="285.2" cy="544.4" r="0.3" fill="#6a8ae0" opacity="0.45"/>
<circle cx="302.2" cy="557.6" r="0.3" fill="#6a8ae0" opacity="0.45"/>
<circle cx="287.9" cy="561.2" r="0.3" fill="#6a8ae0" opacity="0.45"/>
<circle cx="293.1" cy="548.9" r="0.3" fill="#6a8ae0" opacity="0.45"/>
<circle cx="300.0" cy="559.7" r="0.3" fill="#6a8ae0" opacity="0.45"/>
<circle cx="315.9" cy="551.4" r="0.3" fill="#6a8ae0" opacity="0.45"/>
<circle cx="298.7" cy="558.4" r="0.3" fill="#6a8ae0" opacity="0.45"/>
<circle cx="299.5" cy="557.4" r="0.3" fill="#6a8ae0" opacity="0.45"/>
<circle cx="292.1" cy="550.5" r="0.3" fill="#6a8ae0" opacity="0.45"/>
<circle cx="296.7" cy="540.2" r="0.3" fill="#6a8ae0" opacity="0.45"/>
<circle cx="308.1" cy="565.2" r="0.3" fill="#6a8ae0" opacity="0.45"/>
<circle cx="301.4" cy="544.9" r="0.3" fill="#6a8ae0" opacity="0.45"/>
<circle cx="299.4" cy="542.3" r="0.3" fill="#6a8ae0" opacity="0.45"/>
<circle cx="312.0" cy="551.8" r="0.3" fill="#6a8ae0" opacity="0.45"/>
<circle cx="292.0" cy="558.9" r="0.3" fill="#6a8ae0" opacity="0.45"/>
<circle cx="312.6" cy="546.9" r="0.3" fill="#6a8ae0" opacity="0.45"/>
<circle cx="288.1" cy="550.7" r="0.3" fill="#6a8ae0" opacity="0.45"/>
<circle cx="314.4" cy="546.6" r="0.3" fill="#6a8ae0" opacity="0.45"/>
<circle cx="286.3" cy="544.1" r="0.3" fill="#6a8ae0" opacity="0.45"/>
<circle cx="288.1" cy="551.3" r="0.3" fill="#6a8ae0" opacity="0.45"/>
<circle cx="293.8" cy="561.0" r="0.3" fill="#6a8ae0" opacity="0.45"/>
<circle cx="296.6" cy="537.7" r="0.3" fill="#6a8ae0" opacity="0.45"/>
<circle cx="299.8" cy="548.5" r="0.3" fill="#6a8ae0" opacity="0.45"/>
<circle cx="306.4" cy="557.9" r="0.3" fill="#6a8ae0" opacity="0.45"/>
<circle cx="289.3" cy="546.8" r="0.3" fill="#6a8ae0" opacity="0.45"/>
<circle cx="299.9" cy="549.2" r="0.3" fill="#6a8ae0" opacity="0.45"/>
<circle cx="297.4" cy="551.2" r="0.3" fill="#6a8ae0" opacity="0.45"/>
<circle cx="305.1" cy="560.8" r="0.3" fill="#6a8ae0" opacity="0.45"/>
<circle cx="288.4" cy="537.6" r="0.3" fill="#6a8ae0" opacity="0.45"/>
<circle cx="289.9" cy="556.4" r="0.3" fill="#6a8ae0" opacity="0.45"/>
<circle cx="294.8" cy="550.2" r="0.3" fill="#6a8ae0" opacity="0.45"/>
<circle cx="329.0" cy="568.3" r="0.3" fill="#6a8ae0" opacity="0.45"/>
<circle cx="287.6" cy="574.5" r="0.3" fill="#6a8ae0" opacity="0.45"/>
<circle cx="287.5" cy="564.1" r="0.3" fill="#6a8ae0" opacity="0.45"/>
<circle cx="298.9" cy="541.7" r="0.3" fill="#6a8ae0" opacity="0.45"/>
<circle cx="305.7" cy="549.0" r="0.3" fill="#6a8ae0" opacity="0.45"/>
<circle cx="300.1" cy="559.4" r="0.3" fill="#6a8ae0" opacity="0.45"/>
<circle cx="307.6" cy="541.9" r="0.3" fill="#6a8ae0" opacity="0.45"/>
<circle cx="296.5" cy="552.4" r="0.3" fill="#6a8ae0" opacity="0.45"/>
<circle cx="304.1" cy="544.7" r="0.3" fill="#6a8ae0" opacity="0.45"/>
<circle cx="294.7" cy="566.4" r="0.3" fill="#6a8ae0" opacity="0.45"/>
<circle cx="295.4" cy="556.9" r="0.3" fill="#6a8ae0" opacity="0.45"/>
<circle cx="302.1" cy="529.6" r="0.3" fill="#6a8ae0" opacity="0.45"/>
<circle cx="306.5" cy="560.9" r="0.3" fill="#6a8ae0" opacity="0.45"/>
<circle cx="284.2" cy="551.3" r="0.3" fill="#6a8ae0" opacity="0.45"/>
<circle cx="295.9" cy="557.6" r="0.3" fill="#6a8ae0" opacity="0.45"/>
<circle cx="296.9" cy="545.8" r="0.3" fill="#6a8ae0" opacity="0.45"/>
<circle cx="304.2" cy="565.5" r="0.3" fill="#6a8ae0" opacity="0.45"/>
<circle cx="297.9" cy="567.1" r="0.3" fill="#6a8ae0" opacity="0.45"/>
<circle cx="329.4" cy="541.2" r="0.3" fill="#6a8ae0" opacity="0.45"/>
<circle cx="290.7" cy="554.3" r="0.3" fill="#6a8ae0" opacity="0.45"/>
<circle cx="290.7" cy="553.8" r="0.3" fill="#6a8ae0" opacity="0.45"/>
<circle cx="307.2" cy="561.3" r="0.3" fill="#6a8ae0" opacity="0.45"/>
<circle cx="296.8" cy="553.5" r="0.3" fill="#6a8ae0" opacity="0.45"/>
<circle cx="308.2" cy="550.1" r="0.3" fill="#6a8ae0" opacity="0.45"/>
<circle cx="285.7" cy="543.5" r="0.3" fill="#6a8ae0" opacity="0.45"/>
<circle cx="300.3" cy="558.5" r="0.3" fill="#6a8ae0" opacity="0.45"/>
<circle cx="298.5" cy="536.2" r="0.3" fill="#6a8ae0" opacity="0.45"/>
<circle cx="300.0" cy="557.4" r="0.3" fill="#6a8ae0" opacity="0.45"/>
<circle cx="288.9" cy="554.5" r="0.3" fill="#6a8ae0" opacity="0.45"/>
<circle cx="296.5" cy="559.9" r="0.3" fill="#6a8ae0" opacity="0.45"/>
<circle cx="304.0" cy="550.0" r="0.3" fill="#6a8ae0" opacity="0.45"/>
<circle cx="296.9" cy="547.5" r="0.3" fill="#6a8ae0" opacity="0.45"/>
<circle cx="292.0" cy="556.2" r="0.3" fill="#6a8ae0" opacity="0.45"/>
<circle cx="312.7" cy="549.9" r="0.3" fill="#6a8ae0" opacity="0.45"/>
<circle cx="284.3" cy="546.3" r="0.3" fill="#6a8ae0" opacity="0.45"/>
<circle cx="289.2" cy="565.6" r="0.3" fill="#6a8ae0" opacity="0.45"/>
<circle cx="283.4" cy="546.0" r="0.3" fill="#6a8ae0" opacity="0.45"/>
<circle cx="312.9" cy="563.7" r="0.3" fill="#6a8ae0" opacity="0.45"/>
<circle cx="299.6" cy="568.4" r="0.3" fill="#6a8ae0" opacity="0.45"/>
<circle cx="292.1" cy="544.4" r="0.3" fill="#6a8ae0" opacity="0.45"/>
<circle cx="300.7" cy="543.6" r="0.3" fill="#6a8ae0" opacity="0.45"/>
<circle cx="303.6" cy="548.1" r="0.3" fill="#6a8ae0" opacity="0.45"/>
<circle cx="289.3" cy="547.5" r="0.3" fill="#6a8ae0" opacity="0.45"/>
<circle cx="290.0" cy="544.7" r="0.3" fill="#6a8ae0" opacity="0.45"/>
<circle cx="307.4" cy="556.0" r="0.3" fill="#6a8ae0" opacity="0.45"/>
<circle cx="292.8" cy="552.9" r="0.3" fill="#6a8ae0" opacity="0.45"/>
<circle cx="315.3" cy="563.3" r="0.3" fill="#6a8ae0" opacity="0.45"/>
<circle cx="296.7" cy="549.8" r="0.3" fill="#6a8ae0" opacity="0.45"/>
<circle cx="299.9" cy="539.8" r="0.3" fill="#6a8ae0" opacity="0.45"/>
<circle cx="312.4" cy="566.5" r="0.3" fill="#6a8ae0" opacity="0.45"/>
<circle cx="299.5" cy="546.4" r="0.3" fill="#6a8ae0" opacity="0.45"/>
<circle cx="290.0" cy="538.1" r="0.3" fill="#6a8ae0" opacity="0.45"/>
<circle cx="305.1" cy="546.6" r="0.3" fill="#6a8ae0" opacity="0.45"/>
<circle cx="285.6" cy="562.4" r="0.3" fill="#6a8ae0" opacity="0.45"/>
<circle cx="284.5" cy="553.8" r="0.3" fill="#6a8ae0" opacity="0.45"/>
<circle cx="291.5" cy="549.4" r="0.3" fill="#6a8ae0" opacity="0.45"/>
<circle cx="303.5" cy="550.0" r="0.3" fill="#6a8ae0" opacity="0.45"/>
<circle cx="311.9" cy="556.9" r="0.3" fill="#6a8ae0" opacity="0.45"/>
<circle cx="302.2" cy="569.9" r="0.3" fill="#6a8ae0" opacity="0.45"/>
<circle cx="315.8" cy="544.9" r="0.3" fill="#6a8ae0" opacity="0.45"/>
<circle cx="303.6" cy="557.6" r="0.3" fill="#6a8ae0" opacity="0.45"/>
<circle cx="284.1" cy="561.6" r="0.3" fill="#6a8ae0" opacity="0.45"/>
<circle cx="300.6" cy="543.3" r="0.3" fill="#6a8ae0" opacity="0.45"/>
<circle cx="285.9" cy="553.2" r="0.3" fill="#6a8ae0" opacity="0.45"/>
<circle cx="299.6" cy="554.3" r="0.3" fill="#6a8ae0" opacity="0.45"/>
<circle cx="289.8" cy="556.0" r="0.3" fill="#6a8ae0" opacity="0.45"/>
<circle cx="292.8" cy="570.7" r="0.3" fill="#6a8ae0" opacity="0.45"/>
<circle cx="315.6" cy="554.6" r="0.3" fill="#6a8ae0" opacity="0.45"/>
<circle cx="309.3" cy="553.2" r="0.3" fill="#6a8ae0" opacity="0.45"/>
<circle cx="297.2" cy="561.2" r="0.3" fill="#6a8ae0" opacity="0.45"/>
<circle cx="287.6" cy="545.2" r="0.3" fill="#6a8ae0" opacity="0.45"/>
<circle cx="296.2" cy="545.3" r="0.3" fill="#6a8ae0" opacity="0.45"/>
<circle cx="283.9" cy="559.9" r="0.3" fill="#6a8ae0" opacity="0.45"/>
<circle cx="295.3" cy="546.8" r="0.3" fill="#6a8ae0" opacity="0.45"/>
<circle cx="295.7" cy="549.8" r="0.3" fill="#6a8ae0" opacity="0.45"/>
<circle cx="293.5" cy="536.3" r="0.3" fill="#6a8ae0" opacity="0.45"/>
<circle cx="283.9" cy="557.2" r="0.3" fill="#6a8ae0" opacity="0.45"/>
<circle cx="294.8" cy="556.0" r="0.3" fill="#6a8ae0" opacity="0.45"/>
<circle cx="289.2" cy="555.4" r="0.3" fill="#6a8ae0" opacity="0.45"/>
<circle cx="302.8" cy="554.0" r="0.3" fill="#6a8ae0" opacity="0.45"/>
<circle cx="298.4" cy="550.0" r="0.3" fill="#6a8ae0" opacity="0.45"/>
<circle cx="301.4" cy="566.1" r="0.3" fill="#6a8ae0" opacity="0.45"/>
<circle cx="296.1" cy="548.8" r="0.3" fill="#6a8ae0" opacity="0.45"/>
<circle cx="311.6" cy="553.7" r="0.3" fill="#6a8ae0" opacity="0.45"/>
<circle cx="310.9" cy="550.4" r="0.3" fill="#6a8ae0" opacity="0.45"/>
<circle cx="288.9" cy="538.0" r="0.3" fill="#6a8ae0" opacity="0.45"/>
<circle cx="291.8" cy="552.5" r="0.3" fill="#6a8ae0" opacity="0.45"/>
<circle cx="307.2" cy="539.7" r="0.3" fill="#6a8ae0" opacity="0.45"/>
<circle cx="291.2" cy="555.2" r="0.3" fill="#6a8ae0" opacity="0.45"/>
<circle cx="303.9" cy="553.9" r="0.3" fill="#6a8ae0" opacity="0.45"/>
<circle cx="288.1" cy="539.9" r="0.3" fill="#6a8ae0" opacity="0.45"/>
<circle cx="300.6" cy="557.9" r="0.3" fill="#6a8ae0" opacity="0.45"/>
<circle cx="288.0" cy="550.4" r="0.3" fill="#6a8ae0" opacity="0.45"/>
<circle cx="297.1" cy="552.0" r="0.3" fill="#6a8ae0" opacity="0.45"/>
<circle cx="292.5" cy="545.3" r="0.3" fill="#6a8ae0" opacity="0.45"/>
<circle cx="286.2" cy="552.5" r="0.3" fill="#6a8ae0" opacity="0.45"/>
<circle cx="305.9" cy="551.1" r="0.3" fill="#6a8ae0" opacity="0.45"/>
<circle cx="298.0" cy="545.2" r="0.3" fill="#6a8ae0" opacity="0.45"/>
<circle cx="318.8" cy="551.3" r="0.3" fill="#6a8ae0" opacity="0.45"/>
<circle cx="307.9" cy="547.2" r="0.3" fill="#6a8ae0" opacity="0.45"/>
<circle cx="284.0" cy="551.2" r="0.3" fill="#6a8ae0" opacity="0.45"/>
<circle cx="299.2" cy="555.4" r="0.3" fill="#6a8ae0" opacity="0.45"/>
<circle cx="283.5" cy="557.0" r="0.3" fill="#6a8ae0" opacity="0.45"/>
<circle cx="285.5" cy="545.6" r="0.3" fill="#6a8ae0" opacity="0.45"/>
<circle cx="297.3" cy="554.8" r="0.3" fill="#6a8ae0" opacity="0.45"/>
<circle cx="306.8" cy="534.2" r="0.3" fill="#6a8ae0" opacity="0.45"/>
<circle cx="309.5" cy="552.9" r="0.3" fill="#6a8ae0" opacity="0.45"/>
<circle cx="305.8" cy="553.6" r="0.3" fill="#6a8ae0" opacity="0.45"/>
<circle cx="295.4" cy="543.9" r="0.3" fill="#6a8ae0" opacity="0.45"/>
<circle cx="302.8" cy="551.1" r="0.3" fill="#6a8ae0" opacity="0.45"/>
<circle cx="309.9" cy="543.1" r="0.3" fill="#6a8ae0" opacity="0.45"/>
<circle cx="292.4" cy="546.7" r="0.3" fill="#6a8ae0" opacity="0.45"/>
<circle cx="282.9" cy="548.1" r="0.3" fill="#6a8ae0" opacity="0.45"/>
<circle cx="295.2" cy="537.5" r="0.3" fill="#6a8ae0" opacity="0.45"/>
<circle cx="292.6" cy="551.7" r="0.3" fill="#6a8ae0" opacity="0.45"/>
<circle cx="303.5" cy="556.5" r="0.3" fill="#6a8ae0" opacity="0.45"/>
<circle cx="290.7" cy="557.2" r="0.3" fill="#6a8ae0" opacity="0.45"/>
<circle cx="323.3" cy="550.9" r="0.3" fill="#6a8ae0" opacity="0.45"/>
<circle cx="292.7" cy="548.4" r="0.3" fill="#6a8ae0" opacity="0.45"/>
<circle cx="287.6" cy="549.4" r="0.3" fill="#6a8ae0" opacity="0.45"/>
<circle cx="290.3" cy="552.1" r="0.3" fill="#6a8ae0" opacity="0.45"/>
<circle cx="297.9" cy="529.1" r="0.3" fill="#6a8ae0" opacity="0.45"/>
<circle cx="320.4" cy="557.1" r="0.3" fill="#6a8ae0" opacity="0.45"/>
<circle cx="303.8" cy="552.0" r="0.3" fill="#6a8ae0" opacity="0.45"/>
<circle cx="318.4" cy="540.0" r="0.3" fill="#6a8ae0" opacity="0.45"/>
<circle cx="305.8" cy="560.7" r="0.3" fill="#6a8ae0" opacity="0.45"/>
<circle cx="306.9" cy="547.4" r="0.3" fill="#6a8ae0" opacity="0.45"/>
<circle cx="318.0" cy="558.1" r="0.3" fill="#6a8ae0" opacity="0.45"/>
<circle cx="288.0" cy="540.4" r="0.3" fill="#6a8ae0" opacity="0.45"/>
<circle cx="289.4" cy="559.0" r="0.3" fill="#6a8ae0" opacity="0.45"/>
<circle cx="288.3" cy="562.3" r="0.3" fill="#6a8ae0" opacity="0.45"/>
<circle cx="311.7" cy="548.5" r="0.3" fill="#6a8ae0" opacity="0.45"/>
<circle cx="295.1" cy="549.3" r="0.3" fill="#6a8ae0" opacity="0.45"/>
<circle cx="296.9" cy="558.9" r="0.3" fill="#6a8ae0" opacity="0.45"/>
<circle cx="307.0" cy="550.2" r="0.3" fill="#6a8ae0" opacity="0.45"/>
<circle cx="305.2" cy="555.9" r="0.3" fill="#6a8ae0" opacity="0.45"/>
<circle cx="304.7" cy="544.4" r="0.3" fill="#6a8ae0" opacity="0.45"/>
<circle cx="298.4" cy="572.6" r="0.3" fill="#6a8ae0" opacity="0.45"/>
<circle cx="305.4" cy="564.5" r="0.3" fill="#6a8ae0" opacity="0.45"/>
<circle cx="285.0" cy="552.0" r="0.3" fill="#6a8ae0" opacity="0.45"/>
<circle cx="289.6" cy="556.5" r="0.3" fill="#6a8ae0" opacity="0.45"/>
<circle cx="292.3" cy="552.9" r="0.3" fill="#6a8ae0" opacity="0.45"/>
<circle cx="313.3" cy="563.6" r="0.3" fill="#6a8ae0" opacity="0.45"/>
<circle cx="302.4" cy="557.8" r="0.3" fill="#6a8ae0" opacity="0.45"/>
<circle cx="303.7" cy="542.5" r="0.3" fill="#6a8ae0" opacity="0.45"/>
<circle cx="290.3" cy="557.6" r="0.3" fill="#6a8ae0" opacity="0.45"/>
<circle cx="296.9" cy="564.7" r="0.3" fill="#6a8ae0" opacity="0.45"/>
<circle cx="302.6" cy="534.7" r="0.3" fill="#6a8ae0" opacity="0.45"/>
<circle cx="297.2" cy="560.4" r="0.3" fill="#6a8ae0" opacity="0.45"/>
<circle cx="294.6" cy="558.9" r="0.3" fill="#6a8ae0" opacity="0.45"/>
<circle cx="297.3" cy="553.5" r="0.3" fill="#6a8ae0" opacity="0.45"/>
<circle cx="285.4" cy="544.4" r="0.3" fill="#6a8ae0" opacity="0.45"/>
<circle cx="302.6" cy="553.0" r="0.3" fill="#6a8ae0" opacity="0.45"/>
<circle cx="314.6" cy="547.6" r="0.3" fill="#6a8ae0" opacity="0.45"/>
<circle cx="295.2" cy="546.0" r="0.3" fill="#6a8ae0" opacity="0.45"/>
<circle cx="311.4" cy="549.3" r="0.3" fill="#6a8ae0" opacity="0.45"/>
<circle cx="305.7" cy="559.6" r="0.3" fill="#6a8ae0" opacity="0.45"/>
<circle cx="295.6" cy="552.7" r="0.3" fill="#6a8ae0" opacity="0.45"/>
<circle cx="312.6" cy="553.7" r="0.3" fill="#6a8ae0" opacity="0.45"/>
<circle cx="294.9" cy="540.0" r="0.3" fill="#6a8ae0" opacity="0.45"/>
<circle cx="287.4" cy="550.4" r="0.3" fill="#6a8ae0" opacity="0.45"/>
<circle cx="287.5" cy="537.7" r="0.3" fill="#6a8ae0" opacity="0.45"/>
<circle cx="318.5" cy="554.2" r="0.3" fill="#6a8ae0" opacity="0.45"/>
<circle cx="297.8" cy="551.0" r="0.3" fill="#6a8ae0" opacity="0.45"/>
<circle cx="298.8" cy="554.2" r="0.3" fill="#6a8ae0" opacity="0.45"/>
<circle cx="297.6" cy="555.4" r="0.3" fill="#6a8ae0" opacity="0.45"/>
<circle cx="296.5" cy="571.7" r="0.3" fill="#6a8ae0" opacity="0.45"/>
<circle cx="295.8" cy="548.4" r="0.3" fill="#6a8ae0" opacity="0.45"/>
<circle cx="318.9" cy="576.4" r="0.3" fill="#6a8ae0" opacity="0.45"/>
<circle cx="308.2" cy="547.0" r="0.3" fill="#6a8ae0" opacity="0.45"/>
<circle cx="306.5" cy="549.5" r="0.3" fill="#6a8ae0" opacity="0.45"/>
<circle cx="302.7" cy="550.3" r="0.3" fill="#6a8ae0" opacity="0.45"/>
<circle cx="297.4" cy="548.5" r="0.3" fill="#6a8ae0" opacity="0.45"/>
<circle cx="297.5" cy="557.4" r="0.3" fill="#6a8ae0" opacity="0.45"/>
<circle cx="313.1" cy="537.5" r="0.3" fill="#6a8ae0" opacity="0.45"/>
<circle cx="288.4" cy="559.1" r="0.3" fill="#6a8ae0" opacity="0.45"/>
<circle cx="310.0" cy="541.4" r="0.3" fill="#6a8ae0" opacity="0.45"/>
<circle cx="304.5" cy="549.5" r="0.3" fill="#6a8ae0" opacity="0.45"/>
<circle cx="293.5" cy="548.1" r="0.3" fill="#6a8ae0" opacity="0.45"/>
<circle cx="315.4" cy="535.2" r="0.3" fill="#6a8ae0" opacity="0.45"/>
<circle cx="307.6" cy="538.7" r="0.3" fill="#6a8ae0" opacity="0.45"/>
<circle cx="296.5" cy="549.7" r="0.3" fill="#6a8ae0" opacity="0.45"/>
<circle cx="311.4" cy="567.4" r="0.3" fill="#6a8ae0" opacity="0.45"/>
<circle cx="301.4" cy="572.1" r="0.3" fill="#6a8ae0" opacity="0.45"/>
<circle cx="311.4" cy="551.2" r="0.3" fill="#6a8ae0" opacity="0.45"/>
<circle cx="321.6" cy="545.2" r="0.3" fill="#6a8ae0" opacity="0.45"/>
<circle cx="305.1" cy="544.7" r="0.3" fill="#6a8ae0" opacity="0.45"/>
<circle cx="291.5" cy="554.0" r="0.3" fill="#6a8ae0" opacity="0.45"/>
<circle cx="291.6" cy="558.2" r="0.3" fill="#6a8ae0" opacity="0.45"/>
<circle cx="289.8" cy="570.1" r="0.3" fill="#6a8ae0" opacity="0.45"/>
<circle cx="284.1" cy="543.0" r="0.3" fill="#6a8ae0" opacity="0.45"/>
<circle cx="304.7" cy="541.3" r="0.3" fill="#6a8ae0" opacity="0.45"/>
<circle cx="293.4" cy="554.0" r="0.3" fill="#3a6ad0" opacity="0.5"/>
<circle cx="291.4" cy="558.1" r="0.3" fill="#3a6ad0" opacity="0.5"/>
<circle cx="285.8" cy="573.4" r="0.3" fill="#3a6ad0" opacity="0.5"/>
<circle cx="302.1" cy="560.4" r="0.3" fill="#3a6ad0" opacity="0.5"/>
<circle cx="291.9" cy="578.0" r="0.3" fill="#3a6ad0" opacity="0.5"/>
<circle cx="299.5" cy="560.9" r="0.3" fill="#3a6ad0" opacity="0.5"/>
<circle cx="296.5" cy="575.8" r="0.3" fill="#3a6ad0" opacity="0.5"/>
<circle cx="283.7" cy="565.1" r="0.3" fill="#3a6ad0" opacity="0.5"/>
<circle cx="298.8" cy="567.8" r="0.3" fill="#3a6ad0" opacity="0.5"/>
<circle cx="297.5" cy="566.8" r="0.3" fill="#3a6ad0" opacity="0.5"/>
<circle cx="289.5" cy="572.8" r="0.3" fill="#3a6ad0" opacity="0.5"/>
<circle cx="289.6" cy="570.8" r="0.3" fill="#3a6ad0" opacity="0.5"/>
<circle cx="293.7" cy="569.5" r="0.3" fill="#3a6ad0" opacity="0.5"/>
<circle cx="297.7" cy="563.8" r="0.3" fill="#3a6ad0" opacity="0.5"/>
<circle cx="287.8" cy="571.6" r="0.3" fill="#3a6ad0" opacity="0.5"/>
<circle cx="300.0" cy="568.3" r="0.3" fill="#3a6ad0" opacity="0.5"/>
<circle cx="286.5" cy="575.5" r="0.3" fill="#3a6ad0" opacity="0.5"/>
<circle cx="290.9" cy="559.2" r="0.3" fill="#3a6ad0" opacity="0.5"/>
<circle cx="294.5" cy="578.0" r="0.3" fill="#3a6ad0" opacity="0.5"/>
<circle cx="301.9" cy="567.8" r="0.3" fill="#3a6ad0" opacity="0.5"/>
<circle cx="290.7" cy="562.4" r="0.3" fill="#3a6ad0" opacity="0.5"/>
<circle cx="299.4" cy="563.4" r="0.3" fill="#3a6ad0" opacity="0.5"/>
<circle cx="290.3" cy="563.8" r="0.3" fill="#3a6ad0" opacity="0.5"/>
<circle cx="293.9" cy="566.0" r="0.3" fill="#3a6ad0" opacity="0.5"/>
<circle cx="304.2" cy="567.4" r="0.3" fill="#3a6ad0" opacity="0.5"/>
<circle cx="296.3" cy="559.8" r="0.3" fill="#3a6ad0" opacity="0.5"/>
<circle cx="307.0" cy="566.0" r="0.3" fill="#3a6ad0" opacity="0.5"/>
<circle cx="291.1" cy="560.8" r="0.3" fill="#3a6ad0" opacity="0.5"/>
<circle cx="283.5" cy="559.1" r="0.3" fill="#3a6ad0" opacity="0.5"/>
<circle cx="306.2" cy="572.9" r="0.3" fill="#3a6ad0" opacity="0.5"/>
<circle cx="296.7" cy="561.0" r="0.3" fill="#3a6ad0" opacity="0.5"/>
<circle cx="298.3" cy="563.0" r="0.3" fill="#3a6ad0" opacity="0.5"/>
<circle cx="290.2" cy="569.2" r="0.3" fill="#3a6ad0" opacity="0.5"/>
<circle cx="283.1" cy="566.5" r="0.3" fill="#3a6ad0" opacity="0.5"/>
<circle cx="285.0" cy="567.4" r="0.3" fill="#3a6ad0" opacity="0.5"/>
<circle cx="285.6" cy="561.7" r="0.3" fill="#3a6ad0" opacity="0.5"/>
<circle cx="306.5" cy="567.0" r="0.3" fill="#3a6ad0" opacity="0.5"/>
<circle cx="300.4" cy="573.3" r="0.3" fill="#3a6ad0" opacity="0.5"/>
<circle cx="293.3" cy="570.6" r="0.3" fill="#3a6ad0" opacity="0.5"/>
<circle cx="291.5" cy="573.5" r="0.3" fill="#3a6ad0" opacity="0.5"/>
<circle cx="288.6" cy="568.7" r="0.3" fill="#3a6ad0" opacity="0.5"/>
<circle cx="291.4" cy="577.2" r="0.3" fill="#3a6ad0" opacity="0.5"/>
<circle cx="288.4" cy="565.8" r="0.3" fill="#3a6ad0" opacity="0.5"/>
<circle cx="299.7" cy="563.0" r="0.3" fill="#3a6ad0" opacity="0.5"/>
<circle cx="290.8" cy="574.3" r="0.3" fill="#3a6ad0" opacity="0.5"/>
<circle cx="305.8" cy="577.9" r="0.3" fill="#3a6ad0" opacity="0.5"/>
<circle cx="296.0" cy="572.2" r="0.3" fill="#3a6ad0" opacity="0.5"/>
<circle cx="287.6" cy="564.1" r="0.3" fill="#3a6ad0" opacity="0.5"/>
<circle cx="283.0" cy="575.9" r="0.3" fill="#3a6ad0" opacity="0.5"/>
<circle cx="286.7" cy="562.1" r="0.3" fill="#3a6ad0" opacity="0.5"/>
<circle cx="307.3" cy="547.8" r="0.3" fill="#3a6ad0" opacity="0.5"/>
<circle cx="285.1" cy="566.9" r="0.3" fill="#3a6ad0" opacity="0.5"/>
<circle cx="296.6" cy="560.1" r="0.3" fill="#3a6ad0" opacity="0.5"/>
<circle cx="288.7" cy="552.6" r="0.3" fill="#3a6ad0" opacity="0.5"/>
<circle cx="296.8" cy="576.2" r="0.3" fill="#3a6ad0" opacity="0.5"/>
<circle cx="288.9" cy="570.6" r="0.3" fill="#3a6ad0" opacity="0.5"/>
<circle cx="301.7" cy="576.2" r="0.3" fill="#3a6ad0" opacity="0.5"/>
<circle cx="297.7" cy="576.2" r="0.3" fill="#3a6ad0" opacity="0.5"/>
<circle cx="296.8" cy="562.0" r="0.3" fill="#3a6ad0" opacity="0.5"/>
<circle cx="297.8" cy="563.1" r="0.3" fill="#3a6ad0" opacity="0.5"/>
<circle cx="289.3" cy="562.0" r="0.3" fill="#3a6ad0" opacity="0.5"/>
<circle cx="299.7" cy="567.0" r="0.3" fill="#3a6ad0" opacity="0.5"/>
<circle cx="292.7" cy="572.7" r="0.3" fill="#3a6ad0" opacity="0.5"/>
<circle cx="285.5" cy="569.1" r="0.3" fill="#3a6ad0" opacity="0.5"/>
<circle cx="293.7" cy="564.1" r="0.3" fill="#3a6ad0" opacity="0.5"/>
<circle cx="311.8" cy="568.8" r="0.3" fill="#3a6ad0" opacity="0.5"/>
<circle cx="290.3" cy="574.5" r="0.3" fill="#3a6ad0" opacity="0.5"/>
<circle cx="295.0" cy="566.0" r="0.3" fill="#3a6ad0" opacity="0.5"/>
<circle cx="287.5" cy="560.5" r="0.3" fill="#3a6ad0" opacity="0.5"/>
<circle cx="291.0" cy="576.2" r="0.3" fill="#3a6ad0" opacity="0.5"/>
<circle cx="301.7" cy="574.5" r="0.3" fill="#3a6ad0" opacity="0.5"/>
<circle cx="295.7" cy="570.8" r="0.3" fill="#3a6ad0" opacity="0.5"/>
<circle cx="290.1" cy="572.5" r="0.3" fill="#3a6ad0" opacity="0.5"/>
<circle cx="295.4" cy="574.0" r="0.3" fill="#3a6ad0" opacity="0.5"/>
<circle cx="290.3" cy="573.4" r="0.3" fill="#3a6ad0" opacity="0.5"/>
<circle cx="295.0" cy="561.9" r="0.3" fill="#3a6ad0" opacity="0.5"/>
<circle cx="286.4" cy="555.6" r="0.3" fill="#3a6ad0" opacity="0.5"/>
<circle cx="285.5" cy="570.9" r="0.3" fill="#3a6ad0" opacity="0.5"/>
<circle cx="291.1" cy="565.7" r="0.3" fill="#3a6ad0" opacity="0.5"/>
<circle cx="288.1" cy="573.2" r="0.3" fill="#3a6ad0" opacity="0.5"/>
<circle cx="300.8" cy="571.2" r="0.3" fill="#3a6ad0" opacity="0.5"/>
<circle cx="285.7" cy="577.5" r="0.3" fill="#3a6ad0" opacity="0.5"/>
<circle cx="287.9" cy="567.3" r="0.3" fill="#3a6ad0" opacity="0.5"/>
<circle cx="295.2" cy="566.8" r="0.3" fill="#3a6ad0" opacity="0.5"/>
<circle cx="282.8" cy="561.9" r="0.3" fill="#3a6ad0" opacity="0.5"/>
<circle cx="291.8" cy="566.6" r="0.3" fill="#3a6ad0" opacity="0.5"/>
<circle cx="297.4" cy="560.2" r="0.3" fill="#3a6ad0" opacity="0.5"/>
<circle cx="315.3" cy="571.9" r="0.3" fill="#3a6ad0" opacity="0.5"/>
<circle cx="293.1" cy="572.6" r="0.3" fill="#3a6ad0" opacity="0.5"/>
<circle cx="284.0" cy="568.2" r="0.3" fill="#3a6ad0" opacity="0.5"/>
<circle cx="288.5" cy="575.4" r="0.3" fill="#3a6ad0" opacity="0.5"/>
<circle cx="291.1" cy="562.2" r="0.3" fill="#3a6ad0" opacity="0.5"/>
<circle cx="294.3" cy="564.3" r="0.3" fill="#3a6ad0" opacity="0.5"/>
<circle cx="308.5" cy="566.2" r="0.3" fill="#3a6ad0" opacity="0.5"/>
<circle cx="305.0" cy="560.3" r="0.3" fill="#3a6ad0" opacity="0.5"/>
<circle cx="285.9" cy="564.7" r="0.3" fill="#3a6ad0" opacity="0.5"/>
<circle cx="301.6" cy="564.0" r="0.3" fill="#3a6ad0" opacity="0.5"/>
<circle cx="302.3" cy="554.7" r="0.3" fill="#3a6ad0" opacity="0.5"/>
<circle cx="303.5" cy="568.0" r="0.3" fill="#3a6ad0" opacity="0.5"/>
<circle cx="300.1" cy="571.6" r="0.3" fill="#3a6ad0" opacity="0.5"/>
<circle cx="284.5" cy="568.6" r="0.3" fill="#3a6ad0" opacity="0.5"/>
<circle cx="301.5" cy="572.5" r="0.3" fill="#3a6ad0" opacity="0.5"/>
<circle cx="306.5" cy="571.3" r="0.3" fill="#3a6ad0" opacity="0.5"/>
<circle cx="300.9" cy="562.4" r="0.3" fill="#3a6ad0" opacity="0.5"/>
<circle cx="293.0" cy="559.0" r="0.3" fill="#3a6ad0" opacity="0.5"/>
<circle cx="297.9" cy="566.6" r="0.3" fill="#3a6ad0" opacity="0.5"/>
<circle cx="286.1" cy="574.7" r="0.3" fill="#3a6ad0" opacity="0.5"/>
<circle cx="293.9" cy="566.9" r="0.3" fill="#3a6ad0" opacity="0.5"/>
<circle cx="296.6" cy="558.5" r="0.3" fill="#3a6ad0" opacity="0.5"/>
<circle cx="293.3" cy="562.2" r="0.3" fill="#3a6ad0" opacity="0.5"/>
<circle cx="290.5" cy="562.6" r="0.3" fill="#3a6ad0" opacity="0.5"/>
<circle cx="297.8" cy="573.1" r="0.3" fill="#3a6ad0" opacity="0.5"/>
<circle cx="296.7" cy="569.6" r="0.3" fill="#3a6ad0" opacity="0.5"/>
<circle cx="294.3" cy="566.7" r="0.3" fill="#3a6ad0" opacity="0.5"/>
<circle cx="284.1" cy="566.0" r="0.3" fill="#3a6ad0" opacity="0.5"/>
<circle cx="301.6" cy="565.4" r="0.3" fill="#3a6ad0" opacity="0.5"/>
<circle cx="292.1" cy="571.5" r="0.3" fill="#3a6ad0" opacity="0.5"/>
<circle cx="290.3" cy="564.8" r="0.3" fill="#3a6ad0" opacity="0.5"/>
<circle cx="300.7" cy="570.4" r="0.3" fill="#3a6ad0" opacity="0.5"/>
<circle cx="287.3" cy="568.9" r="0.3" fill="#3a6ad0" opacity="0.5"/>
<circle cx="286.2" cy="578.0" r="0.3" fill="#3a6ad0" opacity="0.5"/>
<circle cx="293.3" cy="564.9" r="0.3" fill="#3a6ad0" opacity="0.5"/>
<ellipse cx="298.00" cy="556.00" rx="18.00" ry="16.00" fill="url(#gF)"/>
<ellipse cx="292.00" cy="563.00" rx="12.00" ry="14.00" fill="url(#gB)"/>
<ellipse cx="292.00" cy="562.50" rx="9.50" ry="9.00" fill="url(#gG)"/>
<ellipse cx="310.60" cy="562.00" rx="7.00" ry="17.00" fill="url(#gB)" transform="rotate(4 310.60 562.00)"/>
<ellipse cx="310.40" cy="562.00" rx="5.20" ry="11.00" fill="url(#gR)" transform="rotate(4 310.40 562.00)"/>
</g>
<defs><clipPath id="hc4"><rect x="375.2" y="527.3" width="52.80" height="52.90"/></clipPath></defs><g clip-path="url(#hc4)">
<circle cx="388.3" cy="552.2" r="0.3" fill="#6a8ae0" opacity="0.5"/>
<circle cx="400.2" cy="548.5" r="0.3" fill="#6a8ae0" opacity="0.5"/>
<circle cx="404.0" cy="552.6" r="0.3" fill="#6a8ae0" opacity="0.5"/>
<circle cx="388.5" cy="548.2" r="0.3" fill="#6a8ae0" opacity="0.5"/>
<circle cx="393.7" cy="552.1" r="0.3" fill="#6a8ae0" opacity="0.5"/>
<circle cx="402.1" cy="549.6" r="0.3" fill="#6a8ae0" opacity="0.5"/>
<circle cx="403.8" cy="548.5" r="0.3" fill="#6a8ae0" opacity="0.5"/>
<circle cx="403.9" cy="554.6" r="0.3" fill="#6a8ae0" opacity="0.5"/>
<circle cx="384.8" cy="547.3" r="0.3" fill="#6a8ae0" opacity="0.5"/>
<circle cx="396.7" cy="551.0" r="0.3" fill="#6a8ae0" opacity="0.5"/>
<circle cx="389.5" cy="547.4" r="0.3" fill="#6a8ae0" opacity="0.5"/>
<circle cx="397.1" cy="552.0" r="0.3" fill="#6a8ae0" opacity="0.5"/>
<circle cx="404.1" cy="543.5" r="0.3" fill="#6a8ae0" opacity="0.5"/>
<circle cx="393.0" cy="549.9" r="0.3" fill="#6a8ae0" opacity="0.5"/>
<circle cx="400.0" cy="549.1" r="0.3" fill="#6a8ae0" opacity="0.5"/>
<circle cx="394.8" cy="546.6" r="0.3" fill="#6a8ae0" opacity="0.5"/>
<circle cx="394.6" cy="554.7" r="0.3" fill="#6a8ae0" opacity="0.5"/>
<circle cx="400.9" cy="552.6" r="0.3" fill="#6a8ae0" opacity="0.5"/>
<circle cx="387.8" cy="545.9" r="0.3" fill="#6a8ae0" opacity="0.5"/>
<circle cx="388.7" cy="550.7" r="0.3" fill="#6a8ae0" opacity="0.5"/>
<circle cx="382.6" cy="551.3" r="0.3" fill="#6a8ae0" opacity="0.5"/>
<circle cx="390.4" cy="551.8" r="0.3" fill="#6a8ae0" opacity="0.5"/>
<circle cx="405.5" cy="553.9" r="0.3" fill="#6a8ae0" opacity="0.5"/>
<circle cx="385.6" cy="557.3" r="0.3" fill="#6a8ae0" opacity="0.5"/>
<circle cx="396.4" cy="551.7" r="0.3" fill="#6a8ae0" opacity="0.5"/>
<circle cx="397.6" cy="549.6" r="0.3" fill="#6a8ae0" opacity="0.5"/>
<circle cx="406.0" cy="542.6" r="0.3" fill="#6a8ae0" opacity="0.5"/>
<circle cx="392.0" cy="548.0" r="0.3" fill="#6a8ae0" opacity="0.5"/>
<circle cx="390.0" cy="547.5" r="0.3" fill="#6a8ae0" opacity="0.5"/>
<circle cx="396.6" cy="551.8" r="0.3" fill="#6a8ae0" opacity="0.5"/>
<circle cx="404.9" cy="550.6" r="0.3" fill="#6a8ae0" opacity="0.5"/>
<circle cx="407.9" cy="547.2" r="0.3" fill="#6a8ae0" opacity="0.5"/>
<circle cx="402.5" cy="554.5" r="0.3" fill="#6a8ae0" opacity="0.5"/>
<circle cx="382.5" cy="551.3" r="0.3" fill="#6a8ae0" opacity="0.5"/>
<circle cx="386.7" cy="550.9" r="0.3" fill="#6a8ae0" opacity="0.5"/>
<circle cx="395.6" cy="547.7" r="0.3" fill="#6a8ae0" opacity="0.5"/>
<circle cx="403.2" cy="553.2" r="0.3" fill="#6a8ae0" opacity="0.5"/>
<circle cx="391.5" cy="547.0" r="0.3" fill="#6a8ae0" opacity="0.5"/>
<circle cx="390.2" cy="550.6" r="0.3" fill="#6a8ae0" opacity="0.5"/>
<circle cx="393.7" cy="544.0" r="0.3" fill="#6a8ae0" opacity="0.5"/>
<circle cx="397.7" cy="550.3" r="0.3" fill="#6a8ae0" opacity="0.5"/>
<circle cx="404.5" cy="552.9" r="0.3" fill="#6a8ae0" opacity="0.5"/>
<circle cx="397.8" cy="551.4" r="0.3" fill="#6a8ae0" opacity="0.5"/>
<circle cx="382.6" cy="551.9" r="0.3" fill="#6a8ae0" opacity="0.5"/>
<circle cx="397.0" cy="547.0" r="0.3" fill="#6a8ae0" opacity="0.5"/>
<circle cx="395.7" cy="547.1" r="0.3" fill="#6a8ae0" opacity="0.5"/>
<circle cx="378.8" cy="552.6" r="0.3" fill="#6a8ae0" opacity="0.5"/>
<circle cx="383.5" cy="550.7" r="0.3" fill="#6a8ae0" opacity="0.5"/>
<circle cx="386.4" cy="549.2" r="0.3" fill="#6a8ae0" opacity="0.5"/>
<circle cx="394.1" cy="549.2" r="0.3" fill="#6a8ae0" opacity="0.5"/>
<circle cx="386.7" cy="555.0" r="0.3" fill="#6a8ae0" opacity="0.5"/>
<circle cx="391.9" cy="551.7" r="0.3" fill="#6a8ae0" opacity="0.5"/>
<circle cx="386.6" cy="552.8" r="0.3" fill="#6a8ae0" opacity="0.5"/>
<circle cx="402.8" cy="556.9" r="0.3" fill="#6a8ae0" opacity="0.5"/>
<circle cx="403.4" cy="557.0" r="0.3" fill="#6a8ae0" opacity="0.5"/>
<circle cx="408.7" cy="552.5" r="0.3" fill="#6a8ae0" opacity="0.5"/>
<circle cx="404.6" cy="550.0" r="0.3" fill="#6a8ae0" opacity="0.5"/>
<circle cx="407.7" cy="548.8" r="0.3" fill="#6a8ae0" opacity="0.5"/>
<circle cx="391.6" cy="548.5" r="0.3" fill="#6a8ae0" opacity="0.5"/>
<circle cx="382.4" cy="550.5" r="0.3" fill="#6a8ae0" opacity="0.5"/>
<circle cx="387.3" cy="550.0" r="0.3" fill="#6a8ae0" opacity="0.5"/>
<circle cx="398.7" cy="552.3" r="0.3" fill="#6a8ae0" opacity="0.5"/>
<circle cx="405.2" cy="549.1" r="0.3" fill="#6a8ae0" opacity="0.5"/>
<circle cx="391.9" cy="550.3" r="0.3" fill="#6a8ae0" opacity="0.5"/>
<circle cx="386.3" cy="556.4" r="0.3" fill="#6a8ae0" opacity="0.5"/>
<circle cx="387.6" cy="552.9" r="0.3" fill="#6a8ae0" opacity="0.5"/>
<circle cx="396.1" cy="553.7" r="0.3" fill="#6a8ae0" opacity="0.5"/>
<circle cx="380.6" cy="549.1" r="0.3" fill="#6a8ae0" opacity="0.5"/>
<circle cx="388.9" cy="552.5" r="0.3" fill="#6a8ae0" opacity="0.5"/>
<circle cx="403.8" cy="546.6" r="0.3" fill="#6a8ae0" opacity="0.5"/>
<circle cx="381.8" cy="549.1" r="0.3" fill="#6a8ae0" opacity="0.5"/>
<circle cx="383.4" cy="550.9" r="0.3" fill="#6a8ae0" opacity="0.5"/>
<circle cx="405.6" cy="550.6" r="0.3" fill="#6a8ae0" opacity="0.5"/>
<circle cx="395.3" cy="558.3" r="0.3" fill="#6a8ae0" opacity="0.5"/>
<circle cx="395.3" cy="549.2" r="0.3" fill="#6a8ae0" opacity="0.5"/>
<circle cx="400.5" cy="552.0" r="0.3" fill="#6a8ae0" opacity="0.5"/>
<circle cx="406.1" cy="553.4" r="0.3" fill="#6a8ae0" opacity="0.5"/>
<circle cx="404.7" cy="548.1" r="0.3" fill="#6a8ae0" opacity="0.5"/>
<circle cx="379.1" cy="551.9" r="0.3" fill="#6a8ae0" opacity="0.5"/>
<circle cx="402.7" cy="551.2" r="0.3" fill="#6a8ae0" opacity="0.5"/>
<ellipse cx="390.00" cy="552.00" rx="18.00" ry="4.00" fill="url(#gF)"/>
<path d="M375.2,547.5 L383,549.5 L389,552.5 L383,556.6 L375.2,556.8 Z" fill="#3a74cc" opacity="0.6"/>
<ellipse cx="378.00" cy="552.50" rx="6.00" ry="4.20" fill="url(#gB)"/>
</g>
<defs><clipPath id="hc5"><rect x="462.7" y="526.9" width="51.10" height="51.40"/></clipPath></defs><g clip-path="url(#hc5)">
<circle cx="472.8" cy="535.9" r="0.5" fill="#7a88d8" opacity="0.55"/>
<circle cx="485.3" cy="538.4" r="0.5" fill="#7a88d8" opacity="0.55"/>
<circle cx="485.8" cy="534.6" r="0.5" fill="#7a88d8" opacity="0.55"/>
<circle cx="476.3" cy="533.2" r="0.5" fill="#7a88d8" opacity="0.55"/>
<circle cx="483.6" cy="532.4" r="0.5" fill="#7a88d8" opacity="0.55"/>
<circle cx="483.3" cy="533.9" r="0.5" fill="#7a88d8" opacity="0.55"/>
<circle cx="469.2" cy="536.2" r="0.5" fill="#7a88d8" opacity="0.55"/>
<circle cx="471.8" cy="540.6" r="0.5" fill="#7a88d8" opacity="0.55"/>
<circle cx="472.2" cy="537.4" r="0.5" fill="#7a88d8" opacity="0.55"/>
<circle cx="488.4" cy="536.9" r="0.5" fill="#7a88d8" opacity="0.55"/>
<circle cx="471.3" cy="535.5" r="0.5" fill="#7a88d8" opacity="0.55"/>
<circle cx="486.9" cy="542.6" r="0.5" fill="#7a88d8" opacity="0.55"/>
<circle cx="473.7" cy="539.8" r="0.5" fill="#7a88d8" opacity="0.55"/>
<circle cx="473.6" cy="538.4" r="0.5" fill="#7a88d8" opacity="0.55"/>
<circle cx="472.9" cy="532.2" r="0.5" fill="#7a88d8" opacity="0.55"/>
<circle cx="485.8" cy="533.4" r="0.5" fill="#7a88d8" opacity="0.55"/>
<circle cx="479.6" cy="536.4" r="0.5" fill="#7a88d8" opacity="0.55"/>
<circle cx="488.2" cy="541.6" r="0.5" fill="#7a88d8" opacity="0.55"/>
<circle cx="482.7" cy="536.4" r="0.5" fill="#7a88d8" opacity="0.55"/>
<circle cx="479.8" cy="534.0" r="0.5" fill="#7a88d8" opacity="0.55"/>
<circle cx="468.1" cy="540.1" r="0.5" fill="#7a88d8" opacity="0.55"/>
<circle cx="481.6" cy="538.3" r="0.5" fill="#7a88d8" opacity="0.55"/>
<circle cx="471.1" cy="539.1" r="0.5" fill="#7a88d8" opacity="0.55"/>
<circle cx="477.3" cy="536.0" r="0.5" fill="#7a88d8" opacity="0.55"/>
<circle cx="477.2" cy="531.0" r="0.5" fill="#7a88d8" opacity="0.55"/>
<circle cx="482.5" cy="536.1" r="0.5" fill="#7a88d8" opacity="0.55"/>
<circle cx="485.4" cy="534.4" r="0.5" fill="#7a88d8" opacity="0.55"/>
<circle cx="488.3" cy="528.5" r="0.5" fill="#7a88d8" opacity="0.55"/>
<circle cx="481.2" cy="535.3" r="0.5" fill="#7a88d8" opacity="0.55"/>
<circle cx="483.4" cy="537.3" r="0.5" fill="#7a88d8" opacity="0.55"/>
<circle cx="475.2" cy="533.9" r="0.5" fill="#7a88d8" opacity="0.55"/>
<circle cx="485.0" cy="532.6" r="0.5" fill="#7a88d8" opacity="0.55"/>
<circle cx="478.1" cy="530.9" r="0.5" fill="#7a88d8" opacity="0.55"/>
<circle cx="488.3" cy="533.8" r="0.5" fill="#7a88d8" opacity="0.55"/>
<circle cx="484.2" cy="533.4" r="0.5" fill="#7a88d8" opacity="0.55"/>
<circle cx="467.9" cy="531.8" r="0.5" fill="#7a88d8" opacity="0.55"/>
<circle cx="487.4" cy="536.4" r="0.5" fill="#7a88d8" opacity="0.55"/>
<circle cx="493.0" cy="534.4" r="0.5" fill="#7a88d8" opacity="0.55"/>
<circle cx="480.3" cy="539.0" r="0.5" fill="#7a88d8" opacity="0.55"/>
<circle cx="475.9" cy="540.6" r="0.5" fill="#7a88d8" opacity="0.55"/>
<circle cx="481.6" cy="535.5" r="0.5" fill="#7a88d8" opacity="0.55"/>
<circle cx="490.1" cy="535.7" r="0.5" fill="#7a88d8" opacity="0.55"/>
<circle cx="474.6" cy="535.7" r="0.5" fill="#7a88d8" opacity="0.55"/>
<circle cx="473.3" cy="534.9" r="0.5" fill="#7a88d8" opacity="0.55"/>
<circle cx="490.2" cy="536.2" r="0.5" fill="#7a88d8" opacity="0.55"/>
<circle cx="483.1" cy="539.3" r="0.5" fill="#7a88d8" opacity="0.55"/>
<circle cx="475.6" cy="537.0" r="0.5" fill="#7a88d8" opacity="0.55"/>
<circle cx="477.7" cy="534.8" r="0.5" fill="#7a88d8" opacity="0.55"/>
<circle cx="486.2" cy="533.4" r="0.5" fill="#7a88d8" opacity="0.55"/>
<circle cx="488.0" cy="533.8" r="0.5" fill="#7a88d8" opacity="0.55"/>
<circle cx="469.0" cy="537.5" r="0.5" fill="#7a88d8" opacity="0.55"/>
<circle cx="479.4" cy="534.9" r="0.5" fill="#7a88d8" opacity="0.55"/>
<circle cx="480.8" cy="534.2" r="0.5" fill="#7a88d8" opacity="0.55"/>
<circle cx="497.8" cy="536.1" r="0.5" fill="#7a88d8" opacity="0.55"/>
<circle cx="481.9" cy="532.2" r="0.5" fill="#7a88d8" opacity="0.55"/>
<circle cx="480.7" cy="537.9" r="0.5" fill="#7a88d8" opacity="0.55"/>
<circle cx="474.0" cy="533.5" r="0.5" fill="#7a88d8" opacity="0.55"/>
<circle cx="477.1" cy="536.7" r="0.5" fill="#7a88d8" opacity="0.55"/>
<circle cx="480.7" cy="533.4" r="0.5" fill="#7a88d8" opacity="0.55"/>
<circle cx="484.3" cy="540.0" r="0.5" fill="#7a88d8" opacity="0.55"/>
<circle cx="480.1" cy="535.4" r="0.5" fill="#7a88d8" opacity="0.55"/>
<circle cx="477.3" cy="533.2" r="0.5" fill="#7a88d8" opacity="0.55"/>
<circle cx="479.3" cy="534.6" r="0.5" fill="#7a88d8" opacity="0.55"/>
<circle cx="470.0" cy="533.4" r="0.5" fill="#7a88d8" opacity="0.55"/>
<circle cx="478.2" cy="541.2" r="0.5" fill="#7a88d8" opacity="0.55"/>
<circle cx="479.1" cy="533.8" r="0.5" fill="#7a88d8" opacity="0.55"/>
<circle cx="478.1" cy="538.1" r="0.5" fill="#7a88d8" opacity="0.55"/>
<circle cx="486.1" cy="534.8" r="0.5" fill="#7a88d8" opacity="0.55"/>
<circle cx="482.8" cy="536.5" r="0.5" fill="#7a88d8" opacity="0.55"/>
<circle cx="495.2" cy="533.7" r="0.5" fill="#7a88d8" opacity="0.55"/>
<circle cx="492.1" cy="531.6" r="0.5" fill="#7a88d8" opacity="0.55"/>
<circle cx="482.4" cy="537.0" r="0.5" fill="#7a88d8" opacity="0.55"/>
<circle cx="476.8" cy="528.4" r="0.5" fill="#7a88d8" opacity="0.55"/>
<circle cx="467.6" cy="538.1" r="0.5" fill="#7a88d8" opacity="0.55"/>
<circle cx="483.6" cy="535.5" r="0.5" fill="#7a88d8" opacity="0.55"/>
<circle cx="485.8" cy="532.9" r="0.5" fill="#7a88d8" opacity="0.55"/>
<circle cx="493.2" cy="538.6" r="0.5" fill="#7a88d8" opacity="0.55"/>
<circle cx="480.9" cy="533.4" r="0.5" fill="#7a88d8" opacity="0.55"/>
<circle cx="471.3" cy="535.2" r="0.5" fill="#7a88d8" opacity="0.55"/>
<circle cx="471.6" cy="539.3" r="0.5" fill="#7a88d8" opacity="0.55"/>
<circle cx="479.9" cy="535.0" r="0.5" fill="#7a88d8" opacity="0.55"/>
<circle cx="470.8" cy="536.1" r="0.5" fill="#7a88d8" opacity="0.55"/>
<circle cx="472.0" cy="538.9" r="0.5" fill="#7a88d8" opacity="0.55"/>
<circle cx="463.8" cy="536.1" r="0.5" fill="#7a88d8" opacity="0.55"/>
<circle cx="476.6" cy="540.4" r="0.5" fill="#7a88d8" opacity="0.55"/>
<circle cx="484.9" cy="532.3" r="0.5" fill="#7a88d8" opacity="0.55"/>
<circle cx="480.5" cy="535.6" r="0.5" fill="#7a88d8" opacity="0.55"/>
<circle cx="481.8" cy="537.7" r="0.5" fill="#7a88d8" opacity="0.55"/>
<circle cx="479.7" cy="538.9" r="0.5" fill="#7a88d8" opacity="0.55"/>
<circle cx="480.3" cy="536.6" r="0.5" fill="#7a88d8" opacity="0.55"/>
<circle cx="488.2" cy="570.7" r="0.3" fill="#6a8ae0" opacity="0.5"/>
<circle cx="484.2" cy="576.8" r="0.3" fill="#6a8ae0" opacity="0.5"/>
<circle cx="483.6" cy="562.1" r="0.3" fill="#6a8ae0" opacity="0.5"/>
<circle cx="483.6" cy="576.0" r="0.3" fill="#6a8ae0" opacity="0.5"/>
<circle cx="488.9" cy="573.4" r="0.3" fill="#6a8ae0" opacity="0.5"/>
<circle cx="488.9" cy="562.0" r="0.3" fill="#6a8ae0" opacity="0.5"/>
<circle cx="489.1" cy="546.1" r="0.3" fill="#6a8ae0" opacity="0.5"/>
<circle cx="490.0" cy="561.8" r="0.3" fill="#6a8ae0" opacity="0.5"/>
<circle cx="486.8" cy="566.0" r="0.3" fill="#6a8ae0" opacity="0.5"/>
<circle cx="485.6" cy="560.3" r="0.3" fill="#6a8ae0" opacity="0.5"/>
<circle cx="488.3" cy="573.0" r="0.3" fill="#6a8ae0" opacity="0.5"/>
<circle cx="492.1" cy="577.2" r="0.3" fill="#6a8ae0" opacity="0.5"/>
<circle cx="477.1" cy="560.1" r="0.3" fill="#6a8ae0" opacity="0.5"/>
<circle cx="482.2" cy="564.5" r="0.3" fill="#6a8ae0" opacity="0.5"/>
<circle cx="481.3" cy="565.9" r="0.3" fill="#6a8ae0" opacity="0.5"/>
<circle cx="487.4" cy="563.4" r="0.3" fill="#6a8ae0" opacity="0.5"/>
<circle cx="487.4" cy="566.1" r="0.3" fill="#6a8ae0" opacity="0.5"/>
<circle cx="481.4" cy="571.8" r="0.3" fill="#6a8ae0" opacity="0.5"/>
<circle cx="481.4" cy="569.1" r="0.3" fill="#6a8ae0" opacity="0.5"/>
<circle cx="486.7" cy="560.5" r="0.3" fill="#6a8ae0" opacity="0.5"/>
<circle cx="482.9" cy="564.4" r="0.3" fill="#6a8ae0" opacity="0.5"/>
<circle cx="483.9" cy="567.5" r="0.3" fill="#6a8ae0" opacity="0.5"/>
<circle cx="489.6" cy="573.1" r="0.3" fill="#6a8ae0" opacity="0.5"/>
<circle cx="498.2" cy="561.1" r="0.3" fill="#6a8ae0" opacity="0.5"/>
<circle cx="486.0" cy="570.3" r="0.3" fill="#6a8ae0" opacity="0.5"/>
<circle cx="490.5" cy="569.2" r="0.3" fill="#6a8ae0" opacity="0.5"/>
<circle cx="480.4" cy="567.0" r="0.3" fill="#6a8ae0" opacity="0.5"/>
<circle cx="490.2" cy="575.1" r="0.3" fill="#6a8ae0" opacity="0.5"/>
<circle cx="487.5" cy="570.0" r="0.3" fill="#6a8ae0" opacity="0.5"/>
<circle cx="484.2" cy="561.9" r="0.3" fill="#6a8ae0" opacity="0.5"/>
<circle cx="477.6" cy="574.1" r="0.3" fill="#6a8ae0" opacity="0.5"/>
<circle cx="484.2" cy="554.2" r="0.3" fill="#6a8ae0" opacity="0.5"/>
<circle cx="490.3" cy="569.5" r="0.3" fill="#6a8ae0" opacity="0.5"/>
<circle cx="481.5" cy="542.3" r="0.3" fill="#6a8ae0" opacity="0.5"/>
<circle cx="484.1" cy="548.6" r="0.3" fill="#6a8ae0" opacity="0.5"/>
<circle cx="489.7" cy="562.6" r="0.3" fill="#6a8ae0" opacity="0.5"/>
<circle cx="486.9" cy="554.3" r="0.3" fill="#6a8ae0" opacity="0.5"/>
<circle cx="480.4" cy="575.2" r="0.3" fill="#6a8ae0" opacity="0.5"/>
<circle cx="482.9" cy="549.0" r="0.3" fill="#6a8ae0" opacity="0.5"/>
<circle cx="486.9" cy="557.0" r="0.3" fill="#6a8ae0" opacity="0.5"/>
<circle cx="483.0" cy="560.1" r="0.3" fill="#6a8ae0" opacity="0.5"/>
<circle cx="485.2" cy="561.8" r="0.3" fill="#6a8ae0" opacity="0.5"/>
<circle cx="484.3" cy="554.9" r="0.3" fill="#6a8ae0" opacity="0.5"/>
<circle cx="487.2" cy="571.0" r="0.3" fill="#6a8ae0" opacity="0.5"/>
<circle cx="480.0" cy="562.7" r="0.3" fill="#6a8ae0" opacity="0.5"/>
<circle cx="480.9" cy="558.5" r="0.3" fill="#6a8ae0" opacity="0.5"/>
<circle cx="483.6" cy="554.9" r="0.3" fill="#6a8ae0" opacity="0.5"/>
<circle cx="488.4" cy="559.8" r="0.3" fill="#6a8ae0" opacity="0.5"/>
<circle cx="485.6" cy="564.9" r="0.3" fill="#6a8ae0" opacity="0.5"/>
<circle cx="481.5" cy="576.6" r="0.3" fill="#6a8ae0" opacity="0.5"/>
<circle cx="483.8" cy="550.6" r="0.3" fill="#6a8ae0" opacity="0.5"/>
<circle cx="492.3" cy="560.7" r="0.3" fill="#6a8ae0" opacity="0.5"/>
<circle cx="486.0" cy="563.1" r="0.3" fill="#6a8ae0" opacity="0.5"/>
<circle cx="480.5" cy="562.8" r="0.3" fill="#6a8ae0" opacity="0.5"/>
<circle cx="488.4" cy="566.1" r="0.3" fill="#6a8ae0" opacity="0.5"/>
<circle cx="483.7" cy="564.2" r="0.3" fill="#6a8ae0" opacity="0.5"/>
<circle cx="484.4" cy="563.8" r="0.3" fill="#6a8ae0" opacity="0.5"/>
<circle cx="490.2" cy="562.4" r="0.3" fill="#6a8ae0" opacity="0.5"/>
<circle cx="484.0" cy="575.2" r="0.3" fill="#6a8ae0" opacity="0.5"/>
<circle cx="482.2" cy="564.6" r="0.3" fill="#6a8ae0" opacity="0.5"/>
<circle cx="479.3" cy="564.6" r="0.3" fill="#6a8ae0" opacity="0.5"/>
<circle cx="490.7" cy="551.6" r="0.3" fill="#6a8ae0" opacity="0.5"/>
<circle cx="486.5" cy="552.7" r="0.3" fill="#6a8ae0" opacity="0.5"/>
<circle cx="482.0" cy="563.4" r="0.3" fill="#6a8ae0" opacity="0.5"/>
<circle cx="487.1" cy="558.5" r="0.3" fill="#6a8ae0" opacity="0.5"/>
<circle cx="481.3" cy="558.9" r="0.3" fill="#6a8ae0" opacity="0.5"/>
<circle cx="486.7" cy="553.3" r="0.3" fill="#6a8ae0" opacity="0.5"/>
<circle cx="481.4" cy="562.3" r="0.3" fill="#6a8ae0" opacity="0.5"/>
<circle cx="484.1" cy="564.3" r="0.3" fill="#6a8ae0" opacity="0.5"/>
<circle cx="485.4" cy="567.8" r="0.3" fill="#6a8ae0" opacity="0.5"/>
<circle cx="481.1" cy="556.5" r="0.3" fill="#6a8ae0" opacity="0.5"/>
<circle cx="481.3" cy="564.7" r="0.3" fill="#6a8ae0" opacity="0.5"/>
<circle cx="485.6" cy="564.8" r="0.3" fill="#6a8ae0" opacity="0.5"/>
<circle cx="481.5" cy="559.2" r="0.3" fill="#6a8ae0" opacity="0.5"/>
<circle cx="486.8" cy="559.1" r="0.3" fill="#6a8ae0" opacity="0.5"/>
<circle cx="486.2" cy="570.5" r="0.3" fill="#6a8ae0" opacity="0.5"/>
<circle cx="483.3" cy="557.1" r="0.3" fill="#6a8ae0" opacity="0.5"/>
<circle cx="484.4" cy="571.9" r="0.3" fill="#6a8ae0" opacity="0.5"/>
<circle cx="484.5" cy="546.9" r="0.3" fill="#6a8ae0" opacity="0.5"/>
<circle cx="485.5" cy="563.3" r="0.3" fill="#6a8ae0" opacity="0.5"/>
<circle cx="486.4" cy="575.8" r="0.3" fill="#6a8ae0" opacity="0.5"/>
<circle cx="487.2" cy="568.4" r="0.3" fill="#6a8ae0" opacity="0.5"/>
<circle cx="490.5" cy="567.0" r="0.3" fill="#6a8ae0" opacity="0.5"/>
<circle cx="489.3" cy="553.2" r="0.3" fill="#6a8ae0" opacity="0.5"/>
<circle cx="491.2" cy="575.1" r="0.3" fill="#6a8ae0" opacity="0.5"/>
<circle cx="477.5" cy="568.9" r="0.3" fill="#6a8ae0" opacity="0.5"/>
<circle cx="485.3" cy="560.8" r="0.3" fill="#6a8ae0" opacity="0.5"/>
<circle cx="483.8" cy="562.2" r="0.3" fill="#6a8ae0" opacity="0.5"/>
<circle cx="485.0" cy="566.7" r="0.3" fill="#6a8ae0" opacity="0.5"/>
<circle cx="490.9" cy="562.0" r="0.3" fill="#6a8ae0" opacity="0.5"/>
<circle cx="477.6" cy="565.9" r="0.3" fill="#6a8ae0" opacity="0.5"/>
<circle cx="492.2" cy="566.4" r="0.3" fill="#6a8ae0" opacity="0.5"/>
<circle cx="487.0" cy="560.6" r="0.3" fill="#6a8ae0" opacity="0.5"/>
<circle cx="487.4" cy="569.0" r="0.3" fill="#6a8ae0" opacity="0.5"/>
<circle cx="485.4" cy="554.1" r="0.3" fill="#6a8ae0" opacity="0.5"/>
<circle cx="485.8" cy="551.2" r="0.3" fill="#6a8ae0" opacity="0.5"/>
<circle cx="481.3" cy="560.4" r="0.3" fill="#6a8ae0" opacity="0.5"/>
<circle cx="482.8" cy="573.8" r="0.3" fill="#6a8ae0" opacity="0.5"/>
<circle cx="486.3" cy="573.2" r="0.3" fill="#6a8ae0" opacity="0.5"/>
<circle cx="481.2" cy="576.9" r="0.3" fill="#6a8ae0" opacity="0.5"/>
<circle cx="480.5" cy="565.2" r="0.3" fill="#6a8ae0" opacity="0.5"/>
<circle cx="491.9" cy="564.9" r="0.3" fill="#6a8ae0" opacity="0.5"/>
<circle cx="481.7" cy="563.0" r="0.3" fill="#6a8ae0" opacity="0.5"/>
<circle cx="482.8" cy="576.3" r="0.3" fill="#6a8ae0" opacity="0.5"/>
<circle cx="482.2" cy="577.6" r="0.3" fill="#6a8ae0" opacity="0.5"/>
<circle cx="477.8" cy="558.4" r="0.3" fill="#6a8ae0" opacity="0.5"/>
<circle cx="475.5" cy="572.0" r="0.3" fill="#6a8ae0" opacity="0.5"/>
<circle cx="488.4" cy="569.4" r="0.3" fill="#6a8ae0" opacity="0.5"/>
<rect x="489.6" y="549.6" width="12.8" height="29" fill="#6a90e0" opacity="0.35"/>
<rect x="490.3" y="550.3" width="11.4" height="28.2" fill="url(#gBand)"/>
</g>
<line x1="306.90" y1="441.90" x2="306.90" y2="495.80" stroke="#8e949e" stroke-width="0.5"/>
<line x1="284.60" y1="472.30" x2="338.00" y2="472.30" stroke="#8e949e" stroke-width="0.5"/>
<rect x="284.6" y="441.9" width="53.40" height="53.90" fill="none" stroke="#c4c4c4" stroke-width="0.5"/>
<line x1="283.40" y1="483.88" x2="284.60" y2="483.88" stroke="#999" stroke-width="0.35"/>
<text x="283.10" y="485.41" font-size="3.3" text-anchor="end" fill="#5a5a5a">10<tspan font-size="70%" baseline-shift="super">2</tspan></text>
<line x1="283.40" y1="472.02" x2="284.60" y2="472.02" stroke="#999" stroke-width="0.35"/>
<text x="283.10" y="473.56" font-size="3.3" text-anchor="end" fill="#5a5a5a">10<tspan font-size="70%" baseline-shift="super">3</tspan></text>
<line x1="283.40" y1="460.18" x2="284.60" y2="460.18" stroke="#999" stroke-width="0.35"/>
<text x="283.10" y="461.71" font-size="3.3" text-anchor="end" fill="#5a5a5a">10<tspan font-size="70%" baseline-shift="super">4</tspan></text>
<line x1="283.40" y1="448.32" x2="284.60" y2="448.32" stroke="#999" stroke-width="0.35"/>
<text x="283.10" y="449.86" font-size="3.3" text-anchor="end" fill="#5a5a5a">10<tspan font-size="70%" baseline-shift="super">5</tspan></text>
<line x1="296.46" y1="495.80" x2="296.46" y2="497.00" stroke="#999" stroke-width="0.35"/>
<text x="296.46" y="501.24" font-size="3.3" text-anchor="middle" fill="#5a5a5a">10<tspan font-size="70%" baseline-shift="super">2</tspan></text>
<line x1="308.19" y1="495.80" x2="308.19" y2="497.00" stroke="#999" stroke-width="0.35"/>
<text x="308.19" y="501.24" font-size="3.3" text-anchor="middle" fill="#5a5a5a">10<tspan font-size="70%" baseline-shift="super">3</tspan></text>
<line x1="319.91" y1="495.80" x2="319.91" y2="497.00" stroke="#999" stroke-width="0.35"/>
<text x="319.91" y="501.24" font-size="3.3" text-anchor="middle" fill="#5a5a5a">10<tspan font-size="70%" baseline-shift="super">4</tspan></text>
<line x1="331.64" y1="495.80" x2="331.64" y2="497.00" stroke="#999" stroke-width="0.35"/>
<text x="331.64" y="501.24" font-size="3.3" text-anchor="middle" fill="#5a5a5a">10<tspan font-size="70%" baseline-shift="super">5</tspan></text>
<text x="286.10" y="445.10" font-size="2.9" fill="#6a6a6a">Q1</text>
<text x="286.10" y="448.10" font-size="2.9" fill="#6a6a6a">1.4</text>
<text x="336.50" y="445.10" font-size="2.9" text-anchor="end" fill="#6a6a6a">Q2</text>
<text x="336.50" y="448.10" font-size="2.9" text-anchor="end" fill="#6a6a6a">95.1</text>
<text x="286.10" y="491.30" font-size="2.9" fill="#6a6a6a">Q4</text>
<text x="286.10" y="494.30" font-size="2.9" fill="#6a6a6a">0</text>
<text x="336.50" y="491.30" font-size="2.9" text-anchor="end" fill="#6a6a6a">Q3</text>
<text x="336.50" y="494.30" font-size="2.9" text-anchor="end" fill="#6a6a6a">1.53</text>
<line x1="390.60" y1="444.60" x2="390.60" y2="495.00" stroke="#8e949e" stroke-width="0.5"/>
<line x1="377.70" y1="471.90" x2="429.60" y2="471.90" stroke="#8e949e" stroke-width="0.5"/>
<rect x="377.7" y="444.6" width="51.90" height="50.40" fill="none" stroke="#c4c4c4" stroke-width="0.5"/>
<line x1="376.50" y1="483.51" x2="377.70" y2="483.51" stroke="#999" stroke-width="0.35"/>
<text x="376.20" y="485.05" font-size="3.3" text-anchor="end" fill="#5a5a5a">10<tspan font-size="70%" baseline-shift="super">2</tspan></text>
<line x1="376.50" y1="472.54" x2="377.70" y2="472.54" stroke="#999" stroke-width="0.35"/>
<text x="376.20" y="474.07" font-size="3.3" text-anchor="end" fill="#5a5a5a">10<tspan font-size="70%" baseline-shift="super">3</tspan></text>
<line x1="376.50" y1="461.56" x2="377.70" y2="461.56" stroke="#999" stroke-width="0.35"/>
<text x="376.20" y="463.10" font-size="3.3" text-anchor="end" fill="#5a5a5a">10<tspan font-size="70%" baseline-shift="super">4</tspan></text>
<line x1="376.50" y1="450.59" x2="377.70" y2="450.59" stroke="#999" stroke-width="0.35"/>
<text x="376.20" y="452.12" font-size="3.3" text-anchor="end" fill="#5a5a5a">10<tspan font-size="70%" baseline-shift="super">5</tspan></text>
<line x1="389.38" y1="495.00" x2="389.38" y2="496.20" stroke="#999" stroke-width="0.35"/>
<text x="389.38" y="500.44" font-size="3.3" text-anchor="middle" fill="#5a5a5a">10<tspan font-size="70%" baseline-shift="super">2</tspan></text>
<line x1="400.73" y1="495.00" x2="400.73" y2="496.20" stroke="#999" stroke-width="0.35"/>
<text x="400.73" y="500.44" font-size="3.3" text-anchor="middle" fill="#5a5a5a">10<tspan font-size="70%" baseline-shift="super">3</tspan></text>
<line x1="412.07" y1="495.00" x2="412.07" y2="496.20" stroke="#999" stroke-width="0.35"/>
<text x="412.07" y="500.44" font-size="3.3" text-anchor="middle" fill="#5a5a5a">10<tspan font-size="70%" baseline-shift="super">4</tspan></text>
<line x1="423.43" y1="495.00" x2="423.43" y2="496.20" stroke="#999" stroke-width="0.35"/>
<text x="423.43" y="500.44" font-size="3.3" text-anchor="middle" fill="#5a5a5a">10<tspan font-size="70%" baseline-shift="super">5</tspan></text>
<text x="379.20" y="447.80" font-size="2.9" fill="#6a6a6a">Q1</text>
<text x="379.20" y="450.80" font-size="2.9" fill="#6a6a6a">1.6</text>
<text x="428.10" y="447.80" font-size="2.9" text-anchor="end" fill="#6a6a6a">Q2</text>
<text x="428.10" y="450.80" font-size="2.9" text-anchor="end" fill="#6a6a6a">97.3</text>
<text x="379.20" y="490.50" font-size="2.9" fill="#6a6a6a">Q4</text>
<text x="379.20" y="493.50" font-size="2.9" fill="#6a6a6a">0</text>
<text x="428.10" y="490.50" font-size="2.9" text-anchor="end" fill="#6a6a6a">Q3</text>
<text x="428.10" y="493.50" font-size="2.9" text-anchor="end" fill="#6a6a6a">1.1</text>
<line x1="487.30" y1="444.00" x2="487.30" y2="498.80" stroke="#8e949e" stroke-width="0.5"/>
<line x1="458.50" y1="468.50" x2="513.80" y2="468.50" stroke="#8e949e" stroke-width="0.5"/>
<rect x="458.5" y="444.0" width="55.30" height="54.80" fill="none" stroke="#c4c4c4" stroke-width="0.5"/>
<line x1="457.30" y1="486.76" x2="458.50" y2="486.76" stroke="#999" stroke-width="0.35"/>
<text x="457.00" y="488.30" font-size="3.3" text-anchor="end" fill="#5a5a5a">10<tspan font-size="70%" baseline-shift="super">2</tspan></text>
<line x1="457.30" y1="474.69" x2="458.50" y2="474.69" stroke="#999" stroke-width="0.35"/>
<text x="457.00" y="476.22" font-size="3.3" text-anchor="end" fill="#5a5a5a">10<tspan font-size="70%" baseline-shift="super">3</tspan></text>
<line x1="457.30" y1="462.61" x2="458.50" y2="462.61" stroke="#999" stroke-width="0.35"/>
<text x="457.00" y="464.15" font-size="3.3" text-anchor="end" fill="#5a5a5a">10<tspan font-size="70%" baseline-shift="super">4</tspan></text>
<line x1="457.30" y1="450.54" x2="458.50" y2="450.54" stroke="#999" stroke-width="0.35"/>
<text x="457.00" y="452.07" font-size="3.3" text-anchor="end" fill="#5a5a5a">10<tspan font-size="70%" baseline-shift="super">5</tspan></text>
<line x1="470.60" y1="498.80" x2="470.60" y2="500.00" stroke="#999" stroke-width="0.35"/>
<text x="470.60" y="504.24" font-size="3.3" text-anchor="middle" fill="#5a5a5a">10<tspan font-size="70%" baseline-shift="super">2</tspan></text>
<line x1="482.80" y1="498.80" x2="482.80" y2="500.00" stroke="#999" stroke-width="0.35"/>
<text x="482.80" y="504.24" font-size="3.3" text-anchor="middle" fill="#5a5a5a">10<tspan font-size="70%" baseline-shift="super">3</tspan></text>
<line x1="495.00" y1="498.80" x2="495.00" y2="500.00" stroke="#999" stroke-width="0.35"/>
<text x="495.00" y="504.24" font-size="3.3" text-anchor="middle" fill="#5a5a5a">10<tspan font-size="70%" baseline-shift="super">4</tspan></text>
<line x1="507.20" y1="498.80" x2="507.20" y2="500.00" stroke="#999" stroke-width="0.35"/>
<text x="507.20" y="504.24" font-size="3.3" text-anchor="middle" fill="#5a5a5a">10<tspan font-size="70%" baseline-shift="super">5</tspan></text>
<text x="460.00" y="447.20" font-size="2.9" fill="#6a6a6a">Q1</text>
<text x="460.00" y="450.20" font-size="2.9" fill="#6a6a6a">0</text>
<text x="512.30" y="447.20" font-size="2.9" text-anchor="end" fill="#6a6a6a">Q2</text>
<text x="512.30" y="450.20" font-size="2.9" text-anchor="end" fill="#6a6a6a">0.12</text>
<text x="460.00" y="494.30" font-size="2.9" fill="#6a6a6a">Q4</text>
<text x="460.00" y="497.30" font-size="2.9" fill="#6a6a6a">0.18</text>
<text x="512.30" y="494.30" font-size="2.9" text-anchor="end" fill="#6a6a6a">Q3</text>
<text x="512.30" y="497.30" font-size="2.9" text-anchor="end" fill="#6a6a6a">99.4</text>
<line x1="304.40" y1="525.80" x2="304.40" y2="578.30" stroke="#8e949e" stroke-width="0.5"/>
<line x1="282.70" y1="554.20" x2="334.60" y2="554.20" stroke="#8e949e" stroke-width="0.5"/>
<rect x="282.7" y="525.8" width="51.90" height="52.50" fill="none" stroke="#c4c4c4" stroke-width="0.5"/>
<line x1="281.50" y1="566.55" x2="282.70" y2="566.55" stroke="#999" stroke-width="0.35"/>
<text x="281.20" y="568.09" font-size="3.3" text-anchor="end" fill="#5a5a5a">10<tspan font-size="70%" baseline-shift="super">2</tspan></text>
<line x1="281.50" y1="555.05" x2="282.70" y2="555.05" stroke="#999" stroke-width="0.35"/>
<text x="281.20" y="556.59" font-size="3.3" text-anchor="end" fill="#5a5a5a">10<tspan font-size="70%" baseline-shift="super">3</tspan></text>
<line x1="281.50" y1="543.55" x2="282.70" y2="543.55" stroke="#999" stroke-width="0.35"/>
<text x="281.20" y="545.09" font-size="3.3" text-anchor="end" fill="#5a5a5a">10<tspan font-size="70%" baseline-shift="super">4</tspan></text>
<line x1="281.50" y1="532.05" x2="282.70" y2="532.05" stroke="#999" stroke-width="0.35"/>
<text x="281.20" y="533.59" font-size="3.3" text-anchor="end" fill="#5a5a5a">10<tspan font-size="70%" baseline-shift="super">5</tspan></text>
<line x1="294.38" y1="578.30" x2="294.38" y2="579.50" stroke="#999" stroke-width="0.35"/>
<text x="294.38" y="583.74" font-size="3.3" text-anchor="middle" fill="#5a5a5a">10<tspan font-size="70%" baseline-shift="super">2</tspan></text>
<line x1="305.73" y1="578.30" x2="305.73" y2="579.50" stroke="#999" stroke-width="0.35"/>
<text x="305.73" y="583.74" font-size="3.3" text-anchor="middle" fill="#5a5a5a">10<tspan font-size="70%" baseline-shift="super">3</tspan></text>
<line x1="317.07" y1="578.30" x2="317.07" y2="579.50" stroke="#999" stroke-width="0.35"/>
<text x="317.07" y="583.74" font-size="3.3" text-anchor="middle" fill="#5a5a5a">10<tspan font-size="70%" baseline-shift="super">4</tspan></text>
<line x1="328.43" y1="578.30" x2="328.43" y2="579.50" stroke="#999" stroke-width="0.35"/>
<text x="328.43" y="583.74" font-size="3.3" text-anchor="middle" fill="#5a5a5a">10<tspan font-size="70%" baseline-shift="super">5</tspan></text>
<text x="284.20" y="529.00" font-size="2.9" fill="#6a6a6a">Q1</text>
<text x="284.20" y="532.00" font-size="2.9" fill="#6a6a6a">4.3</text>
<text x="333.10" y="529.00" font-size="2.9" text-anchor="end" fill="#6a6a6a">Q2</text>
<text x="333.10" y="532.00" font-size="2.9" text-anchor="end" fill="#6a6a6a">21.8</text>
<text x="284.20" y="573.80" font-size="2.9" fill="#6a6a6a">Q4</text>
<text x="284.20" y="576.80" font-size="2.9" fill="#6a6a6a"></text>
<text x="333.10" y="573.80" font-size="2.9" text-anchor="end" fill="#6a6a6a">Q3</text>
<text x="333.10" y="576.80" font-size="2.9" text-anchor="end" fill="#6a6a6a">2.51</text>
<line x1="390.60" y1="527.30" x2="390.60" y2="580.20" stroke="#8e949e" stroke-width="0.5"/>
<line x1="375.20" y1="556.20" x2="428.00" y2="556.20" stroke="#8e949e" stroke-width="0.5"/>
<rect x="375.2" y="527.3" width="52.80" height="52.90" fill="none" stroke="#c4c4c4" stroke-width="0.5"/>
<line x1="374.00" y1="568.40" x2="375.20" y2="568.40" stroke="#999" stroke-width="0.35"/>
<text x="373.70" y="569.94" font-size="3.3" text-anchor="end" fill="#5a5a5a">10<tspan font-size="70%" baseline-shift="super">2</tspan></text>
<line x1="374.00" y1="556.80" x2="375.20" y2="556.80" stroke="#999" stroke-width="0.35"/>
<text x="373.70" y="558.34" font-size="3.3" text-anchor="end" fill="#5a5a5a">10<tspan font-size="70%" baseline-shift="super">3</tspan></text>
<line x1="374.00" y1="545.20" x2="375.20" y2="545.20" stroke="#999" stroke-width="0.35"/>
<text x="373.70" y="546.74" font-size="3.3" text-anchor="end" fill="#5a5a5a">10<tspan font-size="70%" baseline-shift="super">4</tspan></text>
<line x1="374.00" y1="533.60" x2="375.20" y2="533.60" stroke="#999" stroke-width="0.35"/>
<text x="373.70" y="535.14" font-size="3.3" text-anchor="end" fill="#5a5a5a">10<tspan font-size="70%" baseline-shift="super">5</tspan></text>
<line x1="386.99" y1="580.20" x2="386.99" y2="581.40" stroke="#999" stroke-width="0.35"/>
<text x="386.99" y="585.64" font-size="3.3" text-anchor="middle" fill="#5a5a5a">10<tspan font-size="70%" baseline-shift="super">2</tspan></text>
<line x1="398.56" y1="580.20" x2="398.56" y2="581.40" stroke="#999" stroke-width="0.35"/>
<text x="398.56" y="585.64" font-size="3.3" text-anchor="middle" fill="#5a5a5a">10<tspan font-size="70%" baseline-shift="super">3</tspan></text>
<line x1="410.14" y1="580.20" x2="410.14" y2="581.40" stroke="#999" stroke-width="0.35"/>
<text x="410.14" y="585.64" font-size="3.3" text-anchor="middle" fill="#5a5a5a">10<tspan font-size="70%" baseline-shift="super">4</tspan></text>
<line x1="421.71" y1="580.20" x2="421.71" y2="581.40" stroke="#999" stroke-width="0.35"/>
<text x="421.71" y="585.64" font-size="3.3" text-anchor="middle" fill="#5a5a5a">10<tspan font-size="70%" baseline-shift="super">5</tspan></text>
<text x="376.70" y="530.50" font-size="2.9" fill="#6a6a6a">Q1</text>
<text x="376.70" y="533.50" font-size="2.9" fill="#6a6a6a">96.0</text>
<text x="426.50" y="530.50" font-size="2.9" text-anchor="end" fill="#6a6a6a">Q2</text>
<text x="426.50" y="533.50" font-size="2.9" text-anchor="end" fill="#6a6a6a">1.5</text>
<text x="376.70" y="575.70" font-size="2.9" fill="#6a6a6a">Q4</text>
<text x="376.70" y="578.70" font-size="2.9" fill="#6a6a6a">1.4</text>
<text x="426.50" y="575.70" font-size="2.9" text-anchor="end" fill="#6a6a6a">Q3</text>
<text x="426.50" y="578.70" font-size="2.9" text-anchor="end" fill="#6a6a6a">1.1</text>
<line x1="489.60" y1="526.90" x2="489.60" y2="578.30" stroke="#8e949e" stroke-width="0.5"/>
<line x1="462.70" y1="549.00" x2="513.80" y2="549.00" stroke="#8e949e" stroke-width="0.5"/>
<rect x="462.7" y="526.9" width="51.10" height="51.40" fill="none" stroke="#c4c4c4" stroke-width="0.5"/>
<line x1="461.50" y1="566.69" x2="462.70" y2="566.69" stroke="#999" stroke-width="0.35"/>
<text x="461.20" y="568.22" font-size="3.3" text-anchor="end" fill="#5a5a5a">10<tspan font-size="70%" baseline-shift="super">2</tspan></text>
<line x1="461.50" y1="555.46" x2="462.70" y2="555.46" stroke="#999" stroke-width="0.35"/>
<text x="461.20" y="557.00" font-size="3.3" text-anchor="end" fill="#5a5a5a">10<tspan font-size="70%" baseline-shift="super">3</tspan></text>
<line x1="461.50" y1="544.24" x2="462.70" y2="544.24" stroke="#999" stroke-width="0.35"/>
<text x="461.20" y="545.77" font-size="3.3" text-anchor="end" fill="#5a5a5a">10<tspan font-size="70%" baseline-shift="super">4</tspan></text>
<line x1="461.50" y1="533.01" x2="462.70" y2="533.01" stroke="#999" stroke-width="0.35"/>
<text x="461.20" y="534.55" font-size="3.3" text-anchor="end" fill="#5a5a5a">10<tspan font-size="70%" baseline-shift="super">5</tspan></text>
<line x1="474.27" y1="578.30" x2="474.27" y2="579.50" stroke="#999" stroke-width="0.35"/>
<text x="474.27" y="583.74" font-size="3.3" text-anchor="middle" fill="#5a5a5a">10<tspan font-size="70%" baseline-shift="super">2</tspan></text>
<line x1="485.42" y1="578.30" x2="485.42" y2="579.50" stroke="#999" stroke-width="0.35"/>
<text x="485.42" y="583.74" font-size="3.3" text-anchor="middle" fill="#5a5a5a">10<tspan font-size="70%" baseline-shift="super">3</tspan></text>
<line x1="496.57" y1="578.30" x2="496.57" y2="579.50" stroke="#999" stroke-width="0.35"/>
<text x="496.57" y="583.74" font-size="3.3" text-anchor="middle" fill="#5a5a5a">10<tspan font-size="70%" baseline-shift="super">4</tspan></text>
<line x1="507.72" y1="578.30" x2="507.72" y2="579.50" stroke="#999" stroke-width="0.35"/>
<text x="507.72" y="583.74" font-size="3.3" text-anchor="middle" fill="#5a5a5a">10<tspan font-size="70%" baseline-shift="super">5</tspan></text>
<text x="464.20" y="530.10" font-size="2.9" fill="#6a6a6a">Q1</text>
<text x="464.20" y="533.10" font-size="2.9" fill="#6a6a6a">1.14</text>
<text x="512.30" y="530.10" font-size="2.9" text-anchor="end" fill="#6a6a6a">Q2</text>
<text x="512.30" y="533.10" font-size="2.9" text-anchor="end" fill="#6a6a6a">1.43</text>
<text x="464.20" y="573.80" font-size="2.9" fill="#6a6a6a">Q4</text>
<text x="464.20" y="576.80" font-size="2.9" fill="#6a6a6a">4.45</text>
<text x="512.30" y="573.80" font-size="2.9" text-anchor="end" fill="#6a6a6a">Q3</text>
<text x="512.30" y="576.80" font-size="2.9" text-anchor="end" fill="#6a6a6a">91.4</text>
<rect x="306.9" y="441.9" width="30.8" height="30.4" fill="none" stroke="#222" stroke-width="1.0"/>
<rect x="304.4" y="554.2" width="29.8" height="24.1" fill="none" stroke="#222" stroke-width="1.0"/>
<line x1="337.70" y1="457.50" x2="359.70" y2="457.50" stroke="#333" stroke-width="0.75"/>
<path d="M359.00,456.40 L361.20,457.50 L359.00,458.60Z" fill="#333"/>
<line x1="334.80" y1="562.90" x2="349.70" y2="562.90" stroke="#333" stroke-width="0.75"/>
<path d="M349.00,561.80 L351.20,562.90 L349.00,564.00Z" fill="#333"/>
<line x1="269.40" y1="505.40" x2="269.40" y2="474.20" stroke="#222" stroke-width="0.75"/>
<line x1="269.40" y1="505.40" x2="293.50" y2="505.40" stroke="#222" stroke-width="0.75"/>
<path d="M268.30,474.70 L269.40,472.70 L270.50,474.70Z" fill="#222"/>
<path d="M293.00,504.30 L295.00,505.40 L293.00,506.50Z" fill="#222"/>
<line x1="366.40" y1="506.60" x2="366.40" y2="475.70" stroke="#222" stroke-width="0.75"/>
<line x1="366.40" y1="506.60" x2="390.20" y2="506.60" stroke="#222" stroke-width="0.75"/>
<path d="M365.30,476.20 L366.40,474.20 L367.50,476.20Z" fill="#222"/>
<path d="M389.70,505.50 L391.70,506.60 L389.70,507.70Z" fill="#222"/>
<line x1="448.40" y1="507.30" x2="448.40" y2="476.30" stroke="#222" stroke-width="0.75"/>
<line x1="448.40" y1="507.30" x2="471.60" y2="507.30" stroke="#222" stroke-width="0.75"/>
<path d="M447.30,476.80 L448.40,474.80 L449.50,476.80Z" fill="#222"/>
<path d="M471.10,506.20 L473.10,507.30 L471.10,508.40Z" fill="#222"/>
<line x1="270.30" y1="589.50" x2="270.30" y2="558.50" stroke="#222" stroke-width="0.75"/>
<line x1="270.30" y1="589.50" x2="293.90" y2="589.50" stroke="#222" stroke-width="0.75"/>
<path d="M269.20,559.00 L270.30,557.00 L271.40,559.00Z" fill="#222"/>
<path d="M293.40,588.40 L295.40,589.50 L293.40,590.60Z" fill="#222"/>
<line x1="366.30" y1="589.50" x2="366.30" y2="558.70" stroke="#222" stroke-width="0.75"/>
<line x1="366.30" y1="589.50" x2="389.90" y2="589.50" stroke="#222" stroke-width="0.75"/>
<path d="M365.20,559.20 L366.30,557.20 L367.40,559.20Z" fill="#222"/>
<path d="M389.40,588.40 L391.40,589.50 L389.40,590.60Z" fill="#222"/>
<line x1="449.90" y1="589.50" x2="449.90" y2="556.10" stroke="#222" stroke-width="0.75"/>
<line x1="449.90" y1="589.50" x2="476.50" y2="589.50" stroke="#222" stroke-width="0.75"/>
<path d="M448.80,556.60 L449.90,554.60 L451.00,556.60Z" fill="#222"/>
<path d="M476.00,588.40 L478.00,589.50 L476.00,590.60Z" fill="#222"/>
<text x="266.00" y="492.30" font-size="5.6" text-anchor="middle" fill="#333" stroke="#333" stroke-width="0.22" textLength="27.00" lengthAdjust="spacingAndGlyphs" transform="rotate(-90 266.00 492.30)">CD45.2 APC</text>
<text x="361.80" y="489.70" font-size="5.6" text-anchor="middle" fill="#333" stroke="#333" stroke-width="0.22" textLength="32.40" lengthAdjust="spacingAndGlyphs" transform="rotate(-90 361.80 489.70)">CD19-APC-Cy7</text>
<text x="443.30" y="494.05" font-size="5.6" text-anchor="middle" fill="#333" stroke="#333" stroke-width="0.22" textLength="25.50" lengthAdjust="spacingAndGlyphs" transform="rotate(-90 443.30 494.05)">Lambda-PE</text>
<text x="266.00" y="575.50" font-size="5.6" text-anchor="middle" fill="#333" stroke="#333" stroke-width="0.22" textLength="26.60" lengthAdjust="spacingAndGlyphs" transform="rotate(-90 266.00 575.50)">CD45.2 APC</text>
<text x="361.80" y="573.55" font-size="5.6" text-anchor="middle" fill="#333" stroke="#333" stroke-width="0.22" textLength="30.50" lengthAdjust="spacingAndGlyphs" transform="rotate(-90 361.80 573.55)">CD19-APC-Cy7</text>
<text x="445.40" y="576.80" font-size="5.6" text-anchor="middle" fill="#333" stroke="#333" stroke-width="0.22" textLength="25.80" lengthAdjust="spacingAndGlyphs" transform="rotate(-90 445.40 576.80)">Lambda PE</text>
<text x="269.80" y="515.06" font-size="6.0" fill="#333" stroke="#333" stroke-width="0.22" textLength="32.70" lengthAdjust="spacingAndGlyphs">CD19-APC-Cy7</text>
<text x="366.80" y="514.36" font-size="6.0" fill="#333" stroke="#333" stroke-width="0.22" textLength="31.80" lengthAdjust="spacingAndGlyphs">CD5-Alexa700</text>
<text x="448.50" y="514.36" font-size="6.0" fill="#333" stroke="#333" stroke-width="0.22" textLength="25.00" lengthAdjust="spacingAndGlyphs">Kappa-FITC</text>
<text x="270.80" y="597.76" font-size="6.0" fill="#333" stroke="#333" stroke-width="0.22" textLength="32.20" lengthAdjust="spacingAndGlyphs">CD19-APC-Cy7</text>
<text x="366.80" y="597.96" font-size="6.0" fill="#333" stroke="#333" stroke-width="0.22" textLength="31.80" lengthAdjust="spacingAndGlyphs">CD5-Alexa700</text>
<text x="449.90" y="598.36" font-size="6.0" fill="#333" stroke="#333" stroke-width="0.22" textLength="24.90" lengthAdjust="spacingAndGlyphs">Kappa-FITC</text>
<text x="499.80" y="478.04" font-size="4.2" fill="#444" textLength="10.60" lengthAdjust="spacingAndGlyphs">99.4%</text>
<text x="464.60" y="548.11" font-size="4.4" fill="#444" textLength="12.10" lengthAdjust="spacingAndGlyphs">3.14%</text>
<text x="466.00" y="569.91" font-size="4.4" fill="#444" textLength="11.70" lengthAdjust="spacingAndGlyphs">4.45%</text>
<text x="502.70" y="569.91" font-size="4.4" fill="#444" textLength="10.90" lengthAdjust="spacingAndGlyphs">91.4%</text>
<text x="9.60" y="531.50" font-size="11.0" fill="#111" stroke="#111" stroke-width="0.28" font-weight="bold">I</text>
<line x1="51.30" y1="522.90" x2="51.30" y2="616.30" stroke="#141414" stroke-width="0.9"/>
<line x1="50.90" y1="615.90" x2="193.50" y2="615.90" stroke="#141414" stroke-width="0.9"/>
<line x1="48.30" y1="615.90" x2="51.30" y2="615.90" stroke="#141414" stroke-width="0.8"/>
<text x="44.70" y="618.47" font-size="6.3" text-anchor="end" fill="#2e2e2e" stroke="#2e2e2e" stroke-width="0.22" textLength="3.15" lengthAdjust="spacingAndGlyphs">0</text>
<line x1="48.30" y1="573.60" x2="51.30" y2="573.60" stroke="#141414" stroke-width="0.8"/>
<text x="44.70" y="576.17" font-size="6.3" text-anchor="end" fill="#2e2e2e" stroke="#2e2e2e" stroke-width="0.22" textLength="6.30" lengthAdjust="spacingAndGlyphs">50</text>
<line x1="48.30" y1="531.30" x2="51.30" y2="531.30" stroke="#141414" stroke-width="0.8"/>
<text x="44.70" y="533.87" font-size="6.3" text-anchor="end" fill="#2e2e2e" stroke="#2e2e2e" stroke-width="0.22" textLength="9.45" lengthAdjust="spacingAndGlyphs">100</text>
<line x1="51.30" y1="615.90" x2="51.30" y2="618.40" stroke="#141414" stroke-width="0.8"/>
<text x="51.30" y="627.97" font-size="6.3" text-anchor="middle" fill="#2e2e2e" stroke="#2e2e2e" stroke-width="0.22" textLength="3.15" lengthAdjust="spacingAndGlyphs">0</text>
<line x1="66.78" y1="615.90" x2="66.78" y2="618.40" stroke="#141414" stroke-width="0.8"/>
<text x="66.78" y="627.97" font-size="6.3" text-anchor="middle" fill="#2e2e2e" stroke="#2e2e2e" stroke-width="0.22" textLength="3.15" lengthAdjust="spacingAndGlyphs">2</text>
<line x1="82.26" y1="615.90" x2="82.26" y2="618.40" stroke="#141414" stroke-width="0.8"/>
<text x="82.26" y="627.97" font-size="6.3" text-anchor="middle" fill="#2e2e2e" stroke="#2e2e2e" stroke-width="0.22" textLength="3.15" lengthAdjust="spacingAndGlyphs">4</text>
<line x1="97.74" y1="615.90" x2="97.74" y2="618.40" stroke="#141414" stroke-width="0.8"/>
<text x="97.74" y="627.97" font-size="6.3" text-anchor="middle" fill="#2e2e2e" stroke="#2e2e2e" stroke-width="0.22" textLength="3.15" lengthAdjust="spacingAndGlyphs">6</text>
<line x1="113.22" y1="615.90" x2="113.22" y2="618.40" stroke="#141414" stroke-width="0.8"/>
<text x="113.22" y="627.97" font-size="6.3" text-anchor="middle" fill="#2e2e2e" stroke="#2e2e2e" stroke-width="0.22" textLength="3.15" lengthAdjust="spacingAndGlyphs">8</text>
<line x1="128.70" y1="615.90" x2="128.70" y2="618.40" stroke="#141414" stroke-width="0.8"/>
<text x="128.70" y="627.97" font-size="6.3" text-anchor="middle" fill="#2e2e2e" stroke="#2e2e2e" stroke-width="0.22" textLength="6.30" lengthAdjust="spacingAndGlyphs">10</text>
<line x1="144.18" y1="615.90" x2="144.18" y2="618.40" stroke="#141414" stroke-width="0.8"/>
<text x="144.18" y="627.97" font-size="6.3" text-anchor="middle" fill="#2e2e2e" stroke="#2e2e2e" stroke-width="0.22" textLength="6.30" lengthAdjust="spacingAndGlyphs">12</text>
<line x1="159.66" y1="615.90" x2="159.66" y2="618.40" stroke="#141414" stroke-width="0.8"/>
<text x="159.66" y="627.97" font-size="6.3" text-anchor="middle" fill="#2e2e2e" stroke="#2e2e2e" stroke-width="0.22" textLength="6.30" lengthAdjust="spacingAndGlyphs">14</text>
<line x1="175.14" y1="615.90" x2="175.14" y2="618.40" stroke="#141414" stroke-width="0.8"/>
<text x="175.14" y="627.97" font-size="6.3" text-anchor="middle" fill="#2e2e2e" stroke="#2e2e2e" stroke-width="0.22" textLength="6.30" lengthAdjust="spacingAndGlyphs">16</text>
<line x1="190.62" y1="615.90" x2="190.62" y2="618.40" stroke="#141414" stroke-width="0.8"/>
<text x="190.62" y="627.97" font-size="6.3" text-anchor="middle" fill="#2e2e2e" stroke="#2e2e2e" stroke-width="0.22" textLength="6.30" lengthAdjust="spacingAndGlyphs">18</text>
<text x="122.70" y="639.53" font-size="8.8" text-anchor="middle" fill="#2e2e2e" stroke="#2e2e2e" stroke-width="0.18" textLength="19.80" lengthAdjust="spacingAndGlyphs">Weeks</text>
<text x="29.50" y="569.20" font-size="6.8" text-anchor="middle" fill="#2e2e2e" stroke="#2e2e2e" stroke-width="0.22" textLength="72.60" lengthAdjust="spacingAndGlyphs" transform="rotate(-90 29.50 569.20)">Disease free survival (%)</text>
<path d="M51.3,531.30 H136.7 V559.47 H142.9 V573.60 H166.9 V601.77 H168.8 V615.90" stroke="#583272" stroke-width="1.0" fill="none"/>
<path d="M51.3,531.30 H106.7 V565.14 H108.7 V615.90" stroke="#2a80b0" stroke-width="1.0" fill="none"/>
<path d="M98.1,531.30 V587.73 H108.3 V615.90" stroke="#c8163e" stroke-width="1.1" fill="none"/>
<rect x="96.90" y="543.93" width="3.00" height="3.00" fill="#c8163e"/>
<rect x="98.70" y="586.23" width="3.00" height="3.00" fill="#c8163e"/>
<circle cx="106.9" cy="565.1" r="1.5" fill="#1d5a86"/>
<circle cx="108.6" cy="615.9" r="1.5" fill="#1d5a86"/>
<path d="M136.90,557.85 L138.40,560.58 L135.41,560.58Z" fill="#583272"/>
<path d="M143.30,571.97 L144.80,574.70 L141.81,574.70Z" fill="#583272"/>
<path d="M167.00,600.15 L168.50,602.88 L165.50,602.88Z" fill="#583272"/>
<path d="M168.80,614.27 L170.30,617.00 L167.31,617.00Z" fill="#583272"/>
<text x="172.30" y="579.27" font-size="6.6" fill="#333" stroke="#333" stroke-width="0.22" textLength="48.50" lengthAdjust="spacingAndGlyphs">TCL1 vs A/E BM:</text>
<text x="172.30" y="586.97" font-size="6.6" fill="#333" stroke="#333" stroke-width="0.22" textLength="23.70" lengthAdjust="spacingAndGlyphs"><tspan font-style="italic">P</tspan> = .002</text>
<text x="172.30" y="602.37" font-size="6.6" fill="#333" stroke="#333" stroke-width="0.22" textLength="47.20" lengthAdjust="spacingAndGlyphs">TCL1 vs A/E SP:</text>
<text x="172.30" y="610.07" font-size="6.6" fill="#333" stroke="#333" stroke-width="0.22" textLength="23.20" lengthAdjust="spacingAndGlyphs"><tspan font-style="italic">P</tspan> &lt; .001</text>
<line x1="83.50" y1="649.80" x2="93.50" y2="649.80" stroke="#1d5a86" stroke-width="1.2"/>
<circle cx="88.5" cy="649.8" r="1.8" fill="#1d5a86"/>
<text x="96.00" y="652.47" font-size="6.6" fill="#333" stroke="#333" stroke-width="0.22" textLength="65.90" lengthAdjust="spacingAndGlyphs">Asxl1<tspan font-size="62%" baseline-shift="super">−/−</tspan>Ezh2<tspan font-size="62%" baseline-shift="super">−/−</tspan> CLL, BM</text>
<line x1="83.50" y1="661.70" x2="93.50" y2="661.70" stroke="#c8163e" stroke-width="1.2"/>
<rect x="86.75" y="659.95" width="3.50" height="3.50" fill="#c8163e"/>
<text x="96.00" y="664.37" font-size="6.6" fill="#333" stroke="#333" stroke-width="0.22" textLength="63.50" lengthAdjust="spacingAndGlyphs">Asxl1<tspan font-size="62%" baseline-shift="super">−/−</tspan>Ezh2<tspan font-size="62%" baseline-shift="super">−/−</tspan> CLL, SP</text>
<line x1="83.50" y1="671.90" x2="93.50" y2="671.90" stroke="#583272" stroke-width="1.2"/>
<path d="M88.50,669.71 L90.51,673.39 L86.49,673.39Z" fill="#583272"/>
<text x="96.00" y="674.57" font-size="6.6" fill="#333" stroke="#333" stroke-width="0.22" textLength="15.00" lengthAdjust="spacingAndGlyphs">TCL1</text>
<rect x="0.5" y="0.5" width="519" height="681" fill="none" stroke="#e6e6e6" stroke-width="1"/>
</svg>
</body></html>
